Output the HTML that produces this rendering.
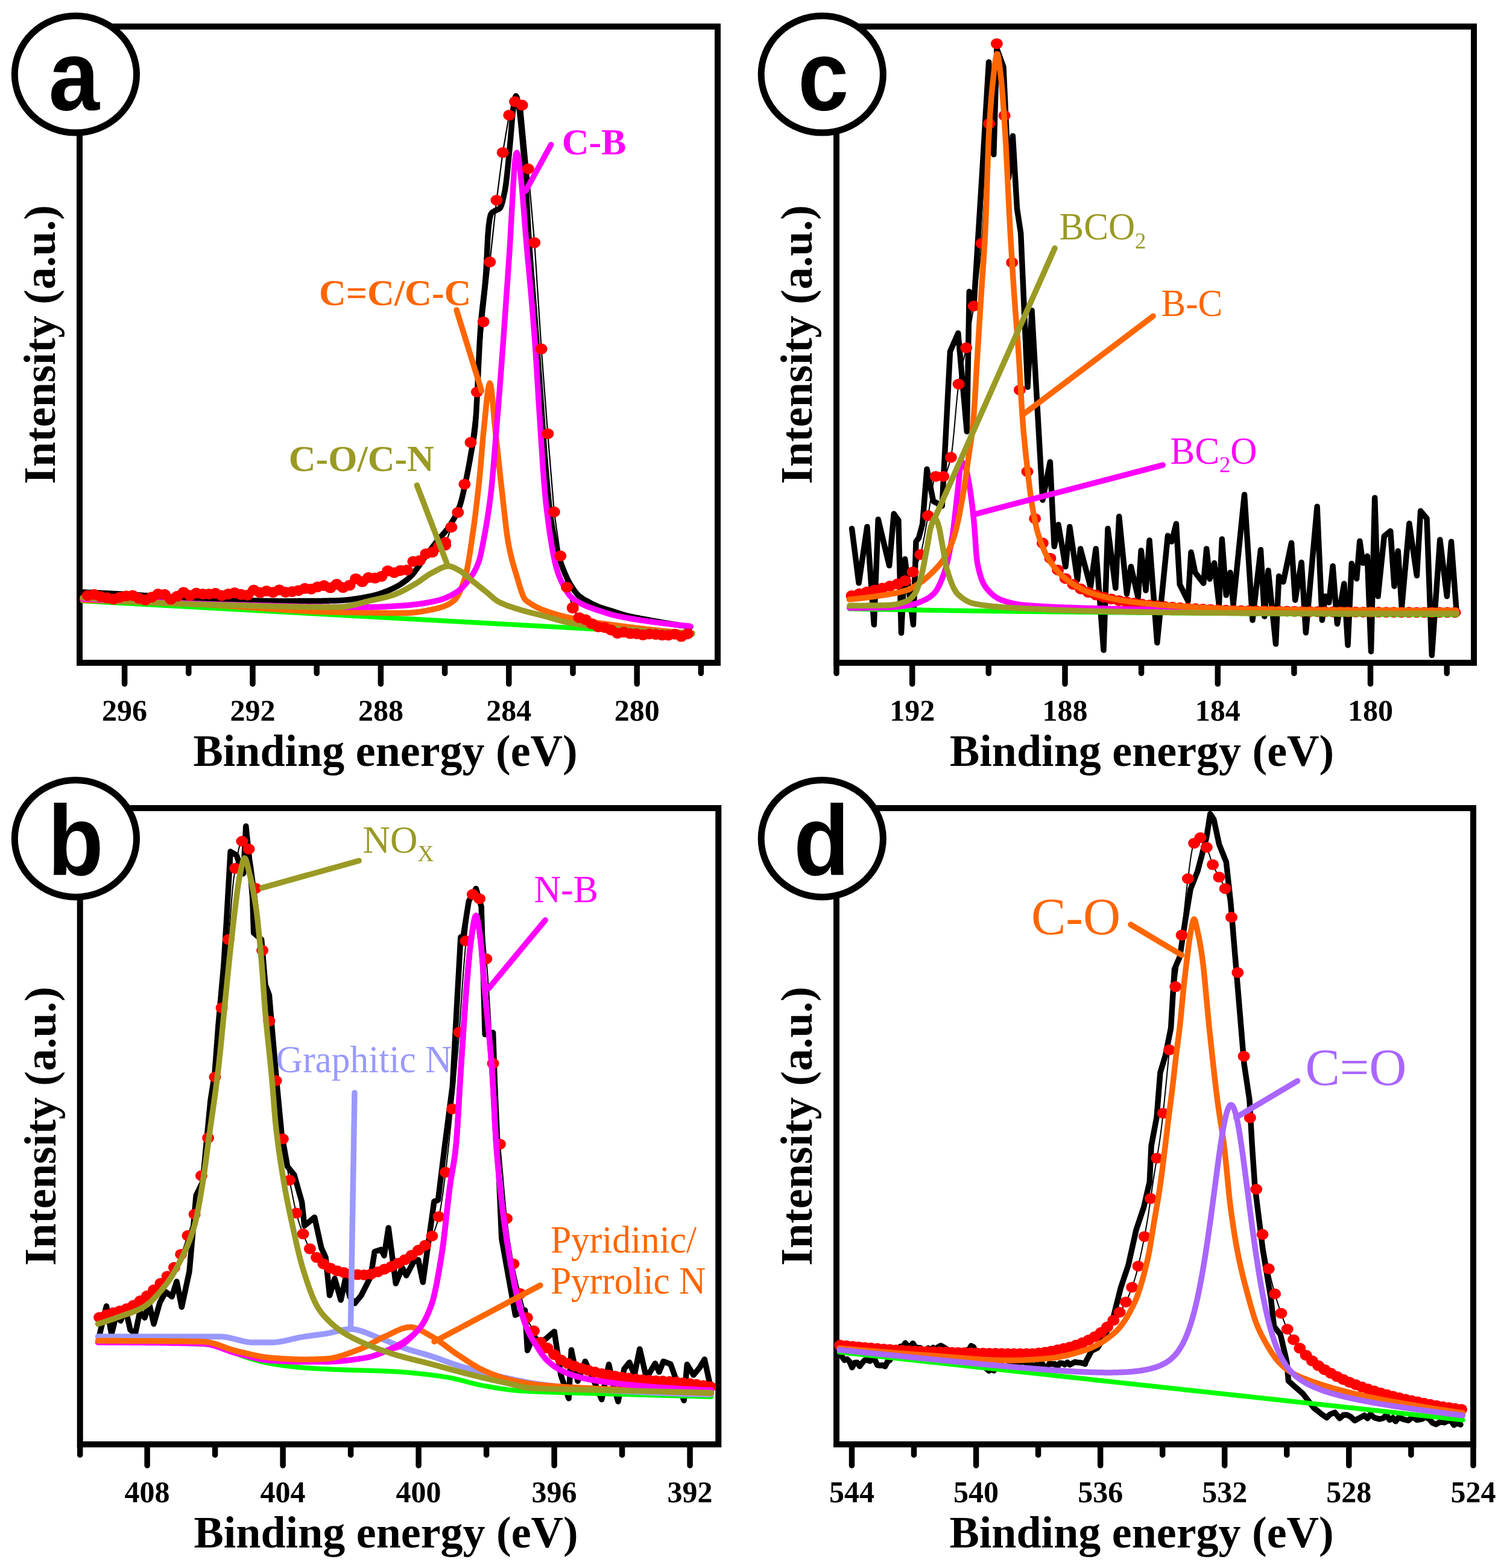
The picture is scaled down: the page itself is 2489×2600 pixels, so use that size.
<!DOCTYPE html>
<html><head><meta charset="utf-8"><title>XPS spectra</title>
<style>html,body{margin:0;padding:0;background:#fff;overflow:hidden;}svg{display:block;}</style>
</head><body>
<svg width="2489" height="2600" viewBox="0 0 2489 2600"><rect x="132" y="44" width="1058.0" height="1055" fill="none" stroke="#000" stroke-width="10"/>
<line x1="206.6" y1="1099" x2="206.6" y2="1134" stroke="#000" stroke-width="9.5" stroke-linecap="round"/>
<text x="206.6" y="1195" font-family="'Liberation Serif','Times New Roman',serif" font-weight="bold" font-size="50" text-anchor="middle">296</text>
<line x1="419.0" y1="1099" x2="419.0" y2="1134" stroke="#000" stroke-width="9.5" stroke-linecap="round"/>
<text x="419.0" y="1195" font-family="'Liberation Serif','Times New Roman',serif" font-weight="bold" font-size="50" text-anchor="middle">292</text>
<line x1="631.4" y1="1099" x2="631.4" y2="1134" stroke="#000" stroke-width="9.5" stroke-linecap="round"/>
<text x="631.4" y="1195" font-family="'Liberation Serif','Times New Roman',serif" font-weight="bold" font-size="50" text-anchor="middle">288</text>
<line x1="843.8" y1="1099" x2="843.8" y2="1134" stroke="#000" stroke-width="9.5" stroke-linecap="round"/>
<text x="843.8" y="1195" font-family="'Liberation Serif','Times New Roman',serif" font-weight="bold" font-size="50" text-anchor="middle">284</text>
<line x1="1056.2" y1="1099" x2="1056.2" y2="1134" stroke="#000" stroke-width="9.5" stroke-linecap="round"/>
<text x="1056.2" y="1195" font-family="'Liberation Serif','Times New Roman',serif" font-weight="bold" font-size="50" text-anchor="middle">280</text>
<line x1="312.8" y1="1099" x2="312.8" y2="1116.5" stroke="#000" stroke-width="9.5" stroke-linecap="round"/>
<line x1="525.2" y1="1099" x2="525.2" y2="1116.5" stroke="#000" stroke-width="9.5" stroke-linecap="round"/>
<line x1="737.6" y1="1099" x2="737.6" y2="1116.5" stroke="#000" stroke-width="9.5" stroke-linecap="round"/>
<line x1="950.0" y1="1099" x2="950.0" y2="1116.5" stroke="#000" stroke-width="9.5" stroke-linecap="round"/>
<line x1="1162.4" y1="1099" x2="1162.4" y2="1116.5" stroke="#000" stroke-width="9.5" stroke-linecap="round"/>
<text x="639.0" y="1270" font-family="'Liberation Serif','Times New Roman',serif" font-weight="bold" font-size="74" text-anchor="middle">Binding energy (eV)</text>
<text transform="translate(91.0,571.5) rotate(-90)" font-family="'Liberation Serif','Times New Roman',serif" font-weight="bold" font-size="74" text-anchor="middle">Intensity (a.u.)</text>
<rect x="1387" y="44" width="1057.0" height="1055" fill="none" stroke="#000" stroke-width="10"/>
<line x1="1512.7" y1="1099" x2="1512.7" y2="1134" stroke="#000" stroke-width="9.5" stroke-linecap="round"/>
<text x="1512.7" y="1195" font-family="'Liberation Serif','Times New Roman',serif" font-weight="bold" font-size="50" text-anchor="middle">192</text>
<line x1="1766.0" y1="1099" x2="1766.0" y2="1134" stroke="#000" stroke-width="9.5" stroke-linecap="round"/>
<text x="1766.0" y="1195" font-family="'Liberation Serif','Times New Roman',serif" font-weight="bold" font-size="50" text-anchor="middle">188</text>
<line x1="2019.3" y1="1099" x2="2019.3" y2="1134" stroke="#000" stroke-width="9.5" stroke-linecap="round"/>
<text x="2019.3" y="1195" font-family="'Liberation Serif','Times New Roman',serif" font-weight="bold" font-size="50" text-anchor="middle">184</text>
<line x1="2272.5" y1="1099" x2="2272.5" y2="1134" stroke="#000" stroke-width="9.5" stroke-linecap="round"/>
<text x="2272.5" y="1195" font-family="'Liberation Serif','Times New Roman',serif" font-weight="bold" font-size="50" text-anchor="middle">180</text>
<line x1="1387.0" y1="1099" x2="1387.0" y2="1116.5" stroke="#000" stroke-width="9.5" stroke-linecap="round"/>
<line x1="1639.3" y1="1099" x2="1639.3" y2="1116.5" stroke="#000" stroke-width="9.5" stroke-linecap="round"/>
<line x1="1892.6" y1="1099" x2="1892.6" y2="1116.5" stroke="#000" stroke-width="9.5" stroke-linecap="round"/>
<line x1="2145.9" y1="1099" x2="2145.9" y2="1116.5" stroke="#000" stroke-width="9.5" stroke-linecap="round"/>
<line x1="2399.2" y1="1099" x2="2399.2" y2="1116.5" stroke="#000" stroke-width="9.5" stroke-linecap="round"/>
<text x="1893.5" y="1270" font-family="'Liberation Serif','Times New Roman',serif" font-weight="bold" font-size="74" text-anchor="middle">Binding energy (eV)</text>
<text transform="translate(1346.0,571.5) rotate(-90)" font-family="'Liberation Serif','Times New Roman',serif" font-weight="bold" font-size="74" text-anchor="middle">Intensity (a.u.)</text>
<rect x="132.7" y="1340" width="1058.6" height="1055" fill="none" stroke="#000" stroke-width="10"/>
<line x1="244.1" y1="2395" x2="244.1" y2="2430" stroke="#000" stroke-width="9.5" stroke-linecap="round"/>
<text x="244.1" y="2491" font-family="'Liberation Serif','Times New Roman',serif" font-weight="bold" font-size="50" text-anchor="middle">408</text>
<line x1="469.1" y1="2395" x2="469.1" y2="2430" stroke="#000" stroke-width="9.5" stroke-linecap="round"/>
<text x="469.1" y="2491" font-family="'Liberation Serif','Times New Roman',serif" font-weight="bold" font-size="50" text-anchor="middle">404</text>
<line x1="694.1" y1="2395" x2="694.1" y2="2430" stroke="#000" stroke-width="9.5" stroke-linecap="round"/>
<text x="694.1" y="2491" font-family="'Liberation Serif','Times New Roman',serif" font-weight="bold" font-size="50" text-anchor="middle">400</text>
<line x1="919.1" y1="2395" x2="919.1" y2="2430" stroke="#000" stroke-width="9.5" stroke-linecap="round"/>
<text x="919.1" y="2491" font-family="'Liberation Serif','Times New Roman',serif" font-weight="bold" font-size="50" text-anchor="middle">396</text>
<line x1="1144.1" y1="2395" x2="1144.1" y2="2430" stroke="#000" stroke-width="9.5" stroke-linecap="round"/>
<text x="1144.1" y="2491" font-family="'Liberation Serif','Times New Roman',serif" font-weight="bold" font-size="50" text-anchor="middle">392</text>
<line x1="132.7" y1="2395" x2="132.7" y2="2412.5" stroke="#000" stroke-width="9.5" stroke-linecap="round"/>
<line x1="356.6" y1="2395" x2="356.6" y2="2412.5" stroke="#000" stroke-width="9.5" stroke-linecap="round"/>
<line x1="581.6" y1="2395" x2="581.6" y2="2412.5" stroke="#000" stroke-width="9.5" stroke-linecap="round"/>
<line x1="806.6" y1="2395" x2="806.6" y2="2412.5" stroke="#000" stroke-width="9.5" stroke-linecap="round"/>
<line x1="1031.6" y1="2395" x2="1031.6" y2="2412.5" stroke="#000" stroke-width="9.5" stroke-linecap="round"/>
<text x="640.0" y="2566" font-family="'Liberation Serif','Times New Roman',serif" font-weight="bold" font-size="74" text-anchor="middle">Binding energy (eV)</text>
<text transform="translate(91.7,1867.5) rotate(-90)" font-family="'Liberation Serif','Times New Roman',serif" font-weight="bold" font-size="74" text-anchor="middle">Intensity (a.u.)</text>
<rect x="1387" y="1340" width="1056.0" height="1055" fill="none" stroke="#000" stroke-width="10"/>
<line x1="1412.5" y1="2395" x2="1412.5" y2="2430" stroke="#000" stroke-width="9.5" stroke-linecap="round"/>
<text x="1412.5" y="2491" font-family="'Liberation Serif','Times New Roman',serif" font-weight="bold" font-size="50" text-anchor="middle">544</text>
<line x1="1618.6" y1="2395" x2="1618.6" y2="2430" stroke="#000" stroke-width="9.5" stroke-linecap="round"/>
<text x="1618.6" y="2491" font-family="'Liberation Serif','Times New Roman',serif" font-weight="bold" font-size="50" text-anchor="middle">540</text>
<line x1="1824.7" y1="2395" x2="1824.7" y2="2430" stroke="#000" stroke-width="9.5" stroke-linecap="round"/>
<text x="1824.7" y="2491" font-family="'Liberation Serif','Times New Roman',serif" font-weight="bold" font-size="50" text-anchor="middle">536</text>
<line x1="2030.7" y1="2395" x2="2030.7" y2="2430" stroke="#000" stroke-width="9.5" stroke-linecap="round"/>
<text x="2030.7" y="2491" font-family="'Liberation Serif','Times New Roman',serif" font-weight="bold" font-size="50" text-anchor="middle">532</text>
<line x1="2236.8" y1="2395" x2="2236.8" y2="2430" stroke="#000" stroke-width="9.5" stroke-linecap="round"/>
<text x="2236.8" y="2491" font-family="'Liberation Serif','Times New Roman',serif" font-weight="bold" font-size="50" text-anchor="middle">528</text>
<line x1="2443.0" y1="2395" x2="2443.0" y2="2430" stroke="#000" stroke-width="9.5" stroke-linecap="round"/>
<text x="2443.0" y="2491" font-family="'Liberation Serif','Times New Roman',serif" font-weight="bold" font-size="50" text-anchor="middle">524</text>
<line x1="1515.5" y1="2395" x2="1515.5" y2="2412.5" stroke="#000" stroke-width="9.5" stroke-linecap="round"/>
<line x1="1721.6" y1="2395" x2="1721.6" y2="2412.5" stroke="#000" stroke-width="9.5" stroke-linecap="round"/>
<line x1="1927.7" y1="2395" x2="1927.7" y2="2412.5" stroke="#000" stroke-width="9.5" stroke-linecap="round"/>
<line x1="2133.8" y1="2395" x2="2133.8" y2="2412.5" stroke="#000" stroke-width="9.5" stroke-linecap="round"/>
<line x1="2339.9" y1="2395" x2="2339.9" y2="2412.5" stroke="#000" stroke-width="9.5" stroke-linecap="round"/>
<text x="1893.0" y="2566" font-family="'Liberation Serif','Times New Roman',serif" font-weight="bold" font-size="74" text-anchor="middle">Binding energy (eV)</text>
<text transform="translate(1346.0,1867.5) rotate(-90)" font-family="'Liberation Serif','Times New Roman',serif" font-weight="bold" font-size="74" text-anchor="middle">Intensity (a.u.)</text>
<path d="M137.0,982.0 L138.5,982.1 L140.0,982.1 L141.5,982.2 L143.0,982.2 L144.5,982.3 L146.0,982.4 L147.5,982.4 L149.0,982.5 L150.5,982.6 L152.0,982.6 L153.5,982.7 L155.0,982.8 L156.5,982.8 L158.0,982.9 L159.5,983.0 L161.0,983.0 L162.5,983.1 L164.0,983.2 L165.5,983.3 L167.0,983.3 L168.5,983.4 L170.0,983.5 L171.5,983.5 L173.0,983.6 L174.5,983.7 L176.0,983.8 L177.5,983.8 L179.0,983.9 L180.5,984.0 L182.0,984.1 L183.5,984.1 L185.0,984.2 L186.5,984.3 L188.0,984.4 L189.5,984.4 L191.0,984.5 L192.5,984.6 L194.0,984.7 L195.5,984.8 L197.0,984.8 L198.5,984.9 L200.0,985.0 L201.5,985.1 L203.0,985.2 L204.5,985.2 L206.0,985.3 L207.5,985.4 L209.0,985.5 L210.5,985.6 L212.0,985.7 L213.5,985.8 L215.0,985.9 L216.5,986.0 L218.0,986.1 L219.5,986.1 L221.0,986.2 L222.5,986.3 L224.0,986.4 L225.5,986.5 L227.0,986.6 L228.5,986.7 L230.0,986.8 L231.5,986.9 L233.0,987.0 L234.5,987.1 L236.0,987.2 L237.5,987.3 L239.0,987.4 L240.5,987.5 L242.0,987.5 L243.5,987.6 L245.0,987.7 L246.5,987.8 L248.0,987.9 L249.5,988.0 L251.0,988.1 L252.5,988.1 L254.0,988.2 L255.5,988.3 L257.0,988.4 L258.5,988.5 L260.0,988.5 L261.5,988.6 L263.0,988.7 L264.5,988.8 L266.0,988.9 L267.5,988.9 L269.0,989.0 L270.5,989.1 L272.0,989.2 L273.5,989.3 L275.0,989.3 L276.5,989.4 L278.0,989.5 L279.5,989.6 L281.0,989.7 L282.5,989.7 L284.0,989.8 L285.5,989.9 L287.0,990.0 L288.5,990.0 L290.0,990.1 L291.5,990.2 L293.0,990.3 L294.5,990.3 L296.0,990.4 L297.5,990.5 L299.0,990.6 L300.5,990.6 L302.0,990.7 L303.5,990.8 L305.0,990.9 L306.5,990.9 L308.0,991.0 L309.5,991.1 L311.0,991.2 L312.5,991.2 L314.0,991.3 L315.5,991.4 L317.0,991.4 L318.5,991.5 L320.0,991.6 L321.5,991.7 L323.0,991.7 L324.5,991.8 L326.0,991.9 L327.5,991.9 L329.0,992.0 L330.5,992.1 L332.0,992.2 L333.5,992.2 L335.0,992.3 L336.5,992.4 L338.0,992.4 L339.5,992.5 L341.0,992.6 L342.5,992.7 L344.0,992.7 L345.5,992.8 L347.0,992.9 L348.5,992.9 L350.0,993.0 L351.5,993.1 L353.0,993.1 L354.5,993.2 L356.0,993.3 L357.5,993.4 L359.0,993.4 L360.5,993.5 L362.0,993.6 L363.5,993.7 L365.0,993.7 L366.5,993.8 L368.0,993.9 L369.5,994.0 L371.0,994.0 L372.5,994.1 L374.0,994.2 L375.5,994.3 L377.0,994.3 L378.5,994.4 L380.0,994.5 L381.5,994.6 L383.0,994.6 L384.5,994.7 L386.0,994.8 L387.5,994.8 L389.0,994.9 L390.5,995.0 L392.0,995.0 L393.5,995.1 L395.0,995.2 L396.5,995.2 L398.0,995.3 L399.5,995.4 L401.0,995.4 L402.5,995.5 L404.0,995.5 L405.5,995.6 L407.0,995.6 L408.5,995.7 L410.0,995.7 L411.5,995.8 L413.0,995.8 L414.5,995.9 L416.0,995.9 L417.5,995.9 L419.0,996.0 L420.5,996.0 L422.0,996.0 L423.5,996.1 L425.0,996.1 L426.5,996.1 L428.0,996.2 L429.5,996.2 L431.0,996.2 L432.5,996.3 L434.0,996.3 L435.5,996.3 L437.0,996.3 L438.5,996.4 L440.0,996.4 L441.5,996.4 L443.0,996.5 L444.5,996.5 L446.0,996.5 L447.5,996.5 L449.0,996.5 L450.5,996.6 L452.0,996.6 L453.5,996.6 L455.0,996.6 L456.5,996.6 L458.0,996.6 L459.5,996.7 L461.0,996.7 L462.5,996.7 L464.0,996.7 L465.5,996.7 L467.0,996.7 L468.5,996.7 L470.0,996.7 L471.5,996.7 L473.0,996.7 L474.5,996.7 L476.0,996.7 L477.5,996.7 L479.0,996.7 L480.5,996.7 L482.0,996.7 L483.5,996.7 L485.0,996.7 L486.5,996.7 L488.0,996.7 L489.5,996.7 L491.0,996.7 L492.5,996.7 L494.0,996.6 L495.5,996.6 L497.0,996.6 L498.5,996.6 L500.0,996.6 L501.5,996.6 L503.0,996.6 L504.5,996.6 L506.0,996.6 L507.5,996.6 L509.0,996.6 L510.5,996.6 L512.0,996.6 L513.5,996.5 L515.0,996.5 L516.5,996.5 L518.0,996.5 L519.5,996.5 L521.0,996.5 L522.5,996.5 L524.0,996.5 L525.5,996.5 L527.0,996.4 L528.5,996.4 L530.0,996.4 L531.5,996.4 L533.0,996.4 L534.5,996.4 L536.0,996.3 L537.5,996.3 L539.0,996.3 L540.5,996.3 L542.0,996.2 L543.5,996.2 L545.0,996.2 L546.5,996.1 L548.0,996.1 L549.5,996.1 L551.0,996.0 L552.5,996.0 L554.0,996.0 L555.5,995.9 L557.0,995.9 L558.5,995.8 L560.0,995.8 L561.5,995.7 L563.0,995.7 L564.5,995.6 L566.0,995.5 L567.5,995.4 L569.0,995.3 L570.5,995.2 L572.0,995.1 L573.5,995.0 L575.0,994.8 L576.5,994.7 L578.0,994.5 L579.5,994.3 L581.0,994.1 L582.5,993.9 L584.0,993.8 L585.5,993.5 L587.0,993.3 L588.5,993.1 L590.0,992.9 L591.5,992.7 L593.0,992.4 L594.5,992.2 L596.0,991.9 L597.5,991.7 L599.0,991.4 L600.5,991.2 L602.0,990.9 L603.5,990.6 L605.0,990.3 L606.5,990.1 L608.0,989.8 L609.5,989.5 L611.0,989.2 L612.5,988.9 L614.0,988.6 L615.5,988.3 L617.0,988.0 L618.5,987.6 L620.0,987.3 L621.5,986.9 L623.0,986.5 L624.5,986.1 L626.0,985.7 L627.5,985.2 L629.0,984.7 L630.5,984.2 L632.0,983.7 L633.5,983.2 L635.0,982.7 L636.5,982.1 L638.0,981.6 L639.5,981.0 L641.0,980.4 L642.5,979.8 L644.0,979.1 L645.5,978.5 L647.0,977.9 L648.5,977.2 L650.0,976.5 L651.5,975.8 L653.0,975.1 L654.5,974.4 L656.0,973.6 L657.5,972.8 L659.0,972.0 L660.5,971.1 L662.0,970.2 L663.5,969.3 L665.0,968.3 L666.5,967.3 L668.0,966.3 L669.5,965.2 L671.0,964.1 L672.5,963.0 L674.0,961.8 L675.5,960.6 L677.0,959.3 L678.5,958.0 L680.0,956.7 L681.5,955.2 L683.0,953.6 L684.5,951.9 L686.0,950.1 L687.5,948.2 L689.0,946.2 L690.5,944.1 L692.0,942.0 L693.5,939.9 L695.0,937.7 L696.5,935.5 L698.0,933.3 L699.5,931.1 L701.0,928.9 L702.5,926.7 L704.0,924.6 L705.5,922.5 L707.0,920.5 L708.5,918.5 L710.0,916.5 L711.5,914.5 L713.0,912.6 L714.5,910.6 L716.0,908.6 L717.5,906.6 L719.0,904.7 L720.5,902.7 L722.0,900.8 L723.5,898.9 L725.0,897.0 L726.5,895.1 L728.0,893.3 L729.5,891.6 L731.0,889.9 L732.5,888.3 L734.0,886.6 L735.5,884.9 L737.0,883.2 L738.5,881.4 L740.0,879.6 L741.5,877.6 L743.0,875.5 L744.5,873.3 L746.0,871.1 L747.5,868.8 L749.0,866.4 L750.5,864.0 L752.0,861.4 L753.5,858.7 L755.0,855.9 L756.5,852.8 L758.0,849.6 L759.5,846.2 L761.0,842.5 L762.5,838.5 L764.0,833.8 L765.5,828.2 L767.0,822.1 L768.5,815.6 L770.0,808.8 L771.5,802.0 L773.0,795.0 L774.5,787.6 L776.0,779.9 L777.5,771.8 L779.0,763.6 L780.5,755.1 L782.0,746.9 L783.5,738.9 L785.0,730.3 L786.5,720.0 L788.0,707.3 L789.5,687.2 L791.0,659.5 L792.5,627.8 L794.0,595.2 L795.5,565.3 L797.0,541.3 L798.5,523.9 L800.0,509.6 L801.5,496.8 L803.0,483.7 L804.5,468.8 L806.0,449.9 L807.5,420.5 L809.0,390.0 L810.5,373.0 L812.0,362.8 L813.5,356.1 L815.0,353.5 L816.5,352.0 L818.0,351.0 L819.5,350.3 L821.0,349.5 L822.5,348.7 L824.0,348.1 L825.5,347.5 L827.0,346.8 L828.5,345.8 L830.0,343.7 L831.5,340.1 L833.0,335.1 L834.5,329.1 L836.0,322.3 L837.5,314.9 L839.0,305.0 L840.5,292.4 L842.0,278.0 L843.5,262.6 L845.0,247.1 L846.5,231.3 L848.0,212.8 L849.5,194.3 L851.0,179.8 L852.5,170.2 L854.0,162.3 L855.5,159.0 L857.0,161.3 L858.5,167.1 L860.0,174.3 L861.5,184.0 L863.0,197.5 L864.5,213.0 L866.0,228.9 L867.5,245.7 L869.0,264.1 L870.5,284.2 L872.0,306.2 L873.5,332.5 L875.0,360.6 L876.5,387.4 L878.0,410.4 L879.5,431.4 L881.0,451.2 L882.5,470.3 L884.0,489.3 L885.5,508.7 L887.0,528.6 L888.5,548.4 L890.0,568.2 L891.5,588.0 L893.0,608.1 L894.5,628.4 L896.0,649.6 L897.5,671.6 L899.0,693.9 L900.5,716.0 L902.0,737.3 L903.5,757.3 L905.0,775.7 L906.5,793.0 L908.0,809.8 L909.5,825.7 L911.0,840.2 L912.5,852.8 L914.0,863.3 L915.5,872.6 L917.0,881.2 L918.5,889.0 L920.0,896.2 L921.5,902.9 L923.0,909.0 L924.5,914.8 L926.0,920.2 L927.5,925.3 L929.0,930.0 L930.5,934.5 L932.0,938.7 L933.5,942.7 L935.0,946.5 L936.5,950.1 L938.0,953.5 L939.5,956.9 L941.0,960.0 L942.5,963.0 L944.0,965.9 L945.5,968.5 L947.0,971.0 L948.5,973.4 L950.0,975.7 L951.5,977.9 L953.0,980.0 L954.5,982.0 L956.0,983.9 L957.5,985.6 L959.0,987.1 L960.5,988.4 L962.0,989.6 L963.5,990.7 L965.0,991.8 L966.5,992.8 L968.0,993.7 L969.5,994.6 L971.0,995.4 L972.5,996.2 L974.0,997.0 L975.5,997.8 L977.0,998.6 L978.5,999.4 L980.0,1000.2 L981.5,1000.9 L983.0,1001.7 L984.5,1002.4 L986.0,1003.1 L987.5,1003.8 L989.0,1004.5 L990.5,1005.2 L992.0,1005.8 L993.5,1006.4 L995.0,1007.0 L996.5,1007.5 L998.0,1008.1 L999.5,1008.6 L1001.0,1009.0 L1002.5,1009.5 L1004.0,1010.0 L1005.5,1010.4 L1007.0,1010.8 L1008.5,1011.3 L1010.0,1011.7 L1011.5,1012.2 L1013.0,1012.6 L1014.5,1013.1 L1016.0,1013.5 L1017.5,1014.0 L1019.0,1014.5 L1020.5,1015.0 L1022.0,1015.5 L1023.5,1016.0 L1025.0,1016.5 L1026.5,1017.0 L1028.0,1017.5 L1029.5,1018.0 L1031.0,1018.5 L1032.5,1018.9 L1034.0,1019.4 L1035.5,1019.8 L1037.0,1020.2 L1038.5,1020.6 L1040.0,1021.0 L1041.5,1021.4 L1043.0,1021.7 L1044.5,1022.0 L1046.0,1022.4 L1047.5,1022.7 L1049.0,1023.0 L1050.5,1023.3 L1052.0,1023.6 L1053.5,1023.9 L1055.0,1024.2 L1056.5,1024.5 L1058.0,1024.7 L1059.5,1025.0 L1061.0,1025.3 L1062.5,1025.6 L1064.0,1025.8 L1065.5,1026.1 L1067.0,1026.4 L1068.5,1026.6 L1070.0,1026.9 L1071.5,1027.2 L1073.0,1027.5 L1074.5,1027.8 L1076.0,1028.0 L1077.5,1028.3 L1079.0,1028.6 L1080.5,1028.9 L1082.0,1029.1 L1083.5,1029.4 L1085.0,1029.7 L1086.5,1030.0 L1088.0,1030.2 L1089.5,1030.5 L1091.0,1030.8 L1092.5,1031.0 L1094.0,1031.3 L1095.5,1031.5 L1097.0,1031.8 L1098.5,1032.1 L1100.0,1032.3 L1101.5,1032.6 L1103.0,1032.8 L1104.5,1033.1 L1106.0,1033.3 L1107.5,1033.6 L1109.0,1033.8 L1110.5,1034.1 L1112.0,1034.3 L1113.5,1034.6 L1115.0,1034.8 L1116.5,1035.1 L1118.0,1035.3 L1119.5,1035.5 L1121.0,1035.8 L1122.5,1036.0 L1124.0,1036.3 L1125.5,1036.5 L1127.0,1036.7 L1128.5,1037.0 L1130.0,1037.2 L1131.5,1037.4 L1133.0,1037.6 L1134.5,1037.9 L1136.0,1038.1 L1137.5,1038.3 L1139.0,1038.5 L1140.5,1038.8 L1142.0,1039.0 L1143.5,1039.2 L1145.0,1039.4" fill="none" stroke="#000" stroke-width="9.5" stroke-linejoin="round" stroke-linecap="round"/>
<path d="M145.7,987.4 L156.3,985.8 L166.9,989.2 L177.5,991.3 L188.0,993.6 L198.6,990.4 L209.2,988.2 L219.8,987.4 L230.4,992.1 L240.9,994.8 L251.5,990.2 L262.1,985.1 L272.7,985.7 L283.3,993.6 L293.8,988.8 L304.4,982.3 L315.0,987.3 L325.6,983.5 L336.2,984.9 L346.7,984.9 L357.3,983.8 L367.9,987.4 L378.5,985.1 L389.1,983.0 L399.6,985.8 L410.2,986.7 L420.8,978.5 L431.4,982.6 L442.0,979.9 L452.5,982.2 L463.1,978.2 L473.7,981.9 L484.3,981.0 L494.9,979.2 L505.4,975.8 L516.0,976.7 L526.6,973.2 L537.2,971.0 L547.8,974.6 L558.3,968.8 L568.9,974.2 L579.5,970.6 L590.1,959.7 L600.7,964.6 L611.2,957.7 L621.8,958.6 L632.4,955.8 L643.0,946.6 L653.6,949.4 L664.1,945.9 L674.7,945.2 L685.3,930.9 L695.9,929.5 L706.5,918.2 L717.0,915.6 L727.6,906.5 L738.2,899.3 L738.2,903.9 L748.3,874.2 L759.3,849.7 L770.4,802.9 L780.5,733.6 L790.9,650.0 L801.7,533.7 L812.3,434.3 L823.4,332.0 L833.7,252.9 L844.3,190.9 L854.0,168.6 L865.7,174.3 L875.7,280.0 L886.3,402.3 L897.7,578.6 L908.3,719.2 L918.9,848.8 L929.3,921.8 L940.0,973.7 L949.8,1007.3 L949.8,1008.4 L960.4,1024.2 L971.0,1027.5 L981.5,1034.3 L992.1,1039.5 L1002.7,1040.5 L1013.3,1044.7 L1023.9,1049.9 L1034.4,1048.1 L1045.0,1050.6 L1055.6,1051.0 L1066.2,1052.8 L1076.8,1051.2 L1087.3,1052.0 L1097.9,1053.1 L1108.5,1053.2 L1119.1,1051.6 L1129.7,1055.3 L1140.2,1051.0" fill="none" stroke="#000" stroke-width="2.2"/>
<path d="M137.0,996.4 L138.5,996.5 L140.0,996.6 L141.5,996.7 L143.0,996.8 L144.5,996.8 L146.0,996.9 L147.5,997.0 L149.0,997.1 L150.5,997.2 L152.0,997.3 L153.5,997.3 L155.0,997.4 L156.5,997.5 L158.0,997.6 L159.5,997.7 L161.0,997.8 L162.5,997.8 L164.0,997.9 L165.5,998.0 L167.0,998.1 L168.5,998.2 L170.0,998.2 L171.5,998.3 L173.0,998.4 L174.5,998.5 L176.0,998.6 L177.5,998.7 L179.0,998.7 L180.5,998.8 L182.0,998.9 L183.5,999.0 L185.0,999.1 L186.5,999.2 L188.0,999.2 L189.5,999.3 L191.0,999.4 L192.5,999.5 L194.0,999.6 L195.5,999.7 L197.0,999.7 L198.5,999.8 L200.0,999.9 L201.5,1000.0 L203.0,1000.1 L204.5,1000.1 L206.0,1000.2 L207.5,1000.3 L209.0,1000.4 L210.5,1000.5 L212.0,1000.6 L213.5,1000.6 L215.0,1000.7 L216.5,1000.8 L218.0,1000.9 L219.5,1001.0 L221.0,1001.1 L222.5,1001.1 L224.0,1001.2 L225.5,1001.3 L227.0,1001.4 L228.5,1001.5 L230.0,1001.6 L231.5,1001.6 L233.0,1001.7 L234.5,1001.8 L236.0,1001.9 L237.5,1002.0 L239.0,1002.0 L240.5,1002.1 L242.0,1002.2 L243.5,1002.3 L245.0,1002.4 L246.5,1002.5 L248.0,1002.5 L249.5,1002.6 L251.0,1002.7 L252.5,1002.8 L254.0,1002.9 L255.5,1003.0 L257.0,1003.0 L258.5,1003.1 L260.0,1003.2 L261.5,1003.3 L263.0,1003.4 L264.5,1003.4 L266.0,1003.5 L267.5,1003.6 L269.0,1003.7 L270.5,1003.8 L272.0,1003.9 L273.5,1003.9 L275.0,1004.0 L276.5,1004.1 L278.0,1004.2 L279.5,1004.3 L281.0,1004.4 L282.5,1004.4 L284.0,1004.5 L285.5,1004.6 L287.0,1004.7 L288.5,1004.8 L290.0,1004.9 L291.5,1004.9 L293.0,1005.0 L294.5,1005.1 L296.0,1005.2 L297.5,1005.3 L299.0,1005.3 L300.5,1005.4 L302.0,1005.5 L303.5,1005.6 L305.0,1005.7 L306.5,1005.8 L308.0,1005.8 L309.5,1005.9 L311.0,1006.0 L312.5,1006.1 L314.0,1006.2 L315.5,1006.3 L317.0,1006.3 L318.5,1006.4 L320.0,1006.5 L321.5,1006.6 L323.0,1006.7 L324.5,1006.7 L326.0,1006.8 L327.5,1006.9 L329.0,1007.0 L330.5,1007.1 L332.0,1007.2 L333.5,1007.2 L335.0,1007.3 L336.5,1007.4 L338.0,1007.5 L339.5,1007.6 L341.0,1007.7 L342.5,1007.7 L344.0,1007.8 L345.5,1007.9 L347.0,1008.0 L348.5,1008.1 L350.0,1008.2 L351.5,1008.2 L353.0,1008.3 L354.5,1008.4 L356.0,1008.5 L357.5,1008.6 L359.0,1008.6 L360.5,1008.7 L362.0,1008.8 L363.5,1008.9 L365.0,1009.0 L366.5,1009.1 L368.0,1009.1 L369.5,1009.2 L371.0,1009.3 L372.5,1009.4 L374.0,1009.5 L375.5,1009.6 L377.0,1009.6 L378.5,1009.7 L380.0,1009.8 L381.5,1009.9 L383.0,1010.0 L384.5,1010.0 L386.0,1010.1 L387.5,1010.2 L389.0,1010.3 L390.5,1010.4 L392.0,1010.5 L393.5,1010.5 L395.0,1010.6 L396.5,1010.7 L398.0,1010.8 L399.5,1010.9 L401.0,1011.0 L402.5,1011.0 L404.0,1011.1 L405.5,1011.2 L407.0,1011.3 L408.5,1011.4 L410.0,1011.5 L411.5,1011.5 L413.0,1011.6 L414.5,1011.7 L416.0,1011.8 L417.5,1011.9 L419.0,1011.9 L420.5,1012.0 L422.0,1012.1 L423.5,1012.2 L425.0,1012.3 L426.5,1012.4 L428.0,1012.4 L429.5,1012.5 L431.0,1012.6 L432.5,1012.7 L434.0,1012.8 L435.5,1012.9 L437.0,1012.9 L438.5,1013.0 L440.0,1013.1 L441.5,1013.2 L443.0,1013.3 L444.5,1013.3 L446.0,1013.4 L447.5,1013.5 L449.0,1013.6 L450.5,1013.7 L452.0,1013.8 L453.5,1013.8 L455.0,1013.9 L456.5,1014.0 L458.0,1014.1 L459.5,1014.2 L461.0,1014.3 L462.5,1014.3 L464.0,1014.4 L465.5,1014.5 L467.0,1014.6 L468.5,1014.7 L470.0,1014.8 L471.5,1014.8 L473.0,1014.9 L474.5,1015.0 L476.0,1015.1 L477.5,1015.2 L479.0,1015.2 L480.5,1015.3 L482.0,1015.4 L483.5,1015.5 L485.0,1015.6 L486.5,1015.7 L488.0,1015.7 L489.5,1015.8 L491.0,1015.9 L492.5,1016.0 L494.0,1016.1 L495.5,1016.2 L497.0,1016.2 L498.5,1016.3 L500.0,1016.4 L501.5,1016.5 L503.0,1016.6 L504.5,1016.6 L506.0,1016.7 L507.5,1016.8 L509.0,1016.9 L510.5,1017.0 L512.0,1017.1 L513.5,1017.1 L515.0,1017.2 L516.5,1017.3 L518.0,1017.4 L519.5,1017.5 L521.0,1017.6 L522.5,1017.6 L524.0,1017.7 L525.5,1017.8 L527.0,1017.9 L528.5,1018.0 L530.0,1018.1 L531.5,1018.1 L533.0,1018.2 L534.5,1018.3 L536.0,1018.4 L537.5,1018.5 L539.0,1018.5 L540.5,1018.6 L542.0,1018.7 L543.5,1018.8 L545.0,1018.9 L546.5,1019.0 L548.0,1019.0 L549.5,1019.1 L551.0,1019.2 L552.5,1019.3 L554.0,1019.4 L555.5,1019.5 L557.0,1019.5 L558.5,1019.6 L560.0,1019.7 L561.5,1019.8 L563.0,1019.9 L564.5,1019.9 L566.0,1020.0 L567.5,1020.1 L569.0,1020.2 L570.5,1020.3 L572.0,1020.4 L573.5,1020.4 L575.0,1020.5 L576.5,1020.6 L578.0,1020.7 L579.5,1020.8 L581.0,1020.9 L582.5,1020.9 L584.0,1021.0 L585.5,1021.1 L587.0,1021.2 L588.5,1021.3 L590.0,1021.4 L591.5,1021.4 L593.0,1021.5 L594.5,1021.6 L596.0,1021.7 L597.5,1021.8 L599.0,1021.8 L600.5,1021.9 L602.0,1022.0 L603.5,1022.1 L605.0,1022.2 L606.5,1022.3 L608.0,1022.3 L609.5,1022.4 L611.0,1022.5 L612.5,1022.6 L614.0,1022.7 L615.5,1022.8 L617.0,1022.8 L618.5,1022.9 L620.0,1023.0 L621.5,1023.1 L623.0,1023.2 L624.5,1023.2 L626.0,1023.3 L627.5,1023.4 L629.0,1023.5 L630.5,1023.6 L632.0,1023.7 L633.5,1023.7 L635.0,1023.8 L636.5,1023.9 L638.0,1024.0 L639.5,1024.1 L641.0,1024.2 L642.5,1024.2 L644.0,1024.3 L645.5,1024.4 L647.0,1024.5 L648.5,1024.6 L650.0,1024.7 L651.5,1024.7 L653.0,1024.8 L654.5,1024.9 L656.0,1025.0 L657.5,1025.1 L659.0,1025.1 L660.5,1025.2 L662.0,1025.3 L663.5,1025.4 L665.0,1025.5 L666.5,1025.6 L668.0,1025.6 L669.5,1025.7 L671.0,1025.8 L672.5,1025.9 L674.0,1026.0 L675.5,1026.1 L677.0,1026.1 L678.5,1026.2 L680.0,1026.3 L681.5,1026.4 L683.0,1026.5 L684.5,1026.5 L686.0,1026.6 L687.5,1026.7 L689.0,1026.8 L690.5,1026.9 L692.0,1027.0 L693.5,1027.0 L695.0,1027.1 L696.5,1027.2 L698.0,1027.3 L699.5,1027.4 L701.0,1027.5 L702.5,1027.5 L704.0,1027.6 L705.5,1027.7 L707.0,1027.8 L708.5,1027.9 L710.0,1028.0 L711.5,1028.0 L713.0,1028.1 L714.5,1028.2 L716.0,1028.3 L717.5,1028.4 L719.0,1028.4 L720.5,1028.5 L722.0,1028.6 L723.5,1028.7 L725.0,1028.8 L726.5,1028.9 L728.0,1028.9 L729.5,1029.0 L731.0,1029.1 L732.5,1029.2 L734.0,1029.3 L735.5,1029.4 L737.0,1029.4 L738.5,1029.5 L740.0,1029.6 L741.5,1029.7 L743.0,1029.8 L744.5,1029.8 L746.0,1029.9 L747.5,1030.0 L749.0,1030.1 L750.5,1030.2 L752.0,1030.3 L753.5,1030.3 L755.0,1030.4 L756.5,1030.5 L758.0,1030.6 L759.5,1030.7 L761.0,1030.8 L762.5,1030.8 L764.0,1030.9 L765.5,1031.0 L767.0,1031.1 L768.5,1031.2 L770.0,1031.2 L771.5,1031.3 L773.0,1031.4 L774.5,1031.5 L776.0,1031.6 L777.5,1031.7 L779.0,1031.7 L780.5,1031.8 L782.0,1031.9 L783.5,1032.0 L785.0,1032.1 L786.5,1032.2 L788.0,1032.2 L789.5,1032.3 L791.0,1032.4 L792.5,1032.5 L794.0,1032.6 L795.5,1032.7 L797.0,1032.7 L798.5,1032.8 L800.0,1032.9 L801.5,1033.0 L803.0,1033.1 L804.5,1033.1 L806.0,1033.2 L807.5,1033.3 L809.0,1033.4 L810.5,1033.5 L812.0,1033.6 L813.5,1033.6 L815.0,1033.7 L816.5,1033.8 L818.0,1033.9 L819.5,1034.0 L821.0,1034.1 L822.5,1034.1 L824.0,1034.2 L825.5,1034.3 L827.0,1034.4 L828.5,1034.5 L830.0,1034.5 L831.5,1034.6 L833.0,1034.7 L834.5,1034.8 L836.0,1034.9 L837.5,1035.0 L839.0,1035.0 L840.5,1035.1 L842.0,1035.2 L843.5,1035.3 L845.0,1035.4 L846.5,1035.5 L848.0,1035.5 L849.5,1035.6 L851.0,1035.7 L852.5,1035.8 L854.0,1035.9 L855.5,1036.0 L857.0,1036.0 L858.5,1036.1 L860.0,1036.2 L861.5,1036.3 L863.0,1036.4 L864.5,1036.4 L866.0,1036.5 L867.5,1036.6 L869.0,1036.7 L870.5,1036.8 L872.0,1036.9 L873.5,1036.9 L875.0,1037.0 L876.5,1037.1 L878.0,1037.2 L879.5,1037.3 L881.0,1037.4 L882.5,1037.4 L884.0,1037.5 L885.5,1037.6 L887.0,1037.7 L888.5,1037.8 L890.0,1037.8 L891.5,1037.9 L893.0,1038.0 L894.5,1038.1 L896.0,1038.2 L897.5,1038.3 L899.0,1038.3 L900.5,1038.4 L902.0,1038.5 L903.5,1038.6 L905.0,1038.7 L906.5,1038.8 L908.0,1038.8 L909.5,1038.9 L911.0,1039.0 L912.5,1039.1 L914.0,1039.2 L915.5,1039.3 L917.0,1039.3 L918.5,1039.4 L920.0,1039.5 L921.5,1039.6 L923.0,1039.7 L924.5,1039.7 L926.0,1039.8 L927.5,1039.9 L929.0,1040.0 L930.5,1040.1 L932.0,1040.2 L933.5,1040.2 L935.0,1040.3 L936.5,1040.4 L938.0,1040.5 L939.5,1040.6 L941.0,1040.7 L942.5,1040.7 L944.0,1040.8 L945.5,1040.9 L947.0,1041.0 L948.5,1041.1 L950.0,1041.2 L951.5,1041.2 L953.0,1041.3 L954.5,1041.4 L956.0,1041.5 L957.5,1041.6 L959.0,1041.6 L960.5,1041.7 L962.0,1041.8 L963.5,1041.9 L965.0,1042.0 L966.5,1042.1 L968.0,1042.1 L969.5,1042.2 L971.0,1042.3 L972.5,1042.4 L974.0,1042.5 L975.5,1042.6 L977.0,1042.6 L978.5,1042.7 L980.0,1042.8 L981.5,1042.9 L983.0,1043.0 L984.5,1043.0 L986.0,1043.1 L987.5,1043.2 L989.0,1043.3 L990.5,1043.4 L992.0,1043.5 L993.5,1043.5 L995.0,1043.6 L996.5,1043.7 L998.0,1043.8 L999.5,1043.9 L1001.0,1044.0 L1002.5,1044.0 L1004.0,1044.1 L1005.5,1044.2 L1007.0,1044.3 L1008.5,1044.4 L1010.0,1044.5 L1011.5,1044.5 L1013.0,1044.6 L1014.5,1044.7 L1016.0,1044.8 L1017.5,1044.9 L1019.0,1044.9 L1020.5,1045.0 L1022.0,1045.1 L1023.5,1045.2 L1025.0,1045.3 L1026.5,1045.4 L1028.0,1045.4 L1029.5,1045.5 L1031.0,1045.6 L1032.5,1045.7 L1034.0,1045.8 L1035.5,1045.9 L1037.0,1045.9 L1038.5,1046.0 L1040.0,1046.1 L1041.5,1046.2 L1043.0,1046.3 L1044.5,1046.3 L1046.0,1046.4 L1047.5,1046.5 L1049.0,1046.6 L1050.5,1046.7 L1052.0,1046.8 L1053.5,1046.8 L1055.0,1046.9 L1056.5,1047.0 L1058.0,1047.1 L1059.5,1047.2 L1061.0,1047.3 L1062.5,1047.3 L1064.0,1047.4 L1065.5,1047.5 L1067.0,1047.6 L1068.5,1047.7 L1070.0,1047.8 L1071.5,1047.8 L1073.0,1047.9 L1074.5,1048.0 L1076.0,1048.1 L1077.5,1048.2 L1079.0,1048.2 L1080.5,1048.3 L1082.0,1048.4 L1083.5,1048.5 L1085.0,1048.6 L1086.5,1048.7 L1088.0,1048.7 L1089.5,1048.8 L1091.0,1048.9 L1092.5,1049.0 L1094.0,1049.1 L1095.5,1049.2 L1097.0,1049.2 L1098.5,1049.3 L1100.0,1049.4 L1101.5,1049.5 L1103.0,1049.6 L1104.5,1049.6 L1106.0,1049.7 L1107.5,1049.8 L1109.0,1049.9 L1110.5,1050.0 L1112.0,1050.1 L1113.5,1050.1 L1115.0,1050.2 L1116.5,1050.3 L1118.0,1050.4 L1119.5,1050.5 L1121.0,1050.6 L1122.5,1050.6 L1124.0,1050.7 L1125.5,1050.8 L1127.0,1050.9 L1128.5,1051.0 L1130.0,1051.0 L1131.5,1051.1 L1133.0,1051.2 L1134.5,1051.3 L1136.0,1051.4 L1137.5,1051.5 L1139.0,1051.5 L1140.5,1051.6 L1142.0,1051.7 L1143.5,1051.8 L1145.0,1051.9 L1146.5,1052.0 L1148.0,1052.0" fill="none" stroke="#00FF00" stroke-width="8" stroke-linejoin="round" stroke-linecap="round"/>
<path d="M137.0,995.0 L138.5,995.0 L140.0,995.1 L141.5,995.1 L143.0,995.2 L144.5,995.2 L146.0,995.2 L147.5,995.3 L149.0,995.3 L150.5,995.4 L152.0,995.4 L153.5,995.4 L155.0,995.5 L156.5,995.5 L158.0,995.6 L159.5,995.6 L161.0,995.7 L162.5,995.7 L164.0,995.8 L165.5,995.8 L167.0,995.8 L168.5,995.9 L170.0,995.9 L171.5,996.0 L173.0,996.0 L174.5,996.1 L176.0,996.1 L177.5,996.2 L179.0,996.2 L180.5,996.3 L182.0,996.3 L183.5,996.3 L185.0,996.4 L186.5,996.4 L188.0,996.5 L189.5,996.5 L191.0,996.6 L192.5,996.6 L194.0,996.7 L195.5,996.7 L197.0,996.8 L198.5,996.8 L200.0,996.9 L201.5,996.9 L203.0,997.0 L204.5,997.0 L206.0,997.1 L207.5,997.1 L209.0,997.2 L210.5,997.2 L212.0,997.3 L213.5,997.3 L215.0,997.4 L216.5,997.5 L218.0,997.5 L219.5,997.6 L221.0,997.6 L222.5,997.7 L224.0,997.7 L225.5,997.8 L227.0,997.8 L228.5,997.9 L230.0,997.9 L231.5,998.0 L233.0,998.0 L234.5,998.1 L236.0,998.2 L237.5,998.2 L239.0,998.3 L240.5,998.3 L242.0,998.4 L243.5,998.4 L245.0,998.5 L246.5,998.5 L248.0,998.6 L249.5,998.7 L251.0,998.7 L252.5,998.8 L254.0,998.8 L255.5,998.9 L257.0,999.0 L258.5,999.0 L260.0,999.1 L261.5,999.1 L263.0,999.2 L264.5,999.2 L266.0,999.3 L267.5,999.4 L269.0,999.4 L270.5,999.5 L272.0,999.5 L273.5,999.6 L275.0,999.7 L276.5,999.7 L278.0,999.8 L279.5,999.8 L281.0,999.9 L282.5,1000.0 L284.0,1000.0 L285.5,1000.1 L287.0,1000.2 L288.5,1000.2 L290.0,1000.3 L291.5,1000.3 L293.0,1000.4 L294.5,1000.5 L296.0,1000.5 L297.5,1000.6 L299.0,1000.7 L300.5,1000.7 L302.0,1000.8 L303.5,1000.8 L305.0,1000.9 L306.5,1001.0 L308.0,1001.0 L309.5,1001.1 L311.0,1001.2 L312.5,1001.2 L314.0,1001.3 L315.5,1001.4 L317.0,1001.4 L318.5,1001.5 L320.0,1001.6 L321.5,1001.6 L323.0,1001.7 L324.5,1001.8 L326.0,1001.8 L327.5,1001.9 L329.0,1002.0 L330.5,1002.0 L332.0,1002.1 L333.5,1002.2 L335.0,1002.2 L336.5,1002.3 L338.0,1002.4 L339.5,1002.4 L341.0,1002.5 L342.5,1002.6 L344.0,1002.7 L345.5,1002.8 L347.0,1002.8 L348.5,1002.9 L350.0,1003.0 L351.5,1003.1 L353.0,1003.2 L354.5,1003.2 L356.0,1003.3 L357.5,1003.4 L359.0,1003.5 L360.5,1003.6 L362.0,1003.7 L363.5,1003.8 L365.0,1003.9 L366.5,1004.0 L368.0,1004.1 L369.5,1004.1 L371.0,1004.2 L372.5,1004.3 L374.0,1004.4 L375.5,1004.5 L377.0,1004.6 L378.5,1004.7 L380.0,1004.8 L381.5,1004.9 L383.0,1005.0 L384.5,1005.1 L386.0,1005.2 L387.5,1005.3 L389.0,1005.4 L390.5,1005.5 L392.0,1005.6 L393.5,1005.7 L395.0,1005.8 L396.5,1005.9 L398.0,1006.0 L399.5,1006.2 L401.0,1006.3 L402.5,1006.4 L404.0,1006.5 L405.5,1006.6 L407.0,1006.7 L408.5,1006.8 L410.0,1006.9 L411.5,1007.0 L413.0,1007.1 L414.5,1007.2 L416.0,1007.3 L417.5,1007.4 L419.0,1007.5 L420.5,1007.6 L422.0,1007.8 L423.5,1007.9 L425.0,1008.0 L426.5,1008.1 L428.0,1008.2 L429.5,1008.3 L431.0,1008.4 L432.5,1008.5 L434.0,1008.6 L435.5,1008.7 L437.0,1008.8 L438.5,1008.9 L440.0,1009.0 L441.5,1009.2 L443.0,1009.3 L444.5,1009.4 L446.0,1009.5 L447.5,1009.6 L449.0,1009.7 L450.5,1009.8 L452.0,1009.9 L453.5,1010.0 L455.0,1010.1 L456.5,1010.2 L458.0,1010.3 L459.5,1010.4 L461.0,1010.5 L462.5,1010.6 L464.0,1010.7 L465.5,1010.8 L467.0,1010.9 L468.5,1011.0 L470.0,1011.1 L471.5,1011.2 L473.0,1011.3 L474.5,1011.4 L476.0,1011.5 L477.5,1011.6 L479.0,1011.7 L480.5,1011.8 L482.0,1011.9 L483.5,1012.0 L485.0,1012.1 L486.5,1012.1 L488.0,1012.2 L489.5,1012.3 L491.0,1012.4 L492.5,1012.5 L494.0,1012.6 L495.5,1012.7 L497.0,1012.8 L498.5,1012.8 L500.0,1012.9 L501.5,1013.0 L503.0,1013.1 L504.5,1013.2 L506.0,1013.2 L507.5,1013.3 L509.0,1013.4 L510.5,1013.5 L512.0,1013.5 L513.5,1013.6 L515.0,1013.7 L516.5,1013.7 L518.0,1013.8 L519.5,1013.9 L521.0,1013.9 L522.5,1014.0 L524.0,1014.1 L525.5,1014.1 L527.0,1014.2 L528.5,1014.3 L530.0,1014.3 L531.5,1014.4 L533.0,1014.4 L534.5,1014.5 L536.0,1014.5 L537.5,1014.6 L539.0,1014.6 L540.5,1014.7 L542.0,1014.7 L543.5,1014.7 L545.0,1014.8 L546.5,1014.8 L548.0,1014.9 L549.5,1014.9 L551.0,1014.9 L552.5,1015.0 L554.0,1015.0 L555.5,1015.0 L557.0,1015.1 L558.5,1015.1 L560.0,1015.1 L561.5,1015.1 L563.0,1015.2 L564.5,1015.2 L566.0,1015.2 L567.5,1015.3 L569.0,1015.3 L570.5,1015.3 L572.0,1015.4 L573.5,1015.4 L575.0,1015.4 L576.5,1015.4 L578.0,1015.5 L579.5,1015.5 L581.0,1015.5 L582.5,1015.5 L584.0,1015.6 L585.5,1015.6 L587.0,1015.6 L588.5,1015.7 L590.0,1015.7 L591.5,1015.7 L593.0,1015.7 L594.5,1015.8 L596.0,1015.8 L597.5,1015.8 L599.0,1015.8 L600.5,1015.9 L602.0,1015.9 L603.5,1015.9 L605.0,1015.9 L606.5,1016.0 L608.0,1016.0 L609.5,1016.0 L611.0,1016.0 L612.5,1016.0 L614.0,1016.1 L615.5,1016.1 L617.0,1016.1 L618.5,1016.1 L620.0,1016.1 L621.5,1016.2 L623.0,1016.2 L624.5,1016.2 L626.0,1016.2 L627.5,1016.2 L629.0,1016.3 L630.5,1016.3 L632.0,1016.3 L633.5,1016.3 L635.0,1016.3 L636.5,1016.3 L638.0,1016.3 L639.5,1016.4 L641.0,1016.4 L642.5,1016.4 L644.0,1016.4 L645.5,1016.4 L647.0,1016.4 L648.5,1016.4 L650.0,1016.4 L651.5,1016.4 L653.0,1016.5 L654.5,1016.5 L656.0,1016.5 L657.5,1016.5 L659.0,1016.5 L660.5,1016.5 L662.0,1016.5 L663.5,1016.5 L665.0,1016.5 L666.5,1016.5 L668.0,1016.5 L669.5,1016.5 L671.0,1016.5 L672.5,1016.5 L674.0,1016.5 L675.5,1016.4 L677.0,1016.3 L678.5,1016.3 L680.0,1016.2 L681.5,1016.1 L683.0,1016.0 L684.5,1015.8 L686.0,1015.7 L687.5,1015.5 L689.0,1015.4 L690.5,1015.2 L692.0,1015.0 L693.5,1014.8 L695.0,1014.6 L696.5,1014.4 L698.0,1014.2 L699.5,1013.9 L701.0,1013.7 L702.5,1013.4 L704.0,1013.1 L705.5,1012.9 L707.0,1012.6 L708.5,1012.3 L710.0,1012.0 L711.5,1011.7 L713.0,1011.4 L714.5,1011.1 L716.0,1010.8 L717.5,1010.5 L719.0,1010.1 L720.5,1009.8 L722.0,1009.5 L723.5,1009.1 L725.0,1008.8 L726.5,1008.4 L728.0,1008.0 L729.5,1007.6 L731.0,1007.2 L732.5,1006.7 L734.0,1006.2 L735.5,1005.7 L737.0,1005.1 L738.5,1004.5 L740.0,1003.8 L741.5,1003.1 L743.0,1002.3 L744.5,1001.5 L746.0,1000.6 L747.5,999.7 L749.0,998.7 L750.5,997.6 L752.0,996.5 L753.5,995.3 L755.0,993.8 L756.5,991.9 L758.0,989.7 L759.5,987.1 L761.0,984.2 L762.5,981.1 L764.0,977.6 L765.5,973.9 L767.0,969.9 L768.5,965.7 L770.0,961.2 L771.5,956.6 L773.0,950.9 L774.5,944.1 L776.0,936.2 L777.5,927.5 L779.0,918.1 L780.5,908.2 L782.0,898.1 L783.5,887.8 L785.0,877.5 L786.5,866.6 L788.0,855.1 L789.5,843.0 L791.0,830.3 L792.5,817.1 L794.0,803.3 L795.5,788.9 L797.0,772.5 L798.5,754.4 L800.0,736.1 L801.5,719.1 L803.0,704.5 L804.5,689.6 L806.0,674.4 L807.5,660.1 L809.0,648.0 L810.5,639.3 L812.0,635.3 L813.5,637.8 L815.0,647.3 L816.5,661.6 L818.0,678.3 L819.5,695.2 L821.0,710.1 L822.5,723.6 L824.0,737.5 L825.5,751.6 L827.0,765.7 L828.5,779.7 L830.0,793.4 L831.5,806.7 L833.0,819.9 L834.5,833.4 L836.0,847.0 L837.5,860.3 L839.0,873.0 L840.5,884.7 L842.0,895.0 L843.5,903.6 L845.0,911.1 L846.5,918.0 L848.0,924.3 L849.5,930.2 L851.0,935.7 L852.5,940.9 L854.0,945.9 L855.5,950.8 L857.0,955.7 L858.5,960.7 L860.0,965.8 L861.5,970.8 L863.0,975.7 L864.5,980.3 L866.0,984.6 L867.5,988.3 L869.0,991.3 L870.5,993.6 L872.0,995.3 L873.5,996.6 L875.0,997.8 L876.5,998.8 L878.0,999.8 L879.5,1000.8 L881.0,1001.7 L882.5,1002.6 L884.0,1003.5 L885.5,1004.3 L887.0,1005.2 L888.5,1006.0 L890.0,1006.7 L891.5,1007.5 L893.0,1008.2 L894.5,1008.9 L896.0,1009.5 L897.5,1010.2 L899.0,1010.8 L900.5,1011.4 L902.0,1012.0 L903.5,1012.5 L905.0,1013.1 L906.5,1013.6 L908.0,1014.1 L909.5,1014.7 L911.0,1015.2 L912.5,1015.7 L914.0,1016.2 L915.5,1016.6 L917.0,1017.1 L918.5,1017.6 L920.0,1018.0 L921.5,1018.5 L923.0,1018.9 L924.5,1019.3 L926.0,1019.7 L927.5,1020.1 L929.0,1020.5 L930.5,1020.9 L932.0,1021.3 L933.5,1021.7 L935.0,1022.1 L936.5,1022.4 L938.0,1022.8 L939.5,1023.1 L941.0,1023.5 L942.5,1023.8 L944.0,1024.2 L945.5,1024.5 L947.0,1024.8 L948.5,1025.1 L950.0,1025.5 L951.5,1025.8 L953.0,1026.1 L954.5,1026.4 L956.0,1026.7 L957.5,1027.0 L959.0,1027.3 L960.5,1027.6 L962.0,1027.8 L963.5,1028.1 L965.0,1028.4 L966.5,1028.7 L968.0,1029.0 L969.5,1029.2 L971.0,1029.5 L972.5,1029.7 L974.0,1030.0 L975.5,1030.3 L977.0,1030.5 L978.5,1030.8 L980.0,1031.0 L981.5,1031.2 L983.0,1031.5 L984.5,1031.7 L986.0,1032.0 L987.5,1032.2 L989.0,1032.4 L990.5,1032.6 L992.0,1032.9 L993.5,1033.1 L995.0,1033.3 L996.5,1033.5 L998.0,1033.7 L999.5,1033.9 L1001.0,1034.1 L1002.5,1034.3 L1004.0,1034.6 L1005.5,1034.8 L1007.0,1035.0 L1008.5,1035.2 L1010.0,1035.4 L1011.5,1035.6 L1013.0,1035.8 L1014.5,1036.0 L1016.0,1036.2 L1017.5,1036.4 L1019.0,1036.6 L1020.5,1036.8 L1022.0,1037.0 L1023.5,1037.2 L1025.0,1037.4 L1026.5,1037.6 L1028.0,1037.8 L1029.5,1038.0 L1031.0,1038.2 L1032.5,1038.4 L1034.0,1038.6 L1035.5,1038.8 L1037.0,1039.0 L1038.5,1039.2 L1040.0,1039.4 L1041.5,1039.6 L1043.0,1039.7 L1044.5,1039.9 L1046.0,1040.1 L1047.5,1040.3 L1049.0,1040.5 L1050.5,1040.7 L1052.0,1040.9 L1053.5,1041.1 L1055.0,1041.2 L1056.5,1041.4 L1058.0,1041.6 L1059.5,1041.8 L1061.0,1042.0 L1062.5,1042.1 L1064.0,1042.3 L1065.5,1042.5 L1067.0,1042.7 L1068.5,1042.8 L1070.0,1043.0 L1071.5,1043.2 L1073.0,1043.4 L1074.5,1043.5 L1076.0,1043.7 L1077.5,1043.9 L1079.0,1044.0 L1080.5,1044.2 L1082.0,1044.4 L1083.5,1044.5 L1085.0,1044.7 L1086.5,1044.8 L1088.0,1045.0 L1089.5,1045.2 L1091.0,1045.3 L1092.5,1045.5 L1094.0,1045.6 L1095.5,1045.8 L1097.0,1045.9 L1098.5,1046.1 L1100.0,1046.2 L1101.5,1046.4 L1103.0,1046.5 L1104.5,1046.6 L1106.0,1046.8 L1107.5,1046.9 L1109.0,1047.1 L1110.5,1047.2 L1112.0,1047.3 L1113.5,1047.5 L1115.0,1047.6 L1116.5,1047.7 L1118.0,1047.8 L1119.5,1048.0 L1121.0,1048.1 L1122.5,1048.2 L1124.0,1048.3 L1125.5,1048.4 L1127.0,1048.6 L1128.5,1048.7 L1130.0,1048.8 L1131.5,1048.9 L1133.0,1049.0 L1134.5,1049.1 L1136.0,1049.2 L1137.5,1049.3 L1139.0,1049.4 L1140.5,1049.5 L1142.0,1049.6 L1143.5,1049.7 L1145.0,1049.8 L1146.5,1049.9 L1148.0,1050.0" fill="none" stroke="#FF6600" stroke-width="9.5" stroke-linejoin="round" stroke-linecap="round"/>
<path d="M137.0,993.0 L138.5,993.1 L140.0,993.1 L141.5,993.2 L143.0,993.3 L144.5,993.4 L146.0,993.4 L147.5,993.5 L149.0,993.6 L150.5,993.7 L152.0,993.7 L153.5,993.8 L155.0,993.9 L156.5,993.9 L158.0,994.0 L159.5,994.1 L161.0,994.2 L162.5,994.2 L164.0,994.3 L165.5,994.4 L167.0,994.4 L168.5,994.5 L170.0,994.6 L171.5,994.7 L173.0,994.7 L174.5,994.8 L176.0,994.9 L177.5,994.9 L179.0,995.0 L180.5,995.1 L182.0,995.1 L183.5,995.2 L185.0,995.3 L186.5,995.3 L188.0,995.4 L189.5,995.5 L191.0,995.5 L192.5,995.6 L194.0,995.7 L195.5,995.7 L197.0,995.8 L198.5,995.9 L200.0,996.0 L201.5,996.0 L203.0,996.1 L204.5,996.1 L206.0,996.2 L207.5,996.3 L209.0,996.3 L210.5,996.4 L212.0,996.5 L213.5,996.5 L215.0,996.6 L216.5,996.7 L218.0,996.7 L219.5,996.8 L221.0,996.9 L222.5,996.9 L224.0,997.0 L225.5,997.1 L227.0,997.1 L228.5,997.2 L230.0,997.2 L231.5,997.3 L233.0,997.4 L234.5,997.4 L236.0,997.5 L237.5,997.6 L239.0,997.6 L240.5,997.7 L242.0,997.7 L243.5,997.8 L245.0,997.9 L246.5,997.9 L248.0,998.0 L249.5,998.1 L251.0,998.1 L252.5,998.2 L254.0,998.2 L255.5,998.3 L257.0,998.4 L258.5,998.4 L260.0,998.5 L261.5,998.5 L263.0,998.6 L264.5,998.6 L266.0,998.7 L267.5,998.8 L269.0,998.8 L270.5,998.9 L272.0,998.9 L273.5,999.0 L275.0,999.1 L276.5,999.1 L278.0,999.2 L279.5,999.2 L281.0,999.3 L282.5,999.3 L284.0,999.4 L285.5,999.4 L287.0,999.5 L288.5,999.6 L290.0,999.6 L291.5,999.7 L293.0,999.7 L294.5,999.8 L296.0,999.8 L297.5,999.9 L299.0,999.9 L300.5,1000.0 L302.0,1000.0 L303.5,1000.1 L305.0,1000.2 L306.5,1000.2 L308.0,1000.3 L309.5,1000.3 L311.0,1000.4 L312.5,1000.4 L314.0,1000.5 L315.5,1000.5 L317.0,1000.6 L318.5,1000.6 L320.0,1000.7 L321.5,1000.7 L323.0,1000.8 L324.5,1000.8 L326.0,1000.9 L327.5,1000.9 L329.0,1001.0 L330.5,1001.0 L332.0,1001.1 L333.5,1001.1 L335.0,1001.2 L336.5,1001.2 L338.0,1001.3 L339.5,1001.3 L341.0,1001.3 L342.5,1001.4 L344.0,1001.4 L345.5,1001.5 L347.0,1001.5 L348.5,1001.6 L350.0,1001.6 L351.5,1001.7 L353.0,1001.7 L354.5,1001.8 L356.0,1001.8 L357.5,1001.9 L359.0,1001.9 L360.5,1001.9 L362.0,1002.0 L363.5,1002.0 L365.0,1002.1 L366.5,1002.1 L368.0,1002.2 L369.5,1002.2 L371.0,1002.2 L372.5,1002.3 L374.0,1002.3 L375.5,1002.4 L377.0,1002.4 L378.5,1002.4 L380.0,1002.5 L381.5,1002.5 L383.0,1002.6 L384.5,1002.6 L386.0,1002.6 L387.5,1002.7 L389.0,1002.7 L390.5,1002.8 L392.0,1002.8 L393.5,1002.8 L395.0,1002.9 L396.5,1002.9 L398.0,1003.0 L399.5,1003.0 L401.0,1003.0 L402.5,1003.1 L404.0,1003.1 L405.5,1003.1 L407.0,1003.2 L408.5,1003.2 L410.0,1003.2 L411.5,1003.3 L413.0,1003.3 L414.5,1003.4 L416.0,1003.4 L417.5,1003.4 L419.0,1003.5 L420.5,1003.5 L422.0,1003.6 L423.5,1003.6 L425.0,1003.6 L426.5,1003.7 L428.0,1003.7 L429.5,1003.7 L431.0,1003.8 L432.5,1003.8 L434.0,1003.9 L435.5,1003.9 L437.0,1003.9 L438.5,1004.0 L440.0,1004.0 L441.5,1004.0 L443.0,1004.1 L444.5,1004.1 L446.0,1004.2 L447.5,1004.2 L449.0,1004.2 L450.5,1004.3 L452.0,1004.3 L453.5,1004.4 L455.0,1004.4 L456.5,1004.4 L458.0,1004.5 L459.5,1004.5 L461.0,1004.5 L462.5,1004.6 L464.0,1004.6 L465.5,1004.7 L467.0,1004.7 L468.5,1004.7 L470.0,1004.8 L471.5,1004.8 L473.0,1004.8 L474.5,1004.9 L476.0,1004.9 L477.5,1004.9 L479.0,1005.0 L480.5,1005.0 L482.0,1005.1 L483.5,1005.1 L485.0,1005.1 L486.5,1005.2 L488.0,1005.2 L489.5,1005.2 L491.0,1005.3 L492.5,1005.3 L494.0,1005.3 L495.5,1005.4 L497.0,1005.4 L498.5,1005.4 L500.0,1005.5 L501.5,1005.5 L503.0,1005.5 L504.5,1005.6 L506.0,1005.6 L507.5,1005.6 L509.0,1005.7 L510.5,1005.7 L512.0,1005.7 L513.5,1005.8 L515.0,1005.8 L516.5,1005.8 L518.0,1005.8 L519.5,1005.9 L521.0,1005.9 L522.5,1005.9 L524.0,1006.0 L525.5,1006.0 L527.0,1006.0 L528.5,1006.0 L530.0,1006.1 L531.5,1006.1 L533.0,1006.1 L534.5,1006.1 L536.0,1006.2 L537.5,1006.2 L539.0,1006.2 L540.5,1006.2 L542.0,1006.3 L543.5,1006.3 L545.0,1006.3 L546.5,1006.3 L548.0,1006.4 L549.5,1006.4 L551.0,1006.4 L552.5,1006.4 L554.0,1006.4 L555.5,1006.5 L557.0,1006.5 L558.5,1006.5 L560.0,1006.5 L561.5,1006.5 L563.0,1006.5 L564.5,1006.6 L566.0,1006.6 L567.5,1006.6 L569.0,1006.6 L570.5,1006.6 L572.0,1006.6 L573.5,1006.7 L575.0,1006.7 L576.5,1006.7 L578.0,1006.7 L579.5,1006.7 L581.0,1006.7 L582.5,1006.7 L584.0,1006.7 L585.5,1006.7 L587.0,1006.7 L588.5,1006.8 L590.0,1006.8 L591.5,1006.8 L593.0,1006.8 L594.5,1006.8 L596.0,1006.8 L597.5,1006.8 L599.0,1006.8 L600.5,1006.8 L602.0,1006.8 L603.5,1006.8 L605.0,1006.8 L606.5,1006.8 L608.0,1006.8 L609.5,1006.8 L611.0,1006.8 L612.5,1006.8 L614.0,1006.7 L615.5,1006.7 L617.0,1006.7 L618.5,1006.7 L620.0,1006.6 L621.5,1006.6 L623.0,1006.5 L624.5,1006.5 L626.0,1006.4 L627.5,1006.4 L629.0,1006.3 L630.5,1006.3 L632.0,1006.2 L633.5,1006.2 L635.0,1006.1 L636.5,1006.0 L638.0,1006.0 L639.5,1005.9 L641.0,1005.8 L642.5,1005.7 L644.0,1005.6 L645.5,1005.6 L647.0,1005.5 L648.5,1005.4 L650.0,1005.3 L651.5,1005.2 L653.0,1005.1 L654.5,1005.0 L656.0,1004.9 L657.5,1004.8 L659.0,1004.7 L660.5,1004.6 L662.0,1004.6 L663.5,1004.5 L665.0,1004.4 L666.5,1004.3 L668.0,1004.1 L669.5,1004.0 L671.0,1003.9 L672.5,1003.8 L674.0,1003.7 L675.5,1003.6 L677.0,1003.5 L678.5,1003.3 L680.0,1003.2 L681.5,1003.0 L683.0,1002.9 L684.5,1002.7 L686.0,1002.6 L687.5,1002.4 L689.0,1002.2 L690.5,1002.0 L692.0,1001.8 L693.5,1001.6 L695.0,1001.4 L696.5,1001.2 L698.0,1001.0 L699.5,1000.8 L701.0,1000.5 L702.5,1000.3 L704.0,1000.0 L705.5,999.8 L707.0,999.5 L708.5,999.3 L710.0,999.0 L711.5,998.7 L713.0,998.4 L714.5,998.1 L716.0,997.8 L717.5,997.5 L719.0,997.2 L720.5,996.9 L722.0,996.5 L723.5,996.2 L725.0,995.9 L726.5,995.5 L728.0,995.1 L729.5,994.7 L731.0,994.3 L732.5,993.8 L734.0,993.3 L735.5,992.7 L737.0,992.2 L738.5,991.6 L740.0,991.0 L741.5,990.3 L743.0,989.6 L744.5,988.9 L746.0,988.2 L747.5,987.4 L749.0,986.7 L750.5,985.8 L752.0,985.0 L753.5,984.1 L755.0,983.2 L756.5,982.3 L758.0,981.3 L759.5,980.3 L761.0,979.2 L762.5,977.9 L764.0,976.6 L765.5,975.2 L767.0,973.7 L768.5,972.2 L770.0,970.5 L771.5,968.8 L773.0,967.1 L774.5,965.2 L776.0,963.3 L777.5,961.3 L779.0,959.3 L780.5,957.2 L782.0,955.0 L783.5,952.8 L785.0,950.4 L786.5,947.8 L788.0,945.0 L789.5,942.0 L791.0,938.6 L792.5,935.0 L794.0,931.0 L795.5,926.4 L797.0,920.1 L798.5,912.8 L800.0,905.4 L801.5,897.8 L803.0,890.0 L804.5,881.9 L806.0,873.3 L807.5,864.4 L809.0,854.8 L810.5,844.7 L812.0,833.8 L813.5,822.1 L815.0,808.9 L816.5,793.4 L818.0,776.2 L819.5,758.0 L821.0,739.3 L822.5,720.8 L824.0,702.6 L825.5,684.0 L827.0,665.0 L828.5,645.7 L830.0,626.1 L831.5,606.3 L833.0,586.2 L834.5,565.9 L836.0,545.1 L837.5,523.8 L839.0,502.2 L840.5,480.5 L842.0,458.7 L843.5,437.1 L845.0,415.3 L846.5,390.1 L848.0,362.6 L849.5,334.6 L851.0,308.1 L852.5,284.8 L854.0,266.7 L855.5,255.5 L857.0,253.1 L858.5,256.2 L860.0,263.2 L861.5,273.3 L863.0,286.2 L864.5,301.3 L866.0,318.1 L867.5,336.1 L869.0,354.9 L870.5,373.8 L872.0,392.4 L873.5,410.2 L875.0,426.8 L876.5,442.7 L878.0,458.8 L879.5,475.4 L881.0,492.4 L882.5,510.0 L884.0,528.2 L885.5,547.3 L887.0,567.2 L888.5,589.0 L890.0,613.0 L891.5,638.0 L893.0,662.7 L894.5,685.9 L896.0,708.9 L897.5,732.4 L899.0,755.7 L900.5,777.9 L902.0,798.5 L903.5,816.6 L905.0,831.5 L906.5,844.4 L908.0,856.7 L909.5,868.4 L911.0,879.4 L912.5,889.7 L914.0,899.3 L915.5,908.3 L917.0,916.6 L918.5,924.2 L920.0,931.1 L921.5,937.3 L923.0,942.8 L924.5,947.7 L926.0,952.1 L927.5,956.1 L929.0,959.8 L930.5,963.2 L932.0,966.3 L933.5,969.3 L935.0,972.1 L936.5,974.9 L938.0,977.5 L939.5,980.1 L941.0,982.5 L942.5,984.7 L944.0,986.7 L945.5,988.5 L947.0,990.0 L948.5,991.3 L950.0,992.6 L951.5,993.7 L953.0,994.8 L954.5,995.8 L956.0,996.7 L957.5,997.6 L959.0,998.5 L960.5,999.3 L962.0,1000.1 L963.5,1000.8 L965.0,1001.6 L966.5,1002.4 L968.0,1003.1 L969.5,1003.7 L971.0,1004.4 L972.5,1005.0 L974.0,1005.7 L975.5,1006.3 L977.0,1006.8 L978.5,1007.4 L980.0,1008.0 L981.5,1008.6 L983.0,1009.1 L984.5,1009.6 L986.0,1010.2 L987.5,1010.7 L989.0,1011.2 L990.5,1011.7 L992.0,1012.1 L993.5,1012.6 L995.0,1013.1 L996.5,1013.6 L998.0,1014.1 L999.5,1014.5 L1001.0,1015.0 L1002.5,1015.5 L1004.0,1016.0 L1005.5,1016.4 L1007.0,1016.9 L1008.5,1017.4 L1010.0,1017.8 L1011.5,1018.2 L1013.0,1018.7 L1014.5,1019.1 L1016.0,1019.5 L1017.5,1019.9 L1019.0,1020.3 L1020.5,1020.6 L1022.0,1021.0 L1023.5,1021.3 L1025.0,1021.6 L1026.5,1022.0 L1028.0,1022.3 L1029.5,1022.6 L1031.0,1022.9 L1032.5,1023.2 L1034.0,1023.5 L1035.5,1023.8 L1037.0,1024.1 L1038.5,1024.4 L1040.0,1024.7 L1041.5,1025.0 L1043.0,1025.2 L1044.5,1025.5 L1046.0,1025.8 L1047.5,1026.0 L1049.0,1026.3 L1050.5,1026.5 L1052.0,1026.8 L1053.5,1027.0 L1055.0,1027.3 L1056.5,1027.5 L1058.0,1027.8 L1059.5,1028.0 L1061.0,1028.2 L1062.5,1028.5 L1064.0,1028.7 L1065.5,1028.9 L1067.0,1029.1 L1068.5,1029.4 L1070.0,1029.6 L1071.5,1029.8 L1073.0,1030.0 L1074.5,1030.2 L1076.0,1030.4 L1077.5,1030.6 L1079.0,1030.8 L1080.5,1031.0 L1082.0,1031.2 L1083.5,1031.4 L1085.0,1031.6 L1086.5,1031.8 L1088.0,1032.0 L1089.5,1032.2 L1091.0,1032.4 L1092.5,1032.6 L1094.0,1032.8 L1095.5,1032.9 L1097.0,1033.1 L1098.5,1033.3 L1100.0,1033.5 L1101.5,1033.7 L1103.0,1033.9 L1104.5,1034.0 L1106.0,1034.2 L1107.5,1034.4 L1109.0,1034.6 L1110.5,1034.7 L1112.0,1034.9 L1113.5,1035.1 L1115.0,1035.3 L1116.5,1035.4 L1118.0,1035.6 L1119.5,1035.8 L1121.0,1035.9 L1122.5,1036.1 L1124.0,1036.3 L1125.5,1036.4 L1127.0,1036.6 L1128.5,1036.8 L1130.0,1036.9 L1131.5,1037.1 L1133.0,1037.2 L1134.5,1037.4 L1136.0,1037.5 L1137.5,1037.7 L1139.0,1037.8 L1140.5,1038.0 L1142.0,1038.1 L1143.5,1038.3 L1145.0,1038.4" fill="none" stroke="#FF00FF" stroke-width="9.5" stroke-linejoin="round" stroke-linecap="round"/>
<path d="M137.0,991.0 L138.5,991.1 L140.0,991.3 L141.5,991.4 L143.0,991.5 L144.5,991.6 L146.0,991.8 L147.5,991.9 L149.0,992.0 L150.5,992.1 L152.0,992.3 L153.5,992.4 L155.0,992.5 L156.5,992.6 L158.0,992.7 L159.5,992.9 L161.0,993.0 L162.5,993.1 L164.0,993.2 L165.5,993.3 L167.0,993.5 L168.5,993.6 L170.0,993.7 L171.5,993.8 L173.0,993.9 L174.5,994.1 L176.0,994.2 L177.5,994.3 L179.0,994.4 L180.5,994.5 L182.0,994.6 L183.5,994.7 L185.0,994.8 L186.5,995.0 L188.0,995.1 L189.5,995.2 L191.0,995.3 L192.5,995.4 L194.0,995.5 L195.5,995.6 L197.0,995.7 L198.5,995.8 L200.0,995.9 L201.5,996.0 L203.0,996.1 L204.5,996.2 L206.0,996.4 L207.5,996.5 L209.0,996.6 L210.5,996.7 L212.0,996.8 L213.5,996.9 L215.0,997.0 L216.5,997.0 L218.0,997.1 L219.5,997.2 L221.0,997.3 L222.5,997.4 L224.0,997.5 L225.5,997.6 L227.0,997.7 L228.5,997.8 L230.0,997.9 L231.5,998.0 L233.0,998.1 L234.5,998.2 L236.0,998.2 L237.5,998.3 L239.0,998.4 L240.5,998.5 L242.0,998.6 L243.5,998.7 L245.0,998.7 L246.5,998.8 L248.0,998.9 L249.5,999.0 L251.0,999.1 L252.5,999.1 L254.0,999.2 L255.5,999.3 L257.0,999.4 L258.5,999.4 L260.0,999.5 L261.5,999.6 L263.0,999.6 L264.5,999.7 L266.0,999.8 L267.5,999.8 L269.0,999.9 L270.5,1000.0 L272.0,1000.0 L273.5,1000.1 L275.0,1000.2 L276.5,1000.2 L278.0,1000.3 L279.5,1000.3 L281.0,1000.4 L282.5,1000.5 L284.0,1000.5 L285.5,1000.6 L287.0,1000.6 L288.5,1000.7 L290.0,1000.7 L291.5,1000.8 L293.0,1000.9 L294.5,1000.9 L296.0,1001.0 L297.5,1001.0 L299.0,1001.1 L300.5,1001.1 L302.0,1001.2 L303.5,1001.2 L305.0,1001.3 L306.5,1001.3 L308.0,1001.4 L309.5,1001.4 L311.0,1001.5 L312.5,1001.5 L314.0,1001.6 L315.5,1001.6 L317.0,1001.7 L318.5,1001.7 L320.0,1001.8 L321.5,1001.8 L323.0,1001.9 L324.5,1001.9 L326.0,1002.0 L327.5,1002.0 L329.0,1002.0 L330.5,1002.1 L332.0,1002.1 L333.5,1002.2 L335.0,1002.2 L336.5,1002.3 L338.0,1002.3 L339.5,1002.3 L341.0,1002.4 L342.5,1002.4 L344.0,1002.5 L345.5,1002.5 L347.0,1002.6 L348.5,1002.6 L350.0,1002.6 L351.5,1002.7 L353.0,1002.7 L354.5,1002.8 L356.0,1002.8 L357.5,1002.8 L359.0,1002.9 L360.5,1002.9 L362.0,1003.0 L363.5,1003.0 L365.0,1003.1 L366.5,1003.1 L368.0,1003.1 L369.5,1003.2 L371.0,1003.2 L372.5,1003.2 L374.0,1003.3 L375.5,1003.3 L377.0,1003.4 L378.5,1003.4 L380.0,1003.4 L381.5,1003.5 L383.0,1003.5 L384.5,1003.6 L386.0,1003.6 L387.5,1003.6 L389.0,1003.7 L390.5,1003.7 L392.0,1003.8 L393.5,1003.8 L395.0,1003.8 L396.5,1003.9 L398.0,1003.9 L399.5,1004.0 L401.0,1004.0 L402.5,1004.0 L404.0,1004.1 L405.5,1004.1 L407.0,1004.2 L408.5,1004.2 L410.0,1004.2 L411.5,1004.3 L413.0,1004.3 L414.5,1004.4 L416.0,1004.4 L417.5,1004.4 L419.0,1004.5 L420.5,1004.5 L422.0,1004.6 L423.5,1004.6 L425.0,1004.6 L426.5,1004.7 L428.0,1004.7 L429.5,1004.8 L431.0,1004.8 L432.5,1004.9 L434.0,1004.9 L435.5,1004.9 L437.0,1005.0 L438.5,1005.0 L440.0,1005.1 L441.5,1005.1 L443.0,1005.1 L444.5,1005.2 L446.0,1005.2 L447.5,1005.2 L449.0,1005.3 L450.5,1005.3 L452.0,1005.4 L453.5,1005.4 L455.0,1005.4 L456.5,1005.5 L458.0,1005.5 L459.5,1005.5 L461.0,1005.6 L462.5,1005.6 L464.0,1005.6 L465.5,1005.6 L467.0,1005.7 L468.5,1005.7 L470.0,1005.7 L471.5,1005.7 L473.0,1005.8 L474.5,1005.8 L476.0,1005.8 L477.5,1005.8 L479.0,1005.9 L480.5,1005.9 L482.0,1005.9 L483.5,1005.9 L485.0,1006.0 L486.5,1006.0 L488.0,1006.0 L489.5,1006.0 L491.0,1006.1 L492.5,1006.1 L494.0,1006.1 L495.5,1006.1 L497.0,1006.2 L498.5,1006.2 L500.0,1006.2 L501.5,1006.2 L503.0,1006.3 L504.5,1006.3 L506.0,1006.3 L507.5,1006.3 L509.0,1006.4 L510.5,1006.4 L512.0,1006.4 L513.5,1006.4 L515.0,1006.4 L516.5,1006.5 L518.0,1006.5 L519.5,1006.5 L521.0,1006.5 L522.5,1006.5 L524.0,1006.6 L525.5,1006.6 L527.0,1006.6 L528.5,1006.6 L530.0,1006.6 L531.5,1006.6 L533.0,1006.7 L534.5,1006.7 L536.0,1006.7 L537.5,1006.7 L539.0,1006.7 L540.5,1006.7 L542.0,1006.7 L543.5,1006.7 L545.0,1006.8 L546.5,1006.8 L548.0,1006.8 L549.5,1006.8 L551.0,1006.8 L552.5,1006.8 L554.0,1006.8 L555.5,1006.8 L557.0,1006.8 L558.5,1006.8 L560.0,1006.8 L561.5,1006.8 L563.0,1006.7 L564.5,1006.7 L566.0,1006.6 L567.5,1006.4 L569.0,1006.3 L570.5,1006.1 L572.0,1005.9 L573.5,1005.7 L575.0,1005.5 L576.5,1005.2 L578.0,1004.9 L579.5,1004.6 L581.0,1004.3 L582.5,1004.0 L584.0,1003.7 L585.5,1003.3 L587.0,1003.0 L588.5,1002.6 L590.0,1002.2 L591.5,1001.9 L593.0,1001.5 L594.5,1001.1 L596.0,1000.7 L597.5,1000.3 L599.0,999.9 L600.5,999.5 L602.0,999.1 L603.5,998.7 L605.0,998.3 L606.5,997.9 L608.0,997.5 L609.5,997.1 L611.0,996.8 L612.5,996.4 L614.0,996.0 L615.5,995.7 L617.0,995.4 L618.5,995.0 L620.0,994.7 L621.5,994.4 L623.0,994.1 L624.5,993.7 L626.0,993.4 L627.5,993.1 L629.0,992.7 L630.5,992.4 L632.0,992.1 L633.5,991.7 L635.0,991.3 L636.5,991.0 L638.0,990.6 L639.5,990.2 L641.0,989.8 L642.5,989.4 L644.0,989.0 L645.5,988.6 L647.0,988.1 L648.5,987.7 L650.0,987.2 L651.5,986.7 L653.0,986.2 L654.5,985.7 L656.0,985.1 L657.5,984.5 L659.0,983.9 L660.5,983.2 L662.0,982.6 L663.5,981.9 L665.0,981.2 L666.5,980.4 L668.0,979.7 L669.5,978.9 L671.0,978.1 L672.5,977.3 L674.0,976.5 L675.5,975.7 L677.0,974.8 L678.5,974.0 L680.0,973.1 L681.5,972.3 L683.0,971.4 L684.5,970.6 L686.0,969.7 L687.5,968.8 L689.0,968.0 L690.5,967.1 L692.0,966.1 L693.5,965.1 L695.0,964.1 L696.5,963.1 L698.0,962.0 L699.5,960.9 L701.0,959.8 L702.5,958.7 L704.0,957.6 L705.5,956.6 L707.0,955.5 L708.5,954.5 L710.0,953.5 L711.5,952.6 L713.0,951.6 L714.5,950.8 L716.0,950.0 L717.5,949.2 L719.0,948.4 L720.5,947.6 L722.0,946.8 L723.5,946.0 L725.0,945.2 L726.5,944.4 L728.0,943.6 L729.5,942.8 L731.0,942.1 L732.5,941.5 L734.0,940.9 L735.5,940.3 L737.0,939.8 L738.5,939.4 L740.0,939.1 L741.5,938.9 L743.0,938.8 L744.5,938.8 L746.0,939.0 L747.5,939.3 L749.0,939.7 L750.5,940.2 L752.0,940.9 L753.5,941.6 L755.0,942.3 L756.5,943.1 L758.0,943.9 L759.5,944.8 L761.0,945.6 L762.5,946.4 L764.0,947.3 L765.5,948.3 L767.0,949.4 L768.5,950.6 L770.0,951.8 L771.5,953.1 L773.0,954.4 L774.5,955.8 L776.0,957.1 L777.5,958.4 L779.0,959.7 L780.5,960.9 L782.0,962.1 L783.5,963.3 L785.0,964.5 L786.5,965.7 L788.0,966.9 L789.5,968.1 L791.0,969.3 L792.5,970.5 L794.0,971.7 L795.5,972.9 L797.0,974.1 L798.5,975.3 L800.0,976.5 L801.5,977.7 L803.0,978.9 L804.5,980.1 L806.0,981.3 L807.5,982.5 L809.0,983.7 L810.5,985.0 L812.0,986.3 L813.5,987.6 L815.0,988.9 L816.5,990.3 L818.0,991.6 L819.5,992.8 L821.0,994.0 L822.5,995.1 L824.0,996.2 L825.5,997.1 L827.0,997.9 L828.5,998.7 L830.0,999.4 L831.5,1000.1 L833.0,1000.8 L834.5,1001.5 L836.0,1002.1 L837.5,1002.7 L839.0,1003.3 L840.5,1003.9 L842.0,1004.4 L843.5,1005.0 L845.0,1005.5 L846.5,1006.0 L848.0,1006.5 L849.5,1007.0 L851.0,1007.5 L852.5,1008.0 L854.0,1008.4 L855.5,1008.9 L857.0,1009.4 L858.5,1009.8 L860.0,1010.3 L861.5,1010.8 L863.0,1011.2 L864.5,1011.7 L866.0,1012.1 L867.5,1012.5 L869.0,1012.9 L870.5,1013.4 L872.0,1013.8 L873.5,1014.2 L875.0,1014.6 L876.5,1015.0 L878.0,1015.3 L879.5,1015.7 L881.0,1016.1 L882.5,1016.5 L884.0,1016.9 L885.5,1017.2 L887.0,1017.6 L888.5,1018.0 L890.0,1018.3 L891.5,1018.7 L893.0,1019.1 L894.5,1019.5 L896.0,1019.8 L897.5,1020.2 L899.0,1020.6 L900.5,1021.0 L902.0,1021.4 L903.5,1021.8 L905.0,1022.2 L906.5,1022.6 L908.0,1023.1 L909.5,1023.5 L911.0,1023.9 L912.5,1024.4 L914.0,1024.8 L915.5,1025.2 L917.0,1025.7 L918.5,1026.1 L920.0,1026.6 L921.5,1027.0 L923.0,1027.4 L924.5,1027.8 L926.0,1028.3 L927.5,1028.7 L929.0,1029.1 L930.5,1029.5 L932.0,1029.9 L933.5,1030.3 L935.0,1030.6 L936.5,1031.0 L938.0,1031.3 L939.5,1031.7 L941.0,1032.0 L942.5,1032.3 L944.0,1032.6 L945.5,1032.8 L947.0,1033.1 L948.5,1033.4 L950.0,1033.6 L951.5,1033.9 L953.0,1034.1 L954.5,1034.3 L956.0,1034.6 L957.5,1034.8 L959.0,1035.0 L960.5,1035.3 L962.0,1035.5 L963.5,1035.7 L965.0,1035.9 L966.5,1036.1 L968.0,1036.3 L969.5,1036.6 L971.0,1036.8 L972.5,1036.9 L974.0,1037.1 L975.5,1037.3 L977.0,1037.5 L978.5,1037.7 L980.0,1037.9 L981.5,1038.1 L983.0,1038.2 L984.5,1038.4 L986.0,1038.6 L987.5,1038.7 L989.0,1038.9 L990.5,1039.1 L992.0,1039.2 L993.5,1039.4 L995.0,1039.5 L996.5,1039.7 L998.0,1039.8 L999.5,1040.0 L1001.0,1040.1 L1002.5,1040.2 L1004.0,1040.4 L1005.5,1040.5 L1007.0,1040.7 L1008.5,1040.8 L1010.0,1040.9 L1011.5,1041.1 L1013.0,1041.2 L1014.5,1041.4 L1016.0,1041.5 L1017.5,1041.6 L1019.0,1041.8 L1020.5,1041.9 L1022.0,1042.0 L1023.5,1042.2 L1025.0,1042.3 L1026.5,1042.4 L1028.0,1042.6 L1029.5,1042.7 L1031.0,1042.9 L1032.5,1043.0 L1034.0,1043.1 L1035.5,1043.2 L1037.0,1043.4 L1038.5,1043.5 L1040.0,1043.6 L1041.5,1043.8 L1043.0,1043.9 L1044.5,1044.0 L1046.0,1044.2 L1047.5,1044.3 L1049.0,1044.4 L1050.5,1044.5 L1052.0,1044.7 L1053.5,1044.8 L1055.0,1044.9 L1056.5,1045.0 L1058.0,1045.1 L1059.5,1045.3 L1061.0,1045.4 L1062.5,1045.5 L1064.0,1045.6 L1065.5,1045.7 L1067.0,1045.8 L1068.5,1046.0 L1070.0,1046.1 L1071.5,1046.2 L1073.0,1046.3 L1074.5,1046.4 L1076.0,1046.5 L1077.5,1046.6 L1079.0,1046.7 L1080.5,1046.8 L1082.0,1046.9 L1083.5,1047.0 L1085.0,1047.1 L1086.5,1047.2 L1088.0,1047.3 L1089.5,1047.4 L1091.0,1047.5 L1092.5,1047.6 L1094.0,1047.7 L1095.5,1047.8 L1097.0,1047.9 L1098.5,1048.0 L1100.0,1048.1 L1101.5,1048.2 L1103.0,1048.2 L1104.5,1048.3 L1106.0,1048.4 L1107.5,1048.5 L1109.0,1048.6 L1110.5,1048.6 L1112.0,1048.7 L1113.5,1048.8 L1115.0,1048.9 L1116.5,1048.9 L1118.0,1049.0 L1119.5,1049.1 L1121.0,1049.1 L1122.5,1049.2 L1124.0,1049.3 L1125.5,1049.3 L1127.0,1049.4 L1128.5,1049.4 L1130.0,1049.5 L1131.5,1049.5 L1133.0,1049.6 L1134.5,1049.6 L1136.0,1049.7 L1137.5,1049.7 L1139.0,1049.8 L1140.5,1049.8 L1142.0,1049.9 L1143.5,1049.9 L1145.0,1049.9 L1146.5,1050.0 L1148.0,1050.0" fill="none" stroke="#9A9A25" stroke-width="9.5" stroke-linejoin="round" stroke-linecap="round"/>
<path d="M135.7,987.4a10,9 0 1,0 20,0a10,9 0 1,0 -20,0M146.3,985.8a10,9 0 1,0 20,0a10,9 0 1,0 -20,0M156.9,989.2a10,9 0 1,0 20,0a10,9 0 1,0 -20,0M167.5,991.3a10,9 0 1,0 20,0a10,9 0 1,0 -20,0M178.0,993.6a10,9 0 1,0 20,0a10,9 0 1,0 -20,0M188.6,990.4a10,9 0 1,0 20,0a10,9 0 1,0 -20,0M199.2,988.2a10,9 0 1,0 20,0a10,9 0 1,0 -20,0M209.8,987.4a10,9 0 1,0 20,0a10,9 0 1,0 -20,0M220.4,992.1a10,9 0 1,0 20,0a10,9 0 1,0 -20,0M230.9,994.8a10,9 0 1,0 20,0a10,9 0 1,0 -20,0M241.5,990.2a10,9 0 1,0 20,0a10,9 0 1,0 -20,0M252.1,985.1a10,9 0 1,0 20,0a10,9 0 1,0 -20,0M262.7,985.7a10,9 0 1,0 20,0a10,9 0 1,0 -20,0M273.3,993.6a10,9 0 1,0 20,0a10,9 0 1,0 -20,0M283.8,988.8a10,9 0 1,0 20,0a10,9 0 1,0 -20,0M294.4,982.3a10,9 0 1,0 20,0a10,9 0 1,0 -20,0M305.0,987.3a10,9 0 1,0 20,0a10,9 0 1,0 -20,0M315.6,983.5a10,9 0 1,0 20,0a10,9 0 1,0 -20,0M326.2,984.9a10,9 0 1,0 20,0a10,9 0 1,0 -20,0M336.7,984.9a10,9 0 1,0 20,0a10,9 0 1,0 -20,0M347.3,983.8a10,9 0 1,0 20,0a10,9 0 1,0 -20,0M357.9,987.4a10,9 0 1,0 20,0a10,9 0 1,0 -20,0M368.5,985.1a10,9 0 1,0 20,0a10,9 0 1,0 -20,0M379.1,983.0a10,9 0 1,0 20,0a10,9 0 1,0 -20,0M389.6,985.8a10,9 0 1,0 20,0a10,9 0 1,0 -20,0M400.2,986.7a10,9 0 1,0 20,0a10,9 0 1,0 -20,0M410.8,978.5a10,9 0 1,0 20,0a10,9 0 1,0 -20,0M421.4,982.6a10,9 0 1,0 20,0a10,9 0 1,0 -20,0M432.0,979.9a10,9 0 1,0 20,0a10,9 0 1,0 -20,0M442.5,982.2a10,9 0 1,0 20,0a10,9 0 1,0 -20,0M453.1,978.2a10,9 0 1,0 20,0a10,9 0 1,0 -20,0M463.7,981.9a10,9 0 1,0 20,0a10,9 0 1,0 -20,0M474.3,981.0a10,9 0 1,0 20,0a10,9 0 1,0 -20,0M484.9,979.2a10,9 0 1,0 20,0a10,9 0 1,0 -20,0M495.4,975.8a10,9 0 1,0 20,0a10,9 0 1,0 -20,0M506.0,976.7a10,9 0 1,0 20,0a10,9 0 1,0 -20,0M516.6,973.2a10,9 0 1,0 20,0a10,9 0 1,0 -20,0M527.2,971.0a10,9 0 1,0 20,0a10,9 0 1,0 -20,0M537.8,974.6a10,9 0 1,0 20,0a10,9 0 1,0 -20,0M548.3,968.8a10,9 0 1,0 20,0a10,9 0 1,0 -20,0M558.9,974.2a10,9 0 1,0 20,0a10,9 0 1,0 -20,0M569.5,970.6a10,9 0 1,0 20,0a10,9 0 1,0 -20,0M580.1,959.7a10,9 0 1,0 20,0a10,9 0 1,0 -20,0M590.7,964.6a10,9 0 1,0 20,0a10,9 0 1,0 -20,0M601.2,957.7a10,9 0 1,0 20,0a10,9 0 1,0 -20,0M611.8,958.6a10,9 0 1,0 20,0a10,9 0 1,0 -20,0M622.4,955.8a10,9 0 1,0 20,0a10,9 0 1,0 -20,0M633.0,946.6a10,9 0 1,0 20,0a10,9 0 1,0 -20,0M643.6,949.4a10,9 0 1,0 20,0a10,9 0 1,0 -20,0M654.1,945.9a10,9 0 1,0 20,0a10,9 0 1,0 -20,0M664.7,945.2a10,9 0 1,0 20,0a10,9 0 1,0 -20,0M675.3,930.9a10,9 0 1,0 20,0a10,9 0 1,0 -20,0M685.9,929.5a10,9 0 1,0 20,0a10,9 0 1,0 -20,0M696.5,918.2a10,9 0 1,0 20,0a10,9 0 1,0 -20,0M707.0,915.6a10,9 0 1,0 20,0a10,9 0 1,0 -20,0M717.6,906.5a10,9 0 1,0 20,0a10,9 0 1,0 -20,0M728.2,899.3a10,9 0 1,0 20,0a10,9 0 1,0 -20,0M728.2,903.9a10,9 0 1,0 20,0a10,9 0 1,0 -20,0M738.3,874.2a10,9 0 1,0 20,0a10,9 0 1,0 -20,0M749.3,849.7a10,9 0 1,0 20,0a10,9 0 1,0 -20,0M760.4,802.9a10,9 0 1,0 20,0a10,9 0 1,0 -20,0M770.5,733.6a10,9 0 1,0 20,0a10,9 0 1,0 -20,0M780.9,650.0a10,9 0 1,0 20,0a10,9 0 1,0 -20,0M791.7,533.7a10,9 0 1,0 20,0a10,9 0 1,0 -20,0M802.3,434.3a10,9 0 1,0 20,0a10,9 0 1,0 -20,0M813.4,332.0a10,9 0 1,0 20,0a10,9 0 1,0 -20,0M823.7,252.9a10,9 0 1,0 20,0a10,9 0 1,0 -20,0M834.3,190.9a10,9 0 1,0 20,0a10,9 0 1,0 -20,0M844.0,168.6a10,9 0 1,0 20,0a10,9 0 1,0 -20,0M855.7,174.3a10,9 0 1,0 20,0a10,9 0 1,0 -20,0M865.7,280.0a10,9 0 1,0 20,0a10,9 0 1,0 -20,0M876.3,402.3a10,9 0 1,0 20,0a10,9 0 1,0 -20,0M887.7,578.6a10,9 0 1,0 20,0a10,9 0 1,0 -20,0M898.3,719.2a10,9 0 1,0 20,0a10,9 0 1,0 -20,0M908.9,848.8a10,9 0 1,0 20,0a10,9 0 1,0 -20,0M919.3,921.8a10,9 0 1,0 20,0a10,9 0 1,0 -20,0M930.0,973.7a10,9 0 1,0 20,0a10,9 0 1,0 -20,0M939.8,1007.3a10,9 0 1,0 20,0a10,9 0 1,0 -20,0M939.8,1008.4a10,9 0 1,0 20,0a10,9 0 1,0 -20,0M950.4,1024.2a10,9 0 1,0 20,0a10,9 0 1,0 -20,0M961.0,1027.5a10,9 0 1,0 20,0a10,9 0 1,0 -20,0M971.5,1034.3a10,9 0 1,0 20,0a10,9 0 1,0 -20,0M982.1,1039.5a10,9 0 1,0 20,0a10,9 0 1,0 -20,0M992.7,1040.5a10,9 0 1,0 20,0a10,9 0 1,0 -20,0M1003.3,1044.7a10,9 0 1,0 20,0a10,9 0 1,0 -20,0M1013.9,1049.9a10,9 0 1,0 20,0a10,9 0 1,0 -20,0M1024.4,1048.1a10,9 0 1,0 20,0a10,9 0 1,0 -20,0M1035.0,1050.6a10,9 0 1,0 20,0a10,9 0 1,0 -20,0M1045.6,1051.0a10,9 0 1,0 20,0a10,9 0 1,0 -20,0M1056.2,1052.8a10,9 0 1,0 20,0a10,9 0 1,0 -20,0M1066.8,1051.2a10,9 0 1,0 20,0a10,9 0 1,0 -20,0M1077.3,1052.0a10,9 0 1,0 20,0a10,9 0 1,0 -20,0M1087.9,1053.1a10,9 0 1,0 20,0a10,9 0 1,0 -20,0M1098.5,1053.2a10,9 0 1,0 20,0a10,9 0 1,0 -20,0M1109.1,1051.6a10,9 0 1,0 20,0a10,9 0 1,0 -20,0M1119.7,1055.3a10,9 0 1,0 20,0a10,9 0 1,0 -20,0M1130.2,1051.0a10,9 0 1,0 20,0a10,9 0 1,0 -20,0" fill="#FF0000"/>
<line x1="913.7" y1="240" x2="871.4" y2="317" stroke="#FF00FF" stroke-width="9.5" stroke-linecap="round"/>
<line x1="757" y1="514" x2="798.5" y2="648" stroke="#FF6600" stroke-width="9.5" stroke-linecap="round"/>
<line x1="691.4" y1="804.7" x2="741" y2="934.2" stroke="#9A9A25" stroke-width="9.5" stroke-linecap="round"/>
<text x="931.7" y="255.5" font-family="'Liberation Serif','Times New Roman',serif" font-weight="bold" font-size="62" fill="#FF00FF">C-B</text>
<text x="529" y="506.3" font-family="'Liberation Serif','Times New Roman',serif" font-weight="bold" font-size="62" fill="#FF6600">C=C/C-C</text>
<text x="478.8" y="780.8" font-family="'Liberation Serif','Times New Roman',serif" font-weight="bold" font-size="62" fill="#9A9A25">C-O/C-N</text>
<path d="M165.3,2212.1 L176.5,2165.8 L184.9,2212.1 L193.0,2180.0 L200.0,2190.0 L208.0,2170.0 L216.0,2205.0 L224.2,2212.1 L232.0,2175.0 L240.0,2185.0 L247.0,2160.0 L255.0,2195.3 L265.0,2160.0 L274.7,2142.0 L285.0,2150.0 L293.0,2125.0 L301.3,2167.2 L314.0,2108.3 L325.2,1982.0 L336.0,1960.0 L349.0,1824.9 L356.0,1780.0 L362.0,1700.0 L371.0,1600.0 L376.0,1520.0 L380.0,1450.0 L382.1,1412.0 L392.0,1418.0 L403.6,1448.6 L407.8,1370.0 L413.0,1420.0 L418.6,1487.0 L420.7,1547.0 L433.6,1558.0 L440.0,1633.0 L446.4,1650.0 L450.7,1701.0 L459.3,1800.0 L467.0,1880.0 L476.7,1934.3 L487.9,1948.3 L500.6,1993.2 L504.8,2032.5 L521.6,2018.5 L532.8,2069.0 L540.0,2085.0 L546.6,2147.9 L555.0,2120.0 L565.2,2155.6 L572.9,2120.0 L580.0,2150.0 L588.3,2161.1 L599.0,2148.0 L614.6,2117.2 L621.2,2075.5 L632.0,2072.0 L637.0,2082.0 L644.2,2036.0 L656.3,2128.2 L667.0,2102.0 L673.8,2115.0 L686.0,2092.0 L693.6,2089.0 L701.3,2126.0 L719.9,1992.1 L726.5,1990.0 L737.5,1900.0 L750.4,1800.0 L756.4,1688.4 L763.9,1554.0 L768.4,1551.0 L777.3,1494.3 L789.3,1473.4 L798.2,1503.3 L804.2,1715.2 L817.6,1712.2 L820.6,1800.0 L825.2,1900.0 L831.8,2053.6 L854.6,2180.6 L870.6,2172.6 L874.6,2239.2 L885.0,2215.0 L895.0,2228.0 L905.0,2220.0 L919.2,2207.9 L930.0,2280.0 L943.1,2318.8 L947.4,2238.6 L958.0,2290.0 L970.4,2257.4 L985.0,2290.0 L997.7,2320.5 L1009.6,2262.5 L1018.0,2300.0 L1025.0,2323.9 L1035.0,2270.0 L1043.8,2259.1 L1052.0,2280.0 L1060.8,2236.9 L1072.0,2285.0 L1086.4,2260.8 L1093.0,2275.0 L1100.0,2257.4 L1112.0,2262.0 L1122.0,2290.0 L1134.2,2322.2 L1139.3,2262.5 L1150.0,2280.0 L1160.0,2268.0 L1168.3,2254.0 L1176.8,2293.2" fill="none" stroke="#000" stroke-width="9.5" stroke-linejoin="round" stroke-linecap="round"/>
<path d="M162.4,2185.4 L163.9,2184.8 L165.4,2184.3 L166.9,2183.7 L168.4,2183.2 L169.9,2182.6 L171.4,2182.1 L172.9,2181.5 L174.4,2181.0 L175.9,2180.5 L177.4,2180.0 L178.9,2179.5 L180.4,2179.0 L181.9,2178.5 L183.4,2178.0 L184.9,2177.5 L186.4,2177.1 L187.9,2176.7 L189.4,2176.2 L190.9,2175.8 L192.4,2175.4 L193.9,2175.0 L195.4,2174.6 L196.9,2174.2 L198.4,2173.8 L199.9,2173.4 L201.4,2173.0 L202.9,2172.5 L204.4,2172.0 L205.9,2171.5 L207.4,2171.0 L208.9,2170.5 L210.4,2169.9 L211.9,2169.2 L213.4,2168.6 L214.9,2167.9 L216.4,2167.1 L217.9,2166.3 L219.4,2165.5 L220.9,2164.7 L222.4,2163.8 L223.9,2162.9 L225.4,2161.9 L226.9,2161.0 L228.4,2160.0 L229.9,2159.0 L231.4,2158.0 L232.9,2156.9 L234.4,2155.9 L235.9,2154.8 L237.4,2153.8 L238.9,2152.7 L240.4,2151.6 L241.9,2150.4 L243.4,2149.2 L244.9,2147.9 L246.4,2146.7 L247.9,2145.4 L249.4,2144.0 L250.9,2142.7 L252.4,2141.3 L253.9,2139.9 L255.4,2138.5 L256.9,2137.1 L258.4,2135.7 L259.9,2134.3 L261.4,2132.9 L262.9,2131.5 L264.4,2130.1 L265.9,2128.6 L267.4,2127.1 L268.9,2125.6 L270.4,2124.1 L271.9,2122.5 L273.4,2120.9 L274.9,2119.3 L276.4,2117.6 L277.9,2116.0 L279.4,2114.3 L280.9,2112.5 L282.4,2110.7 L283.9,2108.8 L285.4,2106.8 L286.9,2104.7 L288.4,2102.4 L289.9,2100.0 L291.4,2097.5 L292.9,2094.8 L294.4,2091.9 L295.9,2089.0 L297.4,2085.9 L298.9,2082.6 L300.4,2079.3 L301.9,2075.7 L303.4,2071.8 L304.9,2067.8 L306.4,2063.5 L307.9,2059.2 L309.4,2054.7 L310.9,2050.3 L312.4,2045.9 L313.9,2041.6 L315.4,2037.2 L316.9,2032.8 L318.4,2028.2 L319.9,2023.4 L321.4,2018.1 L322.9,2012.4 L324.4,2006.0 L325.9,1998.5 L327.4,1989.9 L328.9,1980.6 L330.4,1971.0 L331.9,1961.5 L333.4,1952.4 L334.9,1943.9 L336.4,1935.8 L337.9,1927.9 L339.4,1920.1 L340.9,1912.1 L342.4,1903.7 L343.9,1894.8 L345.4,1885.1 L346.9,1874.5 L348.4,1862.4 L349.9,1849.2 L351.4,1835.1 L352.9,1820.5 L354.4,1805.6 L355.9,1790.9 L357.4,1776.2 L358.9,1761.3 L360.4,1746.0 L361.9,1730.5 L363.4,1714.9 L364.9,1699.4 L366.4,1683.9 L367.9,1668.7 L369.4,1653.8 L370.9,1638.9 L372.4,1624.1 L373.9,1609.2 L375.4,1594.2 L376.9,1578.9 L378.4,1563.1 L379.9,1546.4 L381.4,1527.7 L382.9,1508.2 L384.4,1489.2 L385.9,1472.1 L387.4,1458.2 L388.9,1448.0 L390.4,1438.3 L391.9,1429.0 L393.4,1420.3 L394.9,1412.5 L396.4,1405.8 L397.9,1400.5 L399.4,1396.9 L400.9,1395.1 L402.4,1395.1 L403.9,1395.8 L405.4,1396.9 L406.9,1398.6 L408.4,1400.6 L409.9,1402.9 L411.4,1405.5 L412.9,1408.3 L414.4,1412.0 L415.9,1418.0 L417.4,1425.9 L418.9,1435.2 L420.4,1445.8 L421.9,1457.2 L423.4,1468.9 L424.9,1480.8 L426.4,1492.4 L427.9,1504.8 L429.4,1518.3 L430.9,1532.7 L432.4,1547.6 L433.9,1563.0 L435.4,1578.4 L436.9,1593.7 L438.4,1608.8 L439.9,1624.3 L441.4,1640.2 L442.9,1656.3 L444.4,1672.3 L445.9,1688.0 L447.4,1703.2 L448.9,1717.7 L450.4,1731.3 L451.9,1744.5 L453.4,1757.2 L454.9,1769.6 L456.4,1781.9 L457.9,1794.1 L459.4,1806.3 L460.9,1818.7 L462.4,1831.6 L463.9,1844.9 L465.4,1858.4 L466.9,1871.7 L468.4,1884.4 L469.9,1896.3 L471.4,1906.9 L472.9,1916.6 L474.4,1925.7 L475.9,1934.3 L477.4,1942.6 L478.9,1950.5 L480.4,1958.3 L481.9,1966.0 L483.4,1973.7 L484.9,1981.4 L486.4,1989.0 L487.9,1996.3 L489.4,2003.2 L490.9,2009.7 L492.4,2015.4 L493.9,2020.7 L495.4,2025.6 L496.9,2030.3 L498.4,2034.7 L499.9,2038.9 L501.4,2042.9 L502.9,2046.8 L504.4,2050.5 L505.9,2054.1 L507.4,2057.6 L508.9,2061.0 L510.4,2064.2 L511.9,2067.1 L513.4,2069.8 L514.9,2072.3 L516.4,2074.5 L517.9,2076.6 L519.4,2078.5 L520.9,2080.3 L522.4,2082.1 L523.9,2083.7 L525.4,2085.3 L526.9,2086.9 L528.4,2088.4 L529.9,2089.9 L531.4,2091.3 L532.9,2092.7 L534.4,2094.0 L535.9,2095.3 L537.4,2096.4 L538.9,2097.4 L540.4,2098.4 L541.9,2099.4 L543.4,2100.3 L544.9,2101.2 L546.4,2102.0 L547.9,2102.8 L549.4,2103.5 L550.9,2104.2 L552.4,2104.9 L553.9,2105.5 L555.4,2106.0 L556.9,2106.5 L558.4,2107.0 L559.9,2107.5 L561.4,2107.9 L562.9,2108.3 L564.4,2108.7 L565.9,2109.1 L567.4,2109.4 L568.9,2109.8 L570.4,2110.1 L571.9,2110.4 L573.4,2110.7 L574.9,2111.0 L576.4,2111.3 L577.9,2111.7 L579.4,2112.0 L580.9,2112.3 L582.4,2112.6 L583.9,2112.8 L585.4,2113.1 L586.9,2113.3 L588.4,2113.4 L589.9,2113.5 L591.4,2113.6 L592.9,2113.6 L594.4,2113.7 L595.9,2113.7 L597.4,2113.8 L598.9,2113.8 L600.4,2113.8 L601.9,2113.9 L603.4,2113.9 L604.9,2113.9 L606.4,2113.9 L607.9,2113.8 L609.4,2113.7 L610.9,2113.5 L612.4,2113.3 L613.9,2112.9 L615.4,2112.6 L616.9,2112.2 L618.4,2111.7 L619.9,2111.3 L621.4,2110.8 L622.9,2110.2 L624.4,2109.7 L625.9,2109.1 L627.4,2108.5 L628.9,2107.9 L630.4,2107.3 L631.9,2106.7 L633.4,2106.1 L634.9,2105.5 L636.4,2104.9 L637.9,2104.3 L639.4,2103.7 L640.9,2103.2 L642.4,2102.6 L643.9,2102.0 L645.4,2101.4 L646.9,2100.8 L648.4,2100.2 L649.9,2099.5 L651.4,2098.9 L652.9,2098.2 L654.4,2097.5 L655.9,2096.8 L657.4,2096.1 L658.9,2095.4 L660.4,2094.7 L661.9,2093.9 L663.4,2093.1 L664.9,2092.4 L666.4,2091.6 L667.9,2090.8 L669.4,2089.9 L670.9,2089.1 L672.4,2088.2 L673.9,2087.3 L675.4,2086.4 L676.9,2085.4 L678.4,2084.4 L679.9,2083.4 L681.4,2082.3 L682.9,2081.2 L684.4,2080.1 L685.9,2079.0 L687.4,2077.9 L688.9,2076.8 L690.4,2075.7 L691.9,2074.5 L693.4,2073.4 L694.9,2072.4 L696.4,2071.4 L697.9,2070.3 L699.4,2069.3 L700.9,2068.3 L702.4,2067.2 L703.9,2066.0 L705.4,2064.7 L706.9,2063.2 L708.4,2061.6 L709.9,2059.7 L711.4,2057.7 L712.9,2055.5 L714.4,2053.1 L715.9,2050.5 L717.4,2047.6 L718.9,2044.5 L720.4,2040.9 L721.9,2036.9 L723.4,2032.5 L724.9,2027.6 L726.4,2022.2 L727.9,2016.3 L729.4,2009.8 L730.9,2001.8 L732.4,1992.3 L733.9,1981.9 L735.4,1970.8 L736.9,1959.4 L738.4,1947.8 L739.9,1935.5 L741.4,1922.5 L742.9,1908.9 L744.4,1894.9 L745.9,1880.5 L747.4,1865.9 L748.9,1851.1 L750.4,1836.2 L751.9,1820.9 L753.4,1805.3 L754.9,1789.2 L756.4,1772.6 L757.9,1755.4 L759.4,1737.6 L760.9,1718.4 L762.4,1697.5 L763.9,1675.7 L765.4,1653.6 L766.9,1632.0 L768.4,1611.5 L769.9,1592.8 L771.4,1575.0 L772.9,1557.3 L774.4,1540.5 L775.9,1525.7 L777.4,1513.8 L778.9,1504.8 L780.4,1496.3 L781.9,1489.1 L783.4,1484.1 L784.9,1482.4 L786.4,1482.6 L787.9,1483.1 L789.4,1483.9 L790.9,1485.1 L792.4,1486.6 L793.9,1488.4 L795.4,1490.6 L796.9,1493.3 L798.4,1501.9 L799.9,1516.8 L801.4,1533.7 L802.9,1549.4 L804.4,1566.0 L805.9,1583.7 L807.4,1602.6 L808.9,1622.4 L810.4,1644.3 L811.9,1668.3 L813.4,1693.5 L814.9,1718.9 L816.4,1743.7 L817.9,1767.0 L819.4,1787.9 L820.9,1807.0 L822.4,1825.2 L823.9,1842.6 L825.4,1859.3 L826.9,1875.7 L828.4,1891.8 L829.9,1907.9 L831.4,1924.1 L832.9,1940.8 L834.4,1958.1 L835.9,1975.4 L837.4,1992.3 L838.9,2008.2 L840.4,2022.8 L841.9,2035.4 L843.4,2046.6 L844.9,2057.1 L846.4,2066.9 L847.9,2076.2 L849.4,2084.8 L850.9,2093.0 L852.4,2100.8 L853.9,2108.3 L855.4,2115.4 L856.9,2122.0 L858.4,2128.4 L859.9,2134.5 L861.4,2140.3 L862.9,2146.0 L864.4,2151.6 L865.9,2157.1 L867.4,2162.6 L868.9,2168.1 L870.4,2173.5 L871.9,2178.7 L873.4,2183.4 L874.9,2187.6 L876.4,2191.2 L877.9,2194.4 L879.4,2197.2 L880.9,2199.8 L882.4,2202.3 L883.9,2204.7 L885.4,2207.2 L886.9,2209.8 L888.4,2212.7 L889.9,2215.6 L891.4,2218.4 L892.9,2221.1 L894.4,2223.4 L895.9,2225.3 L897.4,2226.8 L898.9,2228.2 L900.4,2229.4 L901.9,2230.6 L903.4,2231.7 L904.9,2232.9 L906.4,2234.2 L907.9,2235.5 L909.4,2236.9 L910.9,2238.4 L912.4,2239.8 L913.9,2241.3 L915.4,2242.7 L916.9,2244.2 L918.4,2245.6 L919.9,2247.0 L921.4,2248.4 L922.9,2249.7 L924.4,2250.9 L925.9,2252.1 L927.4,2253.3 L928.9,2254.3 L930.4,2255.2 L931.9,2256.1 L933.4,2256.9 L934.9,2257.7 L936.4,2258.4 L937.9,2259.2 L939.4,2259.9 L940.9,2260.5 L942.4,2261.2 L943.9,2261.8 L945.4,2262.5 L946.9,2263.1 L948.4,2263.6 L949.9,2264.2 L951.4,2264.8 L952.9,2265.3 L954.4,2265.8 L955.9,2266.3 L957.4,2266.8 L958.9,2267.3 L960.4,2267.8 L961.9,2268.3 L963.4,2268.7 L964.9,2269.2 L966.4,2269.6 L967.9,2270.1 L969.4,2270.5 L970.9,2270.9 L972.4,2271.4 L973.9,2271.8 L975.4,2272.2 L976.9,2272.6 L978.4,2273.0 L979.9,2273.4 L981.4,2273.8 L982.9,2274.2 L984.4,2274.6 L985.9,2274.9 L987.4,2275.3 L988.9,2275.7 L990.4,2276.0 L991.9,2276.4 L993.4,2276.7 L994.9,2277.1 L996.4,2277.4 L997.9,2277.7 L999.4,2278.0 L1000.9,2278.3 L1002.4,2278.7 L1003.9,2279.0 L1005.4,2279.3 L1006.9,2279.6 L1008.4,2279.8 L1009.9,2280.1 L1011.4,2280.4 L1012.9,2280.7 L1014.4,2280.9 L1015.9,2281.2 L1017.4,2281.5 L1018.9,2281.7 L1020.4,2282.0 L1021.9,2282.2 L1023.4,2282.4 L1024.9,2282.7 L1026.4,2282.9 L1027.9,2283.2 L1029.4,2283.4 L1030.9,2283.6 L1032.4,2283.8 L1033.9,2284.1 L1035.4,2284.3 L1036.9,2284.5 L1038.4,2284.7 L1039.9,2284.9 L1041.4,2285.1 L1042.9,2285.3 L1044.4,2285.5 L1045.9,2285.7 L1047.4,2285.9 L1048.9,2286.1 L1050.4,2286.3 L1051.9,2286.5 L1053.4,2286.6 L1054.9,2286.8 L1056.4,2287.0 L1057.9,2287.1 L1059.4,2287.3 L1060.9,2287.5 L1062.4,2287.6 L1063.9,2287.8 L1065.4,2287.9 L1066.9,2288.0 L1068.4,2288.2 L1069.9,2288.3 L1071.4,2288.4 L1072.9,2288.5 L1074.4,2288.6 L1075.9,2288.8 L1077.4,2288.9 L1078.9,2289.0 L1080.4,2289.1 L1081.9,2289.2 L1083.4,2289.2 L1084.9,2289.3 L1086.4,2289.4 L1087.9,2289.5 L1089.4,2289.6 L1090.9,2289.7 L1092.4,2289.8 L1093.9,2289.8 L1095.4,2289.9 L1096.9,2290.0 L1098.4,2290.1 L1099.9,2290.2 L1101.4,2290.3 L1102.9,2290.4 L1104.4,2290.4 L1105.9,2290.5 L1107.4,2290.6 L1108.9,2290.7 L1110.4,2290.8 L1111.9,2290.9 L1113.4,2291.1 L1114.9,2291.2 L1116.4,2291.3 L1117.9,2291.4 L1119.4,2291.6 L1120.9,2291.7 L1122.4,2291.8 L1123.9,2292.0 L1125.4,2292.1 L1126.9,2292.3 L1128.4,2292.4 L1129.9,2292.6 L1131.4,2292.7 L1132.9,2292.9 L1134.4,2293.1 L1135.9,2293.3 L1137.4,2293.4 L1138.9,2293.6 L1140.4,2293.8 L1141.9,2294.0 L1143.4,2294.2 L1144.9,2294.4 L1146.4,2294.6 L1147.9,2294.8 L1149.4,2295.0 L1150.9,2295.2 L1152.4,2295.4 L1153.9,2295.6 L1155.4,2295.8 L1156.9,2296.0 L1158.4,2296.2 L1159.9,2296.5 L1161.4,2296.7 L1162.9,2296.9 L1164.4,2297.1 L1165.9,2297.4 L1167.4,2297.6 L1168.9,2297.8 L1170.4,2298.1 L1171.9,2298.3 L1173.4,2298.6 L1174.9,2298.8 L1176.4,2299.1 L1177.9,2299.3 L1179.4,2299.6 L1180.9,2299.8" fill="none" stroke="#000" stroke-width="2"/>
<path d="M155.1,2184.4a10,9 0 1,0 20,0a10,9 0 1,0 -20,0M166.4,2180.3a10,9 0 1,0 20,0a10,9 0 1,0 -20,0M177.6,2176.7a10,9 0 1,0 20,0a10,9 0 1,0 -20,0M188.9,2173.7a10,9 0 1,0 20,0a10,9 0 1,0 -20,0M200.1,2170.0a10,9 0 1,0 20,0a10,9 0 1,0 -20,0M211.4,2164.4a10,9 0 1,0 20,0a10,9 0 1,0 -20,0M222.6,2157.1a10,9 0 1,0 20,0a10,9 0 1,0 -20,0M233.9,2148.8a10,9 0 1,0 20,0a10,9 0 1,0 -20,0M245.1,2138.8a10,9 0 1,0 20,0a10,9 0 1,0 -20,0M256.4,2128.1a10,9 0 1,0 20,0a10,9 0 1,0 -20,0M267.6,2116.2a10,9 0 1,0 20,0a10,9 0 1,0 -20,0M278.9,2101.6a10,9 0 1,0 20,0a10,9 0 1,0 -20,0M290.1,2079.9a10,9 0 1,0 20,0a10,9 0 1,0 -20,0M301.4,2048.8a10,9 0 1,0 20,0a10,9 0 1,0 -20,0M312.6,2013.4a10,9 0 1,0 20,0a10,9 0 1,0 -20,0M323.9,1949.5a10,9 0 1,0 20,0a10,9 0 1,0 -20,0M335.1,1886.8a10,9 0 1,0 20,0a10,9 0 1,0 -20,0M346.4,1786.0a10,9 0 1,0 20,0a10,9 0 1,0 -20,0M357.6,1671.2a10,9 0 1,0 20,0a10,9 0 1,0 -20,0M368.9,1557.8a10,9 0 1,0 20,0a10,9 0 1,0 -20,0M380.1,1439.9a10,9 0 1,0 20,0a10,9 0 1,0 -20,0M391.4,1395.0a10,9 0 1,0 20,0a10,9 0 1,0 -20,0M402.6,1407.8a10,9 0 1,0 20,0a10,9 0 1,0 -20,0M413.9,1472.9a10,9 0 1,0 20,0a10,9 0 1,0 -20,0M425.1,1575.8a10,9 0 1,0 20,0a10,9 0 1,0 -20,0M436.4,1693.2a10,9 0 1,0 20,0a10,9 0 1,0 -20,0M447.6,1792.0a10,9 0 1,0 20,0a10,9 0 1,0 -20,0M458.9,1888.5a10,9 0 1,0 20,0a10,9 0 1,0 -20,0M470.1,1957.0a10,9 0 1,0 20,0a10,9 0 1,0 -20,0M481.4,2011.6a10,9 0 1,0 20,0a10,9 0 1,0 -20,0M492.6,2046.1a10,9 0 1,0 20,0a10,9 0 1,0 -20,0M503.9,2070.7a10,9 0 1,0 20,0a10,9 0 1,0 -20,0M515.1,2085.1a10,9 0 1,0 20,0a10,9 0 1,0 -20,0M526.4,2095.7a10,9 0 1,0 20,0a10,9 0 1,0 -20,0M537.6,2102.7a10,9 0 1,0 20,0a10,9 0 1,0 -20,0M548.9,2107.2a10,9 0 1,0 20,0a10,9 0 1,0 -20,0M560.1,2110.0a10,9 0 1,0 20,0a10,9 0 1,0 -20,0M571.4,2112.4a10,9 0 1,0 20,0a10,9 0 1,0 -20,0M582.6,2113.6a10,9 0 1,0 20,0a10,9 0 1,0 -20,0M593.9,2113.9a10,9 0 1,0 20,0a10,9 0 1,0 -20,0M605.1,2112.7a10,9 0 1,0 20,0a10,9 0 1,0 -20,0M616.4,2108.9a10,9 0 1,0 20,0a10,9 0 1,0 -20,0M627.6,2104.4a10,9 0 1,0 20,0a10,9 0 1,0 -20,0M638.9,2100.0a10,9 0 1,0 20,0a10,9 0 1,0 -20,0M650.1,2094.8a10,9 0 1,0 20,0a10,9 0 1,0 -20,0M661.4,2088.8a10,9 0 1,0 20,0a10,9 0 1,0 -20,0M672.6,2081.4a10,9 0 1,0 20,0a10,9 0 1,0 -20,0M683.9,2073.1a10,9 0 1,0 20,0a10,9 0 1,0 -20,0M695.1,2064.9a10,9 0 1,0 20,0a10,9 0 1,0 -20,0M706.4,2049.5a10,9 0 1,0 20,0a10,9 0 1,0 -20,0M717.6,2017.4a10,9 0 1,0 20,0a10,9 0 1,0 -20,0M728.9,1943.8a10,9 0 1,0 20,0a10,9 0 1,0 -20,0M740.1,1838.7a10,9 0 1,0 20,0a10,9 0 1,0 -20,0M751.4,1711.6a10,9 0 1,0 20,0a10,9 0 1,0 -20,0M762.6,1560.2a10,9 0 1,0 20,0a10,9 0 1,0 -20,0M773.9,1483.1a10,9 0 1,0 20,0a10,9 0 1,0 -20,0M785.1,1490.2a10,9 0 1,0 20,0a10,9 0 1,0 -20,0M796.4,1589.9a10,9 0 1,0 20,0a10,9 0 1,0 -20,0M807.6,1763.3a10,9 0 1,0 20,0a10,9 0 1,0 -20,0M818.9,1897.2a10,9 0 1,0 20,0a10,9 0 1,0 -20,0M830.1,2020.5a10,9 0 1,0 20,0a10,9 0 1,0 -20,0M841.4,2095.7a10,9 0 1,0 20,0a10,9 0 1,0 -20,0M852.6,2145.1a10,9 0 1,0 20,0a10,9 0 1,0 -20,0M863.9,2184.9a10,9 0 1,0 20,0a10,9 0 1,0 -20,0M875.1,2206.8a10,9 0 1,0 20,0a10,9 0 1,0 -20,0M886.4,2225.8a10,9 0 1,0 20,0a10,9 0 1,0 -20,0M897.6,2235.3a10,9 0 1,0 20,0a10,9 0 1,0 -20,0M908.9,2246.1a10,9 0 1,0 20,0a10,9 0 1,0 -20,0M920.1,2255.1a10,9 0 1,0 20,0a10,9 0 1,0 -20,0M931.4,2260.8a10,9 0 1,0 20,0a10,9 0 1,0 -20,0M942.6,2265.2a10,9 0 1,0 20,0a10,9 0 1,0 -20,0M953.9,2268.9a10,9 0 1,0 20,0a10,9 0 1,0 -20,0M965.1,2272.1a10,9 0 1,0 20,0a10,9 0 1,0 -20,0M976.4,2275.1a10,9 0 1,0 20,0a10,9 0 1,0 -20,0M987.6,2277.7a10,9 0 1,0 20,0a10,9 0 1,0 -20,0M998.9,2279.9a10,9 0 1,0 20,0a10,9 0 1,0 -20,0M1010.1,2281.9a10,9 0 1,0 20,0a10,9 0 1,0 -20,0M1021.4,2283.7a10,9 0 1,0 20,0a10,9 0 1,0 -20,0M1032.7,2285.3a10,9 0 1,0 20,0a10,9 0 1,0 -20,0M1043.9,2286.7a10,9 0 1,0 20,0a10,9 0 1,0 -20,0M1055.2,2287.9a10,9 0 1,0 20,0a10,9 0 1,0 -20,0M1066.4,2288.8a10,9 0 1,0 20,0a10,9 0 1,0 -20,0M1077.7,2289.5a10,9 0 1,0 20,0a10,9 0 1,0 -20,0M1088.9,2290.1a10,9 0 1,0 20,0a10,9 0 1,0 -20,0M1100.2,2290.8a10,9 0 1,0 20,0a10,9 0 1,0 -20,0M1111.4,2291.7a10,9 0 1,0 20,0a10,9 0 1,0 -20,0M1122.7,2292.9a10,9 0 1,0 20,0a10,9 0 1,0 -20,0M1133.9,2294.2a10,9 0 1,0 20,0a10,9 0 1,0 -20,0M1145.2,2295.8a10,9 0 1,0 20,0a10,9 0 1,0 -20,0M1156.4,2297.4a10,9 0 1,0 20,0a10,9 0 1,0 -20,0M1167.7,2299.3a10,9 0 1,0 20,0a10,9 0 1,0 -20,0" fill="#FF0000"/>
<path d="M163.8,2224.0 L165.3,2224.0 L166.8,2224.0 L168.3,2224.0 L169.8,2224.0 L171.3,2224.0 L172.8,2224.0 L174.3,2224.0 L175.8,2224.0 L177.3,2224.0 L178.8,2224.1 L180.3,2224.1 L181.8,2224.1 L183.3,2224.1 L184.8,2224.1 L186.3,2224.1 L187.8,2224.1 L189.3,2224.2 L190.8,2224.2 L192.3,2224.2 L193.8,2224.2 L195.3,2224.2 L196.8,2224.3 L198.3,2224.3 L199.8,2224.3 L201.3,2224.3 L202.8,2224.4 L204.3,2224.4 L205.8,2224.4 L207.3,2224.5 L208.8,2224.5 L210.3,2224.5 L211.8,2224.6 L213.3,2224.6 L214.8,2224.6 L216.3,2224.7 L217.8,2224.7 L219.3,2224.7 L220.8,2224.8 L222.3,2224.8 L223.8,2224.8 L225.3,2224.9 L226.8,2224.9 L228.3,2225.0 L229.8,2225.0 L231.3,2225.1 L232.8,2225.1 L234.3,2225.1 L235.8,2225.2 L237.3,2225.2 L238.8,2225.3 L240.3,2225.3 L241.8,2225.4 L243.3,2225.4 L244.8,2225.5 L246.3,2225.5 L247.8,2225.6 L249.3,2225.6 L250.8,2225.7 L252.3,2225.7 L253.8,2225.8 L255.3,2225.8 L256.8,2225.9 L258.3,2225.9 L259.8,2226.0 L261.3,2226.0 L262.8,2226.1 L264.3,2226.1 L265.8,2226.2 L267.3,2226.3 L268.8,2226.3 L270.3,2226.4 L271.8,2226.4 L273.3,2226.5 L274.8,2226.5 L276.3,2226.6 L277.8,2226.7 L279.3,2226.7 L280.8,2226.8 L282.3,2226.8 L283.8,2226.9 L285.3,2227.0 L286.8,2227.0 L288.3,2227.1 L289.8,2227.1 L291.3,2227.2 L292.8,2227.3 L294.3,2227.3 L295.8,2227.4 L297.3,2227.5 L298.8,2227.5 L300.3,2227.6 L301.8,2227.6 L303.3,2227.7 L304.8,2227.8 L306.3,2227.8 L307.8,2227.9 L309.3,2228.0 L310.8,2228.0 L312.3,2228.1 L313.8,2228.2 L315.3,2228.2 L316.8,2228.3 L318.3,2228.3 L319.8,2228.4 L321.3,2228.5 L322.8,2228.5 L324.3,2228.6 L325.8,2228.7 L327.3,2228.7 L328.8,2228.8 L330.3,2228.9 L331.8,2228.9 L333.3,2229.0 L334.8,2229.1 L336.3,2229.1 L337.8,2229.2 L339.3,2229.3 L340.8,2229.4 L342.3,2229.4 L343.8,2229.5 L345.3,2229.6 L346.8,2229.7 L348.3,2229.8 L349.8,2229.9 L351.3,2230.1 L352.8,2230.2 L354.3,2230.3 L355.8,2230.5 L357.3,2230.6 L358.8,2230.8 L360.3,2230.9 L361.8,2231.1 L363.3,2231.4 L364.8,2231.8 L366.3,2232.2 L367.8,2232.7 L369.3,2233.4 L370.8,2234.0 L372.3,2234.7 L373.8,2235.5 L375.3,2236.3 L376.8,2237.1 L378.3,2237.9 L379.8,2238.8 L381.3,2239.6 L382.8,2240.4 L384.3,2241.2 L385.8,2242.0 L387.3,2242.8 L388.8,2243.5 L390.3,2244.1 L391.8,2244.7 L393.3,2245.3 L394.8,2245.8 L396.3,2246.3 L397.8,2246.9 L399.3,2247.4 L400.8,2247.9 L402.3,2248.4 L403.8,2248.9 L405.3,2249.4 L406.8,2249.9 L408.3,2250.4 L409.8,2250.9 L411.3,2251.4 L412.8,2251.9 L414.3,2252.4 L415.8,2252.8 L417.3,2253.3 L418.8,2253.7 L420.3,2254.2 L421.8,2254.6 L423.3,2255.1 L424.8,2255.5 L426.3,2255.9 L427.8,2256.3 L429.3,2256.7 L430.8,2257.1 L432.3,2257.5 L433.8,2257.9 L435.3,2258.2 L436.8,2258.6 L438.3,2258.9 L439.8,2259.3 L441.3,2259.6 L442.8,2259.9 L444.3,2260.2 L445.8,2260.5 L447.3,2260.8 L448.8,2261.0 L450.3,2261.3 L451.8,2261.5 L453.3,2261.8 L454.8,2262.0 L456.3,2262.3 L457.8,2262.5 L459.3,2262.8 L460.8,2263.0 L462.3,2263.2 L463.8,2263.4 L465.3,2263.7 L466.8,2263.9 L468.3,2264.1 L469.8,2264.3 L471.3,2264.5 L472.8,2264.7 L474.3,2264.9 L475.8,2265.1 L477.3,2265.3 L478.8,2265.4 L480.3,2265.6 L481.8,2265.8 L483.3,2266.0 L484.8,2266.1 L486.3,2266.3 L487.8,2266.5 L489.3,2266.6 L490.8,2266.8 L492.3,2266.9 L493.8,2267.1 L495.3,2267.2 L496.8,2267.3 L498.3,2267.5 L499.8,2267.6 L501.3,2267.7 L502.8,2267.8 L504.3,2268.0 L505.8,2268.1 L507.3,2268.2 L508.8,2268.3 L510.3,2268.4 L511.8,2268.5 L513.3,2268.6 L514.8,2268.7 L516.3,2268.8 L517.8,2268.9 L519.3,2269.0 L520.8,2269.1 L522.3,2269.2 L523.8,2269.3 L525.3,2269.3 L526.8,2269.4 L528.3,2269.5 L529.8,2269.6 L531.3,2269.7 L532.8,2269.8 L534.3,2269.8 L535.8,2269.9 L537.3,2270.0 L538.8,2270.1 L540.3,2270.1 L541.8,2270.2 L543.3,2270.3 L544.8,2270.3 L546.3,2270.4 L547.8,2270.5 L549.3,2270.5 L550.8,2270.6 L552.3,2270.7 L553.8,2270.7 L555.3,2270.8 L556.8,2270.9 L558.3,2270.9 L559.8,2271.0 L561.3,2271.1 L562.8,2271.1 L564.3,2271.2 L565.8,2271.2 L567.3,2271.3 L568.8,2271.3 L570.3,2271.4 L571.8,2271.4 L573.3,2271.5 L574.8,2271.6 L576.3,2271.6 L577.8,2271.6 L579.3,2271.7 L580.8,2271.7 L582.3,2271.8 L583.8,2271.8 L585.3,2271.9 L586.8,2271.9 L588.3,2272.0 L589.8,2272.0 L591.3,2272.0 L592.8,2272.1 L594.3,2272.1 L595.8,2272.2 L597.3,2272.2 L598.8,2272.2 L600.3,2272.3 L601.8,2272.3 L603.3,2272.4 L604.8,2272.4 L606.3,2272.4 L607.8,2272.5 L609.3,2272.5 L610.8,2272.6 L612.3,2272.6 L613.8,2272.7 L615.3,2272.7 L616.8,2272.7 L618.3,2272.8 L619.8,2272.8 L621.3,2272.9 L622.8,2272.9 L624.3,2273.0 L625.8,2273.0 L627.3,2273.1 L628.8,2273.1 L630.3,2273.2 L631.8,2273.2 L633.3,2273.3 L634.8,2273.3 L636.3,2273.4 L637.8,2273.5 L639.3,2273.5 L640.8,2273.6 L642.3,2273.7 L643.8,2273.7 L645.3,2273.8 L646.8,2273.9 L648.3,2273.9 L649.8,2274.0 L651.3,2274.1 L652.8,2274.2 L654.3,2274.2 L655.8,2274.3 L657.3,2274.4 L658.8,2274.5 L660.3,2274.6 L661.8,2274.7 L663.3,2274.8 L664.8,2274.9 L666.3,2275.0 L667.8,2275.1 L669.3,2275.3 L670.8,2275.4 L672.3,2275.5 L673.8,2275.6 L675.3,2275.7 L676.8,2275.9 L678.3,2276.0 L679.8,2276.1 L681.3,2276.3 L682.8,2276.4 L684.3,2276.5 L685.8,2276.7 L687.3,2276.8 L688.8,2277.0 L690.3,2277.1 L691.8,2277.3 L693.3,2277.4 L694.8,2277.6 L696.3,2277.8 L697.8,2277.9 L699.3,2278.1 L700.8,2278.3 L702.3,2278.4 L703.8,2278.6 L705.3,2278.8 L706.8,2279.0 L708.3,2279.1 L709.8,2279.3 L711.3,2279.5 L712.8,2279.7 L714.3,2279.9 L715.8,2280.1 L717.3,2280.2 L718.8,2280.4 L720.3,2280.6 L721.8,2280.8 L723.3,2281.0 L724.8,2281.2 L726.3,2281.4 L727.8,2281.6 L729.3,2281.8 L730.8,2282.1 L732.3,2282.3 L733.8,2282.5 L735.3,2282.7 L736.8,2282.9 L738.3,2283.1 L739.8,2283.3 L741.3,2283.6 L742.8,2283.9 L744.3,2284.1 L745.8,2284.4 L747.3,2284.7 L748.8,2285.0 L750.3,2285.3 L751.8,2285.7 L753.3,2286.0 L754.8,2286.3 L756.3,2286.7 L757.8,2287.0 L759.3,2287.4 L760.8,2287.8 L762.3,2288.2 L763.8,2288.5 L765.3,2288.9 L766.8,2289.3 L768.3,2289.7 L769.8,2290.1 L771.3,2290.5 L772.8,2290.9 L774.3,2291.3 L775.8,2291.7 L777.3,2292.1 L778.8,2292.5 L780.3,2292.8 L781.8,2293.2 L783.3,2293.6 L784.8,2294.0 L786.3,2294.4 L787.8,2294.7 L789.3,2295.1 L790.8,2295.4 L792.3,2295.8 L793.8,2296.1 L795.3,2296.4 L796.8,2296.8 L798.3,2297.1 L799.8,2297.4 L801.3,2297.6 L802.8,2297.9 L804.3,2298.2 L805.8,2298.4 L807.3,2298.7 L808.8,2299.0 L810.3,2299.2 L811.8,2299.5 L813.3,2299.7 L814.8,2300.0 L816.3,2300.2 L817.8,2300.5 L819.3,2300.7 L820.8,2301.0 L822.3,2301.2 L823.8,2301.5 L825.3,2301.7 L826.8,2302.0 L828.3,2302.2 L829.8,2302.4 L831.3,2302.7 L832.8,2302.9 L834.3,2303.1 L835.8,2303.3 L837.3,2303.5 L838.8,2303.7 L840.3,2303.9 L841.8,2304.1 L843.3,2304.3 L844.8,2304.5 L846.3,2304.7 L847.8,2304.9 L849.3,2305.0 L850.8,2305.2 L852.3,2305.3 L853.8,2305.5 L855.3,2305.6 L856.8,2305.8 L858.3,2305.9 L859.8,2306.0 L861.3,2306.1 L862.8,2306.2 L864.3,2306.3 L865.8,2306.4 L867.3,2306.5 L868.8,2306.6 L870.3,2306.7 L871.8,2306.7 L873.3,2306.8 L874.8,2306.9 L876.3,2307.0 L877.8,2307.1 L879.3,2307.1 L880.8,2307.2 L882.3,2307.3 L883.8,2307.3 L885.3,2307.4 L886.8,2307.5 L888.3,2307.5 L889.8,2307.6 L891.3,2307.7 L892.8,2307.7 L894.3,2307.8 L895.8,2307.8 L897.3,2307.9 L898.8,2308.0 L900.3,2308.0 L901.8,2308.1 L903.3,2308.1 L904.8,2308.2 L906.3,2308.2 L907.8,2308.3 L909.3,2308.3 L910.8,2308.4 L912.3,2308.5 L913.8,2308.5 L915.3,2308.6 L916.8,2308.6 L918.3,2308.7 L919.8,2308.7 L921.3,2308.8 L922.8,2308.8 L924.3,2308.9 L925.8,2308.9 L927.3,2309.0 L928.8,2309.0 L930.3,2309.0 L931.8,2309.1 L933.3,2309.1 L934.8,2309.2 L936.3,2309.2 L937.8,2309.3 L939.3,2309.3 L940.8,2309.4 L942.3,2309.4 L943.8,2309.4 L945.3,2309.5 L946.8,2309.5 L948.3,2309.6 L949.8,2309.6 L951.3,2309.7 L952.8,2309.7 L954.3,2309.7 L955.8,2309.8 L957.3,2309.8 L958.8,2309.9 L960.3,2309.9 L961.8,2309.9 L963.3,2310.0 L964.8,2310.0 L966.3,2310.1 L967.8,2310.1 L969.3,2310.2 L970.8,2310.2 L972.3,2310.2 L973.8,2310.3 L975.3,2310.3 L976.8,2310.4 L978.3,2310.4 L979.8,2310.4 L981.3,2310.5 L982.8,2310.5 L984.3,2310.6 L985.8,2310.6 L987.3,2310.6 L988.8,2310.7 L990.3,2310.7 L991.8,2310.8 L993.3,2310.8 L994.8,2310.9 L996.3,2310.9 L997.8,2310.9 L999.3,2311.0 L1000.8,2311.0 L1002.3,2311.1 L1003.8,2311.1 L1005.3,2311.2 L1006.8,2311.2 L1008.3,2311.2 L1009.8,2311.3 L1011.3,2311.3 L1012.8,2311.4 L1014.3,2311.4 L1015.8,2311.5 L1017.3,2311.5 L1018.8,2311.5 L1020.3,2311.6 L1021.8,2311.6 L1023.3,2311.7 L1024.8,2311.7 L1026.3,2311.8 L1027.8,2311.8 L1029.3,2311.8 L1030.8,2311.9 L1032.3,2311.9 L1033.8,2312.0 L1035.3,2312.0 L1036.8,2312.1 L1038.3,2312.1 L1039.8,2312.1 L1041.3,2312.2 L1042.8,2312.2 L1044.3,2312.3 L1045.8,2312.3 L1047.3,2312.4 L1048.8,2312.4 L1050.3,2312.4 L1051.8,2312.5 L1053.3,2312.5 L1054.8,2312.6 L1056.3,2312.6 L1057.8,2312.7 L1059.3,2312.7 L1060.8,2312.7 L1062.3,2312.8 L1063.8,2312.8 L1065.3,2312.9 L1066.8,2312.9 L1068.3,2313.0 L1069.8,2313.0 L1071.3,2313.0 L1072.8,2313.1 L1074.3,2313.1 L1075.8,2313.2 L1077.3,2313.2 L1078.8,2313.2 L1080.3,2313.3 L1081.8,2313.3 L1083.3,2313.4 L1084.8,2313.4 L1086.3,2313.5 L1087.8,2313.5 L1089.3,2313.5 L1090.8,2313.6 L1092.3,2313.6 L1093.8,2313.7 L1095.3,2313.7 L1096.8,2313.7 L1098.3,2313.8 L1099.8,2313.8 L1101.3,2313.9 L1102.8,2313.9 L1104.3,2314.0 L1105.8,2314.0 L1107.3,2314.0 L1108.8,2314.1 L1110.3,2314.1 L1111.8,2314.2 L1113.3,2314.2 L1114.8,2314.2 L1116.3,2314.3 L1117.8,2314.3 L1119.3,2314.4 L1120.8,2314.4 L1122.3,2314.5 L1123.8,2314.5 L1125.3,2314.5 L1126.8,2314.6 L1128.3,2314.6 L1129.8,2314.7 L1131.3,2314.7 L1132.8,2314.7 L1134.3,2314.8 L1135.8,2314.8 L1137.3,2314.9 L1138.8,2314.9 L1140.3,2314.9 L1141.8,2315.0 L1143.3,2315.0 L1144.8,2315.1 L1146.3,2315.1 L1147.8,2315.1 L1149.3,2315.2 L1150.8,2315.2 L1152.3,2315.3 L1153.8,2315.3 L1155.3,2315.3 L1156.8,2315.4 L1158.3,2315.4 L1159.8,2315.5 L1161.3,2315.5 L1162.8,2315.5 L1164.3,2315.6 L1165.8,2315.6 L1167.3,2315.7 L1168.8,2315.7 L1170.3,2315.7 L1171.8,2315.8 L1173.3,2315.8 L1174.8,2315.9 L1176.3,2315.9 L1177.8,2315.9 L1179.3,2316.0" fill="none" stroke="#00FF00" stroke-width="8" stroke-linejoin="round" stroke-linecap="round"/>
<path d="M162.4,2216.3 L163.9,2216.3 L165.4,2216.3 L166.9,2216.3 L168.4,2216.3 L169.9,2216.3 L171.4,2216.3 L172.9,2216.3 L174.4,2216.3 L175.9,2216.3 L177.4,2216.3 L178.9,2216.3 L180.4,2216.3 L181.9,2216.3 L183.4,2216.3 L184.9,2216.3 L186.4,2216.3 L187.9,2216.3 L189.4,2216.3 L190.9,2216.3 L192.4,2216.3 L193.9,2216.3 L195.4,2216.3 L196.9,2216.3 L198.4,2216.3 L199.9,2216.3 L201.4,2216.3 L202.9,2216.3 L204.4,2216.3 L205.9,2216.3 L207.4,2216.3 L208.9,2216.3 L210.4,2216.3 L211.9,2216.3 L213.4,2216.3 L214.9,2216.3 L216.4,2216.3 L217.9,2216.3 L219.4,2216.3 L220.9,2216.3 L222.4,2216.3 L223.9,2216.3 L225.4,2216.3 L226.9,2216.3 L228.4,2216.3 L229.9,2216.3 L231.4,2216.3 L232.9,2216.3 L234.4,2216.3 L235.9,2216.3 L237.4,2216.3 L238.9,2216.3 L240.4,2216.3 L241.9,2216.3 L243.4,2216.3 L244.9,2216.3 L246.4,2216.3 L247.9,2216.3 L249.4,2216.3 L250.9,2216.3 L252.4,2216.3 L253.9,2216.3 L255.4,2216.3 L256.9,2216.3 L258.4,2216.3 L259.9,2216.3 L261.4,2216.3 L262.9,2216.3 L264.4,2216.3 L265.9,2216.3 L267.4,2216.3 L268.9,2216.3 L270.4,2216.3 L271.9,2216.3 L273.4,2216.3 L274.9,2216.3 L276.4,2216.3 L277.9,2216.3 L279.4,2216.3 L280.9,2216.3 L282.4,2216.3 L283.9,2216.3 L285.4,2216.3 L286.9,2216.3 L288.4,2216.3 L289.9,2216.3 L291.4,2216.3 L292.9,2216.3 L294.4,2216.3 L295.9,2216.3 L297.4,2216.3 L298.9,2216.3 L300.4,2216.3 L301.9,2216.3 L303.4,2216.3 L304.9,2216.3 L306.4,2216.3 L307.9,2216.3 L309.4,2216.3 L310.9,2216.3 L312.4,2216.3 L313.9,2216.3 L315.4,2216.3 L316.9,2216.3 L318.4,2216.3 L319.9,2216.3 L321.4,2216.3 L322.9,2216.3 L324.4,2216.3 L325.9,2216.3 L327.4,2216.3 L328.9,2216.3 L330.4,2216.3 L331.9,2216.3 L333.4,2216.3 L334.9,2216.3 L336.4,2216.3 L337.9,2216.3 L339.4,2216.3 L340.9,2216.3 L342.4,2216.3 L343.9,2216.3 L345.4,2216.3 L346.9,2216.3 L348.4,2216.3 L349.9,2216.3 L351.4,2216.3 L352.9,2216.3 L354.4,2216.3 L355.9,2216.3 L357.4,2216.3 L358.9,2216.3 L360.4,2216.3 L361.9,2216.3 L363.4,2216.3 L364.9,2216.3 L366.4,2216.3 L367.9,2216.4 L369.4,2216.5 L370.9,2216.7 L372.4,2216.8 L373.9,2217.0 L375.4,2217.3 L376.9,2217.5 L378.4,2217.8 L379.9,2218.1 L381.4,2218.4 L382.9,2218.8 L384.4,2219.1 L385.9,2219.5 L387.4,2219.9 L388.9,2220.2 L390.4,2220.6 L391.9,2221.0 L393.4,2221.4 L394.9,2221.8 L396.4,2222.2 L397.9,2222.6 L399.4,2223.0 L400.9,2223.3 L402.4,2223.7 L403.9,2224.0 L405.4,2224.3 L406.9,2224.6 L408.4,2224.9 L409.9,2225.2 L411.4,2225.4 L412.9,2225.6 L414.4,2225.8 L415.9,2225.9 L417.4,2226.0 L418.9,2226.1 L420.4,2226.1 L421.9,2226.1 L423.4,2226.1 L424.9,2226.1 L426.4,2226.1 L427.9,2226.1 L429.4,2226.1 L430.9,2226.1 L432.4,2226.1 L433.9,2226.1 L435.4,2226.1 L436.9,2226.1 L438.4,2226.1 L439.9,2226.1 L441.4,2226.1 L442.9,2226.1 L444.4,2226.1 L445.9,2226.1 L447.4,2226.1 L448.9,2226.1 L450.4,2226.1 L451.9,2226.0 L453.4,2226.0 L454.9,2225.9 L456.4,2225.7 L457.9,2225.6 L459.4,2225.4 L460.9,2225.2 L462.4,2225.0 L463.9,2224.8 L465.4,2224.5 L466.9,2224.3 L468.4,2224.0 L469.9,2223.7 L471.4,2223.4 L472.9,2223.1 L474.4,2222.8 L475.9,2222.4 L477.4,2222.1 L478.9,2221.8 L480.4,2221.4 L481.9,2221.1 L483.4,2220.7 L484.9,2220.4 L486.4,2220.0 L487.9,2219.7 L489.4,2219.3 L490.9,2219.0 L492.4,2218.7 L493.9,2218.3 L495.4,2218.0 L496.9,2217.7 L498.4,2217.4 L499.9,2217.1 L501.4,2216.9 L502.9,2216.6 L504.4,2216.4 L505.9,2216.1 L507.4,2215.9 L508.9,2215.7 L510.4,2215.5 L511.9,2215.3 L513.4,2215.1 L514.9,2214.9 L516.4,2214.7 L517.9,2214.5 L519.4,2214.3 L520.9,2214.1 L522.4,2213.9 L523.9,2213.7 L525.4,2213.5 L526.9,2213.3 L528.4,2213.1 L529.9,2212.9 L531.4,2212.7 L532.9,2212.5 L534.4,2212.3 L535.9,2212.1 L537.4,2211.9 L538.9,2211.7 L540.4,2211.4 L541.9,2211.2 L543.4,2210.9 L544.9,2210.6 L546.4,2210.3 L547.9,2210.0 L549.4,2209.6 L550.9,2209.3 L552.4,2208.9 L553.9,2208.6 L555.4,2208.2 L556.9,2207.8 L558.4,2207.5 L559.9,2207.1 L561.4,2206.8 L562.9,2206.4 L564.4,2206.1 L565.9,2205.8 L567.4,2205.5 L568.9,2205.2 L570.4,2204.9 L571.9,2204.7 L573.4,2204.5 L574.9,2204.3 L576.4,2204.1 L577.9,2204.0 L579.4,2203.9 L580.9,2203.9 L582.4,2203.9 L583.9,2204.0 L585.4,2204.1 L586.9,2204.2 L588.4,2204.4 L589.9,2204.7 L591.4,2205.0 L592.9,2205.3 L594.4,2205.7 L595.9,2206.1 L597.4,2206.5 L598.9,2207.0 L600.4,2207.4 L601.9,2208.0 L603.4,2208.5 L604.9,2209.0 L606.4,2209.6 L607.9,2210.2 L609.4,2210.8 L610.9,2211.4 L612.4,2212.0 L613.9,2212.6 L615.4,2213.3 L616.9,2213.9 L618.4,2214.5 L619.9,2215.1 L621.4,2215.7 L622.9,2216.3 L624.4,2216.9 L625.9,2217.4 L627.4,2218.0 L628.9,2218.5 L630.4,2219.0 L631.9,2219.6 L633.4,2220.2 L634.9,2220.7 L636.4,2221.3 L637.9,2221.9 L639.4,2222.6 L640.9,2223.2 L642.4,2223.8 L643.9,2224.5 L645.4,2225.1 L646.9,2225.7 L648.4,2226.4 L649.9,2227.0 L651.4,2227.7 L652.9,2228.3 L654.4,2228.9 L655.9,2229.6 L657.4,2230.2 L658.9,2230.8 L660.4,2231.5 L661.9,2232.1 L663.4,2232.7 L664.9,2233.2 L666.4,2233.8 L667.9,2234.4 L669.4,2234.9 L670.9,2235.5 L672.4,2236.0 L673.9,2236.5 L675.4,2237.0 L676.9,2237.4 L678.4,2237.9 L679.9,2238.4 L681.4,2238.8 L682.9,2239.3 L684.4,2239.7 L685.9,2240.2 L687.4,2240.6 L688.9,2241.0 L690.4,2241.5 L691.9,2241.9 L693.4,2242.3 L694.9,2242.7 L696.4,2243.2 L697.9,2243.6 L699.4,2244.0 L700.9,2244.4 L702.4,2244.9 L703.9,2245.3 L705.4,2245.7 L706.9,2246.2 L708.4,2246.6 L709.9,2247.1 L711.4,2247.5 L712.9,2248.0 L714.4,2248.4 L715.9,2248.9 L717.4,2249.4 L718.9,2249.9 L720.4,2250.4 L721.9,2250.9 L723.4,2251.5 L724.9,2252.0 L726.4,2252.5 L727.9,2253.1 L729.4,2253.6 L730.9,2254.2 L732.4,2254.7 L733.9,2255.3 L735.4,2255.8 L736.9,2256.4 L738.4,2256.9 L739.9,2257.5 L741.4,2258.0 L742.9,2258.6 L744.4,2259.1 L745.9,2259.7 L747.4,2260.2 L748.9,2260.7 L750.4,2261.3 L751.9,2261.8 L753.4,2262.3 L754.9,2262.8 L756.4,2263.3 L757.9,2263.7 L759.4,2264.2 L760.9,2264.7 L762.4,2265.1 L763.9,2265.6 L765.4,2266.0 L766.9,2266.5 L768.4,2266.9 L769.9,2267.3 L771.4,2267.8 L772.9,2268.2 L774.4,2268.7 L775.9,2269.1 L777.4,2269.5 L778.9,2269.9 L780.4,2270.4 L781.9,2270.8 L783.4,2271.2 L784.9,2271.6 L786.4,2272.0 L787.9,2272.4 L789.4,2272.8 L790.9,2273.3 L792.4,2273.7 L793.9,2274.1 L795.4,2274.4 L796.9,2274.8 L798.4,2275.2 L799.9,2275.6 L801.4,2276.0 L802.9,2276.4 L804.4,2276.8 L805.9,2277.1 L807.4,2277.5 L808.9,2277.9 L810.4,2278.2 L811.9,2278.6 L813.4,2279.0 L814.9,2279.3 L816.4,2279.7 L817.9,2280.0 L819.4,2280.4 L820.9,2280.7 L822.4,2281.1 L823.9,2281.4 L825.4,2281.7 L826.9,2282.1 L828.4,2282.4 L829.9,2282.7 L831.4,2283.1 L832.9,2283.4 L834.4,2283.8 L835.9,2284.1 L837.4,2284.4 L838.9,2284.7 L840.4,2285.1 L841.9,2285.4 L843.4,2285.7 L844.9,2286.1 L846.4,2286.4 L847.9,2286.7 L849.4,2287.0 L850.9,2287.4 L852.4,2287.7 L853.9,2288.0 L855.4,2288.3 L856.9,2288.6 L858.4,2288.9 L859.9,2289.2 L861.4,2289.5 L862.9,2289.8 L864.4,2290.1 L865.9,2290.4 L867.4,2290.7 L868.9,2291.0 L870.4,2291.3 L871.9,2291.6 L873.4,2291.8 L874.9,2292.1 L876.4,2292.4 L877.9,2292.7 L879.4,2292.9 L880.9,2293.2 L882.4,2293.4 L883.9,2293.7 L885.4,2293.9 L886.9,2294.2 L888.4,2294.4 L889.9,2294.6 L891.4,2294.8 L892.9,2295.0 L894.4,2295.3 L895.9,2295.5 L897.4,2295.7 L898.9,2295.9 L900.4,2296.0 L901.9,2296.2 L903.4,2296.4 L904.9,2296.6 L906.4,2296.8 L907.9,2297.0 L909.4,2297.1 L910.9,2297.3 L912.4,2297.5 L913.9,2297.7 L915.4,2297.8 L916.9,2298.0 L918.4,2298.2 L919.9,2298.3 L921.4,2298.5 L922.9,2298.7 L924.4,2298.8 L925.9,2299.0 L927.4,2299.1 L928.9,2299.3 L930.4,2299.5 L931.9,2299.6 L933.4,2299.8 L934.9,2299.9 L936.4,2300.1 L937.9,2300.2 L939.4,2300.4 L940.9,2300.5 L942.4,2300.6 L943.9,2300.8 L945.4,2300.9 L946.9,2301.1 L948.4,2301.2 L949.9,2301.3 L951.4,2301.5 L952.9,2301.6 L954.4,2301.7 L955.9,2301.9 L957.4,2302.0 L958.9,2302.1 L960.4,2302.2 L961.9,2302.4 L963.4,2302.5 L964.9,2302.6 L966.4,2302.7 L967.9,2302.8 L969.4,2303.0 L970.9,2303.1 L972.4,2303.2 L973.9,2303.3 L975.4,2303.4 L976.9,2303.5 L978.4,2303.6 L979.9,2303.7 L981.4,2303.8 L982.9,2303.9 L984.4,2304.0 L985.9,2304.1 L987.4,2304.2 L988.9,2304.3 L990.4,2304.4 L991.9,2304.5 L993.4,2304.6 L994.9,2304.7 L996.4,2304.8 L997.9,2304.9 L999.4,2305.0 L1000.9,2305.1 L1002.4,2305.1 L1003.9,2305.2 L1005.4,2305.3 L1006.9,2305.4 L1008.4,2305.5 L1009.9,2305.6 L1011.4,2305.6 L1012.9,2305.7 L1014.4,2305.8 L1015.9,2305.9 L1017.4,2306.0 L1018.9,2306.1 L1020.4,2306.1 L1021.9,2306.2 L1023.4,2306.3 L1024.9,2306.4 L1026.4,2306.5 L1027.9,2306.6 L1029.4,2306.6 L1030.9,2306.7 L1032.4,2306.8 L1033.9,2306.9 L1035.4,2307.0 L1036.9,2307.0 L1038.4,2307.1 L1039.9,2307.2 L1041.4,2307.3 L1042.9,2307.4 L1044.4,2307.4 L1045.9,2307.5 L1047.4,2307.6 L1048.9,2307.7 L1050.4,2307.8 L1051.9,2307.8 L1053.4,2307.9 L1054.9,2308.0 L1056.4,2308.1 L1057.9,2308.1 L1059.4,2308.2 L1060.9,2308.3 L1062.4,2308.4 L1063.9,2308.4 L1065.4,2308.5 L1066.9,2308.6 L1068.4,2308.7 L1069.9,2308.7 L1071.4,2308.8 L1072.9,2308.9 L1074.4,2308.9 L1075.9,2309.0 L1077.4,2309.1 L1078.9,2309.1 L1080.4,2309.2 L1081.9,2309.3 L1083.4,2309.3 L1084.9,2309.4 L1086.4,2309.5 L1087.9,2309.5 L1089.4,2309.6 L1090.9,2309.7 L1092.4,2309.7 L1093.9,2309.8 L1095.4,2309.9 L1096.9,2309.9 L1098.4,2310.0 L1099.9,2310.0 L1101.4,2310.1 L1102.9,2310.2 L1104.4,2310.2 L1105.9,2310.3 L1107.4,2310.3 L1108.9,2310.4 L1110.4,2310.4 L1111.9,2310.5 L1113.4,2310.6 L1114.9,2310.6 L1116.4,2310.7 L1117.9,2310.7 L1119.4,2310.8 L1120.9,2310.8 L1122.4,2310.9 L1123.9,2310.9 L1125.4,2310.9 L1126.9,2311.0 L1128.4,2311.0 L1129.9,2311.1 L1131.4,2311.1 L1132.9,2311.2 L1134.4,2311.2 L1135.9,2311.3 L1137.4,2311.3 L1138.9,2311.3 L1140.4,2311.4 L1141.9,2311.4 L1143.4,2311.4 L1144.9,2311.5 L1146.4,2311.5 L1147.9,2311.5 L1149.4,2311.6 L1150.9,2311.6 L1152.4,2311.6 L1153.9,2311.7 L1155.4,2311.7 L1156.9,2311.7 L1158.4,2311.7 L1159.9,2311.8 L1161.4,2311.8 L1162.9,2311.8 L1164.4,2311.8 L1165.9,2311.9 L1167.4,2311.9 L1168.9,2311.9 L1170.4,2311.9 L1171.9,2311.9 L1173.4,2311.9 L1174.9,2312.0 L1176.4,2312.0 L1177.9,2312.0 L1179.4,2312.0" fill="none" stroke="#9999FF" stroke-width="9.5" stroke-linejoin="round" stroke-linecap="round"/>
<path d="M162.4,2226.0 L163.9,2226.0 L165.4,2226.0 L166.9,2226.0 L168.4,2226.0 L169.9,2226.0 L171.4,2226.0 L172.9,2226.0 L174.4,2226.0 L175.9,2226.0 L177.4,2226.0 L178.9,2226.0 L180.4,2226.0 L181.9,2226.0 L183.4,2226.0 L184.9,2226.0 L186.4,2226.0 L187.9,2226.0 L189.4,2226.0 L190.9,2226.0 L192.4,2226.0 L193.9,2226.1 L195.4,2226.1 L196.9,2226.1 L198.4,2226.1 L199.9,2226.1 L201.4,2226.1 L202.9,2226.1 L204.4,2226.1 L205.9,2226.1 L207.4,2226.1 L208.9,2226.1 L210.4,2226.1 L211.9,2226.1 L213.4,2226.1 L214.9,2226.1 L216.4,2226.2 L217.9,2226.2 L219.4,2226.2 L220.9,2226.2 L222.4,2226.2 L223.9,2226.2 L225.4,2226.2 L226.9,2226.2 L228.4,2226.2 L229.9,2226.3 L231.4,2226.3 L232.9,2226.3 L234.4,2226.3 L235.9,2226.3 L237.4,2226.3 L238.9,2226.3 L240.4,2226.3 L241.9,2226.4 L243.4,2226.4 L244.9,2226.4 L246.4,2226.4 L247.9,2226.4 L249.4,2226.4 L250.9,2226.4 L252.4,2226.5 L253.9,2226.5 L255.4,2226.5 L256.9,2226.5 L258.4,2226.5 L259.9,2226.6 L261.4,2226.6 L262.9,2226.6 L264.4,2226.6 L265.9,2226.6 L267.4,2226.7 L268.9,2226.7 L270.4,2226.7 L271.9,2226.7 L273.4,2226.7 L274.9,2226.8 L276.4,2226.8 L277.9,2226.8 L279.4,2226.8 L280.9,2226.8 L282.4,2226.9 L283.9,2226.9 L285.4,2226.9 L286.9,2226.9 L288.4,2227.0 L289.9,2227.0 L291.4,2227.0 L292.9,2227.1 L294.4,2227.1 L295.9,2227.1 L297.4,2227.1 L298.9,2227.2 L300.4,2227.2 L301.9,2227.2 L303.4,2227.3 L304.9,2227.3 L306.4,2227.3 L307.9,2227.3 L309.4,2227.4 L310.9,2227.4 L312.4,2227.4 L313.9,2227.5 L315.4,2227.5 L316.9,2227.5 L318.4,2227.6 L319.9,2227.6 L321.4,2227.6 L322.9,2227.7 L324.4,2227.7 L325.9,2227.7 L327.4,2227.8 L328.9,2227.8 L330.4,2227.9 L331.9,2227.9 L333.4,2227.9 L334.9,2228.0 L336.4,2228.0 L337.9,2228.1 L339.4,2228.2 L340.9,2228.4 L342.4,2228.5 L343.9,2228.8 L345.4,2229.0 L346.9,2229.3 L348.4,2229.7 L349.9,2230.0 L351.4,2230.4 L352.9,2230.8 L354.4,2231.2 L355.9,2231.7 L357.4,2232.1 L358.9,2232.6 L360.4,2233.1 L361.9,2233.6 L363.4,2234.2 L364.9,2234.7 L366.4,2235.2 L367.9,2235.8 L369.4,2236.3 L370.9,2236.9 L372.4,2237.5 L373.9,2238.0 L375.4,2238.6 L376.9,2239.1 L378.4,2239.6 L379.9,2240.2 L381.4,2240.7 L382.9,2241.2 L384.4,2241.7 L385.9,2242.2 L387.4,2242.6 L388.9,2243.1 L390.4,2243.5 L391.9,2243.9 L393.4,2244.2 L394.9,2244.6 L396.4,2245.0 L397.9,2245.4 L399.4,2245.7 L400.9,2246.1 L402.4,2246.5 L403.9,2246.9 L405.4,2247.3 L406.9,2247.7 L408.4,2248.1 L409.9,2248.5 L411.4,2248.9 L412.9,2249.3 L414.4,2249.7 L415.9,2250.1 L417.4,2250.5 L418.9,2250.9 L420.4,2251.2 L421.9,2251.6 L423.4,2252.0 L424.9,2252.3 L426.4,2252.6 L427.9,2253.0 L429.4,2253.3 L430.9,2253.6 L432.4,2253.9 L433.9,2254.2 L435.4,2254.4 L436.9,2254.7 L438.4,2254.9 L439.9,2255.1 L441.4,2255.3 L442.9,2255.5 L444.4,2255.7 L445.9,2255.8 L447.4,2255.9 L448.9,2256.0 L450.4,2256.1 L451.9,2256.2 L453.4,2256.3 L454.9,2256.4 L456.4,2256.5 L457.9,2256.5 L459.4,2256.6 L460.9,2256.7 L462.4,2256.8 L463.9,2256.9 L465.4,2256.9 L466.9,2257.0 L468.4,2257.1 L469.9,2257.1 L471.4,2257.2 L472.9,2257.3 L474.4,2257.3 L475.9,2257.4 L477.4,2257.5 L478.9,2257.5 L480.4,2257.6 L481.9,2257.6 L483.4,2257.7 L484.9,2257.7 L486.4,2257.7 L487.9,2257.8 L489.4,2257.8 L490.9,2257.9 L492.4,2257.9 L493.9,2257.9 L495.4,2257.9 L496.9,2258.0 L498.4,2258.0 L499.9,2258.0 L501.4,2258.0 L502.9,2258.0 L504.4,2258.0 L505.9,2258.0 L507.4,2258.0 L508.9,2258.0 L510.4,2258.0 L511.9,2258.0 L513.4,2258.0 L514.9,2258.0 L516.4,2258.0 L517.9,2258.0 L519.4,2258.0 L520.9,2258.0 L522.4,2258.0 L523.9,2258.0 L525.4,2258.0 L526.9,2258.0 L528.4,2258.0 L529.9,2258.0 L531.4,2258.0 L532.9,2258.0 L534.4,2258.0 L535.9,2258.0 L537.4,2258.0 L538.9,2258.0 L540.4,2258.0 L541.9,2258.0 L543.4,2258.0 L544.9,2258.0 L546.4,2257.9 L547.9,2257.9 L549.4,2257.8 L550.9,2257.8 L552.4,2257.7 L553.9,2257.6 L555.4,2257.5 L556.9,2257.5 L558.4,2257.4 L559.9,2257.3 L561.4,2257.1 L562.9,2257.0 L564.4,2256.9 L565.9,2256.8 L567.4,2256.6 L568.9,2256.5 L570.4,2256.3 L571.9,2256.2 L573.4,2256.0 L574.9,2255.9 L576.4,2255.7 L577.9,2255.5 L579.4,2255.3 L580.9,2255.1 L582.4,2254.9 L583.9,2254.8 L585.4,2254.6 L586.9,2254.3 L588.4,2254.1 L589.9,2253.9 L591.4,2253.7 L592.9,2253.5 L594.4,2253.3 L595.9,2253.0 L597.4,2252.8 L598.9,2252.6 L600.4,2252.4 L601.9,2252.1 L603.4,2251.9 L604.9,2251.6 L606.4,2251.4 L607.9,2251.1 L609.4,2250.8 L610.9,2250.5 L612.4,2250.2 L613.9,2249.8 L615.4,2249.4 L616.9,2249.0 L618.4,2248.5 L619.9,2248.1 L621.4,2247.6 L622.9,2247.1 L624.4,2246.6 L625.9,2246.0 L627.4,2245.5 L628.9,2244.9 L630.4,2244.3 L631.9,2243.7 L633.4,2243.1 L634.9,2242.4 L636.4,2241.8 L637.9,2241.1 L639.4,2240.5 L640.9,2239.8 L642.4,2239.1 L643.9,2238.4 L645.4,2237.7 L646.9,2237.0 L648.4,2236.3 L649.9,2235.6 L651.4,2234.9 L652.9,2234.2 L654.4,2233.4 L655.9,2232.7 L657.4,2231.9 L658.9,2231.1 L660.4,2230.3 L661.9,2229.5 L663.4,2228.7 L664.9,2227.8 L666.4,2227.0 L667.9,2226.0 L669.4,2225.1 L670.9,2224.2 L672.4,2223.2 L673.9,2222.1 L675.4,2221.1 L676.9,2220.0 L678.4,2218.9 L679.9,2217.7 L681.4,2216.5 L682.9,2215.2 L684.4,2214.0 L685.9,2212.6 L687.4,2211.2 L688.9,2209.8 L690.4,2208.3 L691.9,2206.8 L693.4,2205.2 L694.9,2203.5 L696.4,2201.7 L697.9,2199.7 L699.4,2197.6 L700.9,2195.2 L702.4,2192.7 L703.9,2190.1 L705.4,2187.2 L706.9,2184.2 L708.4,2181.0 L709.9,2177.6 L711.4,2174.1 L712.9,2170.3 L714.4,2166.3 L715.9,2162.2 L717.4,2157.4 L718.9,2151.9 L720.4,2145.8 L721.9,2139.0 L723.4,2131.8 L724.9,2124.0 L726.4,2115.8 L727.9,2107.3 L729.4,2098.4 L730.9,2089.3 L732.4,2079.9 L733.9,2070.2 L735.4,2059.1 L736.9,2046.8 L738.4,2033.7 L739.9,2020.1 L741.4,2006.3 L742.9,1992.9 L744.4,1980.0 L745.9,1968.0 L747.4,1957.5 L748.9,1948.3 L750.4,1939.8 L751.9,1931.1 L753.4,1921.6 L754.9,1910.5 L756.4,1897.0 L757.9,1878.2 L759.4,1854.6 L760.9,1828.5 L762.4,1802.2 L763.9,1777.9 L765.4,1755.2 L766.9,1732.3 L768.4,1709.6 L769.9,1687.4 L771.4,1666.1 L772.9,1646.0 L774.4,1627.5 L775.9,1609.9 L777.4,1592.9 L778.9,1577.4 L780.4,1564.4 L781.9,1553.7 L783.4,1543.2 L784.9,1533.5 L786.4,1525.4 L787.9,1520.0 L789.4,1518.2 L790.9,1520.9 L792.4,1527.4 L793.9,1536.7 L795.4,1547.7 L796.9,1559.2 L798.4,1573.5 L799.9,1592.2 L801.4,1612.3 L802.9,1631.0 L804.4,1647.7 L805.9,1663.6 L807.4,1679.0 L808.9,1694.2 L810.4,1709.7 L811.9,1725.9 L813.4,1743.1 L814.9,1761.7 L816.4,1782.3 L817.9,1807.7 L819.4,1836.8 L820.9,1865.9 L822.4,1891.5 L823.9,1911.4 L825.4,1929.2 L826.9,1945.6 L828.4,1960.8 L829.9,1974.9 L831.4,1988.2 L832.9,2000.8 L834.4,2012.9 L835.9,2024.5 L837.4,2035.5 L838.9,2046.0 L840.4,2056.1 L841.9,2065.8 L843.4,2075.1 L844.9,2084.1 L846.4,2092.9 L847.9,2101.5 L849.4,2109.9 L850.9,2118.1 L852.4,2126.0 L853.9,2133.6 L855.4,2140.8 L856.9,2147.4 L858.4,2153.5 L859.9,2159.2 L861.4,2164.8 L862.9,2170.2 L864.4,2175.4 L865.9,2180.3 L867.4,2185.1 L868.9,2189.6 L870.4,2193.9 L871.9,2198.0 L873.4,2201.8 L874.9,2205.4 L876.4,2208.7 L877.9,2211.8 L879.4,2214.7 L880.9,2217.4 L882.4,2220.0 L883.9,2222.5 L885.4,2224.9 L886.9,2227.2 L888.4,2229.5 L889.9,2231.8 L891.4,2234.2 L892.9,2236.6 L894.4,2238.9 L895.9,2241.2 L897.4,2243.5 L898.9,2245.7 L900.4,2247.8 L901.9,2249.8 L903.4,2251.6 L904.9,2253.3 L906.4,2254.8 L907.9,2256.2 L909.4,2257.6 L910.9,2258.9 L912.4,2260.2 L913.9,2261.5 L915.4,2262.7 L916.9,2263.9 L918.4,2265.0 L919.9,2266.0 L921.4,2267.1 L922.9,2268.0 L924.4,2269.0 L925.9,2269.9 L927.4,2270.7 L928.9,2271.5 L930.4,2272.3 L931.9,2273.0 L933.4,2273.7 L934.9,2274.4 L936.4,2275.1 L937.9,2275.8 L939.4,2276.4 L940.9,2277.0 L942.4,2277.6 L943.9,2278.2 L945.4,2278.7 L946.9,2279.3 L948.4,2279.8 L949.9,2280.3 L951.4,2280.8 L952.9,2281.3 L954.4,2281.8 L955.9,2282.2 L957.4,2282.7 L958.9,2283.1 L960.4,2283.5 L961.9,2283.9 L963.4,2284.2 L964.9,2284.6 L966.4,2285.0 L967.9,2285.3 L969.4,2285.6 L970.9,2285.9 L972.4,2286.3 L973.9,2286.6 L975.4,2286.9 L976.9,2287.2 L978.4,2287.4 L979.9,2287.7 L981.4,2288.0 L982.9,2288.3 L984.4,2288.5 L985.9,2288.8 L987.4,2289.1 L988.9,2289.3 L990.4,2289.5 L991.9,2289.8 L993.4,2290.0 L994.9,2290.2 L996.4,2290.5 L997.9,2290.7 L999.4,2290.9 L1000.9,2291.1 L1002.4,2291.3 L1003.9,2291.5 L1005.4,2291.8 L1006.9,2292.0 L1008.4,2292.2 L1009.9,2292.4 L1011.4,2292.5 L1012.9,2292.7 L1014.4,2292.9 L1015.9,2293.1 L1017.4,2293.3 L1018.9,2293.5 L1020.4,2293.7 L1021.9,2293.9 L1023.4,2294.1 L1024.9,2294.2 L1026.4,2294.4 L1027.9,2294.6 L1029.4,2294.8 L1030.9,2294.9 L1032.4,2295.1 L1033.9,2295.3 L1035.4,2295.5 L1036.9,2295.6 L1038.4,2295.8 L1039.9,2295.9 L1041.4,2296.1 L1042.9,2296.3 L1044.4,2296.4 L1045.9,2296.6 L1047.4,2296.7 L1048.9,2296.9 L1050.4,2297.0 L1051.9,2297.2 L1053.4,2297.3 L1054.9,2297.5 L1056.4,2297.6 L1057.9,2297.8 L1059.4,2297.9 L1060.9,2298.1 L1062.4,2298.2 L1063.9,2298.3 L1065.4,2298.5 L1066.9,2298.6 L1068.4,2298.7 L1069.9,2298.8 L1071.4,2299.0 L1072.9,2299.1 L1074.4,2299.2 L1075.9,2299.3 L1077.4,2299.5 L1078.9,2299.6 L1080.4,2299.7 L1081.9,2299.8 L1083.4,2299.9 L1084.9,2300.0 L1086.4,2300.1 L1087.9,2300.2 L1089.4,2300.3 L1090.9,2300.4 L1092.4,2300.5 L1093.9,2300.7 L1095.4,2300.8 L1096.9,2300.9 L1098.4,2301.0 L1099.9,2301.1 L1101.4,2301.2 L1102.9,2301.3 L1104.4,2301.4 L1105.9,2301.5 L1107.4,2301.6 L1108.9,2301.7 L1110.4,2301.8 L1111.9,2301.9 L1113.4,2302.0 L1114.9,2302.1 L1116.4,2302.2 L1117.9,2302.2 L1119.4,2302.3 L1120.9,2302.4 L1122.4,2302.5 L1123.9,2302.6 L1125.4,2302.7 L1126.9,2302.8 L1128.4,2302.9 L1129.9,2303.0 L1131.4,2303.1 L1132.9,2303.1 L1134.4,2303.2 L1135.9,2303.3 L1137.4,2303.4 L1138.9,2303.5 L1140.4,2303.6 L1141.9,2303.6 L1143.4,2303.7 L1144.9,2303.8 L1146.4,2303.9 L1147.9,2303.9 L1149.4,2304.0 L1150.9,2304.1 L1152.4,2304.2 L1153.9,2304.2 L1155.4,2304.3 L1156.9,2304.4 L1158.4,2304.4 L1159.9,2304.5 L1161.4,2304.5 L1162.9,2304.6 L1164.4,2304.7 L1165.9,2304.7 L1167.4,2304.8 L1168.9,2304.8 L1170.4,2304.9 L1171.9,2304.9 L1173.4,2305.0 L1174.9,2305.0 L1176.4,2305.1 L1177.9,2305.1 L1179.4,2305.2" fill="none" stroke="#FF00FF" stroke-width="9.5" stroke-linejoin="round" stroke-linecap="round"/>
<path d="M162.4,2223.3 L163.9,2223.3 L165.4,2223.3 L166.9,2223.3 L168.4,2223.3 L169.9,2223.3 L171.4,2223.3 L172.9,2223.3 L174.4,2223.3 L175.9,2223.3 L177.4,2223.3 L178.9,2223.3 L180.4,2223.3 L181.9,2223.3 L183.4,2223.3 L184.9,2223.3 L186.4,2223.3 L187.9,2223.3 L189.4,2223.3 L190.9,2223.3 L192.4,2223.3 L193.9,2223.3 L195.4,2223.3 L196.9,2223.3 L198.4,2223.3 L199.9,2223.3 L201.4,2223.4 L202.9,2223.4 L204.4,2223.4 L205.9,2223.4 L207.4,2223.4 L208.9,2223.4 L210.4,2223.4 L211.9,2223.4 L213.4,2223.4 L214.9,2223.4 L216.4,2223.4 L217.9,2223.4 L219.4,2223.4 L220.9,2223.4 L222.4,2223.4 L223.9,2223.4 L225.4,2223.4 L226.9,2223.5 L228.4,2223.5 L229.9,2223.5 L231.4,2223.5 L232.9,2223.5 L234.4,2223.5 L235.9,2223.5 L237.4,2223.5 L238.9,2223.5 L240.4,2223.5 L241.9,2223.5 L243.4,2223.6 L244.9,2223.6 L246.4,2223.6 L247.9,2223.6 L249.4,2223.6 L250.9,2223.6 L252.4,2223.6 L253.9,2223.6 L255.4,2223.6 L256.9,2223.7 L258.4,2223.7 L259.9,2223.7 L261.4,2223.7 L262.9,2223.7 L264.4,2223.7 L265.9,2223.7 L267.4,2223.7 L268.9,2223.8 L270.4,2223.8 L271.9,2223.8 L273.4,2223.8 L274.9,2223.8 L276.4,2223.8 L277.9,2223.9 L279.4,2223.9 L280.9,2223.9 L282.4,2223.9 L283.9,2223.9 L285.4,2223.9 L286.9,2224.0 L288.4,2224.0 L289.9,2224.0 L291.4,2224.0 L292.9,2224.0 L294.4,2224.0 L295.9,2224.1 L297.4,2224.1 L298.9,2224.1 L300.4,2224.1 L301.9,2224.1 L303.4,2224.2 L304.9,2224.2 L306.4,2224.2 L307.9,2224.2 L309.4,2224.3 L310.9,2224.3 L312.4,2224.3 L313.9,2224.3 L315.4,2224.3 L316.9,2224.4 L318.4,2224.4 L319.9,2224.4 L321.4,2224.4 L322.9,2224.5 L324.4,2224.5 L325.9,2224.5 L327.4,2224.5 L328.9,2224.6 L330.4,2224.6 L331.9,2224.6 L333.4,2224.6 L334.9,2224.7 L336.4,2224.7 L337.9,2224.8 L339.4,2224.8 L340.9,2225.0 L342.4,2225.2 L343.9,2225.4 L345.4,2225.6 L346.9,2225.9 L348.4,2226.2 L349.9,2226.5 L351.4,2226.9 L352.9,2227.3 L354.4,2227.7 L355.9,2228.1 L357.4,2228.6 L358.9,2229.1 L360.4,2229.6 L361.9,2230.1 L363.4,2230.6 L364.9,2231.1 L366.4,2231.6 L367.9,2232.2 L369.4,2232.7 L370.9,2233.3 L372.4,2233.8 L373.9,2234.4 L375.4,2234.9 L376.9,2235.4 L378.4,2236.0 L379.9,2236.5 L381.4,2237.0 L382.9,2237.5 L384.4,2238.0 L385.9,2238.4 L387.4,2238.9 L388.9,2239.3 L390.4,2239.7 L391.9,2240.1 L393.4,2240.4 L394.9,2240.8 L396.4,2241.1 L397.9,2241.5 L399.4,2241.8 L400.9,2242.2 L402.4,2242.6 L403.9,2242.9 L405.4,2243.3 L406.9,2243.7 L408.4,2244.0 L409.9,2244.4 L411.4,2244.7 L412.9,2245.1 L414.4,2245.5 L415.9,2245.8 L417.4,2246.2 L418.9,2246.5 L420.4,2246.8 L421.9,2247.2 L423.4,2247.5 L424.9,2247.8 L426.4,2248.1 L427.9,2248.4 L429.4,2248.7 L430.9,2249.0 L432.4,2249.3 L433.9,2249.5 L435.4,2249.8 L436.9,2250.0 L438.4,2250.2 L439.9,2250.4 L441.4,2250.6 L442.9,2250.8 L444.4,2251.0 L445.9,2251.2 L447.4,2251.3 L448.9,2251.4 L450.4,2251.5 L451.9,2251.7 L453.4,2251.8 L454.9,2251.9 L456.4,2252.0 L457.9,2252.1 L459.4,2252.2 L460.9,2252.3 L462.4,2252.5 L463.9,2252.6 L465.4,2252.7 L466.9,2252.8 L468.4,2252.9 L469.9,2253.0 L471.4,2253.1 L472.9,2253.1 L474.4,2253.2 L475.9,2253.3 L477.4,2253.4 L478.9,2253.5 L480.4,2253.6 L481.9,2253.6 L483.4,2253.7 L484.9,2253.8 L486.4,2253.8 L487.9,2253.9 L489.4,2253.9 L490.9,2254.0 L492.4,2254.0 L493.9,2254.1 L495.4,2254.1 L496.9,2254.1 L498.4,2254.2 L499.9,2254.2 L501.4,2254.2 L502.9,2254.2 L504.4,2254.2 L505.9,2254.2 L507.4,2254.2 L508.9,2254.2 L510.4,2254.2 L511.9,2254.2 L513.4,2254.1 L514.9,2254.1 L516.4,2254.1 L517.9,2254.0 L519.4,2254.0 L520.9,2254.0 L522.4,2253.9 L523.9,2253.9 L525.4,2253.8 L526.9,2253.8 L528.4,2253.7 L529.9,2253.6 L531.4,2253.6 L532.9,2253.5 L534.4,2253.5 L535.9,2253.4 L537.4,2253.3 L538.9,2253.3 L540.4,2253.2 L541.9,2253.1 L543.4,2253.0 L544.9,2252.8 L546.4,2252.6 L547.9,2252.4 L549.4,2252.2 L550.9,2251.9 L552.4,2251.6 L553.9,2251.3 L555.4,2251.0 L556.9,2250.6 L558.4,2250.3 L559.9,2249.9 L561.4,2249.5 L562.9,2249.1 L564.4,2248.6 L565.9,2248.2 L567.4,2247.7 L568.9,2247.2 L570.4,2246.7 L571.9,2246.2 L573.4,2245.7 L574.9,2245.2 L576.4,2244.7 L577.9,2244.1 L579.4,2243.6 L580.9,2243.0 L582.4,2242.5 L583.9,2241.9 L585.4,2241.4 L586.9,2240.8 L588.4,2240.3 L589.9,2239.7 L591.4,2239.1 L592.9,2238.6 L594.4,2238.0 L595.9,2237.5 L597.4,2236.9 L598.9,2236.3 L600.4,2235.6 L601.9,2235.0 L603.4,2234.3 L604.9,2233.5 L606.4,2232.8 L607.9,2232.0 L609.4,2231.2 L610.9,2230.4 L612.4,2229.6 L613.9,2228.8 L615.4,2228.0 L616.9,2227.1 L618.4,2226.3 L619.9,2225.5 L621.4,2224.6 L622.9,2223.8 L624.4,2223.0 L625.9,2222.2 L627.4,2221.4 L628.9,2220.6 L630.4,2219.8 L631.9,2219.1 L633.4,2218.3 L634.9,2217.6 L636.4,2216.9 L637.9,2216.2 L639.4,2215.6 L640.9,2214.9 L642.4,2214.3 L643.9,2213.6 L645.4,2212.8 L646.9,2212.1 L648.4,2211.4 L649.9,2210.6 L651.4,2209.9 L652.9,2209.2 L654.4,2208.4 L655.9,2207.7 L657.4,2207.0 L658.9,2206.3 L660.4,2205.7 L661.9,2205.0 L663.4,2204.4 L664.9,2203.8 L666.4,2203.3 L667.9,2202.8 L669.4,2202.3 L670.9,2201.9 L672.4,2201.5 L673.9,2201.2 L675.4,2201.0 L676.9,2200.8 L678.4,2200.7 L679.9,2200.6 L681.4,2200.6 L682.9,2200.7 L684.4,2200.9 L685.9,2201.2 L687.4,2201.6 L688.9,2202.0 L690.4,2202.5 L691.9,2203.1 L693.4,2203.7 L694.9,2204.4 L696.4,2205.1 L697.9,2205.9 L699.4,2206.7 L700.9,2207.5 L702.4,2208.4 L703.9,2209.2 L705.4,2210.1 L706.9,2211.0 L708.4,2211.9 L709.9,2212.7 L711.4,2213.6 L712.9,2214.5 L714.4,2215.3 L715.9,2216.1 L717.4,2216.9 L718.9,2217.8 L720.4,2218.7 L721.9,2219.6 L723.4,2220.6 L724.9,2221.6 L726.4,2222.6 L727.9,2223.6 L729.4,2224.7 L730.9,2225.8 L732.4,2226.9 L733.9,2228.0 L735.4,2229.1 L736.9,2230.2 L738.4,2231.3 L739.9,2232.5 L741.4,2233.6 L742.9,2234.8 L744.4,2235.9 L745.9,2237.0 L747.4,2238.1 L748.9,2239.3 L750.4,2240.4 L751.9,2241.4 L753.4,2242.5 L754.9,2243.6 L756.4,2244.6 L757.9,2245.6 L759.4,2246.6 L760.9,2247.6 L762.4,2248.6 L763.9,2249.5 L765.4,2250.5 L766.9,2251.5 L768.4,2252.5 L769.9,2253.5 L771.4,2254.5 L772.9,2255.5 L774.4,2256.5 L775.9,2257.4 L777.4,2258.4 L778.9,2259.4 L780.4,2260.3 L781.9,2261.3 L783.4,2262.2 L784.9,2263.1 L786.4,2264.0 L787.9,2264.9 L789.4,2265.8 L790.9,2266.7 L792.4,2267.5 L793.9,2268.3 L795.4,2269.2 L796.9,2269.9 L798.4,2270.7 L799.9,2271.4 L801.4,2272.1 L802.9,2272.8 L804.4,2273.5 L805.9,2274.1 L807.4,2274.8 L808.9,2275.4 L810.4,2276.1 L811.9,2276.7 L813.4,2277.3 L814.9,2277.9 L816.4,2278.5 L817.9,2279.1 L819.4,2279.7 L820.9,2280.2 L822.4,2280.8 L823.9,2281.3 L825.4,2281.9 L826.9,2282.4 L828.4,2282.9 L829.9,2283.4 L831.4,2283.9 L832.9,2284.4 L834.4,2284.9 L835.9,2285.3 L837.4,2285.8 L838.9,2286.2 L840.4,2286.6 L841.9,2287.0 L843.4,2287.4 L844.9,2287.8 L846.4,2288.1 L847.9,2288.5 L849.4,2288.8 L850.9,2289.1 L852.4,2289.5 L853.9,2289.8 L855.4,2290.1 L856.9,2290.4 L858.4,2290.7 L859.9,2291.0 L861.4,2291.3 L862.9,2291.6 L864.4,2291.9 L865.9,2292.2 L867.4,2292.4 L868.9,2292.7 L870.4,2293.0 L871.9,2293.2 L873.4,2293.5 L874.9,2293.7 L876.4,2294.0 L877.9,2294.2 L879.4,2294.5 L880.9,2294.7 L882.4,2294.9 L883.9,2295.1 L885.4,2295.3 L886.9,2295.5 L888.4,2295.7 L889.9,2295.9 L891.4,2296.1 L892.9,2296.3 L894.4,2296.4 L895.9,2296.6 L897.4,2296.7 L898.9,2296.9 L900.4,2297.0 L901.9,2297.2 L903.4,2297.3 L904.9,2297.4 L906.4,2297.6 L907.9,2297.7 L909.4,2297.8 L910.9,2297.9 L912.4,2298.1 L913.9,2298.2 L915.4,2298.3 L916.9,2298.4 L918.4,2298.5 L919.9,2298.6 L921.4,2298.8 L922.9,2298.9 L924.4,2299.0 L925.9,2299.1 L927.4,2299.2 L928.9,2299.3 L930.4,2299.4 L931.9,2299.5 L933.4,2299.6 L934.9,2299.7 L936.4,2299.8 L937.9,2299.9 L939.4,2299.9 L940.9,2300.0 L942.4,2300.1 L943.9,2300.2 L945.4,2300.3 L946.9,2300.4 L948.4,2300.5 L949.9,2300.5 L951.4,2300.6 L952.9,2300.7 L954.4,2300.8 L955.9,2300.9 L957.4,2300.9 L958.9,2301.0 L960.4,2301.1 L961.9,2301.2 L963.4,2301.3 L964.9,2301.3 L966.4,2301.4 L967.9,2301.5 L969.4,2301.5 L970.9,2301.6 L972.4,2301.7 L973.9,2301.8 L975.4,2301.8 L976.9,2301.9 L978.4,2302.0 L979.9,2302.1 L981.4,2302.1 L982.9,2302.2 L984.4,2302.3 L985.9,2302.3 L987.4,2302.4 L988.9,2302.5 L990.4,2302.5 L991.9,2302.6 L993.4,2302.7 L994.9,2302.8 L996.4,2302.8 L997.9,2302.9 L999.4,2303.0 L1000.9,2303.0 L1002.4,2303.1 L1003.9,2303.2 L1005.4,2303.3 L1006.9,2303.3 L1008.4,2303.4 L1009.9,2303.5 L1011.4,2303.5 L1012.9,2303.6 L1014.4,2303.7 L1015.9,2303.8 L1017.4,2303.8 L1018.9,2303.9 L1020.4,2304.0 L1021.9,2304.0 L1023.4,2304.1 L1024.9,2304.2 L1026.4,2304.2 L1027.9,2304.3 L1029.4,2304.4 L1030.9,2304.5 L1032.4,2304.5 L1033.9,2304.6 L1035.4,2304.7 L1036.9,2304.7 L1038.4,2304.8 L1039.9,2304.9 L1041.4,2304.9 L1042.9,2305.0 L1044.4,2305.1 L1045.9,2305.1 L1047.4,2305.2 L1048.9,2305.3 L1050.4,2305.3 L1051.9,2305.4 L1053.4,2305.5 L1054.9,2305.5 L1056.4,2305.6 L1057.9,2305.7 L1059.4,2305.7 L1060.9,2305.8 L1062.4,2305.9 L1063.9,2305.9 L1065.4,2306.0 L1066.9,2306.1 L1068.4,2306.1 L1069.9,2306.2 L1071.4,2306.2 L1072.9,2306.3 L1074.4,2306.4 L1075.9,2306.4 L1077.4,2306.5 L1078.9,2306.6 L1080.4,2306.6 L1081.9,2306.7 L1083.4,2306.7 L1084.9,2306.8 L1086.4,2306.9 L1087.9,2306.9 L1089.4,2307.0 L1090.9,2307.1 L1092.4,2307.1 L1093.9,2307.2 L1095.4,2307.2 L1096.9,2307.3 L1098.4,2307.3 L1099.9,2307.4 L1101.4,2307.5 L1102.9,2307.5 L1104.4,2307.6 L1105.9,2307.6 L1107.4,2307.7 L1108.9,2307.7 L1110.4,2307.8 L1111.9,2307.9 L1113.4,2307.9 L1114.9,2308.0 L1116.4,2308.0 L1117.9,2308.1 L1119.4,2308.1 L1120.9,2308.2 L1122.4,2308.2 L1123.9,2308.3 L1125.4,2308.3 L1126.9,2308.4 L1128.4,2308.4 L1129.9,2308.5 L1131.4,2308.6 L1132.9,2308.6 L1134.4,2308.7 L1135.9,2308.7 L1137.4,2308.8 L1138.9,2308.8 L1140.4,2308.9 L1141.9,2308.9 L1143.4,2308.9 L1144.9,2309.0 L1146.4,2309.0 L1147.9,2309.1 L1149.4,2309.1 L1150.9,2309.2 L1152.4,2309.2 L1153.9,2309.3 L1155.4,2309.3 L1156.9,2309.4 L1158.4,2309.4 L1159.9,2309.5 L1161.4,2309.5 L1162.9,2309.5 L1164.4,2309.6 L1165.9,2309.6 L1167.4,2309.7 L1168.9,2309.7 L1170.4,2309.7 L1171.9,2309.8 L1173.4,2309.8 L1174.9,2309.9 L1176.4,2309.9 L1177.9,2309.9 L1179.4,2310.0" fill="none" stroke="#FF6600" stroke-width="9.5" stroke-linejoin="round" stroke-linecap="round"/>
<path d="M649.7,2235.7 L651.2,2235.6 L652.7,2235.5 L654.2,2235.2 L655.7,2234.9 L657.2,2234.5 L658.7,2233.9 L660.2,2233.3 L661.7,2232.6 L663.2,2231.9 L664.7,2231.0 L666.2,2230.1 L667.7,2229.1 L669.2,2228.1 L670.7,2227.0 L672.2,2225.8 L673.7,2224.6 L675.2,2223.4 L676.7,2222.0 L678.2,2220.7 L679.7,2219.3 L681.2,2217.9 L682.7,2216.4 L684.2,2214.9 L685.7,2213.4 L687.2,2211.8 L688.7,2210.2 L690.2,2208.6 L691.7,2207.0 L693.2,2205.4 L694.7,2203.8 L696.2,2202.0 L697.7,2200.0 L699.2,2197.9 L700.7,2195.6 L702.2,2193.1 L703.7,2190.4 L705.2,2187.6 L706.7,2184.6 L708.2,2181.5 L709.7,2178.1 L711.2,2174.5 L712.7,2170.8 L714.2,2166.9 L715.7,2162.7 L717.2,2158.1 L718.7,2152.7 L720.2,2146.6 L721.7,2140.0 L723.2,2132.8 L724.7,2125.1 L726.2,2116.9 L727.7,2108.4 L729.2,2099.6 L730.7,2090.5 L732.2,2081.2 L733.7,2071.6 L735.2,2060.7 L736.7,2048.5 L738.2,2035.5 L739.7,2021.9 L741.2,2008.2 L742.7,1994.6 L744.2,1981.6 L745.7,1969.6 L747.2,1958.8 L748.7,1949.5 L750.2,1940.9 L751.7,1932.3 L753.2,1923.0 L754.7,1912.1 L756.2,1899.0 L757.7,1881.0 L759.2,1857.9 L760.7,1832.0 L762.2,1805.6 L763.7,1780.9 L765.2,1758.2 L766.7,1735.4 L768.2,1712.6 L769.7,1690.3 L771.2,1668.9 L772.7,1648.6 L774.2,1629.9 L775.7,1612.2 L777.2,1595.1 L778.7,1579.4 L780.2,1566.0 L781.7,1555.1 L783.2,1544.6 L784.7,1534.7 L786.2,1526.4 L787.7,1520.6 L789.2,1518.2 L790.7,1520.3 L792.2,1526.3 L793.7,1535.3 L795.2,1546.2 L796.7,1557.7 L798.2,1571.2 L799.7,1589.5 L801.2,1609.7 L802.7,1628.7 L804.2,1645.6 L805.7,1661.5 L807.2,1676.9 L808.7,1692.2 L810.2,1707.6 L811.7,1723.7 L813.2,1740.7 L814.7,1759.2 L816.2,1779.3 L817.7,1804.1 L819.2,1832.9 L820.7,1862.2 L822.2,1888.5 L823.7,1908.9 L825.2,1926.9 L826.7,1943.5 L828.2,1958.8 L829.7,1973.1 L831.2,1986.4 L832.7,1999.1 L834.2,2011.3 L835.7,2023.0 L837.2,2034.1 L838.7,2044.7 L840.2,2054.8 L841.7,2064.5 L843.2,2073.9 L844.7,2083.0 L846.2,2091.8 L847.7,2100.3 L849.2,2108.8 L850.7,2117.0 L852.2,2125.0 L853.7,2132.6 L855.2,2139.8 L856.7,2146.5 L858.2,2152.7 L859.7,2158.5 L861.2,2164.1 L862.7,2169.5 L864.2,2174.7 L865.7,2179.7 L867.2,2184.5 L868.7,2189.0 L870.2,2193.4 L871.7,2197.5 L873.2,2201.3 L874.7,2204.9 L876.2,2208.3 L877.7,2211.4 L879.2,2214.3 L880.7,2217.1 L882.2,2219.7 L883.7,2222.2 L885.2,2224.6 L886.7,2226.9 L888.2,2229.2 L889.7,2231.5 L891.2,2233.9 L892.7,2236.2 L894.2,2238.6 L895.7,2240.9 L897.2,2243.2 L898.7,2245.4 L900.2,2247.5 L901.7,2249.5 L903.2,2251.4 L904.7,2253.1 L906.2,2254.6 L907.7,2256.0 L909.2,2257.4 L910.7,2258.8 L912.2,2260.1 L913.7,2261.3 L915.2,2262.5 L916.7,2263.7 L918.2,2264.8 L919.7,2265.9 L921.2,2266.9 L922.7,2267.9 L924.2,2268.9 L925.7,2269.8 L927.2,2270.6 L928.7,2271.4 L930.2,2272.2 L931.7,2272.9 L933.2,2273.6 L934.7,2274.3 L936.2,2275.0 L937.7,2275.7 L939.2,2276.3 L940.7,2276.9 L942.2,2277.5 L943.7,2278.1 L945.2,2278.7 L946.7,2279.2 L948.2,2279.8 L949.7,2280.3 L951.2,2280.8 L952.7,2281.3 L954.2,2281.7 L955.7,2282.2 L957.2,2282.6 L958.7,2283.0 L960.2,2283.4 L961.7,2283.8 L963.2,2284.2 L964.7,2284.6 L966.2,2284.9 L967.7,2285.2 L969.2,2285.6 L970.7,2285.9 L972.2,2286.2 L973.7,2286.5 L975.2,2286.8 L976.7,2287.1 L978.2,2287.4 L979.7,2287.7 L981.2,2288.0 L982.7,2288.2 L984.2,2288.5 L985.7,2288.8 L987.2,2289.0 L988.7,2289.3 L990.2,2289.5 L991.7,2289.7 L993.2,2290.0 L994.7,2290.2 L996.2,2290.4 L997.7,2290.7 L999.2,2290.9 L1000.7,2291.1 L1002.2,2291.3 L1003.7,2291.5 L1005.2,2291.7 L1006.7,2291.9 L1008.2,2292.1 L1009.7,2292.3 L1011.2,2292.5 L1012.7,2292.7 L1014.2,2292.9 L1015.7,2293.1 L1017.2,2293.3 L1018.7,2293.5 L1020.2,2293.7 L1021.7,2293.8 L1023.2,2294.0 L1024.7,2294.2 L1026.2,2294.4 L1027.7,2294.6 L1029.2,2294.7 L1030.7,2294.9 L1032.2,2295.1 L1033.7,2295.3 L1035.2,2295.4 L1036.7,2295.6 L1038.2,2295.8 L1039.7,2295.9 L1041.2,2296.1 L1042.7,2296.2 L1044.2,2296.4 L1045.7,2296.6 L1047.2,2296.7 L1048.7,2296.9 L1050.2,2297.0 L1051.7,2297.2 L1053.2,2297.3 L1054.7,2297.5 L1056.2,2297.6 L1057.7,2297.8 L1059.2,2297.9 L1060.7,2298.0 L1062.2,2298.2 L1063.7,2298.3 L1065.2,2298.4 L1066.7,2298.6 L1068.2,2298.7 L1069.7,2298.8 L1071.2,2299.0 L1072.7,2299.1 L1074.2,2299.2 L1075.7,2299.3 L1077.2,2299.4 L1078.7,2299.6 L1080.2,2299.7 L1081.7,2299.8 L1083.2,2299.9 L1084.7,2300.0 L1086.2,2300.1 L1087.7,2300.2 L1089.2,2300.3 L1090.7,2300.4 L1092.2,2300.5 L1093.7,2300.6 L1095.2,2300.7 L1096.7,2300.8 L1098.2,2300.9 L1099.7,2301.1 L1101.2,2301.2 L1102.7,2301.3 L1104.2,2301.4 L1105.7,2301.5 L1107.2,2301.6 L1108.7,2301.7 L1110.2,2301.8 L1111.7,2301.9 L1113.2,2302.0 L1114.7,2302.0 L1116.2,2302.1 L1117.7,2302.2 L1119.2,2302.3 L1120.7,2302.4 L1122.2,2302.5 L1123.7,2302.6 L1125.2,2302.7 L1126.7,2302.8 L1128.2,2302.9 L1129.7,2303.0 L1131.2,2303.0 L1132.7,2303.1 L1134.2,2303.2 L1135.7,2303.3 L1137.2,2303.4 L1138.7,2303.5 L1140.2,2303.5 L1141.7,2303.6 L1143.2,2303.7 L1144.7,2303.8 L1146.2,2303.9 L1147.7,2303.9 L1149.2,2304.0 L1150.7,2304.1 L1152.2,2304.1 L1153.7,2304.2 L1155.2,2304.3 L1156.7,2304.3 L1158.2,2304.4 L1159.7,2304.5 L1161.2,2304.5 L1162.7,2304.6 L1164.2,2304.7 L1165.7,2304.7 L1167.2,2304.8 L1168.7,2304.8 L1170.2,2304.9 L1171.7,2304.9 L1173.2,2305.0 L1174.7,2305.0 L1176.2,2305.1 L1177.7,2305.1 L1179.2,2305.2" fill="none" stroke="#FF00FF" stroke-width="9.5" stroke-linejoin="round" stroke-linecap="round"/>
<path d="M162.4,2195.3 L163.9,2194.8 L165.4,2194.4 L166.9,2193.9 L168.4,2193.4 L169.9,2192.9 L171.4,2192.5 L172.9,2192.0 L174.4,2191.5 L175.9,2191.0 L177.4,2190.5 L178.9,2190.0 L180.4,2189.5 L181.9,2189.0 L183.4,2188.5 L184.9,2188.0 L186.4,2187.4 L187.9,2186.9 L189.4,2186.4 L190.9,2185.9 L192.4,2185.3 L193.9,2184.8 L195.4,2184.3 L196.9,2183.7 L198.4,2183.2 L199.9,2182.7 L201.4,2182.1 L202.9,2181.6 L204.4,2181.1 L205.9,2180.6 L207.4,2180.1 L208.9,2179.6 L210.4,2179.1 L211.9,2178.6 L213.4,2178.1 L214.9,2177.5 L216.4,2177.0 L217.9,2176.4 L219.4,2175.9 L220.9,2175.3 L222.4,2174.7 L223.9,2174.1 L225.4,2173.5 L226.9,2172.9 L228.4,2172.2 L229.9,2171.5 L231.4,2170.8 L232.9,2170.1 L234.4,2169.3 L235.9,2168.5 L237.4,2167.7 L238.9,2166.8 L240.4,2165.9 L241.9,2164.9 L243.4,2163.8 L244.9,2162.7 L246.4,2161.5 L247.9,2160.2 L249.4,2158.9 L250.9,2157.6 L252.4,2156.2 L253.9,2154.7 L255.4,2153.2 L256.9,2151.6 L258.4,2150.0 L259.9,2148.4 L261.4,2146.7 L262.9,2145.0 L264.4,2143.3 L265.9,2141.5 L267.4,2139.7 L268.9,2137.9 L270.4,2136.1 L271.9,2134.2 L273.4,2132.3 L274.9,2130.4 L276.4,2128.5 L277.9,2126.5 L279.4,2124.4 L280.9,2122.2 L282.4,2119.9 L283.9,2117.6 L285.4,2115.2 L286.9,2112.7 L288.4,2110.2 L289.9,2107.6 L291.4,2105.0 L292.9,2102.2 L294.4,2099.5 L295.9,2096.6 L297.4,2093.7 L298.9,2090.8 L300.4,2087.8 L301.9,2084.8 L303.4,2081.7 L304.9,2078.6 L306.4,2075.5 L307.9,2072.2 L309.4,2068.9 L310.9,2065.4 L312.4,2061.7 L313.9,2058.0 L315.4,2054.0 L316.9,2049.8 L318.4,2045.4 L319.9,2040.8 L321.4,2035.9 L322.9,2030.7 L324.4,2024.8 L325.9,2018.3 L327.4,2011.1 L328.9,2003.3 L330.4,1995.1 L331.9,1986.6 L333.4,1977.8 L334.9,1968.7 L336.4,1959.6 L337.9,1950.0 L339.4,1939.6 L340.9,1928.7 L342.4,1917.4 L343.9,1905.9 L345.4,1894.5 L346.9,1883.3 L348.4,1872.5 L349.9,1862.0 L351.4,1851.5 L352.9,1841.2 L354.4,1830.7 L355.9,1820.0 L357.4,1809.1 L358.9,1797.7 L360.4,1785.9 L361.9,1773.5 L363.4,1760.3 L364.9,1746.1 L366.4,1731.2 L367.9,1715.8 L369.4,1700.3 L370.9,1685.0 L372.4,1670.0 L373.9,1654.8 L375.4,1639.6 L376.9,1624.5 L378.4,1609.7 L379.9,1595.2 L381.4,1581.1 L382.9,1567.1 L384.4,1553.3 L385.9,1539.8 L387.4,1526.8 L388.9,1514.2 L390.4,1502.2 L391.9,1490.0 L393.4,1478.2 L394.9,1467.4 L396.4,1458.1 L397.9,1450.5 L399.4,1442.8 L400.9,1435.6 L402.4,1429.4 L403.9,1425.0 L405.4,1423.0 L406.9,1423.8 L408.4,1427.3 L409.9,1432.5 L411.4,1438.8 L412.9,1445.4 L414.4,1451.6 L415.9,1457.9 L417.4,1464.7 L418.9,1472.0 L420.4,1480.0 L421.9,1488.5 L423.4,1497.8 L424.9,1507.9 L426.4,1519.4 L427.9,1532.8 L429.4,1547.7 L430.9,1563.7 L432.4,1580.5 L433.9,1597.8 L435.4,1617.3 L436.9,1638.6 L438.4,1659.7 L439.9,1678.8 L441.4,1695.4 L442.9,1710.6 L444.4,1725.0 L445.9,1739.2 L447.4,1753.6 L448.9,1768.8 L450.4,1784.6 L451.9,1801.1 L453.4,1819.7 L454.9,1839.3 L456.4,1857.2 L457.9,1871.5 L459.4,1884.3 L460.9,1896.3 L462.4,1907.4 L463.9,1917.9 L465.4,1927.8 L466.9,1937.3 L468.4,1946.5 L469.9,1955.4 L471.4,1964.1 L472.9,1972.6 L474.4,1980.8 L475.9,1988.7 L477.4,1996.2 L478.9,2003.6 L480.4,2010.8 L481.9,2017.8 L483.4,2024.7 L484.9,2031.6 L486.4,2038.4 L487.9,2045.3 L489.4,2052.1 L490.9,2058.8 L492.4,2065.4 L493.9,2071.8 L495.4,2078.1 L496.9,2084.2 L498.4,2090.0 L499.9,2095.5 L501.4,2100.7 L502.9,2105.6 L504.4,2110.4 L505.9,2115.2 L507.4,2119.8 L508.9,2124.4 L510.4,2128.9 L511.9,2133.2 L513.4,2137.4 L514.9,2141.5 L516.4,2145.4 L517.9,2149.2 L519.4,2152.8 L520.9,2156.2 L522.4,2159.4 L523.9,2162.4 L525.4,2165.3 L526.9,2167.8 L528.4,2170.2 L529.9,2172.5 L531.4,2174.6 L532.9,2176.6 L534.4,2178.5 L535.9,2180.3 L537.4,2182.0 L538.9,2183.7 L540.4,2185.3 L541.9,2186.8 L543.4,2188.4 L544.9,2189.9 L546.4,2191.4 L547.9,2192.8 L549.4,2194.2 L550.9,2195.6 L552.4,2196.9 L553.9,2198.2 L555.4,2199.4 L556.9,2200.6 L558.4,2201.8 L559.9,2202.9 L561.4,2204.0 L562.9,2205.1 L564.4,2206.2 L565.9,2207.2 L567.4,2208.2 L568.9,2209.2 L570.4,2210.2 L571.9,2211.1 L573.4,2212.1 L574.9,2213.0 L576.4,2213.8 L577.9,2214.7 L579.4,2215.6 L580.9,2216.4 L582.4,2217.2 L583.9,2217.9 L585.4,2218.7 L586.9,2219.5 L588.4,2220.2 L589.9,2220.9 L591.4,2221.7 L592.9,2222.4 L594.4,2223.1 L595.9,2223.8 L597.4,2224.5 L598.9,2225.2 L600.4,2225.8 L601.9,2226.5 L603.4,2227.2 L604.9,2227.8 L606.4,2228.5 L607.9,2229.1 L609.4,2229.7 L610.9,2230.4 L612.4,2231.0 L613.9,2231.6 L615.4,2232.2 L616.9,2232.8 L618.4,2233.4 L619.9,2234.0 L621.4,2234.6 L622.9,2235.1 L624.4,2235.7 L625.9,2236.3 L627.4,2236.8 L628.9,2237.4 L630.4,2237.9 L631.9,2238.5 L633.4,2239.0 L634.9,2239.5 L636.4,2240.1 L637.9,2240.6 L639.4,2241.1 L640.9,2241.6 L642.4,2242.1 L643.9,2242.6 L645.4,2243.1 L646.9,2243.6 L648.4,2244.1 L649.9,2244.6 L651.4,2245.0 L652.9,2245.5 L654.4,2246.0 L655.9,2246.4 L657.4,2246.9 L658.9,2247.3 L660.4,2247.8 L661.9,2248.2 L663.4,2248.6 L664.9,2249.0 L666.4,2249.4 L667.9,2249.9 L669.4,2250.3 L670.9,2250.7 L672.4,2251.1 L673.9,2251.5 L675.4,2251.9 L676.9,2252.2 L678.4,2252.6 L679.9,2253.0 L681.4,2253.4 L682.9,2253.8 L684.4,2254.1 L685.9,2254.5 L687.4,2254.9 L688.9,2255.3 L690.4,2255.6 L691.9,2256.0 L693.4,2256.4 L694.9,2256.8 L696.4,2257.1 L697.9,2257.5 L699.4,2257.9 L700.9,2258.2 L702.4,2258.6 L703.9,2259.0 L705.4,2259.4 L706.9,2259.8 L708.4,2260.1 L709.9,2260.5 L711.4,2260.9 L712.9,2261.3 L714.4,2261.7 L715.9,2262.1 L717.4,2262.5 L718.9,2262.9 L720.4,2263.3 L721.9,2263.7 L723.4,2264.1 L724.9,2264.5 L726.4,2264.9 L727.9,2265.3 L729.4,2265.8 L730.9,2266.2 L732.4,2266.6 L733.9,2267.0 L735.4,2267.4 L736.9,2267.8 L738.4,2268.2 L739.9,2268.6 L741.4,2269.0 L742.9,2269.4 L744.4,2269.9 L745.9,2270.3 L747.4,2270.7 L748.9,2271.1 L750.4,2271.5 L751.9,2271.9 L753.4,2272.3 L754.9,2272.7 L756.4,2273.1 L757.9,2273.5 L759.4,2273.9 L760.9,2274.3 L762.4,2274.7 L763.9,2275.1 L765.4,2275.5 L766.9,2275.9 L768.4,2276.3 L769.9,2276.7 L771.4,2277.1 L772.9,2277.5 L774.4,2277.9 L775.9,2278.2 L777.4,2278.6 L778.9,2279.0 L780.4,2279.4 L781.9,2279.7 L783.4,2280.1 L784.9,2280.5 L786.4,2280.9 L787.9,2281.2 L789.4,2281.6 L790.9,2282.0 L792.4,2282.3 L793.9,2282.7 L795.4,2283.1 L796.9,2283.4 L798.4,2283.8 L799.9,2284.1 L801.4,2284.5 L802.9,2284.8 L804.4,2285.2 L805.9,2285.6 L807.4,2285.9 L808.9,2286.3 L810.4,2286.6 L811.9,2287.0 L813.4,2287.3 L814.9,2287.7 L816.4,2288.0 L817.9,2288.3 L819.4,2288.7 L820.9,2289.0 L822.4,2289.4 L823.9,2289.7 L825.4,2290.1 L826.9,2290.4 L828.4,2290.7 L829.9,2291.1 L831.4,2291.4 L832.9,2291.7 L834.4,2292.1 L835.9,2292.4 L837.4,2292.7 L838.9,2293.1 L840.4,2293.4 L841.9,2293.7 L843.4,2294.1 L844.9,2294.4 L846.4,2294.7 L847.9,2295.1 L849.4,2295.4 L850.9,2295.8 L852.4,2296.1 L853.9,2296.5 L855.4,2296.9 L856.9,2297.3 L858.4,2297.7 L859.9,2298.0 L861.4,2298.4 L862.9,2298.8 L864.4,2299.2 L865.9,2299.5 L867.4,2299.8 L868.9,2300.2 L870.4,2300.5 L871.9,2300.7 L873.4,2301.0 L874.9,2301.2 L876.4,2301.4 L877.9,2301.5 L879.4,2301.7 L880.9,2301.8 L882.4,2301.8 L883.9,2301.9 L885.4,2302.0 L886.9,2302.1 L888.4,2302.1 L889.9,2302.2 L891.4,2302.3 L892.9,2302.4 L894.4,2302.4 L895.9,2302.5 L897.4,2302.6 L898.9,2302.6 L900.4,2302.7 L901.9,2302.7 L903.4,2302.8 L904.9,2302.8 L906.4,2302.9 L907.9,2303.0 L909.4,2303.0 L910.9,2303.1 L912.4,2303.1 L913.9,2303.2 L915.4,2303.2 L916.9,2303.2 L918.4,2303.3 L919.9,2303.3 L921.4,2303.4 L922.9,2303.4 L924.4,2303.5 L925.9,2303.5 L927.4,2303.5 L928.9,2303.6 L930.4,2303.6 L931.9,2303.6 L933.4,2303.7 L934.9,2303.7 L936.4,2303.7 L937.9,2303.8 L939.4,2303.8 L940.9,2303.8 L942.4,2303.9 L943.9,2303.9 L945.4,2303.9 L946.9,2303.9 L948.4,2304.0 L949.9,2304.0 L951.4,2304.0 L952.9,2304.1 L954.4,2304.1 L955.9,2304.1 L957.4,2304.1 L958.9,2304.2 L960.4,2304.2 L961.9,2304.2 L963.4,2304.2 L964.9,2304.3 L966.4,2304.3 L967.9,2304.3 L969.4,2304.4 L970.9,2304.4 L972.4,2304.4 L973.9,2304.4 L975.4,2304.5 L976.9,2304.5 L978.4,2304.5 L979.9,2304.6 L981.4,2304.6 L982.9,2304.6 L984.4,2304.6 L985.9,2304.7 L987.4,2304.7 L988.9,2304.7 L990.4,2304.8 L991.9,2304.8 L993.4,2304.8 L994.9,2304.9 L996.4,2304.9 L997.9,2304.9 L999.4,2305.0 L1000.9,2305.0 L1002.4,2305.1 L1003.9,2305.1 L1005.4,2305.1 L1006.9,2305.2 L1008.4,2305.2 L1009.9,2305.3 L1011.4,2305.3 L1012.9,2305.3 L1014.4,2305.4 L1015.9,2305.4 L1017.4,2305.4 L1018.9,2305.5 L1020.4,2305.5 L1021.9,2305.6 L1023.4,2305.6 L1024.9,2305.6 L1026.4,2305.7 L1027.9,2305.7 L1029.4,2305.8 L1030.9,2305.8 L1032.4,2305.8 L1033.9,2305.9 L1035.4,2305.9 L1036.9,2305.9 L1038.4,2306.0 L1039.9,2306.0 L1041.4,2306.1 L1042.9,2306.1 L1044.4,2306.1 L1045.9,2306.2 L1047.4,2306.2 L1048.9,2306.3 L1050.4,2306.3 L1051.9,2306.3 L1053.4,2306.4 L1054.9,2306.4 L1056.4,2306.4 L1057.9,2306.5 L1059.4,2306.5 L1060.9,2306.6 L1062.4,2306.6 L1063.9,2306.6 L1065.4,2306.7 L1066.9,2306.7 L1068.4,2306.7 L1069.9,2306.8 L1071.4,2306.8 L1072.9,2306.9 L1074.4,2306.9 L1075.9,2306.9 L1077.4,2307.0 L1078.9,2307.0 L1080.4,2307.0 L1081.9,2307.1 L1083.4,2307.1 L1084.9,2307.2 L1086.4,2307.2 L1087.9,2307.2 L1089.4,2307.3 L1090.9,2307.3 L1092.4,2307.3 L1093.9,2307.4 L1095.4,2307.4 L1096.9,2307.4 L1098.4,2307.5 L1099.9,2307.5 L1101.4,2307.6 L1102.9,2307.6 L1104.4,2307.6 L1105.9,2307.7 L1107.4,2307.7 L1108.9,2307.7 L1110.4,2307.8 L1111.9,2307.8 L1113.4,2307.8 L1114.9,2307.9 L1116.4,2307.9 L1117.9,2308.0 L1119.4,2308.0 L1120.9,2308.0 L1122.4,2308.1 L1123.9,2308.1 L1125.4,2308.1 L1126.9,2308.2 L1128.4,2308.2 L1129.9,2308.2 L1131.4,2308.3 L1132.9,2308.3 L1134.4,2308.3 L1135.9,2308.4 L1137.4,2308.4 L1138.9,2308.5 L1140.4,2308.5 L1141.9,2308.5 L1143.4,2308.6 L1144.9,2308.6 L1146.4,2308.6 L1147.9,2308.7 L1149.4,2308.7 L1150.9,2308.7 L1152.4,2308.8 L1153.9,2308.8 L1155.4,2308.8 L1156.9,2308.9 L1158.4,2308.9 L1159.9,2308.9 L1161.4,2309.0 L1162.9,2309.0 L1164.4,2309.0 L1165.9,2309.1 L1167.4,2309.1 L1168.9,2309.1 L1170.4,2309.2 L1171.9,2309.2 L1173.4,2309.3 L1174.9,2309.3 L1176.4,2309.3 L1177.9,2309.4 L1179.4,2309.4" fill="none" stroke="#9A9A25" stroke-width="9.5" stroke-linejoin="round" stroke-linecap="round"/>
<line x1="595.2" y1="1427.2" x2="434.6" y2="1472.1" stroke="#9A9A25" stroke-width="9.5" stroke-linecap="round"/>
<line x1="904.2" y1="1525.7" x2="810.1" y2="1639.1" stroke="#FF00FF" stroke-width="9.5" stroke-linecap="round"/>
<line x1="588" y1="1812" x2="581.5" y2="2200" stroke="#9999FF" stroke-width="9.5" stroke-linecap="round"/>
<line x1="895.9" y1="2131.3" x2="720" y2="2224.6" stroke="#FF6600" stroke-width="9.5" stroke-linecap="round"/>
<text x="601.5" y="1414.3" font-family="'Liberation Serif','Times New Roman',serif" font-weight="normal" font-size="63" fill="#9A9A25">NO<tspan font-size="37" dy="13.7">X</tspan></text>
<text transform="translate(885.5,1495.8) scale(0.98,1)" font-family="'Liberation Serif','Times New Roman',serif" font-weight="normal" font-size="63" fill="#FF00FF">N-B</text>
<text transform="translate(457.8,1777.9) scale(0.975,1)" font-family="'Liberation Serif','Times New Roman',serif" font-weight="normal" font-size="63" fill="#9999FF">Graphitic N</text>
<text transform="translate(912.9,2077.2) scale(0.975,1)" font-family="'Liberation Serif','Times New Roman',serif" font-weight="normal" font-size="63" fill="#FF6600">Pyridinic/</text>
<text transform="translate(912.9,2144.6) scale(0.975,1)" font-family="'Liberation Serif','Times New Roman',serif" font-weight="normal" font-size="63" fill="#FF6600">Pyrrolic N</text>
<path d="M1412.6,876.5 L1424.1,966.8 L1437.9,873.5 L1449.3,1035.7 L1456.2,861.2 L1474.6,937.8 L1482.2,852.0 L1489.9,862.8 L1494.5,1049.5 L1500.6,927.0 L1514.4,1035.7 L1519.0,898.0 L1523.6,891.8 L1529.7,868.9 L1537.0,777.9 L1547.6,831.0 L1562.2,838.9 L1575.5,582.9 L1588.8,552.4 L1603.3,715.5 L1607.3,483.4 L1615.3,499.4 L1629.4,274.5 L1639.6,103.1 L1647.8,256.1 L1652.9,80.6 L1664.0,111.2 L1672.5,295.0 L1679.4,225.5 L1686.5,346.0 L1692.7,386.7 L1704.0,641.7 L1711.0,515.0 L1728.9,829.0 L1741.3,766.0 L1748.2,906.0 L1755.0,870.0 L1766.9,939.5 L1773.8,873.4 L1786.6,961.2 L1791.6,909.9 L1808.3,973.0 L1817.2,909.9 L1830.0,1078.0 L1837.0,876.4 L1849.8,975.0 L1855.7,856.6 L1868.5,984.9 L1875.4,939.5 L1887.2,990.8 L1892.2,912.9 L1900.0,979.0 L1906.0,896.1 L1918.8,1065.7 L1936.5,888.2 L1943.0,898.0 L1950.4,868.5 L1956.3,969.1 L1970.0,996.7 L1975.0,915.8 L1981.9,949.3 L1995.7,967.1 L2000.7,909.9 L2006.0,960.0 L2013.5,933.6 L2021.4,1002.6 L2026.3,894.1 L2033.2,986.8 L2040.0,949.3 L2045.0,1002.6 L2063.5,820.3 L2077.0,1028.2 L2090.5,911.8 L2096.8,1022.0 L2103.0,946.1 L2115.5,1067.7 L2120.7,955.4 L2128.0,964.8 L2141.5,900.3 L2147.7,995.0 L2158.1,932.6 L2165.4,1049.0 L2184.1,840.0 L2192.4,1028.2 L2197.6,988.7 L2203.8,999.0 L2210.1,938.8 L2217.4,1034.4 L2228.8,967.9 L2235.0,1069.8 L2241.3,934.6 L2249.6,959.6 L2254.8,897.2 L2260.0,933.6 L2267.3,922.2 L2273.5,1080.2 L2279.7,825.5 L2285.0,988.7 L2295.3,888.9 L2305.7,880.6 L2312.0,972.0 L2318.2,913.8 L2324.4,1007.4 L2336.9,868.1 L2349.4,954.4 L2355.6,847.3 L2366.0,859.8 L2374.3,1086.4 L2387.8,895.1 L2399.3,988.7 L2406.5,898.3 L2414.9,1009.5" fill="none" stroke="#000" stroke-width="9.5" stroke-linejoin="round" stroke-linecap="round"/>
<path d="M1404.2,989.8 L1405.7,989.4 L1407.2,989.0 L1408.7,988.7 L1410.2,988.3 L1411.7,987.9 L1413.2,987.5 L1414.7,987.2 L1416.2,986.8 L1417.7,986.4 L1419.2,986.0 L1420.7,985.7 L1422.2,985.3 L1423.7,984.9 L1425.2,984.5 L1426.7,984.2 L1428.2,983.8 L1429.7,983.4 L1431.2,983.0 L1432.7,982.7 L1434.2,982.3 L1435.7,981.9 L1437.2,981.5 L1438.7,981.2 L1440.2,980.8 L1441.7,980.4 L1443.2,980.1 L1444.7,979.7 L1446.2,979.3 L1447.7,979.0 L1449.2,978.6 L1450.7,978.3 L1452.2,977.9 L1453.7,977.6 L1455.2,977.2 L1456.7,976.9 L1458.2,976.5 L1459.7,976.1 L1461.2,975.8 L1462.7,975.4 L1464.2,975.0 L1465.7,974.6 L1467.2,974.2 L1468.7,973.8 L1470.2,973.4 L1471.7,972.9 L1473.2,972.5 L1474.7,972.1 L1476.2,971.7 L1477.7,971.3 L1479.2,970.9 L1480.7,970.5 L1482.2,970.1 L1483.7,969.7 L1485.2,969.3 L1486.7,968.8 L1488.2,968.4 L1489.7,967.9 L1491.2,967.3 L1492.7,966.8 L1494.2,966.2 L1495.7,965.6 L1497.2,964.9 L1498.7,964.2 L1500.2,963.4 L1501.7,962.5 L1503.2,961.6 L1504.7,960.3 L1506.2,958.8 L1507.7,957.0 L1509.2,955.0 L1510.7,952.9 L1512.2,950.7 L1513.7,948.3 L1515.2,945.9 L1516.7,943.2 L1518.2,940.3 L1519.7,937.2 L1521.2,933.7 L1522.7,930.0 L1524.2,925.9 L1525.7,921.5 L1527.2,916.4 L1528.7,910.2 L1530.2,903.1 L1531.7,895.2 L1533.2,887.0 L1534.7,878.5 L1536.2,870.0 L1537.7,861.7 L1539.2,853.8 L1540.7,845.0 L1542.2,835.2 L1543.7,824.8 L1545.2,814.7 L1546.7,805.5 L1548.2,797.9 L1549.7,792.5 L1551.2,790.1 L1552.7,790.0 L1554.2,790.0 L1555.7,790.0 L1557.2,790.0 L1558.7,790.0 L1560.2,790.0 L1561.7,790.0 L1563.2,790.0 L1564.7,789.9 L1566.2,788.8 L1567.7,786.6 L1569.2,783.6 L1570.7,779.8 L1572.2,775.3 L1573.7,770.4 L1575.2,765.1 L1576.7,759.5 L1578.2,750.7 L1579.7,738.4 L1581.2,723.7 L1582.7,707.3 L1584.2,690.2 L1585.7,673.3 L1587.2,657.6 L1588.7,643.9 L1590.2,633.2 L1591.7,624.4 L1593.2,616.7 L1594.7,609.6 L1596.2,603.0 L1597.7,596.7 L1599.2,590.4 L1600.7,583.9 L1602.2,577.0 L1603.7,569.4 L1605.2,561.3 L1606.7,553.3 L1608.2,545.3 L1609.7,537.2 L1611.2,529.0 L1612.7,520.5 L1614.2,511.8 L1615.7,502.6 L1617.2,493.0 L1618.7,482.8 L1620.2,472.0 L1621.7,460.5 L1623.2,448.3 L1624.7,435.1 L1626.2,420.4 L1627.7,402.0 L1629.2,380.5 L1630.7,356.6 L1632.2,331.3 L1633.7,305.4 L1635.2,279.6 L1636.7,254.9 L1638.2,232.1 L1639.7,212.1 L1641.2,192.3 L1642.7,171.2 L1644.2,149.9 L1645.7,129.3 L1647.2,110.5 L1648.7,94.4 L1650.2,82.0 L1651.7,74.4 L1653.2,72.5 L1654.7,76.3 L1656.2,84.7 L1657.7,96.9 L1659.2,112.2 L1660.7,129.7 L1662.2,148.6 L1663.7,167.9 L1665.2,187.0 L1666.7,208.3 L1668.2,233.7 L1669.7,262.1 L1671.2,292.7 L1672.7,324.4 L1674.2,356.2 L1675.7,387.4 L1677.2,416.7 L1678.7,444.0 L1680.2,471.2 L1681.7,498.5 L1683.2,525.5 L1684.7,551.9 L1686.2,577.2 L1687.7,601.3 L1689.2,623.8 L1690.7,644.3 L1692.2,663.8 L1693.7,682.5 L1695.2,700.4 L1696.7,717.4 L1698.2,733.5 L1699.7,748.5 L1701.2,762.5 L1702.7,775.3 L1704.2,787.2 L1705.7,798.7 L1707.2,809.5 L1708.7,819.7 L1710.2,829.3 L1711.7,838.1 L1713.2,846.2 L1714.7,853.4 L1716.2,859.9 L1717.7,866.1 L1719.2,871.9 L1720.7,877.3 L1722.2,882.4 L1723.7,887.1 L1725.2,891.5 L1726.7,895.5 L1728.2,899.1 L1729.7,902.5 L1731.2,905.7 L1732.7,908.8 L1734.2,911.9 L1735.7,914.9 L1737.2,917.8 L1738.7,920.6 L1740.2,923.3 L1741.7,926.0 L1743.2,928.6 L1744.7,931.1 L1746.2,933.5 L1747.7,935.9 L1749.2,938.2 L1750.7,940.4 L1752.2,942.5 L1753.7,944.5 L1755.2,946.5 L1756.7,948.4 L1758.2,950.2 L1759.7,952.0 L1761.2,953.6 L1762.7,955.2 L1764.2,956.7 L1765.7,958.2 L1767.2,959.5 L1768.7,960.8 L1770.2,962.1 L1771.7,963.3 L1773.2,964.4 L1774.7,965.6 L1776.2,966.7 L1777.7,967.7 L1779.2,968.8 L1780.7,969.8 L1782.2,970.7 L1783.7,971.7 L1785.2,972.6 L1786.7,973.5 L1788.2,974.4 L1789.7,975.2 L1791.2,976.0 L1792.7,976.8 L1794.2,977.6 L1795.7,978.3 L1797.2,979.0 L1798.7,979.7 L1800.2,980.3 L1801.7,981.0 L1803.2,981.6 L1804.7,982.2 L1806.2,982.7 L1807.7,983.3 L1809.2,983.8 L1810.7,984.3 L1812.2,984.8 L1813.7,985.3 L1815.2,985.8 L1816.7,986.3 L1818.2,986.8 L1819.7,987.2 L1821.2,987.7 L1822.7,988.1 L1824.2,988.6 L1825.7,989.0 L1827.2,989.4 L1828.7,989.8 L1830.2,990.2 L1831.7,990.6 L1833.2,991.0 L1834.7,991.4 L1836.2,991.8 L1837.7,992.1 L1839.2,992.5 L1840.7,992.8 L1842.2,993.2 L1843.7,993.5 L1845.2,993.8 L1846.7,994.2 L1848.2,994.5 L1849.7,994.8 L1851.2,995.1 L1852.7,995.4 L1854.2,995.7 L1855.7,996.0 L1857.2,996.2 L1858.7,996.5 L1860.2,996.8 L1861.7,997.0 L1863.2,997.3 L1864.7,997.5 L1866.2,997.8 L1867.7,998.0 L1869.2,998.3 L1870.7,998.5 L1872.2,998.7 L1873.7,999.0 L1875.2,999.2 L1876.7,999.4 L1878.2,999.6 L1879.7,999.8 L1881.2,1000.1 L1882.7,1000.3 L1884.2,1000.5 L1885.7,1000.7 L1887.2,1000.9 L1888.7,1001.1 L1890.2,1001.3 L1891.7,1001.5 L1893.2,1001.7 L1894.7,1001.9 L1896.2,1002.1 L1897.7,1002.3 L1899.2,1002.5 L1900.7,1002.6 L1902.2,1002.8 L1903.7,1003.0 L1905.2,1003.2 L1906.7,1003.3 L1908.2,1003.5 L1909.7,1003.7 L1911.2,1003.8 L1912.7,1004.0 L1914.2,1004.2 L1915.7,1004.3 L1917.2,1004.5 L1918.7,1004.6 L1920.2,1004.8 L1921.7,1004.9 L1923.2,1005.1 L1924.7,1005.2 L1926.2,1005.4 L1927.7,1005.5 L1929.2,1005.6 L1930.7,1005.8 L1932.2,1005.9 L1933.7,1006.0 L1935.2,1006.1 L1936.7,1006.3 L1938.2,1006.4 L1939.7,1006.5 L1941.2,1006.6 L1942.7,1006.7 L1944.2,1006.8 L1945.7,1007.0 L1947.2,1007.1 L1948.7,1007.2 L1950.2,1007.3 L1951.7,1007.4 L1953.2,1007.5 L1954.7,1007.6 L1956.2,1007.7 L1957.7,1007.8 L1959.2,1007.9 L1960.7,1008.0 L1962.2,1008.1 L1963.7,1008.2 L1965.2,1008.3 L1966.7,1008.4 L1968.2,1008.5 L1969.7,1008.6 L1971.2,1008.7 L1972.7,1008.8 L1974.2,1008.8 L1975.7,1008.9 L1977.2,1009.0 L1978.7,1009.1 L1980.2,1009.2 L1981.7,1009.3 L1983.2,1009.4 L1984.7,1009.5 L1986.2,1009.6 L1987.7,1009.7 L1989.2,1009.7 L1990.7,1009.8 L1992.2,1009.9 L1993.7,1010.0 L1995.2,1010.1 L1996.7,1010.2 L1998.2,1010.2 L1999.7,1010.3 L2001.2,1010.4 L2002.7,1010.5 L2004.2,1010.6 L2005.7,1010.6 L2007.2,1010.7 L2008.7,1010.8 L2010.2,1010.9 L2011.7,1010.9 L2013.2,1011.0 L2014.7,1011.1 L2016.2,1011.1 L2017.7,1011.2 L2019.2,1011.3 L2020.7,1011.3 L2022.2,1011.4 L2023.7,1011.4 L2025.2,1011.5 L2026.7,1011.6 L2028.2,1011.6 L2029.7,1011.7 L2031.2,1011.7 L2032.7,1011.8 L2034.2,1011.8 L2035.7,1011.9 L2037.2,1011.9 L2038.7,1012.0 L2040.2,1012.0 L2041.7,1012.1 L2043.2,1012.1 L2044.7,1012.2 L2046.2,1012.2 L2047.7,1012.2 L2049.2,1012.3 L2050.7,1012.3 L2052.2,1012.4 L2053.7,1012.4 L2055.2,1012.4 L2056.7,1012.4 L2058.2,1012.5 L2059.7,1012.5 L2061.2,1012.5 L2062.7,1012.5 L2064.2,1012.6 L2065.7,1012.6 L2067.2,1012.6 L2068.7,1012.6 L2070.2,1012.7 L2071.7,1012.7 L2073.2,1012.7 L2074.7,1012.7 L2076.2,1012.8 L2077.7,1012.8 L2079.2,1012.8 L2080.7,1012.8 L2082.2,1012.9 L2083.7,1012.9 L2085.2,1012.9 L2086.7,1012.9 L2088.2,1012.9 L2089.7,1013.0 L2091.2,1013.0 L2092.7,1013.0 L2094.2,1013.0 L2095.7,1013.1 L2097.2,1013.1 L2098.7,1013.1 L2100.2,1013.1 L2101.7,1013.1 L2103.2,1013.2 L2104.7,1013.2 L2106.2,1013.2 L2107.7,1013.2 L2109.2,1013.3 L2110.7,1013.3 L2112.2,1013.3 L2113.7,1013.3 L2115.2,1013.3 L2116.7,1013.4 L2118.2,1013.4 L2119.7,1013.4 L2121.2,1013.4 L2122.7,1013.4 L2124.2,1013.5 L2125.7,1013.5 L2127.2,1013.5 L2128.7,1013.5 L2130.2,1013.5 L2131.7,1013.6 L2133.2,1013.6 L2134.7,1013.6 L2136.2,1013.6 L2137.7,1013.6 L2139.2,1013.7 L2140.7,1013.7 L2142.2,1013.7 L2143.7,1013.7 L2145.2,1013.7 L2146.7,1013.8 L2148.2,1013.8 L2149.7,1013.8 L2151.2,1013.8 L2152.7,1013.8 L2154.2,1013.9 L2155.7,1013.9 L2157.2,1013.9 L2158.7,1013.9 L2160.2,1013.9 L2161.7,1013.9 L2163.2,1014.0 L2164.7,1014.0 L2166.2,1014.0 L2167.7,1014.0 L2169.2,1014.0 L2170.7,1014.0 L2172.2,1014.1 L2173.7,1014.1 L2175.2,1014.1 L2176.7,1014.1 L2178.2,1014.1 L2179.7,1014.2 L2181.2,1014.2 L2182.7,1014.2 L2184.2,1014.2 L2185.7,1014.2 L2187.2,1014.2 L2188.7,1014.2 L2190.2,1014.3 L2191.7,1014.3 L2193.2,1014.3 L2194.7,1014.3 L2196.2,1014.3 L2197.7,1014.3 L2199.2,1014.4 L2200.7,1014.4 L2202.2,1014.4 L2203.7,1014.4 L2205.2,1014.4 L2206.7,1014.4 L2208.2,1014.5 L2209.7,1014.5 L2211.2,1014.5 L2212.7,1014.5 L2214.2,1014.5 L2215.7,1014.5 L2217.2,1014.5 L2218.7,1014.6 L2220.2,1014.6 L2221.7,1014.6 L2223.2,1014.6 L2224.7,1014.6 L2226.2,1014.6 L2227.7,1014.6 L2229.2,1014.6 L2230.7,1014.7 L2232.2,1014.7 L2233.7,1014.7 L2235.2,1014.7 L2236.7,1014.7 L2238.2,1014.7 L2239.7,1014.7 L2241.2,1014.8 L2242.7,1014.8 L2244.2,1014.8 L2245.7,1014.8 L2247.2,1014.8 L2248.7,1014.8 L2250.2,1014.8 L2251.7,1014.8 L2253.2,1014.9 L2254.7,1014.9 L2256.2,1014.9 L2257.7,1014.9 L2259.2,1014.9 L2260.7,1014.9 L2262.2,1014.9 L2263.7,1014.9 L2265.2,1014.9 L2266.7,1015.0 L2268.2,1015.0 L2269.7,1015.0 L2271.2,1015.0 L2272.7,1015.0 L2274.2,1015.0 L2275.7,1015.0 L2277.2,1015.0 L2278.7,1015.0 L2280.2,1015.0 L2281.7,1015.1 L2283.2,1015.1 L2284.7,1015.1 L2286.2,1015.1 L2287.7,1015.1 L2289.2,1015.1 L2290.7,1015.1 L2292.2,1015.1 L2293.7,1015.1 L2295.2,1015.1 L2296.7,1015.1 L2298.2,1015.2 L2299.7,1015.2 L2301.2,1015.2 L2302.7,1015.2 L2304.2,1015.2 L2305.7,1015.2 L2307.2,1015.2 L2308.7,1015.2 L2310.2,1015.2 L2311.7,1015.2 L2313.2,1015.2 L2314.7,1015.2 L2316.2,1015.3 L2317.7,1015.3 L2319.2,1015.3 L2320.7,1015.3 L2322.2,1015.3 L2323.7,1015.3 L2325.2,1015.3 L2326.7,1015.3 L2328.2,1015.3 L2329.7,1015.3 L2331.2,1015.3 L2332.7,1015.3 L2334.2,1015.3 L2335.7,1015.3 L2337.2,1015.3 L2338.7,1015.4 L2340.2,1015.4 L2341.7,1015.4 L2343.2,1015.4 L2344.7,1015.4 L2346.2,1015.4 L2347.7,1015.4 L2349.2,1015.4 L2350.7,1015.4 L2352.2,1015.4 L2353.7,1015.4 L2355.2,1015.4 L2356.7,1015.4 L2358.2,1015.4 L2359.7,1015.4 L2361.2,1015.4 L2362.7,1015.4 L2364.2,1015.4 L2365.7,1015.4 L2367.2,1015.4 L2368.7,1015.4 L2370.2,1015.4 L2371.7,1015.5 L2373.2,1015.5 L2374.7,1015.5 L2376.2,1015.5 L2377.7,1015.5 L2379.2,1015.5 L2380.7,1015.5 L2382.2,1015.5 L2383.7,1015.5 L2385.2,1015.5 L2386.7,1015.5 L2388.2,1015.5 L2389.7,1015.5 L2391.2,1015.5 L2392.7,1015.5 L2394.2,1015.5 L2395.7,1015.5 L2397.2,1015.5 L2398.7,1015.5 L2400.2,1015.5 L2401.7,1015.5 L2403.2,1015.5 L2404.7,1015.5 L2406.2,1015.5 L2407.7,1015.5 L2409.2,1015.5 L2410.7,1015.5 L2412.2,1015.5 L2413.7,1015.5 L2415.2,1015.5" fill="none" stroke="#000" stroke-width="2"/>
<path d="M1402.4,987.8a10,9 0 1,0 20,0a10,9 0 1,0 -20,0M1415.0,984.6a10,9 0 1,0 20,0a10,9 0 1,0 -20,0M1427.7,981.4a10,9 0 1,0 20,0a10,9 0 1,0 -20,0M1440.3,978.4a10,9 0 1,0 20,0a10,9 0 1,0 -20,0M1453.0,975.3a10,9 0 1,0 20,0a10,9 0 1,0 -20,0M1465.7,971.8a10,9 0 1,0 20,0a10,9 0 1,0 -20,0M1478.3,968.3a10,9 0 1,0 20,0a10,9 0 1,0 -20,0M1491.0,962.9a10,9 0 1,0 20,0a10,9 0 1,0 -20,0M1503.6,948.4a10,9 0 1,0 20,0a10,9 0 1,0 -20,0M1516.3,919.6a10,9 0 1,0 20,0a10,9 0 1,0 -20,0M1529.0,855.0a10,9 0 1,0 20,0a10,9 0 1,0 -20,0M1541.6,790.0a10,9 0 1,0 20,0a10,9 0 1,0 -20,0M1554.3,790.0a10,9 0 1,0 20,0a10,9 0 1,0 -20,0M1566.9,758.3a10,9 0 1,0 20,0a10,9 0 1,0 -20,0M1579.6,637.0a10,9 0 1,0 20,0a10,9 0 1,0 -20,0M1592.3,576.7a10,9 0 1,0 20,0a10,9 0 1,0 -20,0M1604.9,507.4a10,9 0 1,0 20,0a10,9 0 1,0 -20,0M1617.6,403.6a10,9 0 1,0 20,0a10,9 0 1,0 -20,0M1630.2,205.1a10,9 0 1,0 20,0a10,9 0 1,0 -20,0M1642.9,72.4a10,9 0 1,0 20,0a10,9 0 1,0 -20,0M1655.6,191.7a10,9 0 1,0 20,0a10,9 0 1,0 -20,0M1668.2,435.3a10,9 0 1,0 20,0a10,9 0 1,0 -20,0M1680.9,646.7a10,9 0 1,0 20,0a10,9 0 1,0 -20,0M1693.5,782.0a10,9 0 1,0 20,0a10,9 0 1,0 -20,0M1706.2,859.9a10,9 0 1,0 20,0a10,9 0 1,0 -20,0M1718.9,900.6a10,9 0 1,0 20,0a10,9 0 1,0 -20,0M1731.5,925.7a10,9 0 1,0 20,0a10,9 0 1,0 -20,0M1744.2,945.2a10,9 0 1,0 20,0a10,9 0 1,0 -20,0M1756.8,959.2a10,9 0 1,0 20,0a10,9 0 1,0 -20,0M1769.5,969.0a10,9 0 1,0 20,0a10,9 0 1,0 -20,0M1782.2,976.5a10,9 0 1,0 20,0a10,9 0 1,0 -20,0M1794.8,982.2a10,9 0 1,0 20,0a10,9 0 1,0 -20,0M1807.5,986.6a10,9 0 1,0 20,0a10,9 0 1,0 -20,0M1820.1,990.2a10,9 0 1,0 20,0a10,9 0 1,0 -20,0M1832.8,993.3a10,9 0 1,0 20,0a10,9 0 1,0 -20,0M1845.5,995.9a10,9 0 1,0 20,0a10,9 0 1,0 -20,0M1858.1,998.1a10,9 0 1,0 20,0a10,9 0 1,0 -20,0M1870.8,1000.0a10,9 0 1,0 20,0a10,9 0 1,0 -20,0M1883.4,1001.7a10,9 0 1,0 20,0a10,9 0 1,0 -20,0M1896.1,1003.3a10,9 0 1,0 20,0a10,9 0 1,0 -20,0M1908.8,1004.6a10,9 0 1,0 20,0a10,9 0 1,0 -20,0M1921.4,1005.8a10,9 0 1,0 20,0a10,9 0 1,0 -20,0M1934.1,1006.8a10,9 0 1,0 20,0a10,9 0 1,0 -20,0M1946.7,1007.7a10,9 0 1,0 20,0a10,9 0 1,0 -20,0M1959.4,1008.5a10,9 0 1,0 20,0a10,9 0 1,0 -20,0M1972.1,1009.3a10,9 0 1,0 20,0a10,9 0 1,0 -20,0M1984.7,1010.1a10,9 0 1,0 20,0a10,9 0 1,0 -20,0M1997.4,1010.7a10,9 0 1,0 20,0a10,9 0 1,0 -20,0M2010.0,1011.3a10,9 0 1,0 20,0a10,9 0 1,0 -20,0M2022.7,1011.8a10,9 0 1,0 20,0a10,9 0 1,0 -20,0M2035.4,1012.2a10,9 0 1,0 20,0a10,9 0 1,0 -20,0M2048.0,1012.5a10,9 0 1,0 20,0a10,9 0 1,0 -20,0M2060.7,1012.7a10,9 0 1,0 20,0a10,9 0 1,0 -20,0M2073.3,1012.9a10,9 0 1,0 20,0a10,9 0 1,0 -20,0M2086.0,1013.1a10,9 0 1,0 20,0a10,9 0 1,0 -20,0M2098.7,1013.2a10,9 0 1,0 20,0a10,9 0 1,0 -20,0M2111.3,1013.4a10,9 0 1,0 20,0a10,9 0 1,0 -20,0M2124.0,1013.6a10,9 0 1,0 20,0a10,9 0 1,0 -20,0M2136.6,1013.8a10,9 0 1,0 20,0a10,9 0 1,0 -20,0M2149.3,1013.9a10,9 0 1,0 20,0a10,9 0 1,0 -20,0M2162.0,1014.1a10,9 0 1,0 20,0a10,9 0 1,0 -20,0M2174.6,1014.2a10,9 0 1,0 20,0a10,9 0 1,0 -20,0M2187.3,1014.3a10,9 0 1,0 20,0a10,9 0 1,0 -20,0M2199.9,1014.5a10,9 0 1,0 20,0a10,9 0 1,0 -20,0M2212.6,1014.6a10,9 0 1,0 20,0a10,9 0 1,0 -20,0M2225.3,1014.7a10,9 0 1,0 20,0a10,9 0 1,0 -20,0M2237.9,1014.8a10,9 0 1,0 20,0a10,9 0 1,0 -20,0M2250.6,1014.9a10,9 0 1,0 20,0a10,9 0 1,0 -20,0M2263.2,1015.0a10,9 0 1,0 20,0a10,9 0 1,0 -20,0M2275.9,1015.1a10,9 0 1,0 20,0a10,9 0 1,0 -20,0M2288.6,1015.2a10,9 0 1,0 20,0a10,9 0 1,0 -20,0M2301.2,1015.2a10,9 0 1,0 20,0a10,9 0 1,0 -20,0M2313.9,1015.3a10,9 0 1,0 20,0a10,9 0 1,0 -20,0M2326.5,1015.3a10,9 0 1,0 20,0a10,9 0 1,0 -20,0M2339.2,1015.4a10,9 0 1,0 20,0a10,9 0 1,0 -20,0M2351.9,1015.4a10,9 0 1,0 20,0a10,9 0 1,0 -20,0M2364.5,1015.5a10,9 0 1,0 20,0a10,9 0 1,0 -20,0M2377.2,1015.5a10,9 0 1,0 20,0a10,9 0 1,0 -20,0M2389.8,1015.5a10,9 0 1,0 20,0a10,9 0 1,0 -20,0M2402.5,1015.5a10,9 0 1,0 20,0a10,9 0 1,0 -20,0" fill="#FF0000"/>
<path d="M1408.8,1009.5 L1410.3,1009.5 L1411.8,1009.6 L1413.3,1009.6 L1414.8,1009.6 L1416.3,1009.6 L1417.8,1009.7 L1419.3,1009.7 L1420.8,1009.7 L1422.3,1009.7 L1423.8,1009.8 L1425.3,1009.8 L1426.8,1009.8 L1428.3,1009.8 L1429.8,1009.9 L1431.3,1009.9 L1432.8,1009.9 L1434.3,1010.0 L1435.8,1010.0 L1437.3,1010.0 L1438.8,1010.0 L1440.3,1010.1 L1441.8,1010.1 L1443.3,1010.1 L1444.8,1010.1 L1446.3,1010.2 L1447.8,1010.2 L1449.3,1010.2 L1450.8,1010.3 L1452.3,1010.3 L1453.8,1010.3 L1455.3,1010.3 L1456.8,1010.4 L1458.3,1010.4 L1459.8,1010.4 L1461.3,1010.4 L1462.8,1010.5 L1464.3,1010.5 L1465.8,1010.5 L1467.3,1010.5 L1468.8,1010.6 L1470.3,1010.6 L1471.8,1010.6 L1473.3,1010.7 L1474.8,1010.7 L1476.3,1010.7 L1477.8,1010.7 L1479.3,1010.8 L1480.8,1010.8 L1482.3,1010.8 L1483.8,1010.8 L1485.3,1010.9 L1486.8,1010.9 L1488.3,1010.9 L1489.8,1010.9 L1491.3,1011.0 L1492.8,1011.0 L1494.3,1011.0 L1495.8,1011.0 L1497.3,1011.1 L1498.8,1011.1 L1500.3,1011.1 L1501.8,1011.1 L1503.3,1011.2 L1504.8,1011.2 L1506.3,1011.2 L1507.8,1011.3 L1509.3,1011.3 L1510.8,1011.3 L1512.3,1011.3 L1513.8,1011.4 L1515.3,1011.4 L1516.8,1011.4 L1518.3,1011.4 L1519.8,1011.5 L1521.3,1011.5 L1522.8,1011.5 L1524.3,1011.5 L1525.8,1011.6 L1527.3,1011.6 L1528.8,1011.6 L1530.3,1011.6 L1531.8,1011.7 L1533.3,1011.7 L1534.8,1011.7 L1536.3,1011.7 L1537.8,1011.8 L1539.3,1011.8 L1540.8,1011.8 L1542.3,1011.8 L1543.8,1011.9 L1545.3,1011.9 L1546.8,1011.9 L1548.3,1011.9 L1549.8,1012.0 L1551.3,1012.0 L1552.8,1012.0 L1554.3,1012.0 L1555.8,1012.1 L1557.3,1012.1 L1558.8,1012.1 L1560.3,1012.1 L1561.8,1012.2 L1563.3,1012.2 L1564.8,1012.2 L1566.3,1012.2 L1567.8,1012.2 L1569.3,1012.3 L1570.8,1012.3 L1572.3,1012.3 L1573.8,1012.3 L1575.3,1012.4 L1576.8,1012.4 L1578.3,1012.4 L1579.8,1012.4 L1581.3,1012.5 L1582.8,1012.5 L1584.3,1012.5 L1585.8,1012.5 L1587.3,1012.5 L1588.8,1012.6 L1590.3,1012.6 L1591.8,1012.6 L1593.3,1012.6 L1594.8,1012.7 L1596.3,1012.7 L1597.8,1012.7 L1599.3,1012.7 L1600.8,1012.7 L1602.3,1012.8 L1603.8,1012.8 L1605.3,1012.8 L1606.8,1012.8 L1608.3,1012.9 L1609.8,1012.9 L1611.3,1012.9 L1612.8,1012.9 L1614.3,1012.9 L1615.8,1013.0 L1617.3,1013.0 L1618.8,1013.0 L1620.3,1013.0 L1621.8,1013.1 L1623.3,1013.1 L1624.8,1013.1 L1626.3,1013.1 L1627.8,1013.1 L1629.3,1013.2 L1630.8,1013.2 L1632.3,1013.2 L1633.8,1013.2 L1635.3,1013.2 L1636.8,1013.3 L1638.3,1013.3 L1639.8,1013.3 L1641.3,1013.3 L1642.8,1013.3 L1644.3,1013.4 L1645.8,1013.4 L1647.3,1013.4 L1648.8,1013.4 L1650.3,1013.4 L1651.8,1013.4 L1653.3,1013.5 L1654.8,1013.5 L1656.3,1013.5 L1657.8,1013.5 L1659.3,1013.5 L1660.8,1013.6 L1662.3,1013.6 L1663.8,1013.6 L1665.3,1013.6 L1666.8,1013.6 L1668.3,1013.7 L1669.8,1013.7 L1671.3,1013.7 L1672.8,1013.7 L1674.3,1013.7 L1675.8,1013.7 L1677.3,1013.8 L1678.8,1013.8 L1680.3,1013.8 L1681.8,1013.8 L1683.3,1013.8 L1684.8,1013.8 L1686.3,1013.9 L1687.8,1013.9 L1689.3,1013.9 L1690.8,1013.9 L1692.3,1013.9 L1693.8,1013.9 L1695.3,1014.0 L1696.8,1014.0 L1698.3,1014.0 L1699.8,1014.0 L1701.3,1014.0 L1702.8,1014.0 L1704.3,1014.0 L1705.8,1014.1 L1707.3,1014.1 L1708.8,1014.1 L1710.3,1014.1 L1711.8,1014.1 L1713.3,1014.1 L1714.8,1014.2 L1716.3,1014.2 L1717.8,1014.2 L1719.3,1014.2 L1720.8,1014.2 L1722.3,1014.2 L1723.8,1014.2 L1725.3,1014.3 L1726.8,1014.3 L1728.3,1014.3 L1729.8,1014.3 L1731.3,1014.3 L1732.8,1014.3 L1734.3,1014.3 L1735.8,1014.4 L1737.3,1014.4 L1738.8,1014.4 L1740.3,1014.4 L1741.8,1014.4 L1743.3,1014.4 L1744.8,1014.5 L1746.3,1014.5 L1747.8,1014.5 L1749.3,1014.5 L1750.8,1014.5 L1752.3,1014.5 L1753.8,1014.5 L1755.3,1014.6 L1756.8,1014.6 L1758.3,1014.6 L1759.8,1014.6 L1761.3,1014.6 L1762.8,1014.6 L1764.3,1014.6 L1765.8,1014.7 L1767.3,1014.7 L1768.8,1014.7 L1770.3,1014.7 L1771.8,1014.7 L1773.3,1014.7 L1774.8,1014.8 L1776.3,1014.8 L1777.8,1014.8 L1779.3,1014.8 L1780.8,1014.8 L1782.3,1014.8 L1783.8,1014.8 L1785.3,1014.9 L1786.8,1014.9 L1788.3,1014.9 L1789.8,1014.9 L1791.3,1014.9 L1792.8,1014.9 L1794.3,1014.9 L1795.8,1015.0 L1797.3,1015.0 L1798.8,1015.0 L1800.3,1015.0 L1801.8,1015.0 L1803.3,1015.0 L1804.8,1015.1 L1806.3,1015.1 L1807.8,1015.1 L1809.3,1015.1 L1810.8,1015.1 L1812.3,1015.1 L1813.8,1015.1 L1815.3,1015.2 L1816.8,1015.2 L1818.3,1015.2 L1819.8,1015.2 L1821.3,1015.2 L1822.8,1015.2 L1824.3,1015.2 L1825.8,1015.3 L1827.3,1015.3 L1828.8,1015.3 L1830.3,1015.3 L1831.8,1015.3 L1833.3,1015.3 L1834.8,1015.3 L1836.3,1015.4 L1837.8,1015.4 L1839.3,1015.4 L1840.8,1015.4 L1842.3,1015.4 L1843.8,1015.4 L1845.3,1015.4 L1846.8,1015.5 L1848.3,1015.5 L1849.8,1015.5 L1851.3,1015.5 L1852.8,1015.5 L1854.3,1015.5 L1855.8,1015.6 L1857.3,1015.6 L1858.8,1015.6 L1860.3,1015.6 L1861.8,1015.6 L1863.3,1015.6 L1864.8,1015.6 L1866.3,1015.7 L1867.8,1015.7 L1869.3,1015.7 L1870.8,1015.7 L1872.3,1015.7 L1873.8,1015.7 L1875.3,1015.7 L1876.8,1015.8 L1878.3,1015.8 L1879.8,1015.8 L1881.3,1015.8 L1882.8,1015.8 L1884.3,1015.8 L1885.8,1015.8 L1887.3,1015.9 L1888.8,1015.9 L1890.3,1015.9 L1891.8,1015.9 L1893.3,1015.9 L1894.8,1015.9 L1896.3,1015.9 L1897.8,1015.9 L1899.3,1016.0 L1900.8,1016.0 L1902.3,1016.0 L1903.8,1016.0 L1905.3,1016.0 L1906.8,1016.0 L1908.3,1016.0 L1909.8,1016.1 L1911.3,1016.1 L1912.8,1016.1 L1914.3,1016.1 L1915.8,1016.1 L1917.3,1016.1 L1918.8,1016.1 L1920.3,1016.2 L1921.8,1016.2 L1923.3,1016.2 L1924.8,1016.2 L1926.3,1016.2 L1927.8,1016.2 L1929.3,1016.2 L1930.8,1016.3 L1932.3,1016.3 L1933.8,1016.3 L1935.3,1016.3 L1936.8,1016.3 L1938.3,1016.3 L1939.8,1016.3 L1941.3,1016.3 L1942.8,1016.4 L1944.3,1016.4 L1945.8,1016.4 L1947.3,1016.4 L1948.8,1016.4 L1950.3,1016.4 L1951.8,1016.4 L1953.3,1016.5 L1954.8,1016.5 L1956.3,1016.5 L1957.8,1016.5 L1959.3,1016.5 L1960.8,1016.5 L1962.3,1016.5 L1963.8,1016.5 L1965.3,1016.6 L1966.8,1016.6 L1968.3,1016.6 L1969.8,1016.6 L1971.3,1016.6 L1972.8,1016.6 L1974.3,1016.6 L1975.8,1016.7 L1977.3,1016.7 L1978.8,1016.7 L1980.3,1016.7 L1981.8,1016.7 L1983.3,1016.7 L1984.8,1016.7 L1986.3,1016.7 L1987.8,1016.8 L1989.3,1016.8 L1990.8,1016.8 L1992.3,1016.8 L1993.8,1016.8 L1995.3,1016.8 L1996.8,1016.8 L1998.3,1016.8 L1999.8,1016.9 L2001.3,1016.9 L2002.8,1016.9 L2004.3,1016.9 L2005.8,1016.9 L2007.3,1016.9 L2008.8,1016.9 L2010.3,1016.9 L2011.8,1017.0 L2013.3,1017.0 L2014.8,1017.0 L2016.3,1017.0 L2017.8,1017.0 L2019.3,1017.0 L2020.8,1017.0 L2022.3,1017.0 L2023.8,1017.1 L2025.3,1017.1 L2026.8,1017.1 L2028.3,1017.1 L2029.8,1017.1 L2031.3,1017.1 L2032.8,1017.1 L2034.3,1017.1 L2035.8,1017.1 L2037.3,1017.2 L2038.8,1017.2 L2040.3,1017.2 L2041.8,1017.2 L2043.3,1017.2 L2044.8,1017.2 L2046.3,1017.2 L2047.8,1017.2 L2049.3,1017.3 L2050.8,1017.3 L2052.3,1017.3 L2053.8,1017.3 L2055.3,1017.3 L2056.8,1017.3 L2058.3,1017.3 L2059.8,1017.3 L2061.3,1017.3 L2062.8,1017.4 L2064.3,1017.4 L2065.8,1017.4 L2067.3,1017.4 L2068.8,1017.4 L2070.3,1017.4 L2071.8,1017.4 L2073.3,1017.4 L2074.8,1017.5 L2076.3,1017.5 L2077.8,1017.5 L2079.3,1017.5 L2080.8,1017.5 L2082.3,1017.5 L2083.8,1017.5 L2085.3,1017.5 L2086.8,1017.5 L2088.3,1017.6 L2089.8,1017.6 L2091.3,1017.6 L2092.8,1017.6 L2094.3,1017.6 L2095.8,1017.6 L2097.3,1017.6 L2098.8,1017.6 L2100.3,1017.6 L2101.8,1017.6 L2103.3,1017.7 L2104.8,1017.7 L2106.3,1017.7 L2107.8,1017.7 L2109.3,1017.7 L2110.8,1017.7 L2112.3,1017.7 L2113.8,1017.7 L2115.3,1017.7 L2116.8,1017.8 L2118.3,1017.8 L2119.8,1017.8 L2121.3,1017.8 L2122.8,1017.8 L2124.3,1017.8 L2125.8,1017.8 L2127.3,1017.8 L2128.8,1017.8 L2130.3,1017.8 L2131.8,1017.9 L2133.3,1017.9 L2134.8,1017.9 L2136.3,1017.9 L2137.8,1017.9 L2139.3,1017.9 L2140.8,1017.9 L2142.3,1017.9 L2143.8,1017.9 L2145.3,1017.9 L2146.8,1018.0 L2148.3,1018.0 L2149.8,1018.0 L2151.3,1018.0 L2152.8,1018.0 L2154.3,1018.0 L2155.8,1018.0 L2157.3,1018.0 L2158.8,1018.0 L2160.3,1018.0 L2161.8,1018.0 L2163.3,1018.1 L2164.8,1018.1 L2166.3,1018.1 L2167.8,1018.1 L2169.3,1018.1 L2170.8,1018.1 L2172.3,1018.1 L2173.8,1018.1 L2175.3,1018.1 L2176.8,1018.1 L2178.3,1018.1 L2179.8,1018.2 L2181.3,1018.2 L2182.8,1018.2 L2184.3,1018.2 L2185.8,1018.2 L2187.3,1018.2 L2188.8,1018.2 L2190.3,1018.2 L2191.8,1018.2 L2193.3,1018.2 L2194.8,1018.2 L2196.3,1018.2 L2197.8,1018.3 L2199.3,1018.3 L2200.8,1018.3 L2202.3,1018.3 L2203.8,1018.3 L2205.3,1018.3 L2206.8,1018.3 L2208.3,1018.3 L2209.8,1018.3 L2211.3,1018.3 L2212.8,1018.3 L2214.3,1018.3 L2215.8,1018.4 L2217.3,1018.4 L2218.8,1018.4 L2220.3,1018.4 L2221.8,1018.4 L2223.3,1018.4 L2224.8,1018.4 L2226.3,1018.4 L2227.8,1018.4 L2229.3,1018.4 L2230.8,1018.4 L2232.3,1018.4 L2233.8,1018.4 L2235.3,1018.5 L2236.8,1018.5 L2238.3,1018.5 L2239.8,1018.5 L2241.3,1018.5 L2242.8,1018.5 L2244.3,1018.5 L2245.8,1018.5 L2247.3,1018.5 L2248.8,1018.5 L2250.3,1018.5 L2251.8,1018.5 L2253.3,1018.5 L2254.8,1018.5 L2256.3,1018.6 L2257.8,1018.6 L2259.3,1018.6 L2260.8,1018.6 L2262.3,1018.6 L2263.8,1018.6 L2265.3,1018.6 L2266.8,1018.6 L2268.3,1018.6 L2269.8,1018.6 L2271.3,1018.6 L2272.8,1018.6 L2274.3,1018.6 L2275.8,1018.6 L2277.3,1018.6 L2278.8,1018.6 L2280.3,1018.7 L2281.8,1018.7 L2283.3,1018.7 L2284.8,1018.7 L2286.3,1018.7 L2287.8,1018.7 L2289.3,1018.7 L2290.8,1018.7 L2292.3,1018.7 L2293.8,1018.7 L2295.3,1018.7 L2296.8,1018.7 L2298.3,1018.7 L2299.8,1018.7 L2301.3,1018.7 L2302.8,1018.7 L2304.3,1018.7 L2305.8,1018.8 L2307.3,1018.8 L2308.8,1018.8 L2310.3,1018.8 L2311.8,1018.8 L2313.3,1018.8 L2314.8,1018.8 L2316.3,1018.8 L2317.8,1018.8 L2319.3,1018.8 L2320.8,1018.8 L2322.3,1018.8 L2323.8,1018.8 L2325.3,1018.8 L2326.8,1018.8 L2328.3,1018.8 L2329.8,1018.8 L2331.3,1018.8 L2332.8,1018.8 L2334.3,1018.8 L2335.8,1018.8 L2337.3,1018.9 L2338.8,1018.9 L2340.3,1018.9 L2341.8,1018.9 L2343.3,1018.9 L2344.8,1018.9 L2346.3,1018.9 L2347.8,1018.9 L2349.3,1018.9 L2350.8,1018.9 L2352.3,1018.9 L2353.8,1018.9 L2355.3,1018.9 L2356.8,1018.9 L2358.3,1018.9 L2359.8,1018.9 L2361.3,1018.9 L2362.8,1018.9 L2364.3,1018.9 L2365.8,1018.9 L2367.3,1018.9 L2368.8,1018.9 L2370.3,1018.9 L2371.8,1018.9 L2373.3,1018.9 L2374.8,1018.9 L2376.3,1018.9 L2377.8,1018.9 L2379.3,1018.9 L2380.8,1019.0 L2382.3,1019.0 L2383.8,1019.0 L2385.3,1019.0 L2386.8,1019.0 L2388.3,1019.0 L2389.8,1019.0 L2391.3,1019.0 L2392.8,1019.0 L2394.3,1019.0 L2395.8,1019.0 L2397.3,1019.0 L2398.8,1019.0 L2400.3,1019.0 L2401.8,1019.0 L2403.3,1019.0 L2404.8,1019.0 L2406.3,1019.0 L2407.8,1019.0 L2409.3,1019.0 L2410.8,1019.0 L2412.3,1019.0 L2413.8,1019.0 L2415.3,1019.0" fill="none" stroke="#00FF00" stroke-width="8" stroke-linejoin="round" stroke-linecap="round"/>
<path d="M1408.8,1008.0 L1410.3,1008.0 L1411.8,1008.0 L1413.3,1008.0 L1414.8,1008.0 L1416.3,1008.0 L1417.8,1008.0 L1419.3,1008.0 L1420.8,1008.0 L1422.3,1008.0 L1423.8,1008.0 L1425.3,1007.9 L1426.8,1007.9 L1428.3,1007.9 L1429.8,1007.9 L1431.3,1007.9 L1432.8,1007.9 L1434.3,1007.9 L1435.8,1007.9 L1437.3,1007.8 L1438.8,1007.8 L1440.3,1007.8 L1441.8,1007.8 L1443.3,1007.8 L1444.8,1007.8 L1446.3,1007.7 L1447.8,1007.7 L1449.3,1007.7 L1450.8,1007.7 L1452.3,1007.7 L1453.8,1007.6 L1455.3,1007.6 L1456.8,1007.6 L1458.3,1007.6 L1459.8,1007.5 L1461.3,1007.5 L1462.8,1007.5 L1464.3,1007.5 L1465.8,1007.4 L1467.3,1007.4 L1468.8,1007.4 L1470.3,1007.3 L1471.8,1007.3 L1473.3,1007.2 L1474.8,1007.1 L1476.3,1007.0 L1477.8,1006.9 L1479.3,1006.8 L1480.8,1006.7 L1482.3,1006.6 L1483.8,1006.5 L1485.3,1006.3 L1486.8,1006.2 L1488.3,1006.0 L1489.8,1005.9 L1491.3,1005.7 L1492.8,1005.5 L1494.3,1005.3 L1495.8,1005.1 L1497.3,1004.9 L1498.8,1004.7 L1500.3,1004.5 L1501.8,1004.3 L1503.3,1004.1 L1504.8,1003.8 L1506.3,1003.6 L1507.8,1003.4 L1509.3,1003.1 L1510.8,1002.9 L1512.3,1002.6 L1513.8,1002.2 L1515.3,1001.8 L1516.8,1001.4 L1518.3,1000.9 L1519.8,1000.4 L1521.3,999.9 L1522.8,999.3 L1524.3,998.8 L1525.8,998.1 L1527.3,997.5 L1528.8,996.8 L1530.3,996.2 L1531.8,995.5 L1533.3,994.8 L1534.8,994.0 L1536.3,993.2 L1537.8,992.4 L1539.3,991.5 L1540.8,990.6 L1542.3,989.6 L1543.8,988.5 L1545.3,987.2 L1546.8,985.9 L1548.3,984.5 L1549.8,982.9 L1551.3,981.0 L1552.8,978.9 L1554.3,976.4 L1555.8,973.7 L1557.3,970.7 L1558.8,967.5 L1560.3,964.1 L1561.8,960.4 L1563.3,956.6 L1564.8,952.6 L1566.3,948.3 L1567.8,943.5 L1569.3,938.0 L1570.8,932.1 L1572.3,925.6 L1573.8,918.6 L1575.3,911.1 L1576.8,903.1 L1578.3,894.7 L1579.8,885.5 L1581.3,874.2 L1582.8,861.4 L1584.3,847.7 L1585.8,833.9 L1587.3,820.7 L1588.8,808.1 L1590.3,793.3 L1591.8,779.1 L1593.3,769.0 L1594.8,766.0 L1596.3,766.9 L1597.8,768.8 L1599.3,771.5 L1600.8,774.6 L1602.3,778.8 L1603.8,785.1 L1605.3,792.8 L1606.8,801.1 L1608.3,810.1 L1609.8,820.3 L1611.3,831.5 L1612.8,843.9 L1614.3,857.3 L1615.8,873.3 L1617.3,895.1 L1618.8,916.7 L1620.3,931.3 L1621.8,938.9 L1623.3,945.5 L1624.8,951.3 L1626.3,956.4 L1627.8,960.7 L1629.3,964.5 L1630.8,967.6 L1632.3,970.3 L1633.8,972.6 L1635.3,974.7 L1636.8,976.6 L1638.3,978.4 L1639.8,980.1 L1641.3,981.7 L1642.8,983.2 L1644.3,984.6 L1645.8,985.9 L1647.3,987.2 L1648.8,988.4 L1650.3,989.4 L1651.8,990.4 L1653.3,991.4 L1654.8,992.2 L1656.3,993.0 L1657.8,993.7 L1659.3,994.4 L1660.8,995.0 L1662.3,995.5 L1663.8,996.0 L1665.3,996.5 L1666.8,997.0 L1668.3,997.5 L1669.8,997.9 L1671.3,998.3 L1672.8,998.7 L1674.3,999.1 L1675.8,999.5 L1677.3,999.9 L1678.8,1000.2 L1680.3,1000.6 L1681.8,1000.9 L1683.3,1001.2 L1684.8,1001.5 L1686.3,1001.8 L1687.8,1002.0 L1689.3,1002.3 L1690.8,1002.5 L1692.3,1002.7 L1693.8,1002.9 L1695.3,1003.1 L1696.8,1003.2 L1698.3,1003.4 L1699.8,1003.5 L1701.3,1003.6 L1702.8,1003.7 L1704.3,1003.8 L1705.8,1003.9 L1707.3,1004.1 L1708.8,1004.2 L1710.3,1004.3 L1711.8,1004.4 L1713.3,1004.5 L1714.8,1004.6 L1716.3,1004.7 L1717.8,1004.8 L1719.3,1004.9 L1720.8,1005.0 L1722.3,1005.1 L1723.8,1005.2 L1725.3,1005.2 L1726.8,1005.3 L1728.3,1005.4 L1729.8,1005.5 L1731.3,1005.6 L1732.8,1005.7 L1734.3,1005.8 L1735.8,1005.8 L1737.3,1005.9 L1738.8,1006.0 L1740.3,1006.1 L1741.8,1006.2 L1743.3,1006.2 L1744.8,1006.3 L1746.3,1006.4 L1747.8,1006.4 L1749.3,1006.5 L1750.8,1006.6 L1752.3,1006.7 L1753.8,1006.7 L1755.3,1006.8 L1756.8,1006.9 L1758.3,1006.9 L1759.8,1007.0 L1761.3,1007.0 L1762.8,1007.1 L1764.3,1007.2 L1765.8,1007.2 L1767.3,1007.3 L1768.8,1007.3 L1770.3,1007.4 L1771.8,1007.4 L1773.3,1007.5 L1774.8,1007.5 L1776.3,1007.6 L1777.8,1007.6 L1779.3,1007.7 L1780.8,1007.7 L1782.3,1007.8 L1783.8,1007.8 L1785.3,1007.9 L1786.8,1007.9 L1788.3,1008.0 L1789.8,1008.0 L1791.3,1008.1 L1792.8,1008.1 L1794.3,1008.2 L1795.8,1008.2 L1797.3,1008.2 L1798.8,1008.3 L1800.3,1008.3 L1801.8,1008.4 L1803.3,1008.4 L1804.8,1008.5 L1806.3,1008.5 L1807.8,1008.5 L1809.3,1008.6 L1810.8,1008.6 L1812.3,1008.6 L1813.8,1008.7 L1815.3,1008.7 L1816.8,1008.8 L1818.3,1008.8 L1819.8,1008.8 L1821.3,1008.9 L1822.8,1008.9 L1824.3,1008.9 L1825.8,1009.0 L1827.3,1009.0 L1828.8,1009.0 L1830.3,1009.1 L1831.8,1009.1 L1833.3,1009.2 L1834.8,1009.2 L1836.3,1009.2 L1837.8,1009.3 L1839.3,1009.3 L1840.8,1009.3 L1842.3,1009.4 L1843.8,1009.4 L1845.3,1009.4 L1846.8,1009.5 L1848.3,1009.5 L1849.8,1009.5 L1851.3,1009.6 L1852.8,1009.6 L1854.3,1009.7 L1855.8,1009.7 L1857.3,1009.7 L1858.8,1009.8 L1860.3,1009.8 L1861.8,1009.8 L1863.3,1009.9 L1864.8,1009.9 L1866.3,1009.9 L1867.8,1010.0 L1869.3,1010.0 L1870.8,1010.0 L1872.3,1010.1 L1873.8,1010.1 L1875.3,1010.1 L1876.8,1010.2 L1878.3,1010.2 L1879.8,1010.2 L1881.3,1010.3 L1882.8,1010.3 L1884.3,1010.3 L1885.8,1010.4 L1887.3,1010.4 L1888.8,1010.4 L1890.3,1010.4 L1891.8,1010.5 L1893.3,1010.5 L1894.8,1010.5 L1896.3,1010.6 L1897.8,1010.6 L1899.3,1010.6 L1900.8,1010.7 L1902.3,1010.7 L1903.8,1010.7 L1905.3,1010.8 L1906.8,1010.8 L1908.3,1010.8 L1909.8,1010.8 L1911.3,1010.9 L1912.8,1010.9 L1914.3,1010.9 L1915.8,1011.0 L1917.3,1011.0 L1918.8,1011.0 L1920.3,1011.0 L1921.8,1011.1 L1923.3,1011.1 L1924.8,1011.1 L1926.3,1011.1 L1927.8,1011.2 L1929.3,1011.2 L1930.8,1011.2 L1932.3,1011.3 L1933.8,1011.3 L1935.3,1011.3 L1936.8,1011.3 L1938.3,1011.4 L1939.8,1011.4 L1941.3,1011.4 L1942.8,1011.4 L1944.3,1011.5 L1945.8,1011.5 L1947.3,1011.5 L1948.8,1011.5 L1950.3,1011.6 L1951.8,1011.6 L1953.3,1011.6 L1954.8,1011.6 L1956.3,1011.7 L1957.8,1011.7 L1959.3,1011.7 L1960.8,1011.7 L1962.3,1011.8 L1963.8,1011.8 L1965.3,1011.8 L1966.8,1011.8 L1968.3,1011.8 L1969.8,1011.9 L1971.3,1011.9 L1972.8,1011.9 L1974.3,1011.9 L1975.8,1012.0 L1977.3,1012.0 L1978.8,1012.0 L1980.3,1012.0 L1981.8,1012.0 L1983.3,1012.1 L1984.8,1012.1 L1986.3,1012.1 L1987.8,1012.1 L1989.3,1012.2 L1990.8,1012.2 L1992.3,1012.2 L1993.8,1012.2 L1995.3,1012.2 L1996.8,1012.3 L1998.3,1012.3 L1999.8,1012.3 L2001.3,1012.3 L2002.8,1012.3 L2004.3,1012.4 L2005.8,1012.4 L2007.3,1012.4 L2008.8,1012.4 L2010.3,1012.4 L2011.8,1012.5 L2013.3,1012.5 L2014.8,1012.5 L2016.3,1012.5 L2017.8,1012.5 L2019.3,1012.5 L2020.8,1012.6 L2022.3,1012.6 L2023.8,1012.6 L2025.3,1012.6 L2026.8,1012.6 L2028.3,1012.7 L2029.8,1012.7 L2031.3,1012.7 L2032.8,1012.7 L2034.3,1012.7 L2035.8,1012.7 L2037.3,1012.8 L2038.8,1012.8 L2040.3,1012.8 L2041.8,1012.8 L2043.3,1012.8 L2044.8,1012.8 L2046.3,1012.9 L2047.8,1012.9 L2049.3,1012.9 L2050.8,1012.9 L2052.3,1012.9 L2053.8,1012.9 L2055.3,1013.0 L2056.8,1013.0 L2058.3,1013.0 L2059.8,1013.0 L2061.3,1013.0 L2062.8,1013.0 L2064.3,1013.0 L2065.8,1013.1 L2067.3,1013.1 L2068.8,1013.1 L2070.3,1013.1 L2071.8,1013.1 L2073.3,1013.1 L2074.8,1013.2 L2076.3,1013.2 L2077.8,1013.2 L2079.3,1013.2 L2080.8,1013.2 L2082.3,1013.2 L2083.8,1013.2 L2085.3,1013.3 L2086.8,1013.3 L2088.3,1013.3 L2089.8,1013.3 L2091.3,1013.3 L2092.8,1013.3 L2094.3,1013.3 L2095.8,1013.4 L2097.3,1013.4 L2098.8,1013.4 L2100.3,1013.4 L2101.8,1013.4 L2103.3,1013.4 L2104.8,1013.5 L2106.3,1013.5 L2107.8,1013.5 L2109.3,1013.5 L2110.8,1013.5 L2112.3,1013.5 L2113.8,1013.5 L2115.3,1013.6 L2116.8,1013.6 L2118.3,1013.6 L2119.8,1013.6 L2121.3,1013.6 L2122.8,1013.6 L2124.3,1013.6 L2125.8,1013.7 L2127.3,1013.7 L2128.8,1013.7 L2130.3,1013.7 L2131.8,1013.7 L2133.3,1013.7 L2134.8,1013.7 L2136.3,1013.8 L2137.8,1013.8 L2139.3,1013.8 L2140.8,1013.8 L2142.3,1013.8 L2143.8,1013.8 L2145.3,1013.8 L2146.8,1013.9 L2148.3,1013.9 L2149.8,1013.9 L2151.3,1013.9 L2152.8,1013.9 L2154.3,1013.9 L2155.8,1013.9 L2157.3,1014.0 L2158.8,1014.0 L2160.3,1014.0 L2161.8,1014.0 L2163.3,1014.0 L2164.8,1014.0 L2166.3,1014.0 L2167.8,1014.1 L2169.3,1014.1 L2170.8,1014.1 L2172.3,1014.1 L2173.8,1014.1 L2175.3,1014.1 L2176.8,1014.1 L2178.3,1014.2 L2179.8,1014.2 L2181.3,1014.2 L2182.8,1014.2 L2184.3,1014.2 L2185.8,1014.2 L2187.3,1014.2 L2188.8,1014.2 L2190.3,1014.3 L2191.8,1014.3 L2193.3,1014.3 L2194.8,1014.3 L2196.3,1014.3 L2197.8,1014.3 L2199.3,1014.3 L2200.8,1014.4 L2202.3,1014.4 L2203.8,1014.4 L2205.3,1014.4 L2206.8,1014.4 L2208.3,1014.4 L2209.8,1014.4 L2211.3,1014.4 L2212.8,1014.5 L2214.3,1014.5 L2215.8,1014.5 L2217.3,1014.5 L2218.8,1014.5 L2220.3,1014.5 L2221.8,1014.5 L2223.3,1014.5 L2224.8,1014.6 L2226.3,1014.6 L2227.8,1014.6 L2229.3,1014.6 L2230.8,1014.6 L2232.3,1014.6 L2233.8,1014.6 L2235.3,1014.6 L2236.8,1014.6 L2238.3,1014.7 L2239.8,1014.7 L2241.3,1014.7 L2242.8,1014.7 L2244.3,1014.7 L2245.8,1014.7 L2247.3,1014.7 L2248.8,1014.7 L2250.3,1014.7 L2251.8,1014.8 L2253.3,1014.8 L2254.8,1014.8 L2256.3,1014.8 L2257.8,1014.8 L2259.3,1014.8 L2260.8,1014.8 L2262.3,1014.8 L2263.8,1014.8 L2265.3,1014.9 L2266.8,1014.9 L2268.3,1014.9 L2269.8,1014.9 L2271.3,1014.9 L2272.8,1014.9 L2274.3,1014.9 L2275.8,1014.9 L2277.3,1014.9 L2278.8,1014.9 L2280.3,1015.0 L2281.8,1015.0 L2283.3,1015.0 L2284.8,1015.0 L2286.3,1015.0 L2287.8,1015.0 L2289.3,1015.0 L2290.8,1015.0 L2292.3,1015.0 L2293.8,1015.0 L2295.3,1015.1 L2296.8,1015.1 L2298.3,1015.1 L2299.8,1015.1 L2301.3,1015.1 L2302.8,1015.1 L2304.3,1015.1 L2305.8,1015.1 L2307.3,1015.1 L2308.8,1015.1 L2310.3,1015.1 L2311.8,1015.1 L2313.3,1015.2 L2314.8,1015.2 L2316.3,1015.2 L2317.8,1015.2 L2319.3,1015.2 L2320.8,1015.2 L2322.3,1015.2 L2323.8,1015.2 L2325.3,1015.2 L2326.8,1015.2 L2328.3,1015.2 L2329.8,1015.2 L2331.3,1015.2 L2332.8,1015.3 L2334.3,1015.3 L2335.8,1015.3 L2337.3,1015.3 L2338.8,1015.3 L2340.3,1015.3 L2341.8,1015.3 L2343.3,1015.3 L2344.8,1015.3 L2346.3,1015.3 L2347.8,1015.3 L2349.3,1015.3 L2350.8,1015.3 L2352.3,1015.3 L2353.8,1015.3 L2355.3,1015.3 L2356.8,1015.4 L2358.3,1015.4 L2359.8,1015.4 L2361.3,1015.4 L2362.8,1015.4 L2364.3,1015.4 L2365.8,1015.4 L2367.3,1015.4 L2368.8,1015.4 L2370.3,1015.4 L2371.8,1015.4 L2373.3,1015.4 L2374.8,1015.4 L2376.3,1015.4 L2377.8,1015.4 L2379.3,1015.4 L2380.8,1015.4 L2382.3,1015.4 L2383.8,1015.4 L2385.3,1015.4 L2386.8,1015.4 L2388.3,1015.5 L2389.8,1015.5 L2391.3,1015.5 L2392.8,1015.5 L2394.3,1015.5 L2395.8,1015.5 L2397.3,1015.5 L2398.8,1015.5 L2400.3,1015.5 L2401.8,1015.5 L2403.3,1015.5 L2404.8,1015.5 L2406.3,1015.5 L2407.8,1015.5 L2409.3,1015.5 L2410.8,1015.5 L2412.3,1015.5 L2413.8,1015.5 L2415.3,1015.5" fill="none" stroke="#FF00FF" stroke-width="9.5" stroke-linejoin="round" stroke-linecap="round"/>
<path d="M1408.3,993.9 L1409.8,993.8 L1411.3,993.7 L1412.8,993.5 L1414.3,993.4 L1415.8,993.3 L1417.3,993.1 L1418.8,993.0 L1420.3,992.8 L1421.8,992.7 L1423.3,992.5 L1424.8,992.3 L1426.3,992.2 L1427.8,992.0 L1429.3,991.8 L1430.8,991.7 L1432.3,991.5 L1433.8,991.3 L1435.3,991.1 L1436.8,990.9 L1438.3,990.7 L1439.8,990.5 L1441.3,990.3 L1442.8,990.1 L1444.3,989.9 L1445.8,989.7 L1447.3,989.5 L1448.8,989.3 L1450.3,989.1 L1451.8,988.9 L1453.3,988.6 L1454.8,988.4 L1456.3,988.2 L1457.8,988.0 L1459.3,987.8 L1460.8,987.5 L1462.3,987.3 L1463.8,987.1 L1465.3,986.9 L1466.8,986.6 L1468.3,986.4 L1469.8,986.2 L1471.3,985.9 L1472.8,985.7 L1474.3,985.4 L1475.8,985.2 L1477.3,984.9 L1478.8,984.6 L1480.3,984.3 L1481.8,984.1 L1483.3,983.8 L1484.8,983.5 L1486.3,983.1 L1487.8,982.8 L1489.3,982.5 L1490.8,982.1 L1492.3,981.8 L1493.8,981.4 L1495.3,981.0 L1496.8,980.6 L1498.3,980.2 L1499.8,979.8 L1501.3,979.3 L1502.8,978.9 L1504.3,978.4 L1505.8,977.8 L1507.3,977.1 L1508.8,976.5 L1510.3,975.7 L1511.8,975.0 L1513.3,974.1 L1514.8,973.3 L1516.3,972.4 L1517.8,971.5 L1519.3,970.6 L1520.8,969.6 L1522.3,968.6 L1523.8,967.7 L1525.3,966.7 L1526.8,965.6 L1528.3,964.6 L1529.8,963.5 L1531.3,962.3 L1532.8,961.1 L1534.3,959.8 L1535.8,958.5 L1537.3,957.2 L1538.8,955.9 L1540.3,954.5 L1541.8,953.1 L1543.3,951.6 L1544.8,950.2 L1546.3,948.7 L1547.8,947.3 L1549.3,945.8 L1550.8,944.2 L1552.3,942.7 L1553.8,941.1 L1555.3,939.4 L1556.8,937.7 L1558.3,935.9 L1559.8,934.1 L1561.3,932.1 L1562.8,930.1 L1564.3,927.9 L1565.8,925.6 L1567.3,923.2 L1568.8,920.7 L1570.3,918.0 L1571.8,915.1 L1573.3,912.0 L1574.8,908.8 L1576.3,905.3 L1577.8,901.6 L1579.3,897.7 L1580.8,893.5 L1582.3,889.1 L1583.8,884.1 L1585.3,878.4 L1586.8,872.2 L1588.3,865.5 L1589.8,858.4 L1591.3,850.9 L1592.8,843.0 L1594.3,834.8 L1595.8,826.4 L1597.3,817.8 L1598.8,809.0 L1600.3,799.2 L1601.8,788.6 L1603.3,777.5 L1604.8,766.4 L1606.3,756.0 L1607.8,746.2 L1609.3,736.4 L1610.8,725.9 L1612.3,714.0 L1613.8,700.0 L1615.3,681.9 L1616.8,658.3 L1618.3,631.9 L1619.8,605.3 L1621.3,580.7 L1622.8,556.6 L1624.3,532.4 L1625.8,508.3 L1627.3,484.4 L1628.8,462.1 L1630.3,440.8 L1631.8,418.5 L1633.3,393.3 L1634.8,361.7 L1636.3,318.7 L1637.8,272.1 L1639.3,231.6 L1640.8,204.2 L1642.3,181.7 L1643.8,162.3 L1645.3,145.7 L1646.8,131.7 L1648.3,118.7 L1649.8,106.1 L1651.3,95.6 L1652.8,89.6 L1654.3,89.8 L1655.8,96.1 L1657.3,106.7 L1658.8,119.5 L1660.3,132.7 L1661.8,148.6 L1663.3,167.9 L1664.8,189.7 L1666.3,212.8 L1667.8,237.7 L1669.3,266.2 L1670.8,296.8 L1672.3,327.9 L1673.8,357.9 L1675.3,385.2 L1676.8,410.8 L1678.3,435.3 L1679.8,458.9 L1681.3,481.6 L1682.8,502.9 L1684.3,522.8 L1685.8,542.0 L1687.3,561.3 L1688.8,581.8 L1690.3,604.6 L1691.8,630.7 L1693.3,657.7 L1694.8,683.0 L1696.3,703.7 L1697.8,721.2 L1699.3,736.9 L1700.8,751.4 L1702.3,765.0 L1703.8,778.2 L1705.3,791.4 L1706.8,804.1 L1708.3,816.2 L1709.8,827.2 L1711.3,836.8 L1712.8,845.6 L1714.3,853.9 L1715.8,861.7 L1717.3,869.0 L1718.8,875.6 L1720.3,881.5 L1721.8,886.6 L1723.3,891.4 L1724.8,895.8 L1726.3,900.1 L1727.8,904.1 L1729.3,907.8 L1730.8,911.4 L1732.3,914.7 L1733.8,917.8 L1735.3,920.8 L1736.8,923.5 L1738.3,926.1 L1739.8,928.5 L1741.3,930.8 L1742.8,933.0 L1744.3,935.2 L1745.8,937.2 L1747.3,939.2 L1748.8,941.2 L1750.3,943.0 L1751.8,944.9 L1753.3,946.6 L1754.8,948.3 L1756.3,949.9 L1757.8,951.4 L1759.3,952.9 L1760.8,954.4 L1762.3,955.7 L1763.8,957.1 L1765.3,958.3 L1766.8,959.6 L1768.3,960.7 L1769.8,961.9 L1771.3,963.0 L1772.8,964.1 L1774.3,965.1 L1775.8,966.2 L1777.3,967.2 L1778.8,968.2 L1780.3,969.1 L1781.8,970.1 L1783.3,971.0 L1784.8,971.9 L1786.3,972.8 L1787.8,973.7 L1789.3,974.5 L1790.8,975.3 L1792.3,976.1 L1793.8,976.8 L1795.3,977.6 L1796.8,978.3 L1798.3,979.0 L1799.8,979.6 L1801.3,980.3 L1802.8,980.9 L1804.3,981.5 L1805.8,982.0 L1807.3,982.6 L1808.8,983.1 L1810.3,983.6 L1811.8,984.1 L1813.3,984.5 L1814.8,985.0 L1816.3,985.5 L1817.8,985.9 L1819.3,986.4 L1820.8,986.8 L1822.3,987.2 L1823.8,987.7 L1825.3,988.1 L1826.8,988.5 L1828.3,988.9 L1829.8,989.3 L1831.3,989.6 L1832.8,990.0 L1834.3,990.4 L1835.8,990.7 L1837.3,991.1 L1838.8,991.4 L1840.3,991.8 L1841.8,992.1 L1843.3,992.4 L1844.8,992.7 L1846.3,993.1 L1847.8,993.4 L1849.3,993.6 L1850.8,993.9 L1852.3,994.2 L1853.8,994.5 L1855.3,994.8 L1856.8,995.0 L1858.3,995.3 L1859.8,995.5 L1861.3,995.8 L1862.8,996.0 L1864.3,996.2 L1865.8,996.5 L1867.3,996.7 L1868.8,996.9 L1870.3,997.1 L1871.8,997.3 L1873.3,997.5 L1874.8,997.7 L1876.3,997.9 L1877.8,998.1 L1879.3,998.3 L1880.8,998.5 L1882.3,998.7 L1883.8,998.9 L1885.3,999.0 L1886.8,999.2 L1888.3,999.4 L1889.8,999.6 L1891.3,999.7 L1892.8,999.9 L1894.3,1000.1 L1895.8,1000.3 L1897.3,1000.4 L1898.8,1000.6 L1900.3,1000.7 L1901.8,1000.9 L1903.3,1001.0 L1904.8,1001.2 L1906.3,1001.3 L1907.8,1001.5 L1909.3,1001.6 L1910.8,1001.8 L1912.3,1001.9 L1913.8,1002.1 L1915.3,1002.2 L1916.8,1002.3 L1918.3,1002.5 L1919.8,1002.6 L1921.3,1002.7 L1922.8,1002.8 L1924.3,1003.0 L1925.8,1003.1 L1927.3,1003.2 L1928.8,1003.3 L1930.3,1003.4 L1931.8,1003.6 L1933.3,1003.7 L1934.8,1003.8 L1936.3,1003.9 L1937.8,1004.0 L1939.3,1004.1 L1940.8,1004.2 L1942.3,1004.3 L1943.8,1004.4 L1945.3,1004.5 L1946.8,1004.6 L1948.3,1004.7 L1949.8,1004.8 L1951.3,1004.9 L1952.8,1005.0 L1954.3,1005.1 L1955.8,1005.2 L1957.3,1005.3 L1958.8,1005.4 L1960.3,1005.5 L1961.8,1005.6 L1963.3,1005.7 L1964.8,1005.8 L1966.3,1005.9 L1967.8,1006.0 L1969.3,1006.1 L1970.8,1006.2 L1972.3,1006.3 L1973.8,1006.4 L1975.3,1006.5 L1976.8,1006.5 L1978.3,1006.6 L1979.8,1006.7 L1981.3,1006.8 L1982.8,1006.9 L1984.3,1007.0 L1985.8,1007.1 L1987.3,1007.2 L1988.8,1007.3 L1990.3,1007.3 L1991.8,1007.4 L1993.3,1007.5 L1994.8,1007.6 L1996.3,1007.7 L1997.8,1007.8 L1999.3,1007.8 L2000.8,1007.9 L2002.3,1008.0 L2003.8,1008.1 L2005.3,1008.1 L2006.8,1008.2 L2008.3,1008.3 L2009.8,1008.4 L2011.3,1008.4 L2012.8,1008.5 L2014.3,1008.6 L2015.8,1008.6 L2017.3,1008.7 L2018.8,1008.8 L2020.3,1008.8 L2021.8,1008.9 L2023.3,1009.0 L2024.8,1009.0 L2026.3,1009.1 L2027.8,1009.1 L2029.3,1009.2 L2030.8,1009.3 L2032.3,1009.3 L2033.8,1009.4 L2035.3,1009.4 L2036.8,1009.5 L2038.3,1009.5 L2039.8,1009.6 L2041.3,1009.6 L2042.8,1009.6 L2044.3,1009.7 L2045.8,1009.7 L2047.3,1009.8 L2048.8,1009.8 L2050.3,1009.8 L2051.8,1009.9 L2053.3,1009.9 L2054.8,1009.9 L2056.3,1009.9 L2057.8,1010.0 L2059.3,1010.0 L2060.8,1010.0 L2062.3,1010.0 L2063.8,1010.1 L2065.3,1010.1 L2066.8,1010.1 L2068.3,1010.1 L2069.8,1010.1 L2071.3,1010.2 L2072.8,1010.2 L2074.3,1010.2 L2075.8,1010.2 L2077.3,1010.2 L2078.8,1010.3 L2080.3,1010.3 L2081.8,1010.3 L2083.3,1010.3 L2084.8,1010.3 L2086.3,1010.4 L2087.8,1010.4 L2089.3,1010.4 L2090.8,1010.4 L2092.3,1010.4 L2093.8,1010.5 L2095.3,1010.5 L2096.8,1010.5 L2098.3,1010.5 L2099.8,1010.5 L2101.3,1010.5 L2102.8,1010.6 L2104.3,1010.6 L2105.8,1010.6 L2107.3,1010.6 L2108.8,1010.6 L2110.3,1010.7 L2111.8,1010.7 L2113.3,1010.7 L2114.8,1010.7 L2116.3,1010.7 L2117.8,1010.7 L2119.3,1010.8 L2120.8,1010.8 L2122.3,1010.8 L2123.8,1010.8 L2125.3,1010.8 L2126.8,1010.8 L2128.3,1010.9 L2129.8,1010.9 L2131.3,1010.9 L2132.8,1010.9 L2134.3,1010.9 L2135.8,1011.0 L2137.3,1011.0 L2138.8,1011.0 L2140.3,1011.0 L2141.8,1011.0 L2143.3,1011.0 L2144.8,1011.0 L2146.3,1011.1 L2147.8,1011.1 L2149.3,1011.1 L2150.8,1011.1 L2152.3,1011.1 L2153.8,1011.1 L2155.3,1011.2 L2156.8,1011.2 L2158.3,1011.2 L2159.8,1011.2 L2161.3,1011.2 L2162.8,1011.2 L2164.3,1011.2 L2165.8,1011.3 L2167.3,1011.3 L2168.8,1011.3 L2170.3,1011.3 L2171.8,1011.3 L2173.3,1011.3 L2174.8,1011.4 L2176.3,1011.4 L2177.8,1011.4 L2179.3,1011.4 L2180.8,1011.4 L2182.3,1011.4 L2183.8,1011.4 L2185.3,1011.4 L2186.8,1011.5 L2188.3,1011.5 L2189.8,1011.5 L2191.3,1011.5 L2192.8,1011.5 L2194.3,1011.5 L2195.8,1011.5 L2197.3,1011.6 L2198.8,1011.6 L2200.3,1011.6 L2201.8,1011.6 L2203.3,1011.6 L2204.8,1011.6 L2206.3,1011.6 L2207.8,1011.6 L2209.3,1011.7 L2210.8,1011.7 L2212.3,1011.7 L2213.8,1011.7 L2215.3,1011.7 L2216.8,1011.7 L2218.3,1011.7 L2219.8,1011.7 L2221.3,1011.8 L2222.8,1011.8 L2224.3,1011.8 L2225.8,1011.8 L2227.3,1011.8 L2228.8,1011.8 L2230.3,1011.8 L2231.8,1011.8 L2233.3,1011.8 L2234.8,1011.9 L2236.3,1011.9 L2237.8,1011.9 L2239.3,1011.9 L2240.8,1011.9 L2242.3,1011.9 L2243.8,1011.9 L2245.3,1011.9 L2246.8,1011.9 L2248.3,1011.9 L2249.8,1012.0 L2251.3,1012.0 L2252.8,1012.0 L2254.3,1012.0 L2255.8,1012.0 L2257.3,1012.0 L2258.8,1012.0 L2260.3,1012.0 L2261.8,1012.0 L2263.3,1012.0 L2264.8,1012.0 L2266.3,1012.1 L2267.8,1012.1 L2269.3,1012.1 L2270.8,1012.1 L2272.3,1012.1 L2273.8,1012.1 L2275.3,1012.1 L2276.8,1012.1 L2278.3,1012.1 L2279.8,1012.1 L2281.3,1012.1 L2282.8,1012.1 L2284.3,1012.2 L2285.8,1012.2 L2287.3,1012.2 L2288.8,1012.2 L2290.3,1012.2 L2291.8,1012.2 L2293.3,1012.2 L2294.8,1012.2 L2296.3,1012.2 L2297.8,1012.2 L2299.3,1012.2 L2300.8,1012.2 L2302.3,1012.2 L2303.8,1012.3 L2305.3,1012.3 L2306.8,1012.3 L2308.3,1012.3 L2309.8,1012.3 L2311.3,1012.3 L2312.8,1012.3 L2314.3,1012.3 L2315.8,1012.3 L2317.3,1012.3 L2318.8,1012.3 L2320.3,1012.3 L2321.8,1012.3 L2323.3,1012.3 L2324.8,1012.3 L2326.3,1012.3 L2327.8,1012.3 L2329.3,1012.4 L2330.8,1012.4 L2332.3,1012.4 L2333.8,1012.4 L2335.3,1012.4 L2336.8,1012.4 L2338.3,1012.4 L2339.8,1012.4 L2341.3,1012.4 L2342.8,1012.4 L2344.3,1012.4 L2345.8,1012.4 L2347.3,1012.4 L2348.8,1012.4 L2350.3,1012.4 L2351.8,1012.4 L2353.3,1012.4 L2354.8,1012.4 L2356.3,1012.4 L2357.8,1012.4 L2359.3,1012.4 L2360.8,1012.4 L2362.3,1012.4 L2363.8,1012.4 L2365.3,1012.4 L2366.8,1012.5 L2368.3,1012.5 L2369.8,1012.5 L2371.3,1012.5 L2372.8,1012.5 L2374.3,1012.5 L2375.8,1012.5 L2377.3,1012.5 L2378.8,1012.5 L2380.3,1012.5 L2381.8,1012.5 L2383.3,1012.5 L2384.8,1012.5 L2386.3,1012.5 L2387.8,1012.5 L2389.3,1012.5 L2390.8,1012.5 L2392.3,1012.5 L2393.8,1012.5 L2395.3,1012.5 L2396.8,1012.5 L2398.3,1012.5 L2399.8,1012.5 L2401.3,1012.5 L2402.8,1012.5 L2404.3,1012.5 L2405.8,1012.5 L2407.3,1012.5 L2408.8,1012.5 L2410.3,1012.5 L2411.8,1012.5 L2413.3,1012.5 L2414.8,1012.5" fill="none" stroke="#FF6600" stroke-width="9.5" stroke-linejoin="round" stroke-linecap="round"/>
<path d="M1408.8,1004.3 L1410.3,1004.3 L1411.8,1004.3 L1413.3,1004.3 L1414.8,1004.3 L1416.3,1004.3 L1417.8,1004.3 L1419.3,1004.3 L1420.8,1004.3 L1422.3,1004.3 L1423.8,1004.3 L1425.3,1004.3 L1426.8,1004.2 L1428.3,1004.2 L1429.8,1004.2 L1431.3,1004.2 L1432.8,1004.2 L1434.3,1004.2 L1435.8,1004.2 L1437.3,1004.2 L1438.8,1004.1 L1440.3,1004.1 L1441.8,1004.1 L1443.3,1004.1 L1444.8,1004.1 L1446.3,1004.1 L1447.8,1004.0 L1449.3,1004.0 L1450.8,1004.0 L1452.3,1004.0 L1453.8,1004.0 L1455.3,1003.9 L1456.8,1003.9 L1458.3,1003.9 L1459.8,1003.8 L1461.3,1003.8 L1462.8,1003.8 L1464.3,1003.8 L1465.8,1003.7 L1467.3,1003.7 L1468.8,1003.7 L1470.3,1003.6 L1471.8,1003.6 L1473.3,1003.5 L1474.8,1003.5 L1476.3,1003.3 L1477.8,1003.2 L1479.3,1003.0 L1480.8,1002.8 L1482.3,1002.6 L1483.8,1002.4 L1485.3,1002.1 L1486.8,1001.8 L1488.3,1001.5 L1489.8,1001.1 L1491.3,1000.8 L1492.8,1000.4 L1494.3,1000.0 L1495.8,999.5 L1497.3,999.1 L1498.8,998.6 L1500.3,998.1 L1501.8,997.6 L1503.3,997.0 L1504.8,996.3 L1506.3,995.4 L1507.8,994.3 L1509.3,993.1 L1510.8,991.7 L1512.3,990.2 L1513.8,988.5 L1515.3,986.6 L1516.8,984.7 L1518.3,982.4 L1519.8,979.5 L1521.3,975.8 L1522.8,971.5 L1524.3,966.8 L1525.8,961.6 L1527.3,956.3 L1528.8,950.7 L1530.3,944.3 L1531.8,937.0 L1533.3,929.2 L1534.8,921.1 L1536.3,912.9 L1537.8,904.9 L1539.3,896.1 L1540.8,886.9 L1542.3,878.8 L1543.8,873.0 L1545.3,868.3 L1546.8,864.1 L1548.3,860.8 L1549.8,859.1 L1551.3,859.5 L1552.8,861.8 L1554.3,865.6 L1555.8,870.1 L1557.3,875.0 L1558.8,881.9 L1560.3,890.4 L1561.8,898.9 L1563.3,907.1 L1564.8,915.7 L1566.3,924.3 L1567.8,932.5 L1569.3,939.8 L1570.8,945.7 L1572.3,950.6 L1573.8,955.3 L1575.3,959.8 L1576.8,964.0 L1578.3,967.9 L1579.8,971.6 L1581.3,974.8 L1582.8,977.8 L1584.3,980.3 L1585.8,982.5 L1587.3,984.2 L1588.8,985.7 L1590.3,987.1 L1591.8,988.4 L1593.3,989.7 L1594.8,990.9 L1596.3,992.0 L1597.8,993.1 L1599.3,994.1 L1600.8,995.1 L1602.3,995.9 L1603.8,996.8 L1605.3,997.5 L1606.8,998.2 L1608.3,998.8 L1609.8,999.4 L1611.3,999.9 L1612.8,1000.3 L1614.3,1000.7 L1615.8,1001.0 L1617.3,1001.3 L1618.8,1001.6 L1620.3,1001.9 L1621.8,1002.1 L1623.3,1002.4 L1624.8,1002.6 L1626.3,1002.9 L1627.8,1003.1 L1629.3,1003.4 L1630.8,1003.6 L1632.3,1003.8 L1633.8,1004.0 L1635.3,1004.2 L1636.8,1004.4 L1638.3,1004.6 L1639.8,1004.7 L1641.3,1004.9 L1642.8,1005.1 L1644.3,1005.2 L1645.8,1005.4 L1647.3,1005.5 L1648.8,1005.7 L1650.3,1005.8 L1651.8,1005.9 L1653.3,1006.1 L1654.8,1006.2 L1656.3,1006.3 L1657.8,1006.4 L1659.3,1006.5 L1660.8,1006.7 L1662.3,1006.8 L1663.8,1006.9 L1665.3,1007.0 L1666.8,1007.1 L1668.3,1007.2 L1669.8,1007.3 L1671.3,1007.4 L1672.8,1007.5 L1674.3,1007.6 L1675.8,1007.7 L1677.3,1007.8 L1678.8,1007.9 L1680.3,1008.0 L1681.8,1008.1 L1683.3,1008.2 L1684.8,1008.3 L1686.3,1008.3 L1687.8,1008.4 L1689.3,1008.5 L1690.8,1008.6 L1692.3,1008.6 L1693.8,1008.7 L1695.3,1008.8 L1696.8,1008.9 L1698.3,1008.9 L1699.8,1009.0 L1701.3,1009.1 L1702.8,1009.1 L1704.3,1009.2 L1705.8,1009.3 L1707.3,1009.3 L1708.8,1009.4 L1710.3,1009.5 L1711.8,1009.6 L1713.3,1009.6 L1714.8,1009.7 L1716.3,1009.8 L1717.8,1009.8 L1719.3,1009.9 L1720.8,1010.0 L1722.3,1010.1 L1723.8,1010.1 L1725.3,1010.2 L1726.8,1010.3 L1728.3,1010.3 L1729.8,1010.4 L1731.3,1010.5 L1732.8,1010.5 L1734.3,1010.6 L1735.8,1010.7 L1737.3,1010.8 L1738.8,1010.8 L1740.3,1010.9 L1741.8,1011.0 L1743.3,1011.0 L1744.8,1011.1 L1746.3,1011.2 L1747.8,1011.2 L1749.3,1011.3 L1750.8,1011.4 L1752.3,1011.4 L1753.8,1011.5 L1755.3,1011.5 L1756.8,1011.6 L1758.3,1011.7 L1759.8,1011.7 L1761.3,1011.8 L1762.8,1011.8 L1764.3,1011.9 L1765.8,1012.0 L1767.3,1012.0 L1768.8,1012.1 L1770.3,1012.1 L1771.8,1012.2 L1773.3,1012.2 L1774.8,1012.3 L1776.3,1012.3 L1777.8,1012.4 L1779.3,1012.4 L1780.8,1012.5 L1782.3,1012.5 L1783.8,1012.6 L1785.3,1012.6 L1786.8,1012.7 L1788.3,1012.7 L1789.8,1012.8 L1791.3,1012.8 L1792.8,1012.8 L1794.3,1012.9 L1795.8,1012.9 L1797.3,1012.9 L1798.8,1013.0 L1800.3,1013.0 L1801.8,1013.0 L1803.3,1013.1 L1804.8,1013.1 L1806.3,1013.1 L1807.8,1013.2 L1809.3,1013.2 L1810.8,1013.2 L1812.3,1013.3 L1813.8,1013.3 L1815.3,1013.3 L1816.8,1013.3 L1818.3,1013.4 L1819.8,1013.4 L1821.3,1013.4 L1822.8,1013.5 L1824.3,1013.5 L1825.8,1013.5 L1827.3,1013.6 L1828.8,1013.6 L1830.3,1013.6 L1831.8,1013.6 L1833.3,1013.7 L1834.8,1013.7 L1836.3,1013.7 L1837.8,1013.8 L1839.3,1013.8 L1840.8,1013.8 L1842.3,1013.8 L1843.8,1013.9 L1845.3,1013.9 L1846.8,1013.9 L1848.3,1014.0 L1849.8,1014.0 L1851.3,1014.0 L1852.8,1014.0 L1854.3,1014.1 L1855.8,1014.1 L1857.3,1014.1 L1858.8,1014.1 L1860.3,1014.2 L1861.8,1014.2 L1863.3,1014.2 L1864.8,1014.2 L1866.3,1014.3 L1867.8,1014.3 L1869.3,1014.3 L1870.8,1014.3 L1872.3,1014.4 L1873.8,1014.4 L1875.3,1014.4 L1876.8,1014.4 L1878.3,1014.5 L1879.8,1014.5 L1881.3,1014.5 L1882.8,1014.5 L1884.3,1014.6 L1885.8,1014.6 L1887.3,1014.6 L1888.8,1014.6 L1890.3,1014.7 L1891.8,1014.7 L1893.3,1014.7 L1894.8,1014.7 L1896.3,1014.8 L1897.8,1014.8 L1899.3,1014.8 L1900.8,1014.8 L1902.3,1014.8 L1903.8,1014.9 L1905.3,1014.9 L1906.8,1014.9 L1908.3,1014.9 L1909.8,1014.9 L1911.3,1015.0 L1912.8,1015.0 L1914.3,1015.0 L1915.8,1015.0 L1917.3,1015.1 L1918.8,1015.1 L1920.3,1015.1 L1921.8,1015.1 L1923.3,1015.1 L1924.8,1015.2 L1926.3,1015.2 L1927.8,1015.2 L1929.3,1015.2 L1930.8,1015.2 L1932.3,1015.3 L1933.8,1015.3 L1935.3,1015.3 L1936.8,1015.3 L1938.3,1015.3 L1939.8,1015.3 L1941.3,1015.4 L1942.8,1015.4 L1944.3,1015.4 L1945.8,1015.4 L1947.3,1015.4 L1948.8,1015.5 L1950.3,1015.5 L1951.8,1015.5 L1953.3,1015.5 L1954.8,1015.5 L1956.3,1015.5 L1957.8,1015.6 L1959.3,1015.6 L1960.8,1015.6 L1962.3,1015.6 L1963.8,1015.6 L1965.3,1015.6 L1966.8,1015.7 L1968.3,1015.7 L1969.8,1015.7 L1971.3,1015.7 L1972.8,1015.7 L1974.3,1015.7 L1975.8,1015.8 L1977.3,1015.8 L1978.8,1015.8 L1980.3,1015.8 L1981.8,1015.8 L1983.3,1015.8 L1984.8,1015.8 L1986.3,1015.9 L1987.8,1015.9 L1989.3,1015.9 L1990.8,1015.9 L1992.3,1015.9 L1993.8,1015.9 L1995.3,1015.9 L1996.8,1016.0 L1998.3,1016.0 L1999.8,1016.0 L2001.3,1016.0 L2002.8,1016.0 L2004.3,1016.0 L2005.8,1016.0 L2007.3,1016.0 L2008.8,1016.1 L2010.3,1016.1 L2011.8,1016.1 L2013.3,1016.1 L2014.8,1016.1 L2016.3,1016.1 L2017.8,1016.1 L2019.3,1016.1 L2020.8,1016.2 L2022.3,1016.2 L2023.8,1016.2 L2025.3,1016.2 L2026.8,1016.2 L2028.3,1016.2 L2029.8,1016.2 L2031.3,1016.2 L2032.8,1016.2 L2034.3,1016.2 L2035.8,1016.3 L2037.3,1016.3 L2038.8,1016.3 L2040.3,1016.3 L2041.8,1016.3 L2043.3,1016.3 L2044.8,1016.3 L2046.3,1016.3 L2047.8,1016.3 L2049.3,1016.3 L2050.8,1016.4 L2052.3,1016.4 L2053.8,1016.4 L2055.3,1016.4 L2056.8,1016.4 L2058.3,1016.4 L2059.8,1016.4 L2061.3,1016.4 L2062.8,1016.4 L2064.3,1016.4 L2065.8,1016.4 L2067.3,1016.4 L2068.8,1016.4 L2070.3,1016.5 L2071.8,1016.5 L2073.3,1016.5 L2074.8,1016.5 L2076.3,1016.5 L2077.8,1016.5 L2079.3,1016.5 L2080.8,1016.5 L2082.3,1016.5 L2083.8,1016.5 L2085.3,1016.5 L2086.8,1016.5 L2088.3,1016.5 L2089.8,1016.6 L2091.3,1016.6 L2092.8,1016.6 L2094.3,1016.6 L2095.8,1016.6 L2097.3,1016.6 L2098.8,1016.6 L2100.3,1016.6 L2101.8,1016.6 L2103.3,1016.6 L2104.8,1016.6 L2106.3,1016.6 L2107.8,1016.6 L2109.3,1016.6 L2110.8,1016.7 L2112.3,1016.7 L2113.8,1016.7 L2115.3,1016.7 L2116.8,1016.7 L2118.3,1016.7 L2119.8,1016.7 L2121.3,1016.7 L2122.8,1016.7 L2124.3,1016.7 L2125.8,1016.7 L2127.3,1016.7 L2128.8,1016.7 L2130.3,1016.7 L2131.8,1016.8 L2133.3,1016.8 L2134.8,1016.8 L2136.3,1016.8 L2137.8,1016.8 L2139.3,1016.8 L2140.8,1016.8 L2142.3,1016.8 L2143.8,1016.8 L2145.3,1016.8 L2146.8,1016.8 L2148.3,1016.8 L2149.8,1016.8 L2151.3,1016.8 L2152.8,1016.8 L2154.3,1016.9 L2155.8,1016.9 L2157.3,1016.9 L2158.8,1016.9 L2160.3,1016.9 L2161.8,1016.9 L2163.3,1016.9 L2164.8,1016.9 L2166.3,1016.9 L2167.8,1016.9 L2169.3,1016.9 L2170.8,1016.9 L2172.3,1016.9 L2173.8,1016.9 L2175.3,1016.9 L2176.8,1016.9 L2178.3,1017.0 L2179.8,1017.0 L2181.3,1017.0 L2182.8,1017.0 L2184.3,1017.0 L2185.8,1017.0 L2187.3,1017.0 L2188.8,1017.0 L2190.3,1017.0 L2191.8,1017.0 L2193.3,1017.0 L2194.8,1017.0 L2196.3,1017.0 L2197.8,1017.0 L2199.3,1017.0 L2200.8,1017.0 L2202.3,1017.1 L2203.8,1017.1 L2205.3,1017.1 L2206.8,1017.1 L2208.3,1017.1 L2209.8,1017.1 L2211.3,1017.1 L2212.8,1017.1 L2214.3,1017.1 L2215.8,1017.1 L2217.3,1017.1 L2218.8,1017.1 L2220.3,1017.1 L2221.8,1017.1 L2223.3,1017.1 L2224.8,1017.1 L2226.3,1017.1 L2227.8,1017.1 L2229.3,1017.2 L2230.8,1017.2 L2232.3,1017.2 L2233.8,1017.2 L2235.3,1017.2 L2236.8,1017.2 L2238.3,1017.2 L2239.8,1017.2 L2241.3,1017.2 L2242.8,1017.2 L2244.3,1017.2 L2245.8,1017.2 L2247.3,1017.2 L2248.8,1017.2 L2250.3,1017.2 L2251.8,1017.2 L2253.3,1017.2 L2254.8,1017.2 L2256.3,1017.2 L2257.8,1017.2 L2259.3,1017.2 L2260.8,1017.3 L2262.3,1017.3 L2263.8,1017.3 L2265.3,1017.3 L2266.8,1017.3 L2268.3,1017.3 L2269.8,1017.3 L2271.3,1017.3 L2272.8,1017.3 L2274.3,1017.3 L2275.8,1017.3 L2277.3,1017.3 L2278.8,1017.3 L2280.3,1017.3 L2281.8,1017.3 L2283.3,1017.3 L2284.8,1017.3 L2286.3,1017.3 L2287.8,1017.3 L2289.3,1017.3 L2290.8,1017.3 L2292.3,1017.3 L2293.8,1017.3 L2295.3,1017.3 L2296.8,1017.3 L2298.3,1017.4 L2299.8,1017.4 L2301.3,1017.4 L2302.8,1017.4 L2304.3,1017.4 L2305.8,1017.4 L2307.3,1017.4 L2308.8,1017.4 L2310.3,1017.4 L2311.8,1017.4 L2313.3,1017.4 L2314.8,1017.4 L2316.3,1017.4 L2317.8,1017.4 L2319.3,1017.4 L2320.8,1017.4 L2322.3,1017.4 L2323.8,1017.4 L2325.3,1017.4 L2326.8,1017.4 L2328.3,1017.4 L2329.8,1017.4 L2331.3,1017.4 L2332.8,1017.4 L2334.3,1017.4 L2335.8,1017.4 L2337.3,1017.4 L2338.8,1017.4 L2340.3,1017.4 L2341.8,1017.4 L2343.3,1017.4 L2344.8,1017.4 L2346.3,1017.4 L2347.8,1017.4 L2349.3,1017.5 L2350.8,1017.5 L2352.3,1017.5 L2353.8,1017.5 L2355.3,1017.5 L2356.8,1017.5 L2358.3,1017.5 L2359.8,1017.5 L2361.3,1017.5 L2362.8,1017.5 L2364.3,1017.5 L2365.8,1017.5 L2367.3,1017.5 L2368.8,1017.5 L2370.3,1017.5 L2371.8,1017.5 L2373.3,1017.5 L2374.8,1017.5 L2376.3,1017.5 L2377.8,1017.5 L2379.3,1017.5 L2380.8,1017.5 L2382.3,1017.5 L2383.8,1017.5 L2385.3,1017.5 L2386.8,1017.5 L2388.3,1017.5 L2389.8,1017.5 L2391.3,1017.5 L2392.8,1017.5 L2394.3,1017.5 L2395.8,1017.5 L2397.3,1017.5 L2398.8,1017.5 L2400.3,1017.5 L2401.8,1017.5 L2403.3,1017.5 L2404.8,1017.5 L2406.3,1017.5 L2407.8,1017.5 L2409.3,1017.5 L2410.8,1017.5 L2412.3,1017.5 L2413.8,1017.5 L2415.3,1017.5" fill="none" stroke="#9A9A25" stroke-width="9.5" stroke-linejoin="round" stroke-linecap="round"/>
<line x1="1749.1" y1="411.5" x2="1550.5" y2="858" stroke="#9A9A25" stroke-width="9.5" stroke-linecap="round"/>
<line x1="1912.1" y1="524.2" x2="1698.6" y2="685.8" stroke="#FF6600" stroke-width="9.5" stroke-linecap="round"/>
<line x1="1928.2" y1="771.1" x2="1613.5" y2="853.4" stroke="#FF00FF" stroke-width="9.5" stroke-linecap="round"/>
<text transform="translate(1756.5,397.1) scale(0.97,1)" font-family="'Liberation Serif','Times New Roman',serif" font-weight="normal" font-size="63" fill="#9A9A25">BCO<tspan font-size="38" dy="15">2</tspan></text>
<text transform="translate(1925.5,523.7) scale(0.97,1)" font-family="'Liberation Serif','Times New Roman',serif" font-weight="normal" font-size="63" fill="#FF6600">B-C</text>
<text transform="translate(1940.4,768.7) scale(0.97,1)" font-family="'Liberation Serif','Times New Roman',serif" font-weight="normal" font-size="63" fill="#FF00FF">BC<tspan font-size="38" dy="14.5">2</tspan><tspan font-size="63" dy="-14.5">O</tspan></text>
<path d="M1392.0,2240.3 L1396.2,2249.6 L1400.4,2255.4 L1404.6,2253.7 L1408.8,2257.8 L1413.0,2267.5 L1417.2,2259.5 L1421.4,2259.3 L1425.6,2265.5 L1429.8,2259.9 L1434.0,2255.2 L1438.2,2255.3 L1442.4,2256.9 L1446.6,2254.3 L1450.8,2254.9 L1455.0,2263.6 L1459.2,2264.3 L1463.4,2263.8 L1467.6,2265.8 L1471.8,2257.6 L1476.0,2254.9 L1480.2,2241.9 L1484.4,2241.7 L1488.6,2237.4 L1492.8,2232.8 L1497.0,2232.5 L1501.2,2226.9 L1505.4,2231.7 L1509.6,2232.8 L1513.8,2227.5 L1518.0,2233.8 L1522.2,2234.8 L1526.4,2235.1 L1530.6,2244.0 L1534.8,2239.0 L1539.0,2235.6 L1543.2,2240.1 L1547.4,2234.5 L1551.6,2240.8 L1555.8,2233.4 L1560.0,2231.3 L1564.2,2233.5 L1568.4,2236.2 L1572.6,2239.1 L1576.8,2245.4 L1581.0,2245.0 L1585.2,2242.8 L1589.4,2240.2 L1593.6,2240.8 L1597.8,2246.9 L1602.0,2238.8 L1606.2,2238.8 L1610.4,2231.6 L1614.6,2233.8 L1618.8,2247.5 L1623.0,2252.4 L1627.2,2257.9 L1631.4,2265.7 L1635.6,2269.3 L1639.8,2273.1 L1644.0,2270.2 L1648.2,2272.8 L1652.4,2262.1 L1656.6,2253.1 L1660.8,2257.4 L1665.0,2252.4 L1669.2,2252.0 L1673.4,2258.6 L1677.6,2263.0 L1681.8,2255.6 L1686.0,2264.4 L1690.2,2258.9 L1694.4,2258.3 L1698.6,2257.9 L1702.8,2261.0 L1707.0,2265.6 L1711.2,2263.5 L1715.4,2267.3 L1719.6,2261.0 L1723.8,2261.8 L1728.0,2260.8 L1732.2,2267.4 L1736.4,2266.6 L1740.6,2260.4 L1744.8,2261.8 L1749.0,2261.4 L1753.2,2266.7 L1757.4,2260.3 L1761.6,2260.6 L1765.8,2262.7 L1770.0,2259.1 L1774.2,2263.0 L1778.4,2260.6 L1782.6,2258.3 L1786.8,2259.3 L1791.0,2259.5 L1795.2,2260.3 L1799.4,2261.7 L1800.7,2257.4 L1810.0,2240.0 L1820.0,2235.0 L1832.0,2215.0 L1845.5,2187.0 L1858.3,2135.8 L1871.1,2097.5 L1883.9,2039.9 L1896.7,2001.5 L1906.3,1959.9 L1909.1,1900.0 L1918.0,1852.9 L1923.9,1778.9 L1932.7,1749.3 L1941.6,1704.8 L1947.5,1607.2 L1956.4,1586.4 L1965.3,1527.2 L1974.2,1474.0 L1986.0,1444.3 L2000.8,1388.0 L2006.8,1349.6 L2012.7,1358.5 L2021.6,1399.9 L2033.4,1429.5 L2040.8,1497.6 L2048.2,1586.4 L2055.6,1675.2 L2063.0,1764.0 L2071.9,1823.3 L2076.3,1900.0 L2080.8,1966.1 L2094.0,2072.2 L2107.3,2151.8 L2112.6,2199.5 L2123.2,2212.8 L2133.8,2257.9 L2136.5,2289.7 L2148.0,2300.0 L2160.4,2310.9 L2178.9,2334.8 L2192.2,2345.4 L2200.2,2350.7 L2205.7,2345.2 L2213.6,2342.1 L2221.4,2351.9 L2227.8,2346.3 L2233.4,2346.0 L2239.7,2349.3 L2246.4,2355.5 L2254.0,2351.4 L2262.4,2346.9 L2267.6,2351.9 L2272.3,2345.2 L2278.9,2350.7 L2287.0,2353.0 L2293.6,2351.7 L2299.1,2346.2 L2304.4,2354.6 L2309.7,2351.0 L2314.3,2356.7 L2319.4,2350.2 L2327.4,2353.5 L2335.3,2355.4 L2342.7,2349.2 L2349.4,2354.5 L2357.3,2353.1 L2364.2,2349.8 L2370.3,2353.3 L2375.4,2359.4 L2381.4,2361.7 L2388.3,2357.5 L2395.3,2358.7 L2400.5,2356.1 L2406.0,2355.9 L2410.9,2362.9 L2416.3,2359.6 L2422.0,2362.3" fill="none" stroke="#000" stroke-width="9.5" stroke-linejoin="round" stroke-linecap="round"/>
<path d="M1392.0,2230.5 L1393.5,2230.6 L1395.0,2230.8 L1396.5,2230.9 L1398.0,2231.1 L1399.5,2231.2 L1401.0,2231.4 L1402.5,2231.5 L1404.0,2231.6 L1405.5,2231.8 L1407.0,2231.9 L1408.5,2232.1 L1410.0,2232.2 L1411.5,2232.3 L1413.0,2232.5 L1414.5,2232.6 L1416.0,2232.8 L1417.5,2232.9 L1419.0,2233.0 L1420.5,2233.2 L1422.0,2233.3 L1423.5,2233.4 L1425.0,2233.6 L1426.5,2233.7 L1428.0,2233.9 L1429.5,2234.0 L1431.0,2234.1 L1432.5,2234.3 L1434.0,2234.4 L1435.5,2234.5 L1437.0,2234.6 L1438.5,2234.8 L1440.0,2234.9 L1441.5,2235.0 L1443.0,2235.2 L1444.5,2235.3 L1446.0,2235.4 L1447.5,2235.5 L1449.0,2235.7 L1450.5,2235.8 L1452.0,2235.9 L1453.5,2236.0 L1455.0,2236.1 L1456.5,2236.3 L1458.0,2236.4 L1459.5,2236.5 L1461.0,2236.6 L1462.5,2236.7 L1464.0,2236.9 L1465.5,2237.0 L1467.0,2237.1 L1468.5,2237.2 L1470.0,2237.3 L1471.5,2237.4 L1473.0,2237.5 L1474.5,2237.6 L1476.0,2237.7 L1477.5,2237.9 L1479.0,2238.0 L1480.5,2238.1 L1482.0,2238.2 L1483.5,2238.3 L1485.0,2238.4 L1486.5,2238.5 L1488.0,2238.6 L1489.5,2238.7 L1491.0,2238.8 L1492.5,2238.9 L1494.0,2239.0 L1495.5,2239.1 L1497.0,2239.1 L1498.5,2239.2 L1500.0,2239.3 L1501.5,2239.4 L1503.0,2239.5 L1504.5,2239.6 L1506.0,2239.7 L1507.5,2239.8 L1509.0,2239.8 L1510.5,2239.9 L1512.0,2240.0 L1513.5,2240.1 L1515.0,2240.2 L1516.5,2240.2 L1518.0,2240.3 L1519.5,2240.4 L1521.0,2240.5 L1522.5,2240.5 L1524.0,2240.6 L1525.5,2240.7 L1527.0,2240.7 L1528.5,2240.8 L1530.0,2240.9 L1531.5,2240.9 L1533.0,2241.0 L1534.5,2241.0 L1536.0,2241.1 L1537.5,2241.1 L1539.0,2241.2 L1540.5,2241.3 L1542.0,2241.3 L1543.5,2241.4 L1545.0,2241.4 L1546.5,2241.5 L1548.0,2241.5 L1549.5,2241.5 L1551.0,2241.6 L1552.5,2241.6 L1554.0,2241.7 L1555.5,2241.7 L1557.0,2241.8 L1558.5,2241.8 L1560.0,2241.9 L1561.5,2241.9 L1563.0,2242.0 L1564.5,2242.0 L1566.0,2242.1 L1567.5,2242.1 L1569.0,2242.1 L1570.5,2242.2 L1572.0,2242.2 L1573.5,2242.3 L1575.0,2242.3 L1576.5,2242.4 L1578.0,2242.4 L1579.5,2242.5 L1581.0,2242.5 L1582.5,2242.5 L1584.0,2242.6 L1585.5,2242.6 L1587.0,2242.7 L1588.5,2242.7 L1590.0,2242.7 L1591.5,2242.8 L1593.0,2242.8 L1594.5,2242.9 L1596.0,2242.9 L1597.5,2243.0 L1599.0,2243.0 L1600.5,2243.0 L1602.0,2243.1 L1603.5,2243.1 L1605.0,2243.2 L1606.5,2243.2 L1608.0,2243.2 L1609.5,2243.3 L1611.0,2243.3 L1612.5,2243.3 L1614.0,2243.4 L1615.5,2243.4 L1617.0,2243.4 L1618.5,2243.5 L1620.0,2243.5 L1621.5,2243.6 L1623.0,2243.6 L1624.5,2243.6 L1626.0,2243.7 L1627.5,2243.7 L1629.0,2243.7 L1630.5,2243.7 L1632.0,2243.8 L1633.5,2243.8 L1635.0,2243.8 L1636.5,2243.9 L1638.0,2243.9 L1639.5,2243.9 L1641.0,2244.0 L1642.5,2244.0 L1644.0,2244.0 L1645.5,2244.0 L1647.0,2244.1 L1648.5,2244.1 L1650.0,2244.1 L1651.5,2244.1 L1653.0,2244.2 L1654.5,2244.2 L1656.0,2244.2 L1657.5,2244.2 L1659.0,2244.3 L1660.5,2244.3 L1662.0,2244.3 L1663.5,2244.3 L1665.0,2244.3 L1666.5,2244.4 L1668.0,2244.4 L1669.5,2244.4 L1671.0,2244.4 L1672.5,2244.4 L1674.0,2244.4 L1675.5,2244.5 L1677.0,2244.5 L1678.5,2244.5 L1680.0,2244.5 L1681.5,2244.5 L1683.0,2244.5 L1684.5,2244.5 L1686.0,2244.5 L1687.5,2244.5 L1689.0,2244.6 L1690.5,2244.6 L1692.0,2244.6 L1693.5,2244.6 L1695.0,2244.6 L1696.5,2244.6 L1698.0,2244.6 L1699.5,2244.6 L1701.0,2244.6 L1702.5,2244.6 L1704.0,2244.6 L1705.5,2244.6 L1707.0,2244.6 L1708.5,2244.6 L1710.0,2244.5 L1711.5,2244.4 L1713.0,2244.4 L1714.5,2244.3 L1716.0,2244.2 L1717.5,2244.1 L1719.0,2243.9 L1720.5,2243.8 L1722.0,2243.6 L1723.5,2243.5 L1725.0,2243.3 L1726.5,2243.1 L1728.0,2242.9 L1729.5,2242.7 L1731.0,2242.5 L1732.5,2242.3 L1734.0,2242.0 L1735.5,2241.8 L1737.0,2241.6 L1738.5,2241.3 L1740.0,2241.0 L1741.5,2240.8 L1743.0,2240.5 L1744.5,2240.2 L1746.0,2239.9 L1747.5,2239.6 L1749.0,2239.3 L1750.5,2239.0 L1752.0,2238.7 L1753.5,2238.4 L1755.0,2238.0 L1756.5,2237.7 L1758.0,2237.4 L1759.5,2237.1 L1761.0,2236.7 L1762.5,2236.4 L1764.0,2236.1 L1765.5,2235.7 L1767.0,2235.4 L1768.5,2235.1 L1770.0,2234.7 L1771.5,2234.4 L1773.0,2234.0 L1774.5,2233.6 L1776.0,2233.2 L1777.5,2232.8 L1779.0,2232.3 L1780.5,2231.9 L1782.0,2231.4 L1783.5,2230.9 L1785.0,2230.4 L1786.5,2229.9 L1788.0,2229.3 L1789.5,2228.8 L1791.0,2228.2 L1792.5,2227.6 L1794.0,2227.0 L1795.5,2226.3 L1797.0,2225.7 L1798.5,2225.0 L1800.0,2224.4 L1801.5,2223.7 L1803.0,2223.0 L1804.5,2222.3 L1806.0,2221.5 L1807.5,2220.8 L1809.0,2220.0 L1810.5,2219.2 L1812.0,2218.4 L1813.5,2217.6 L1815.0,2216.8 L1816.5,2215.9 L1818.0,2215.0 L1819.5,2214.1 L1821.0,2213.1 L1822.5,2212.0 L1824.0,2210.9 L1825.5,2209.7 L1827.0,2208.5 L1828.5,2207.2 L1830.0,2205.9 L1831.5,2204.6 L1833.0,2203.2 L1834.5,2201.7 L1836.0,2200.3 L1837.5,2198.7 L1839.0,2197.2 L1840.5,2195.6 L1842.0,2194.0 L1843.5,2192.4 L1845.0,2190.8 L1846.5,2189.1 L1848.0,2187.3 L1849.5,2185.5 L1851.0,2183.6 L1852.5,2181.7 L1854.0,2179.7 L1855.5,2177.6 L1857.0,2175.4 L1858.5,2173.2 L1860.0,2170.8 L1861.5,2168.4 L1863.0,2165.9 L1864.5,2163.4 L1866.0,2160.6 L1867.5,2157.7 L1869.0,2154.6 L1870.5,2151.3 L1872.0,2147.8 L1873.5,2144.2 L1875.0,2140.4 L1876.5,2136.5 L1878.0,2132.3 L1879.5,2127.9 L1881.0,2123.2 L1882.5,2118.3 L1884.0,2113.1 L1885.5,2107.5 L1887.0,2101.5 L1888.5,2095.1 L1890.0,2088.3 L1891.5,2081.4 L1893.0,2074.3 L1894.5,2067.1 L1896.0,2059.6 L1897.5,2052.0 L1899.0,2044.0 L1900.5,2035.8 L1902.0,2027.2 L1903.5,2018.3 L1905.0,2008.7 L1906.5,1998.5 L1908.0,1988.0 L1909.5,1977.3 L1911.0,1966.7 L1912.5,1956.5 L1914.0,1946.8 L1915.5,1937.6 L1917.0,1928.7 L1918.5,1919.8 L1920.0,1910.8 L1921.5,1901.4 L1923.0,1891.6 L1924.5,1881.0 L1926.0,1869.5 L1927.5,1856.8 L1929.0,1843.0 L1930.5,1828.6 L1932.0,1813.6 L1933.5,1798.3 L1935.0,1783.0 L1936.5,1767.7 L1938.0,1751.7 L1939.5,1735.2 L1941.0,1718.5 L1942.5,1702.0 L1944.0,1685.9 L1945.5,1670.7 L1947.0,1656.5 L1948.5,1643.1 L1950.0,1630.2 L1951.5,1617.7 L1953.0,1605.5 L1954.5,1593.3 L1956.0,1581.1 L1957.5,1568.7 L1959.0,1555.9 L1960.5,1542.5 L1962.0,1528.4 L1963.5,1513.9 L1965.0,1499.5 L1966.5,1485.4 L1968.0,1472.1 L1969.5,1460.0 L1971.0,1448.6 L1972.5,1436.9 L1974.0,1425.8 L1975.5,1415.8 L1977.0,1407.7 L1978.5,1402.3 L1980.0,1398.7 L1981.5,1395.5 L1983.0,1392.6 L1984.5,1390.4 L1986.0,1388.8 L1987.5,1388.1 L1989.0,1388.2 L1990.5,1389.0 L1992.0,1390.4 L1993.5,1392.3 L1995.0,1394.5 L1996.5,1397.1 L1998.0,1399.8 L1999.5,1402.6 L2001.0,1405.4 L2002.5,1408.7 L2004.0,1412.8 L2005.5,1417.3 L2007.0,1422.0 L2008.5,1426.7 L2010.0,1431.0 L2011.5,1434.7 L2013.0,1438.0 L2014.5,1441.1 L2016.0,1444.1 L2017.5,1447.0 L2019.0,1449.8 L2020.5,1452.6 L2022.0,1455.5 L2023.5,1458.1 L2025.0,1460.5 L2026.5,1462.9 L2028.0,1465.5 L2029.5,1468.3 L2031.0,1471.6 L2032.5,1475.6 L2034.0,1480.5 L2035.5,1486.5 L2037.0,1493.3 L2038.5,1500.9 L2040.0,1509.1 L2041.5,1517.9 L2043.0,1527.3 L2044.5,1538.1 L2046.0,1550.3 L2047.5,1563.7 L2049.0,1578.1 L2050.5,1593.4 L2052.0,1609.4 L2053.5,1626.5 L2055.0,1646.5 L2056.5,1668.4 L2058.0,1690.9 L2059.5,1712.8 L2061.0,1732.8 L2062.5,1750.3 L2064.0,1766.3 L2065.5,1781.4 L2067.0,1795.8 L2068.5,1809.9 L2070.0,1824.2 L2071.5,1838.9 L2073.0,1854.5 L2074.5,1871.4 L2076.0,1889.9 L2077.5,1909.1 L2079.0,1928.0 L2080.5,1945.7 L2082.0,1961.2 L2083.5,1974.6 L2085.0,1987.2 L2086.5,1998.9 L2088.0,2010.0 L2089.5,2020.5 L2091.0,2030.6 L2092.5,2040.4 L2094.0,2050.0 L2095.5,2059.2 L2097.0,2068.1 L2098.5,2076.6 L2100.0,2084.8 L2101.5,2092.6 L2103.0,2100.0 L2104.5,2107.0 L2106.0,2113.7 L2107.5,2120.1 L2109.0,2126.3 L2110.5,2132.2 L2112.0,2137.8 L2113.5,2143.3 L2115.0,2148.6 L2116.5,2153.7 L2118.0,2158.5 L2119.5,2163.3 L2121.0,2167.8 L2122.5,2172.3 L2124.0,2176.6 L2125.5,2180.9 L2127.0,2185.1 L2128.5,2189.2 L2130.0,2193.2 L2131.5,2197.0 L2133.0,2200.5 L2134.5,2203.6 L2136.0,2206.6 L2137.5,2209.4 L2139.0,2212.0 L2140.5,2214.5 L2142.0,2216.9 L2143.5,2219.2 L2145.0,2221.4 L2146.5,2223.6 L2148.0,2225.8 L2149.5,2227.9 L2151.0,2229.9 L2152.5,2231.9 L2154.0,2233.9 L2155.5,2235.8 L2157.0,2237.7 L2158.5,2239.5 L2160.0,2241.2 L2161.5,2242.9 L2163.0,2244.5 L2164.5,2246.1 L2166.0,2247.6 L2167.5,2249.0 L2169.0,2250.5 L2170.5,2251.9 L2172.0,2253.2 L2173.5,2254.5 L2175.0,2255.8 L2176.5,2257.1 L2178.0,2258.3 L2179.5,2259.5 L2181.0,2260.7 L2182.5,2261.8 L2184.0,2262.9 L2185.5,2264.0 L2187.0,2265.1 L2188.5,2266.1 L2190.0,2267.1 L2191.5,2268.1 L2193.0,2269.0 L2194.5,2269.9 L2196.0,2270.9 L2197.5,2271.8 L2199.0,2272.7 L2200.5,2273.6 L2202.0,2274.4 L2203.5,2275.3 L2205.0,2276.1 L2206.5,2277.0 L2208.0,2277.8 L2209.5,2278.6 L2211.0,2279.4 L2212.5,2280.2 L2214.0,2281.0 L2215.5,2281.8 L2217.0,2282.5 L2218.5,2283.3 L2220.0,2284.0 L2221.5,2284.8 L2223.0,2285.5 L2224.5,2286.2 L2226.0,2286.9 L2227.5,2287.6 L2229.0,2288.2 L2230.5,2288.9 L2232.0,2289.6 L2233.5,2290.2 L2235.0,2290.9 L2236.5,2291.5 L2238.0,2292.1 L2239.5,2292.7 L2241.0,2293.3 L2242.5,2293.9 L2244.0,2294.5 L2245.5,2295.1 L2247.0,2295.6 L2248.5,2296.2 L2250.0,2296.8 L2251.5,2297.3 L2253.0,2297.9 L2254.5,2298.4 L2256.0,2299.0 L2257.5,2299.5 L2259.0,2300.0 L2260.5,2300.5 L2262.0,2301.1 L2263.5,2301.6 L2265.0,2302.1 L2266.5,2302.6 L2268.0,2303.1 L2269.5,2303.6 L2271.0,2304.1 L2272.5,2304.6 L2274.0,2305.1 L2275.5,2305.5 L2277.0,2306.0 L2278.5,2306.5 L2280.0,2306.9 L2281.5,2307.4 L2283.0,2307.9 L2284.5,2308.3 L2286.0,2308.8 L2287.5,2309.2 L2289.0,2309.6 L2290.5,2310.1 L2292.0,2310.5 L2293.5,2310.9 L2295.0,2311.4 L2296.5,2311.8 L2298.0,2312.2 L2299.5,2312.6 L2301.0,2313.0 L2302.5,2313.4 L2304.0,2313.8 L2305.5,2314.2 L2307.0,2314.6 L2308.5,2315.0 L2310.0,2315.3 L2311.5,2315.7 L2313.0,2316.1 L2314.5,2316.5 L2316.0,2316.8 L2317.5,2317.2 L2319.0,2317.6 L2320.5,2317.9 L2322.0,2318.3 L2323.5,2318.6 L2325.0,2318.9 L2326.5,2319.3 L2328.0,2319.6 L2329.5,2320.0 L2331.0,2320.3 L2332.5,2320.6 L2334.0,2321.0 L2335.5,2321.3 L2337.0,2321.6 L2338.5,2322.0 L2340.0,2322.3 L2341.5,2322.6 L2343.0,2322.9 L2344.5,2323.3 L2346.0,2323.6 L2347.5,2323.9 L2349.0,2324.2 L2350.5,2324.5 L2352.0,2324.9 L2353.5,2325.2 L2355.0,2325.5 L2356.5,2325.8 L2358.0,2326.1 L2359.5,2326.4 L2361.0,2326.7 L2362.5,2327.0 L2364.0,2327.3 L2365.5,2327.6 L2367.0,2327.9 L2368.5,2328.2 L2370.0,2328.5 L2371.5,2328.8 L2373.0,2329.0 L2374.5,2329.3 L2376.0,2329.6 L2377.5,2329.9 L2379.0,2330.2 L2380.5,2330.4 L2382.0,2330.7 L2383.5,2331.0 L2385.0,2331.2 L2386.5,2331.5 L2388.0,2331.7 L2389.5,2332.0 L2391.0,2332.3 L2392.5,2332.5 L2394.0,2332.7 L2395.5,2333.0 L2397.0,2333.2 L2398.5,2333.5 L2400.0,2333.7 L2401.5,2333.9 L2403.0,2334.2 L2404.5,2334.4 L2406.0,2334.6 L2407.5,2334.8 L2409.0,2335.0 L2410.5,2335.3 L2412.0,2335.5 L2413.5,2335.7 L2415.0,2335.9 L2416.5,2336.1 L2418.0,2336.3 L2419.5,2336.5 L2421.0,2336.6 L2422.5,2336.8 L2424.0,2337.0 L2425.5,2337.2 L2427.0,2337.4" fill="none" stroke="#000" stroke-width="2"/>
<path d="M1383.1,2230.6a10,9 0 1,0 20,0a10,9 0 1,0 -20,0M1393.4,2231.6a10,9 0 1,0 20,0a10,9 0 1,0 -20,0M1403.7,2232.6a10,9 0 1,0 20,0a10,9 0 1,0 -20,0M1414.0,2233.5a10,9 0 1,0 20,0a10,9 0 1,0 -20,0M1424.3,2234.4a10,9 0 1,0 20,0a10,9 0 1,0 -20,0M1434.6,2235.3a10,9 0 1,0 20,0a10,9 0 1,0 -20,0M1444.9,2236.1a10,9 0 1,0 20,0a10,9 0 1,0 -20,0M1455.2,2236.9a10,9 0 1,0 20,0a10,9 0 1,0 -20,0M1465.5,2237.7a10,9 0 1,0 20,0a10,9 0 1,0 -20,0M1475.8,2238.4a10,9 0 1,0 20,0a10,9 0 1,0 -20,0M1486.1,2239.1a10,9 0 1,0 20,0a10,9 0 1,0 -20,0M1496.4,2239.7a10,9 0 1,0 20,0a10,9 0 1,0 -20,0M1506.7,2240.2a10,9 0 1,0 20,0a10,9 0 1,0 -20,0M1517.0,2240.7a10,9 0 1,0 20,0a10,9 0 1,0 -20,0M1527.3,2241.1a10,9 0 1,0 20,0a10,9 0 1,0 -20,0M1537.6,2241.5a10,9 0 1,0 20,0a10,9 0 1,0 -20,0M1547.9,2241.8a10,9 0 1,0 20,0a10,9 0 1,0 -20,0M1558.2,2242.1a10,9 0 1,0 20,0a10,9 0 1,0 -20,0M1568.5,2242.4a10,9 0 1,0 20,0a10,9 0 1,0 -20,0M1578.8,2242.7a10,9 0 1,0 20,0a10,9 0 1,0 -20,0M1589.1,2243.0a10,9 0 1,0 20,0a10,9 0 1,0 -20,0M1599.4,2243.3a10,9 0 1,0 20,0a10,9 0 1,0 -20,0M1609.7,2243.5a10,9 0 1,0 20,0a10,9 0 1,0 -20,0M1620.0,2243.7a10,9 0 1,0 20,0a10,9 0 1,0 -20,0M1630.3,2243.9a10,9 0 1,0 20,0a10,9 0 1,0 -20,0M1640.6,2244.1a10,9 0 1,0 20,0a10,9 0 1,0 -20,0M1650.9,2244.3a10,9 0 1,0 20,0a10,9 0 1,0 -20,0M1661.2,2244.4a10,9 0 1,0 20,0a10,9 0 1,0 -20,0M1671.5,2244.5a10,9 0 1,0 20,0a10,9 0 1,0 -20,0M1681.8,2244.6a10,9 0 1,0 20,0a10,9 0 1,0 -20,0M1692.1,2244.6a10,9 0 1,0 20,0a10,9 0 1,0 -20,0M1702.4,2244.4a10,9 0 1,0 20,0a10,9 0 1,0 -20,0M1712.7,2243.6a10,9 0 1,0 20,0a10,9 0 1,0 -20,0M1723.0,2242.2a10,9 0 1,0 20,0a10,9 0 1,0 -20,0M1733.3,2240.4a10,9 0 1,0 20,0a10,9 0 1,0 -20,0M1743.6,2238.3a10,9 0 1,0 20,0a10,9 0 1,0 -20,0M1753.9,2236.1a10,9 0 1,0 20,0a10,9 0 1,0 -20,0M1764.2,2233.7a10,9 0 1,0 20,0a10,9 0 1,0 -20,0M1774.5,2230.6a10,9 0 1,0 20,0a10,9 0 1,0 -20,0M1784.8,2226.6a10,9 0 1,0 20,0a10,9 0 1,0 -20,0M1795.1,2222.0a10,9 0 1,0 20,0a10,9 0 1,0 -20,0M1805.4,2216.5a10,9 0 1,0 20,0a10,9 0 1,0 -20,0M1815.7,2209.6a10,9 0 1,0 20,0a10,9 0 1,0 -20,0M1826.0,2200.3a10,9 0 1,0 20,0a10,9 0 1,0 -20,0M1836.3,2189.3a10,9 0 1,0 20,0a10,9 0 1,0 -20,0M1846.6,2176.0a10,9 0 1,0 20,0a10,9 0 1,0 -20,0M1856.9,2158.9a10,9 0 1,0 20,0a10,9 0 1,0 -20,0M1867.2,2134.5a10,9 0 1,0 20,0a10,9 0 1,0 -20,0M1877.5,2099.4a10,9 0 1,0 20,0a10,9 0 1,0 -20,0M1887.8,2050.4a10,9 0 1,0 20,0a10,9 0 1,0 -20,0M1898.1,1987.3a10,9 0 1,0 20,0a10,9 0 1,0 -20,0M1908.4,1920.4a10,9 0 1,0 20,0a10,9 0 1,0 -20,0M1918.7,1845.9a10,9 0 1,0 20,0a10,9 0 1,0 -20,0M1929.0,1740.8a10,9 0 1,0 20,0a10,9 0 1,0 -20,0M1939.3,1636.1a10,9 0 1,0 20,0a10,9 0 1,0 -20,0M1949.6,1550.6a10,9 0 1,0 20,0a10,9 0 1,0 -20,0M1959.9,1457.0a10,9 0 1,0 20,0a10,9 0 1,0 -20,0M1970.2,1398.2a10,9 0 1,0 20,0a10,9 0 1,0 -20,0M1980.5,1389.0a10,9 0 1,0 20,0a10,9 0 1,0 -20,0M1990.8,1405.0a10,9 0 1,0 20,0a10,9 0 1,0 -20,0M2001.1,1433.8a10,9 0 1,0 20,0a10,9 0 1,0 -20,0M2011.4,1454.3a10,9 0 1,0 20,0a10,9 0 1,0 -20,0M2021.7,1473.4a10,9 0 1,0 20,0a10,9 0 1,0 -20,0M2032.0,1521.0a10,9 0 1,0 20,0a10,9 0 1,0 -20,0M2042.3,1612.7a10,9 0 1,0 20,0a10,9 0 1,0 -20,0M2052.6,1751.4a10,9 0 1,0 20,0a10,9 0 1,0 -20,0M2062.9,1853.4a10,9 0 1,0 20,0a10,9 0 1,0 -20,0M2073.2,1972.0a10,9 0 1,0 20,0a10,9 0 1,0 -20,0M2083.5,2046.8a10,9 0 1,0 20,0a10,9 0 1,0 -20,0M2093.8,2103.8a10,9 0 1,0 20,0a10,9 0 1,0 -20,0M2104.1,2145.5a10,9 0 1,0 20,0a10,9 0 1,0 -20,0M2114.4,2177.7a10,9 0 1,0 20,0a10,9 0 1,0 -20,0M2124.7,2204.0a10,9 0 1,0 20,0a10,9 0 1,0 -20,0M2135.0,2221.4a10,9 0 1,0 20,0a10,9 0 1,0 -20,0M2145.3,2235.6a10,9 0 1,0 20,0a10,9 0 1,0 -20,0M2155.6,2247.2a10,9 0 1,0 20,0a10,9 0 1,0 -20,0M2165.9,2256.6a10,9 0 1,0 20,0a10,9 0 1,0 -20,0M2176.2,2264.5a10,9 0 1,0 20,0a10,9 0 1,0 -20,0M2186.5,2271.2a10,9 0 1,0 20,0a10,9 0 1,0 -20,0M2196.8,2277.1a10,9 0 1,0 20,0a10,9 0 1,0 -20,0M2207.1,2282.6a10,9 0 1,0 20,0a10,9 0 1,0 -20,0M2217.4,2287.5a10,9 0 1,0 20,0a10,9 0 1,0 -20,0M2227.7,2292.0a10,9 0 1,0 20,0a10,9 0 1,0 -20,0M2238.0,2296.0a10,9 0 1,0 20,0a10,9 0 1,0 -20,0M2248.3,2299.8a10,9 0 1,0 20,0a10,9 0 1,0 -20,0M2258.6,2303.3a10,9 0 1,0 20,0a10,9 0 1,0 -20,0M2268.9,2306.6a10,9 0 1,0 20,0a10,9 0 1,0 -20,0M2279.2,2309.7a10,9 0 1,0 20,0a10,9 0 1,0 -20,0M2289.5,2312.6a10,9 0 1,0 20,0a10,9 0 1,0 -20,0M2299.8,2315.3a10,9 0 1,0 20,0a10,9 0 1,0 -20,0M2310.1,2317.8a10,9 0 1,0 20,0a10,9 0 1,0 -20,0M2320.4,2320.2a10,9 0 1,0 20,0a10,9 0 1,0 -20,0M2330.7,2322.4a10,9 0 1,0 20,0a10,9 0 1,0 -20,0M2341.0,2324.6a10,9 0 1,0 20,0a10,9 0 1,0 -20,0M2351.3,2326.8a10,9 0 1,0 20,0a10,9 0 1,0 -20,0M2361.6,2328.8a10,9 0 1,0 20,0a10,9 0 1,0 -20,0M2371.9,2330.7a10,9 0 1,0 20,0a10,9 0 1,0 -20,0M2382.2,2332.5a10,9 0 1,0 20,0a10,9 0 1,0 -20,0M2392.5,2334.1a10,9 0 1,0 20,0a10,9 0 1,0 -20,0M2402.8,2335.6a10,9 0 1,0 20,0a10,9 0 1,0 -20,0M2413.1,2336.9a10,9 0 1,0 20,0a10,9 0 1,0 -20,0" fill="#FF0000"/>
<path d="M1392.0,2242.0 L1393.5,2242.2 L1395.0,2242.3 L1396.5,2242.5 L1398.0,2242.7 L1399.5,2242.8 L1401.0,2243.0 L1402.5,2243.1 L1404.0,2243.3 L1405.5,2243.5 L1407.0,2243.6 L1408.5,2243.8 L1410.0,2244.0 L1411.5,2244.1 L1413.0,2244.3 L1414.5,2244.4 L1416.0,2244.6 L1417.5,2244.8 L1419.0,2244.9 L1420.5,2245.1 L1422.0,2245.3 L1423.5,2245.4 L1425.0,2245.6 L1426.5,2245.8 L1428.0,2245.9 L1429.5,2246.1 L1431.0,2246.2 L1432.5,2246.4 L1434.0,2246.6 L1435.5,2246.7 L1437.0,2246.9 L1438.5,2247.1 L1440.0,2247.2 L1441.5,2247.4 L1443.0,2247.6 L1444.5,2247.7 L1446.0,2247.9 L1447.5,2248.0 L1449.0,2248.2 L1450.5,2248.4 L1452.0,2248.5 L1453.5,2248.7 L1455.0,2248.9 L1456.5,2249.0 L1458.0,2249.2 L1459.5,2249.3 L1461.0,2249.5 L1462.5,2249.7 L1464.0,2249.8 L1465.5,2250.0 L1467.0,2250.2 L1468.5,2250.3 L1470.0,2250.5 L1471.5,2250.7 L1473.0,2250.8 L1474.5,2251.0 L1476.0,2251.1 L1477.5,2251.3 L1479.0,2251.5 L1480.5,2251.6 L1482.0,2251.8 L1483.5,2252.0 L1485.0,2252.1 L1486.5,2252.3 L1488.0,2252.4 L1489.5,2252.6 L1491.0,2252.8 L1492.5,2252.9 L1494.0,2253.1 L1495.5,2253.3 L1497.0,2253.4 L1498.5,2253.6 L1500.0,2253.8 L1501.5,2253.9 L1503.0,2254.1 L1504.5,2254.2 L1506.0,2254.4 L1507.5,2254.6 L1509.0,2254.7 L1510.5,2254.9 L1512.0,2255.1 L1513.5,2255.2 L1515.0,2255.4 L1516.5,2255.6 L1518.0,2255.7 L1519.5,2255.9 L1521.0,2256.0 L1522.5,2256.2 L1524.0,2256.4 L1525.5,2256.5 L1527.0,2256.7 L1528.5,2256.9 L1530.0,2257.0 L1531.5,2257.2 L1533.0,2257.3 L1534.5,2257.5 L1536.0,2257.7 L1537.5,2257.8 L1539.0,2258.0 L1540.5,2258.2 L1542.0,2258.3 L1543.5,2258.5 L1545.0,2258.7 L1546.5,2258.8 L1548.0,2259.0 L1549.5,2259.1 L1551.0,2259.3 L1552.5,2259.5 L1554.0,2259.6 L1555.5,2259.8 L1557.0,2260.0 L1558.5,2260.1 L1560.0,2260.3 L1561.5,2260.4 L1563.0,2260.6 L1564.5,2260.8 L1566.0,2260.9 L1567.5,2261.1 L1569.0,2261.3 L1570.5,2261.4 L1572.0,2261.6 L1573.5,2261.8 L1575.0,2261.9 L1576.5,2262.1 L1578.0,2262.2 L1579.5,2262.4 L1581.0,2262.6 L1582.5,2262.7 L1584.0,2262.9 L1585.5,2263.1 L1587.0,2263.2 L1588.5,2263.4 L1590.0,2263.6 L1591.5,2263.7 L1593.0,2263.9 L1594.5,2264.0 L1596.0,2264.2 L1597.5,2264.4 L1599.0,2264.5 L1600.5,2264.7 L1602.0,2264.9 L1603.5,2265.0 L1605.0,2265.2 L1606.5,2265.3 L1608.0,2265.5 L1609.5,2265.7 L1611.0,2265.8 L1612.5,2266.0 L1614.0,2266.2 L1615.5,2266.3 L1617.0,2266.5 L1618.5,2266.7 L1620.0,2266.8 L1621.5,2267.0 L1623.0,2267.1 L1624.5,2267.3 L1626.0,2267.5 L1627.5,2267.6 L1629.0,2267.8 L1630.5,2268.0 L1632.0,2268.1 L1633.5,2268.3 L1635.0,2268.4 L1636.5,2268.6 L1638.0,2268.8 L1639.5,2268.9 L1641.0,2269.1 L1642.5,2269.3 L1644.0,2269.4 L1645.5,2269.6 L1647.0,2269.8 L1648.5,2269.9 L1650.0,2270.1 L1651.5,2270.2 L1653.0,2270.4 L1654.5,2270.6 L1656.0,2270.7 L1657.5,2270.9 L1659.0,2271.1 L1660.5,2271.2 L1662.0,2271.4 L1663.5,2271.6 L1665.0,2271.7 L1666.5,2271.9 L1668.0,2272.0 L1669.5,2272.2 L1671.0,2272.4 L1672.5,2272.5 L1674.0,2272.7 L1675.5,2272.9 L1677.0,2273.0 L1678.5,2273.2 L1680.0,2273.3 L1681.5,2273.5 L1683.0,2273.7 L1684.5,2273.8 L1686.0,2274.0 L1687.5,2274.2 L1689.0,2274.3 L1690.5,2274.5 L1692.0,2274.7 L1693.5,2274.8 L1695.0,2275.0 L1696.5,2275.1 L1698.0,2275.3 L1699.5,2275.5 L1701.0,2275.6 L1702.5,2275.8 L1704.0,2276.0 L1705.5,2276.1 L1707.0,2276.3 L1708.5,2276.4 L1710.0,2276.6 L1711.5,2276.8 L1713.0,2276.9 L1714.5,2277.1 L1716.0,2277.3 L1717.5,2277.4 L1719.0,2277.6 L1720.5,2277.8 L1722.0,2277.9 L1723.5,2278.1 L1725.0,2278.2 L1726.5,2278.4 L1728.0,2278.6 L1729.5,2278.7 L1731.0,2278.9 L1732.5,2279.1 L1734.0,2279.2 L1735.5,2279.4 L1737.0,2279.6 L1738.5,2279.7 L1740.0,2279.9 L1741.5,2280.0 L1743.0,2280.2 L1744.5,2280.4 L1746.0,2280.5 L1747.5,2280.7 L1749.0,2280.9 L1750.5,2281.0 L1752.0,2281.2 L1753.5,2281.3 L1755.0,2281.5 L1756.5,2281.7 L1758.0,2281.8 L1759.5,2282.0 L1761.0,2282.2 L1762.5,2282.3 L1764.0,2282.5 L1765.5,2282.7 L1767.0,2282.8 L1768.5,2283.0 L1770.0,2283.1 L1771.5,2283.3 L1773.0,2283.5 L1774.5,2283.6 L1776.0,2283.8 L1777.5,2284.0 L1779.0,2284.1 L1780.5,2284.3 L1782.0,2284.4 L1783.5,2284.6 L1785.0,2284.8 L1786.5,2284.9 L1788.0,2285.1 L1789.5,2285.3 L1791.0,2285.4 L1792.5,2285.6 L1794.0,2285.8 L1795.5,2285.9 L1797.0,2286.1 L1798.5,2286.2 L1800.0,2286.4 L1801.5,2286.6 L1803.0,2286.7 L1804.5,2286.9 L1806.0,2287.1 L1807.5,2287.2 L1809.0,2287.4 L1810.5,2287.6 L1812.0,2287.7 L1813.5,2287.9 L1815.0,2288.0 L1816.5,2288.2 L1818.0,2288.4 L1819.5,2288.5 L1821.0,2288.7 L1822.5,2288.9 L1824.0,2289.0 L1825.5,2289.2 L1827.0,2289.3 L1828.5,2289.5 L1830.0,2289.7 L1831.5,2289.8 L1833.0,2290.0 L1834.5,2290.2 L1836.0,2290.3 L1837.5,2290.5 L1839.0,2290.7 L1840.5,2290.8 L1842.0,2291.0 L1843.5,2291.1 L1845.0,2291.3 L1846.5,2291.5 L1848.0,2291.6 L1849.5,2291.8 L1851.0,2292.0 L1852.5,2292.1 L1854.0,2292.3 L1855.5,2292.4 L1857.0,2292.6 L1858.5,2292.8 L1860.0,2292.9 L1861.5,2293.1 L1863.0,2293.3 L1864.5,2293.4 L1866.0,2293.6 L1867.5,2293.8 L1869.0,2293.9 L1870.5,2294.1 L1872.0,2294.2 L1873.5,2294.4 L1875.0,2294.6 L1876.5,2294.7 L1878.0,2294.9 L1879.5,2295.1 L1881.0,2295.2 L1882.5,2295.4 L1884.0,2295.6 L1885.5,2295.7 L1887.0,2295.9 L1888.5,2296.0 L1890.0,2296.2 L1891.5,2296.4 L1893.0,2296.5 L1894.5,2296.7 L1896.0,2296.9 L1897.5,2297.0 L1899.0,2297.2 L1900.5,2297.3 L1902.0,2297.5 L1903.5,2297.7 L1905.0,2297.8 L1906.5,2298.0 L1908.0,2298.2 L1909.5,2298.3 L1911.0,2298.5 L1912.5,2298.7 L1914.0,2298.8 L1915.5,2299.0 L1917.0,2299.1 L1918.5,2299.3 L1920.0,2299.5 L1921.5,2299.6 L1923.0,2299.8 L1924.5,2300.0 L1926.0,2300.1 L1927.5,2300.3 L1929.0,2300.4 L1930.5,2300.6 L1932.0,2300.8 L1933.5,2300.9 L1935.0,2301.1 L1936.5,2301.3 L1938.0,2301.4 L1939.5,2301.6 L1941.0,2301.8 L1942.5,2301.9 L1944.0,2302.1 L1945.5,2302.2 L1947.0,2302.4 L1948.5,2302.6 L1950.0,2302.7 L1951.5,2302.9 L1953.0,2303.1 L1954.5,2303.2 L1956.0,2303.4 L1957.5,2303.6 L1959.0,2303.7 L1960.5,2303.9 L1962.0,2304.0 L1963.5,2304.2 L1965.0,2304.4 L1966.5,2304.5 L1968.0,2304.7 L1969.5,2304.9 L1971.0,2305.0 L1972.5,2305.2 L1974.0,2305.3 L1975.5,2305.5 L1977.0,2305.7 L1978.5,2305.8 L1980.0,2306.0 L1981.5,2306.2 L1983.0,2306.3 L1984.5,2306.5 L1986.0,2306.7 L1987.5,2306.8 L1989.0,2307.0 L1990.5,2307.1 L1992.0,2307.3 L1993.5,2307.5 L1995.0,2307.6 L1996.5,2307.8 L1998.0,2308.0 L1999.5,2308.1 L2001.0,2308.3 L2002.5,2308.4 L2004.0,2308.6 L2005.5,2308.8 L2007.0,2308.9 L2008.5,2309.1 L2010.0,2309.3 L2011.5,2309.4 L2013.0,2309.6 L2014.5,2309.8 L2016.0,2309.9 L2017.5,2310.1 L2019.0,2310.2 L2020.5,2310.4 L2022.0,2310.6 L2023.5,2310.7 L2025.0,2310.9 L2026.5,2311.1 L2028.0,2311.2 L2029.5,2311.4 L2031.0,2311.6 L2032.5,2311.7 L2034.0,2311.9 L2035.5,2312.0 L2037.0,2312.2 L2038.5,2312.4 L2040.0,2312.5 L2041.5,2312.7 L2043.0,2312.9 L2044.5,2313.0 L2046.0,2313.2 L2047.5,2313.3 L2049.0,2313.5 L2050.5,2313.7 L2052.0,2313.8 L2053.5,2314.0 L2055.0,2314.2 L2056.5,2314.3 L2058.0,2314.5 L2059.5,2314.7 L2061.0,2314.8 L2062.5,2315.0 L2064.0,2315.1 L2065.5,2315.3 L2067.0,2315.5 L2068.5,2315.6 L2070.0,2315.8 L2071.5,2316.0 L2073.0,2316.1 L2074.5,2316.3 L2076.0,2316.4 L2077.5,2316.6 L2079.0,2316.8 L2080.5,2316.9 L2082.0,2317.1 L2083.5,2317.3 L2085.0,2317.4 L2086.5,2317.6 L2088.0,2317.8 L2089.5,2317.9 L2091.0,2318.1 L2092.5,2318.2 L2094.0,2318.4 L2095.5,2318.6 L2097.0,2318.7 L2098.5,2318.9 L2100.0,2319.1 L2101.5,2319.2 L2103.0,2319.4 L2104.5,2319.6 L2106.0,2319.7 L2107.5,2319.9 L2109.0,2320.0 L2110.5,2320.2 L2112.0,2320.4 L2113.5,2320.5 L2115.0,2320.7 L2116.5,2320.9 L2118.0,2321.0 L2119.5,2321.2 L2121.0,2321.3 L2122.5,2321.5 L2124.0,2321.7 L2125.5,2321.8 L2127.0,2322.0 L2128.5,2322.2 L2130.0,2322.3 L2131.5,2322.5 L2133.0,2322.7 L2134.5,2322.8 L2136.0,2323.0 L2137.5,2323.1 L2139.0,2323.3 L2140.5,2323.5 L2142.0,2323.6 L2143.5,2323.8 L2145.0,2324.0 L2146.5,2324.1 L2148.0,2324.3 L2149.5,2324.4 L2151.0,2324.6 L2152.5,2324.8 L2154.0,2324.9 L2155.5,2325.1 L2157.0,2325.3 L2158.5,2325.4 L2160.0,2325.6 L2161.5,2325.8 L2163.0,2325.9 L2164.5,2326.1 L2166.0,2326.2 L2167.5,2326.4 L2169.0,2326.6 L2170.5,2326.7 L2172.0,2326.9 L2173.5,2327.1 L2175.0,2327.2 L2176.5,2327.4 L2178.0,2327.6 L2179.5,2327.7 L2181.0,2327.9 L2182.5,2328.0 L2184.0,2328.2 L2185.5,2328.4 L2187.0,2328.5 L2188.5,2328.7 L2190.0,2328.9 L2191.5,2329.0 L2193.0,2329.2 L2194.5,2329.3 L2196.0,2329.5 L2197.5,2329.7 L2199.0,2329.8 L2200.5,2330.0 L2202.0,2330.2 L2203.5,2330.3 L2205.0,2330.5 L2206.5,2330.7 L2208.0,2330.8 L2209.5,2331.0 L2211.0,2331.1 L2212.5,2331.3 L2214.0,2331.5 L2215.5,2331.6 L2217.0,2331.8 L2218.5,2332.0 L2220.0,2332.1 L2221.5,2332.3 L2223.0,2332.4 L2224.5,2332.6 L2226.0,2332.8 L2227.5,2332.9 L2229.0,2333.1 L2230.5,2333.3 L2232.0,2333.4 L2233.5,2333.6 L2235.0,2333.8 L2236.5,2333.9 L2238.0,2334.1 L2239.5,2334.2 L2241.0,2334.4 L2242.5,2334.6 L2244.0,2334.7 L2245.5,2334.9 L2247.0,2335.1 L2248.5,2335.2 L2250.0,2335.4 L2251.5,2335.6 L2253.0,2335.7 L2254.5,2335.9 L2256.0,2336.0 L2257.5,2336.2 L2259.0,2336.4 L2260.5,2336.5 L2262.0,2336.7 L2263.5,2336.9 L2265.0,2337.0 L2266.5,2337.2 L2268.0,2337.3 L2269.5,2337.5 L2271.0,2337.7 L2272.5,2337.8 L2274.0,2338.0 L2275.5,2338.2 L2277.0,2338.3 L2278.5,2338.5 L2280.0,2338.7 L2281.5,2338.8 L2283.0,2339.0 L2284.5,2339.1 L2286.0,2339.3 L2287.5,2339.5 L2289.0,2339.6 L2290.5,2339.8 L2292.0,2340.0 L2293.5,2340.1 L2295.0,2340.3 L2296.5,2340.4 L2298.0,2340.6 L2299.5,2340.8 L2301.0,2340.9 L2302.5,2341.1 L2304.0,2341.3 L2305.5,2341.4 L2307.0,2341.6 L2308.5,2341.8 L2310.0,2341.9 L2311.5,2342.1 L2313.0,2342.2 L2314.5,2342.4 L2316.0,2342.6 L2317.5,2342.7 L2319.0,2342.9 L2320.5,2343.1 L2322.0,2343.2 L2323.5,2343.4 L2325.0,2343.6 L2326.5,2343.7 L2328.0,2343.9 L2329.5,2344.0 L2331.0,2344.2 L2332.5,2344.4 L2334.0,2344.5 L2335.5,2344.7 L2337.0,2344.9 L2338.5,2345.0 L2340.0,2345.2 L2341.5,2345.3 L2343.0,2345.5 L2344.5,2345.7 L2346.0,2345.8 L2347.5,2346.0 L2349.0,2346.2 L2350.5,2346.3 L2352.0,2346.5 L2353.5,2346.7 L2355.0,2346.8 L2356.5,2347.0 L2358.0,2347.1 L2359.5,2347.3 L2361.0,2347.5 L2362.5,2347.6 L2364.0,2347.8 L2365.5,2348.0 L2367.0,2348.1 L2368.5,2348.3 L2370.0,2348.4 L2371.5,2348.6 L2373.0,2348.8 L2374.5,2348.9 L2376.0,2349.1 L2377.5,2349.3 L2379.0,2349.4 L2380.5,2349.6 L2382.0,2349.8 L2383.5,2349.9 L2385.0,2350.1 L2386.5,2350.2 L2388.0,2350.4 L2389.5,2350.6 L2391.0,2350.7 L2392.5,2350.9 L2394.0,2351.1 L2395.5,2351.2 L2397.0,2351.4 L2398.5,2351.6 L2400.0,2351.7 L2401.5,2351.9 L2403.0,2352.0 L2404.5,2352.2 L2406.0,2352.4 L2407.5,2352.5 L2409.0,2352.7 L2410.5,2352.9 L2412.0,2353.0 L2413.5,2353.2 L2415.0,2353.3 L2416.5,2353.5 L2418.0,2353.7 L2419.5,2353.8 L2421.0,2354.0 L2422.5,2354.2 L2424.0,2354.3 L2425.5,2354.5" fill="none" stroke="#00FF00" stroke-width="8" stroke-linejoin="round" stroke-linecap="round"/>
<path d="M1392.0,2235.5 L1393.5,2235.6 L1395.0,2235.8 L1396.5,2235.9 L1398.0,2236.0 L1399.5,2236.2 L1401.0,2236.3 L1402.5,2236.4 L1404.0,2236.6 L1405.5,2236.7 L1407.0,2236.8 L1408.5,2237.0 L1410.0,2237.1 L1411.5,2237.2 L1413.0,2237.4 L1414.5,2237.5 L1416.0,2237.6 L1417.5,2237.8 L1419.0,2237.9 L1420.5,2238.0 L1422.0,2238.2 L1423.5,2238.3 L1425.0,2238.4 L1426.5,2238.5 L1428.0,2238.7 L1429.5,2238.8 L1431.0,2238.9 L1432.5,2239.1 L1434.0,2239.2 L1435.5,2239.3 L1437.0,2239.4 L1438.5,2239.6 L1440.0,2239.7 L1441.5,2239.8 L1443.0,2239.9 L1444.5,2240.1 L1446.0,2240.2 L1447.5,2240.3 L1449.0,2240.4 L1450.5,2240.6 L1452.0,2240.7 L1453.5,2240.8 L1455.0,2240.9 L1456.5,2241.1 L1458.0,2241.2 L1459.5,2241.3 L1461.0,2241.4 L1462.5,2241.6 L1464.0,2241.7 L1465.5,2241.8 L1467.0,2241.9 L1468.5,2242.0 L1470.0,2242.2 L1471.5,2242.3 L1473.0,2242.4 L1474.5,2242.5 L1476.0,2242.6 L1477.5,2242.8 L1479.0,2242.9 L1480.5,2243.0 L1482.0,2243.1 L1483.5,2243.2 L1485.0,2243.3 L1486.5,2243.5 L1488.0,2243.6 L1489.5,2243.7 L1491.0,2243.8 L1492.5,2243.9 L1494.0,2244.0 L1495.5,2244.2 L1497.0,2244.3 L1498.5,2244.4 L1500.0,2244.5 L1501.5,2244.6 L1503.0,2244.7 L1504.5,2244.9 L1506.0,2245.0 L1507.5,2245.1 L1509.0,2245.2 L1510.5,2245.3 L1512.0,2245.4 L1513.5,2245.5 L1515.0,2245.6 L1516.5,2245.8 L1518.0,2245.9 L1519.5,2246.0 L1521.0,2246.1 L1522.5,2246.2 L1524.0,2246.3 L1525.5,2246.4 L1527.0,2246.5 L1528.5,2246.6 L1530.0,2246.7 L1531.5,2246.8 L1533.0,2247.0 L1534.5,2247.1 L1536.0,2247.2 L1537.5,2247.3 L1539.0,2247.4 L1540.5,2247.5 L1542.0,2247.6 L1543.5,2247.7 L1545.0,2247.8 L1546.5,2247.9 L1548.0,2248.0 L1549.5,2248.1 L1551.0,2248.2 L1552.5,2248.4 L1554.0,2248.5 L1555.5,2248.6 L1557.0,2248.7 L1558.5,2248.8 L1560.0,2248.9 L1561.5,2249.1 L1563.0,2249.2 L1564.5,2249.3 L1566.0,2249.4 L1567.5,2249.5 L1569.0,2249.7 L1570.5,2249.8 L1572.0,2249.9 L1573.5,2250.0 L1575.0,2250.2 L1576.5,2250.3 L1578.0,2250.4 L1579.5,2250.5 L1581.0,2250.7 L1582.5,2250.8 L1584.0,2250.9 L1585.5,2251.0 L1587.0,2251.2 L1588.5,2251.3 L1590.0,2251.4 L1591.5,2251.5 L1593.0,2251.7 L1594.5,2251.8 L1596.0,2251.9 L1597.5,2252.0 L1599.0,2252.1 L1600.5,2252.3 L1602.0,2252.4 L1603.5,2252.5 L1605.0,2252.6 L1606.5,2252.7 L1608.0,2252.9 L1609.5,2253.0 L1611.0,2253.1 L1612.5,2253.2 L1614.0,2253.3 L1615.5,2253.4 L1617.0,2253.5 L1618.5,2253.6 L1620.0,2253.7 L1621.5,2253.8 L1623.0,2253.9 L1624.5,2254.0 L1626.0,2254.1 L1627.5,2254.2 L1629.0,2254.3 L1630.5,2254.4 L1632.0,2254.5 L1633.5,2254.6 L1635.0,2254.7 L1636.5,2254.7 L1638.0,2254.8 L1639.5,2254.9 L1641.0,2255.0 L1642.5,2255.0 L1644.0,2255.1 L1645.5,2255.2 L1647.0,2255.2 L1648.5,2255.3 L1650.0,2255.4 L1651.5,2255.4 L1653.0,2255.5 L1654.5,2255.5 L1656.0,2255.6 L1657.5,2255.6 L1659.0,2255.6 L1660.5,2255.7 L1662.0,2255.7 L1663.5,2255.7 L1665.0,2255.7 L1666.5,2255.8 L1668.0,2255.8 L1669.5,2255.8 L1671.0,2255.8 L1672.5,2255.8 L1674.0,2255.8 L1675.5,2255.8 L1677.0,2255.8 L1678.5,2255.8 L1680.0,2255.7 L1681.5,2255.7 L1683.0,2255.7 L1684.5,2255.7 L1686.0,2255.6 L1687.5,2255.6 L1689.0,2255.5 L1690.5,2255.5 L1692.0,2255.4 L1693.5,2255.4 L1695.0,2255.3 L1696.5,2255.3 L1698.0,2255.2 L1699.5,2255.1 L1701.0,2255.1 L1702.5,2255.0 L1704.0,2254.9 L1705.5,2254.8 L1707.0,2254.7 L1708.5,2254.6 L1710.0,2254.6 L1711.5,2254.5 L1713.0,2254.4 L1714.5,2254.3 L1716.0,2254.2 L1717.5,2254.1 L1719.0,2254.0 L1720.5,2253.9 L1722.0,2253.8 L1723.5,2253.6 L1725.0,2253.5 L1726.5,2253.4 L1728.0,2253.3 L1729.5,2253.2 L1731.0,2253.1 L1732.5,2252.9 L1734.0,2252.8 L1735.5,2252.7 L1737.0,2252.6 L1738.5,2252.5 L1740.0,2252.3 L1741.5,2252.2 L1743.0,2252.0 L1744.5,2251.8 L1746.0,2251.6 L1747.5,2251.4 L1749.0,2251.2 L1750.5,2251.0 L1752.0,2250.7 L1753.5,2250.5 L1755.0,2250.2 L1756.5,2250.0 L1758.0,2249.7 L1759.5,2249.4 L1761.0,2249.1 L1762.5,2248.8 L1764.0,2248.5 L1765.5,2248.2 L1767.0,2247.8 L1768.5,2247.5 L1770.0,2247.1 L1771.5,2246.8 L1773.0,2246.4 L1774.5,2246.0 L1776.0,2245.6 L1777.5,2245.2 L1779.0,2244.8 L1780.5,2244.4 L1782.0,2244.0 L1783.5,2243.6 L1785.0,2243.1 L1786.5,2242.7 L1788.0,2242.2 L1789.5,2241.8 L1791.0,2241.3 L1792.5,2240.9 L1794.0,2240.4 L1795.5,2239.9 L1797.0,2239.4 L1798.5,2238.9 L1800.0,2238.4 L1801.5,2237.9 L1803.0,2237.4 L1804.5,2236.9 L1806.0,2236.3 L1807.5,2235.7 L1809.0,2235.1 L1810.5,2234.4 L1812.0,2233.7 L1813.5,2233.1 L1815.0,2232.3 L1816.5,2231.6 L1818.0,2230.8 L1819.5,2230.0 L1821.0,2229.2 L1822.5,2228.4 L1824.0,2227.5 L1825.5,2226.6 L1827.0,2225.7 L1828.5,2224.7 L1830.0,2223.8 L1831.5,2222.8 L1833.0,2221.7 L1834.5,2220.7 L1836.0,2219.6 L1837.5,2218.5 L1839.0,2217.4 L1840.5,2216.2 L1842.0,2215.0 L1843.5,2213.8 L1845.0,2212.6 L1846.5,2211.3 L1848.0,2210.0 L1849.5,2208.7 L1851.0,2207.3 L1852.5,2205.8 L1854.0,2204.2 L1855.5,2202.5 L1857.0,2200.7 L1858.5,2198.9 L1860.0,2196.9 L1861.5,2194.9 L1863.0,2192.8 L1864.5,2190.6 L1866.0,2188.3 L1867.5,2185.9 L1869.0,2183.5 L1870.5,2180.9 L1872.0,2178.3 L1873.5,2175.6 L1875.0,2172.8 L1876.5,2169.9 L1878.0,2166.9 L1879.5,2163.9 L1881.0,2160.8 L1882.5,2157.4 L1884.0,2153.8 L1885.5,2150.0 L1887.0,2145.9 L1888.5,2141.5 L1890.0,2137.0 L1891.5,2132.2 L1893.0,2127.1 L1894.5,2121.9 L1896.0,2116.4 L1897.5,2110.8 L1899.0,2104.9 L1900.5,2098.8 L1902.0,2092.6 L1903.5,2086.1 L1905.0,2078.9 L1906.5,2070.8 L1908.0,2062.0 L1909.5,2052.8 L1911.0,2043.4 L1912.5,2033.9 L1914.0,2024.6 L1915.5,2015.6 L1917.0,2007.1 L1918.5,1998.7 L1920.0,1990.1 L1921.5,1981.0 L1923.0,1971.2 L1924.5,1960.6 L1926.0,1949.5 L1927.5,1937.8 L1929.0,1926.0 L1930.5,1914.0 L1932.0,1901.9 L1933.5,1889.4 L1935.0,1876.6 L1936.5,1864.1 L1938.0,1852.0 L1939.5,1840.3 L1941.0,1828.7 L1942.5,1817.0 L1944.0,1805.0 L1945.5,1792.2 L1947.0,1778.7 L1948.5,1765.0 L1950.0,1752.0 L1951.5,1740.1 L1953.0,1728.9 L1954.5,1717.6 L1956.0,1705.5 L1957.5,1691.7 L1959.0,1676.2 L1960.5,1660.1 L1962.0,1644.8 L1963.5,1630.8 L1965.0,1617.5 L1966.5,1604.7 L1968.0,1592.4 L1969.5,1580.3 L1971.0,1568.2 L1972.5,1557.1 L1974.0,1548.0 L1975.5,1540.0 L1977.0,1532.3 L1978.5,1526.5 L1980.0,1524.0 L1981.5,1525.9 L1983.0,1531.1 L1984.5,1538.0 L1986.0,1545.0 L1987.5,1551.8 L1989.0,1559.4 L1990.5,1567.8 L1992.0,1577.0 L1993.5,1587.1 L1995.0,1598.9 L1996.5,1612.6 L1998.0,1627.7 L1999.5,1643.7 L2001.0,1660.0 L2002.5,1676.3 L2004.0,1692.0 L2005.5,1706.7 L2007.0,1720.8 L2008.5,1734.9 L2010.0,1748.9 L2011.5,1762.8 L2013.0,1776.3 L2014.5,1789.5 L2016.0,1802.3 L2017.5,1814.6 L2019.0,1826.3 L2020.5,1837.2 L2022.0,1847.2 L2023.5,1856.8 L2025.0,1866.3 L2026.5,1876.0 L2028.0,1886.3 L2029.5,1897.3 L2031.0,1909.6 L2032.5,1923.7 L2034.0,1938.9 L2035.5,1954.6 L2037.0,1970.1 L2038.5,1984.7 L2040.0,1997.7 L2041.5,2009.0 L2043.0,2019.9 L2044.5,2030.2 L2046.0,2040.1 L2047.5,2049.4 L2049.0,2058.4 L2050.5,2066.9 L2052.0,2074.9 L2053.5,2082.6 L2055.0,2089.9 L2056.5,2096.9 L2058.0,2103.5 L2059.5,2109.9 L2061.0,2116.1 L2062.5,2122.1 L2064.0,2127.9 L2065.5,2133.6 L2067.0,2139.2 L2068.5,2144.8 L2070.0,2150.3 L2071.5,2155.9 L2073.0,2161.3 L2074.5,2166.7 L2076.0,2172.0 L2077.5,2177.0 L2079.0,2181.9 L2080.5,2186.5 L2082.0,2190.9 L2083.5,2194.9 L2085.0,2198.6 L2086.5,2202.2 L2088.0,2205.6 L2089.5,2208.8 L2091.0,2212.0 L2092.5,2215.0 L2094.0,2217.8 L2095.5,2220.6 L2097.0,2223.4 L2098.5,2226.0 L2100.0,2228.6 L2101.5,2231.2 L2103.0,2233.7 L2104.5,2236.2 L2106.0,2238.6 L2107.5,2241.0 L2109.0,2243.4 L2110.5,2245.6 L2112.0,2247.8 L2113.5,2250.0 L2115.0,2252.0 L2116.5,2253.9 L2118.0,2255.7 L2119.5,2257.5 L2121.0,2259.1 L2122.5,2260.6 L2124.0,2262.1 L2125.5,2263.6 L2127.0,2265.0 L2128.5,2266.4 L2130.0,2267.7 L2131.5,2268.9 L2133.0,2270.1 L2134.5,2271.3 L2136.0,2272.4 L2137.5,2273.4 L2139.0,2274.4 L2140.5,2275.3 L2142.0,2276.2 L2143.5,2277.0 L2145.0,2277.9 L2146.5,2278.7 L2148.0,2279.4 L2149.5,2280.2 L2151.0,2280.9 L2152.5,2281.6 L2154.0,2282.3 L2155.5,2282.9 L2157.0,2283.5 L2158.5,2284.2 L2160.0,2284.8 L2161.5,2285.4 L2163.0,2286.0 L2164.5,2286.5 L2166.0,2287.1 L2167.5,2287.7 L2169.0,2288.2 L2170.5,2288.8 L2172.0,2289.3 L2173.5,2289.9 L2175.0,2290.4 L2176.5,2291.0 L2178.0,2291.5 L2179.5,2292.0 L2181.0,2292.5 L2182.5,2293.0 L2184.0,2293.6 L2185.5,2294.1 L2187.0,2294.6 L2188.5,2295.0 L2190.0,2295.5 L2191.5,2296.0 L2193.0,2296.5 L2194.5,2297.0 L2196.0,2297.4 L2197.5,2297.9 L2199.0,2298.4 L2200.5,2298.8 L2202.0,2299.3 L2203.5,2299.7 L2205.0,2300.2 L2206.5,2300.6 L2208.0,2301.1 L2209.5,2301.5 L2211.0,2301.9 L2212.5,2302.4 L2214.0,2302.8 L2215.5,2303.2 L2217.0,2303.6 L2218.5,2304.0 L2220.0,2304.4 L2221.5,2304.9 L2223.0,2305.3 L2224.5,2305.7 L2226.0,2306.1 L2227.5,2306.4 L2229.0,2306.8 L2230.5,2307.2 L2232.0,2307.6 L2233.5,2308.0 L2235.0,2308.4 L2236.5,2308.7 L2238.0,2309.1 L2239.5,2309.5 L2241.0,2309.9 L2242.5,2310.2 L2244.0,2310.6 L2245.5,2310.9 L2247.0,2311.3 L2248.5,2311.7 L2250.0,2312.0 L2251.5,2312.4 L2253.0,2312.7 L2254.5,2313.0 L2256.0,2313.4 L2257.5,2313.7 L2259.0,2314.1 L2260.5,2314.4 L2262.0,2314.7 L2263.5,2315.0 L2265.0,2315.4 L2266.5,2315.7 L2268.0,2316.0 L2269.5,2316.3 L2271.0,2316.6 L2272.5,2316.9 L2274.0,2317.3 L2275.5,2317.6 L2277.0,2317.9 L2278.5,2318.2 L2280.0,2318.5 L2281.5,2318.8 L2283.0,2319.1 L2284.5,2319.4 L2286.0,2319.7 L2287.5,2319.9 L2289.0,2320.2 L2290.5,2320.5 L2292.0,2320.8 L2293.5,2321.1 L2295.0,2321.4 L2296.5,2321.7 L2298.0,2321.9 L2299.5,2322.2 L2301.0,2322.5 L2302.5,2322.8 L2304.0,2323.1 L2305.5,2323.3 L2307.0,2323.6 L2308.5,2323.9 L2310.0,2324.1 L2311.5,2324.4 L2313.0,2324.7 L2314.5,2325.0 L2316.0,2325.2 L2317.5,2325.5 L2319.0,2325.8 L2320.5,2326.0 L2322.0,2326.3 L2323.5,2326.6 L2325.0,2326.8 L2326.5,2327.1 L2328.0,2327.4 L2329.5,2327.6 L2331.0,2327.9 L2332.5,2328.2 L2334.0,2328.4 L2335.5,2328.7 L2337.0,2328.9 L2338.5,2329.2 L2340.0,2329.5 L2341.5,2329.7 L2343.0,2330.0 L2344.5,2330.2 L2346.0,2330.5 L2347.5,2330.8 L2349.0,2331.0 L2350.5,2331.3 L2352.0,2331.5 L2353.5,2331.8 L2355.0,2332.0 L2356.5,2332.3 L2358.0,2332.5 L2359.5,2332.8 L2361.0,2333.0 L2362.5,2333.3 L2364.0,2333.5 L2365.5,2333.8 L2367.0,2334.0 L2368.5,2334.3 L2370.0,2334.5 L2371.5,2334.7 L2373.0,2335.0 L2374.5,2335.2 L2376.0,2335.5 L2377.5,2335.7 L2379.0,2335.9 L2380.5,2336.2 L2382.0,2336.4 L2383.5,2336.6 L2385.0,2336.9 L2386.5,2337.1 L2388.0,2337.3 L2389.5,2337.6 L2391.0,2337.8 L2392.5,2338.0 L2394.0,2338.3 L2395.5,2338.5 L2397.0,2338.7 L2398.5,2338.9 L2400.0,2339.2 L2401.5,2339.4 L2403.0,2339.6 L2404.5,2339.8 L2406.0,2340.0 L2407.5,2340.3 L2409.0,2340.5 L2410.5,2340.7 L2412.0,2340.9 L2413.5,2341.1 L2415.0,2341.3 L2416.5,2341.5 L2418.0,2341.8 L2419.5,2342.0 L2421.0,2342.2 L2422.5,2342.4 L2424.0,2342.6 L2425.5,2342.8" fill="none" stroke="#FF6600" stroke-width="9.5" stroke-linejoin="round" stroke-linecap="round"/>
<path d="M1392.0,2238.3 L1393.5,2238.4 L1395.0,2238.6 L1396.5,2238.8 L1398.0,2238.9 L1399.5,2239.1 L1401.0,2239.2 L1402.5,2239.4 L1404.0,2239.5 L1405.5,2239.7 L1407.0,2239.8 L1408.5,2240.0 L1410.0,2240.1 L1411.5,2240.3 L1413.0,2240.5 L1414.5,2240.6 L1416.0,2240.8 L1417.5,2240.9 L1419.0,2241.1 L1420.5,2241.2 L1422.0,2241.4 L1423.5,2241.5 L1425.0,2241.7 L1426.5,2241.9 L1428.0,2242.0 L1429.5,2242.2 L1431.0,2242.3 L1432.5,2242.5 L1434.0,2242.6 L1435.5,2242.8 L1437.0,2242.9 L1438.5,2243.1 L1440.0,2243.2 L1441.5,2243.4 L1443.0,2243.6 L1444.5,2243.7 L1446.0,2243.9 L1447.5,2244.0 L1449.0,2244.2 L1450.5,2244.3 L1452.0,2244.5 L1453.5,2244.6 L1455.0,2244.8 L1456.5,2244.9 L1458.0,2245.1 L1459.5,2245.2 L1461.0,2245.4 L1462.5,2245.5 L1464.0,2245.7 L1465.5,2245.9 L1467.0,2246.0 L1468.5,2246.2 L1470.0,2246.3 L1471.5,2246.5 L1473.0,2246.6 L1474.5,2246.8 L1476.0,2246.9 L1477.5,2247.1 L1479.0,2247.2 L1480.5,2247.4 L1482.0,2247.5 L1483.5,2247.7 L1485.0,2247.8 L1486.5,2248.0 L1488.0,2248.1 L1489.5,2248.3 L1491.0,2248.5 L1492.5,2248.6 L1494.0,2248.8 L1495.5,2248.9 L1497.0,2249.1 L1498.5,2249.2 L1500.0,2249.4 L1501.5,2249.5 L1503.0,2249.7 L1504.5,2249.8 L1506.0,2250.0 L1507.5,2250.1 L1509.0,2250.3 L1510.5,2250.4 L1512.0,2250.6 L1513.5,2250.7 L1515.0,2250.9 L1516.5,2251.0 L1518.0,2251.2 L1519.5,2251.3 L1521.0,2251.5 L1522.5,2251.6 L1524.0,2251.8 L1525.5,2251.9 L1527.0,2252.1 L1528.5,2252.2 L1530.0,2252.4 L1531.5,2252.5 L1533.0,2252.7 L1534.5,2252.8 L1536.0,2253.0 L1537.5,2253.1 L1539.0,2253.3 L1540.5,2253.4 L1542.0,2253.6 L1543.5,2253.7 L1545.0,2253.9 L1546.5,2254.0 L1548.0,2254.2 L1549.5,2254.3 L1551.0,2254.5 L1552.5,2254.6 L1554.0,2254.8 L1555.5,2254.9 L1557.0,2255.1 L1558.5,2255.2 L1560.0,2255.4 L1561.5,2255.5 L1563.0,2255.7 L1564.5,2255.8 L1566.0,2256.0 L1567.5,2256.1 L1569.0,2256.2 L1570.5,2256.4 L1572.0,2256.5 L1573.5,2256.7 L1575.0,2256.8 L1576.5,2257.0 L1578.0,2257.1 L1579.5,2257.3 L1581.0,2257.4 L1582.5,2257.6 L1584.0,2257.7 L1585.5,2257.9 L1587.0,2258.0 L1588.5,2258.1 L1590.0,2258.3 L1591.5,2258.4 L1593.0,2258.6 L1594.5,2258.7 L1596.0,2258.9 L1597.5,2259.0 L1599.0,2259.2 L1600.5,2259.3 L1602.0,2259.5 L1603.5,2259.6 L1605.0,2259.7 L1606.5,2259.9 L1608.0,2260.0 L1609.5,2260.2 L1611.0,2260.3 L1612.5,2260.5 L1614.0,2260.6 L1615.5,2260.7 L1617.0,2260.9 L1618.5,2261.0 L1620.0,2261.2 L1621.5,2261.3 L1623.0,2261.4 L1624.5,2261.6 L1626.0,2261.7 L1627.5,2261.9 L1629.0,2262.0 L1630.5,2262.2 L1632.0,2262.3 L1633.5,2262.4 L1635.0,2262.6 L1636.5,2262.7 L1638.0,2262.8 L1639.5,2263.0 L1641.0,2263.1 L1642.5,2263.3 L1644.0,2263.4 L1645.5,2263.5 L1647.0,2263.7 L1648.5,2263.8 L1650.0,2264.0 L1651.5,2264.1 L1653.0,2264.2 L1654.5,2264.4 L1656.0,2264.5 L1657.5,2264.6 L1659.0,2264.8 L1660.5,2264.9 L1662.0,2265.0 L1663.5,2265.2 L1665.0,2265.3 L1666.5,2265.4 L1668.0,2265.6 L1669.5,2265.7 L1671.0,2265.8 L1672.5,2266.0 L1674.0,2266.1 L1675.5,2266.2 L1677.0,2266.4 L1678.5,2266.5 L1680.0,2266.6 L1681.5,2266.8 L1683.0,2266.9 L1684.5,2267.0 L1686.0,2267.1 L1687.5,2267.3 L1689.0,2267.4 L1690.5,2267.5 L1692.0,2267.7 L1693.5,2267.8 L1695.0,2267.9 L1696.5,2268.0 L1698.0,2268.2 L1699.5,2268.3 L1701.0,2268.4 L1702.5,2268.5 L1704.0,2268.7 L1705.5,2268.8 L1707.0,2268.9 L1708.5,2269.0 L1710.0,2269.2 L1711.5,2269.3 L1713.0,2269.4 L1714.5,2269.5 L1716.0,2269.6 L1717.5,2269.8 L1719.0,2269.9 L1720.5,2270.0 L1722.0,2270.1 L1723.5,2270.2 L1725.0,2270.3 L1726.5,2270.5 L1728.0,2270.6 L1729.5,2270.7 L1731.0,2270.8 L1732.5,2270.9 L1734.0,2271.0 L1735.5,2271.1 L1737.0,2271.3 L1738.5,2271.4 L1740.0,2271.5 L1741.5,2271.6 L1743.0,2271.7 L1744.5,2271.8 L1746.0,2271.9 L1747.5,2272.0 L1749.0,2272.1 L1750.5,2272.2 L1752.0,2272.3 L1753.5,2272.4 L1755.0,2272.5 L1756.5,2272.6 L1758.0,2272.7 L1759.5,2272.8 L1761.0,2272.9 L1762.5,2273.0 L1764.0,2273.1 L1765.5,2273.2 L1767.0,2273.3 L1768.5,2273.4 L1770.0,2273.5 L1771.5,2273.6 L1773.0,2273.7 L1774.5,2273.7 L1776.0,2273.8 L1777.5,2273.9 L1779.0,2274.0 L1780.5,2274.1 L1782.0,2274.2 L1783.5,2274.2 L1785.0,2274.3 L1786.5,2274.4 L1788.0,2274.5 L1789.5,2274.6 L1791.0,2274.6 L1792.5,2274.7 L1794.0,2274.8 L1795.5,2274.8 L1797.0,2274.9 L1798.5,2275.0 L1800.0,2275.0 L1801.5,2275.1 L1803.0,2275.1 L1804.5,2275.2 L1806.0,2275.3 L1807.5,2275.3 L1809.0,2275.4 L1810.5,2275.4 L1812.0,2275.5 L1813.5,2275.5 L1815.0,2275.6 L1816.5,2275.6 L1818.0,2275.6 L1819.5,2275.7 L1821.0,2275.7 L1822.5,2275.7 L1824.0,2275.8 L1825.5,2275.8 L1827.0,2275.8 L1828.5,2275.8 L1830.0,2275.8 L1831.5,2275.9 L1833.0,2275.9 L1834.5,2275.9 L1836.0,2275.9 L1837.5,2275.9 L1839.0,2275.9 L1840.5,2275.9 L1842.0,2275.9 L1843.5,2275.9 L1845.0,2275.8 L1846.5,2275.8 L1848.0,2275.8 L1849.5,2275.8 L1851.0,2275.7 L1852.5,2275.7 L1854.0,2275.7 L1855.5,2275.6 L1857.0,2275.6 L1858.5,2275.5 L1860.0,2275.5 L1861.5,2275.4 L1863.0,2275.3 L1864.5,2275.2 L1866.0,2275.2 L1867.5,2275.1 L1869.0,2275.0 L1870.5,2274.9 L1872.0,2274.8 L1873.5,2274.7 L1875.0,2274.5 L1876.5,2274.4 L1878.0,2274.3 L1879.5,2274.1 L1881.0,2274.0 L1882.5,2273.8 L1884.0,2273.7 L1885.5,2273.5 L1887.0,2273.3 L1888.5,2273.1 L1890.0,2272.9 L1891.5,2272.7 L1893.0,2272.5 L1894.5,2272.2 L1896.0,2272.0 L1897.5,2271.7 L1899.0,2271.4 L1900.5,2271.2 L1902.0,2270.9 L1903.5,2270.5 L1905.0,2270.2 L1906.5,2269.9 L1908.0,2269.5 L1909.5,2269.1 L1911.0,2268.7 L1912.5,2268.3 L1914.0,2267.8 L1915.5,2267.4 L1917.0,2266.9 L1918.5,2266.4 L1920.0,2265.8 L1921.5,2265.3 L1923.0,2264.7 L1924.5,2264.0 L1926.0,2263.3 L1927.5,2262.6 L1929.0,2261.9 L1930.5,2261.1 L1932.0,2260.3 L1933.5,2259.4 L1935.0,2258.4 L1936.5,2257.4 L1938.0,2256.4 L1939.5,2255.3 L1941.0,2254.1 L1942.5,2252.8 L1944.0,2251.4 L1945.5,2250.0 L1947.0,2248.5 L1948.5,2246.9 L1950.0,2245.1 L1951.5,2243.3 L1953.0,2241.3 L1954.5,2239.2 L1956.0,2237.0 L1957.5,2234.7 L1959.0,2232.1 L1960.5,2229.5 L1962.0,2226.6 L1963.5,2223.6 L1965.0,2220.4 L1966.5,2217.0 L1968.0,2213.4 L1969.5,2209.6 L1971.0,2205.5 L1972.5,2201.2 L1974.0,2196.7 L1975.5,2191.9 L1977.0,2186.9 L1978.5,2181.6 L1980.0,2176.0 L1981.5,2170.1 L1983.0,2164.0 L1984.5,2157.5 L1986.0,2150.8 L1987.5,2143.7 L1989.0,2136.3 L1990.5,2128.6 L1992.0,2120.6 L1993.5,2112.3 L1995.0,2103.7 L1996.5,2094.8 L1998.0,2085.5 L1999.5,2076.0 L2001.0,2066.2 L2002.5,2056.1 L2004.0,2045.8 L2005.5,2035.2 L2007.0,2024.5 L2008.5,2013.5 L2010.0,2002.4 L2011.5,1991.1 L2013.0,1979.8 L2014.5,1968.4 L2016.0,1957.0 L2017.5,1945.7 L2019.0,1934.5 L2020.5,1923.5 L2022.0,1912.7 L2023.5,1902.3 L2025.0,1892.3 L2026.5,1882.7 L2028.0,1873.8 L2029.5,1865.5 L2031.0,1857.9 L2032.5,1851.2 L2034.0,1845.4 L2035.5,1840.5 L2037.0,1836.7 L2038.5,1834.0 L2040.0,1832.4 L2041.5,1832.0 L2043.0,1832.7 L2044.5,1834.5 L2046.0,1837.5 L2047.5,1841.6 L2049.0,1846.7 L2050.5,1852.8 L2052.0,1859.8 L2053.5,1867.7 L2055.0,1876.3 L2056.5,1885.5 L2058.0,1895.4 L2059.5,1905.7 L2061.0,1916.4 L2062.5,1927.5 L2064.0,1938.8 L2065.5,1950.4 L2067.0,1962.0 L2068.5,1973.7 L2070.0,1985.4 L2071.5,1997.1 L2073.0,2008.7 L2074.5,2020.1 L2076.0,2031.4 L2077.5,2042.5 L2079.0,2053.4 L2080.5,2064.1 L2082.0,2074.5 L2083.5,2084.6 L2085.0,2094.5 L2086.5,2104.1 L2088.0,2113.3 L2089.5,2122.3 L2091.0,2130.9 L2092.5,2139.3 L2094.0,2147.3 L2095.5,2155.0 L2097.0,2162.4 L2098.5,2169.5 L2100.0,2176.3 L2101.5,2182.8 L2103.0,2189.0 L2104.5,2194.9 L2106.0,2200.6 L2107.5,2205.9 L2109.0,2211.0 L2110.5,2215.9 L2112.0,2220.5 L2113.5,2224.9 L2115.0,2229.0 L2116.5,2233.0 L2118.0,2236.7 L2119.5,2240.2 L2121.0,2243.6 L2122.5,2246.8 L2124.0,2249.8 L2125.5,2252.6 L2127.0,2255.3 L2128.5,2257.8 L2130.0,2260.3 L2131.5,2262.5 L2133.0,2264.7 L2134.5,2266.8 L2136.0,2268.7 L2137.5,2270.6 L2139.0,2272.3 L2140.5,2274.0 L2142.0,2275.6 L2143.5,2277.1 L2145.0,2278.6 L2146.5,2279.9 L2148.0,2281.3 L2149.5,2282.5 L2151.0,2283.7 L2152.5,2284.9 L2154.0,2286.0 L2155.5,2287.1 L2157.0,2288.1 L2158.5,2289.1 L2160.0,2290.1 L2161.5,2291.0 L2163.0,2291.9 L2164.5,2292.7 L2166.0,2293.6 L2167.5,2294.4 L2169.0,2295.2 L2170.5,2296.0 L2172.0,2296.7 L2173.5,2297.4 L2175.0,2298.1 L2176.5,2298.8 L2178.0,2299.5 L2179.5,2300.1 L2181.0,2300.8 L2182.5,2301.4 L2184.0,2302.0 L2185.5,2302.6 L2187.0,2303.2 L2188.5,2303.8 L2190.0,2304.3 L2191.5,2304.9 L2193.0,2305.4 L2194.5,2305.9 L2196.0,2306.4 L2197.5,2307.0 L2199.0,2307.5 L2200.5,2307.9 L2202.0,2308.4 L2203.5,2308.9 L2205.0,2309.4 L2206.5,2309.8 L2208.0,2310.3 L2209.5,2310.7 L2211.0,2311.1 L2212.5,2311.6 L2214.0,2312.0 L2215.5,2312.4 L2217.0,2312.8 L2218.5,2313.2 L2220.0,2313.6 L2221.5,2314.0 L2223.0,2314.4 L2224.5,2314.8 L2226.0,2315.2 L2227.5,2315.5 L2229.0,2315.9 L2230.5,2316.3 L2232.0,2316.6 L2233.5,2317.0 L2235.0,2317.3 L2236.5,2317.7 L2238.0,2318.0 L2239.5,2318.3 L2241.0,2318.7 L2242.5,2319.0 L2244.0,2319.3 L2245.5,2319.7 L2247.0,2320.0 L2248.5,2320.3 L2250.0,2320.6 L2251.5,2320.9 L2253.0,2321.2 L2254.5,2321.5 L2256.0,2321.8 L2257.5,2322.1 L2259.0,2322.4 L2260.5,2322.7 L2262.0,2323.0 L2263.5,2323.3 L2265.0,2323.6 L2266.5,2323.9 L2268.0,2324.1 L2269.5,2324.4 L2271.0,2324.7 L2272.5,2325.0 L2274.0,2325.2 L2275.5,2325.5 L2277.0,2325.8 L2278.5,2326.1 L2280.0,2326.3 L2281.5,2326.6 L2283.0,2326.8 L2284.5,2327.1 L2286.0,2327.4 L2287.5,2327.6 L2289.0,2327.9 L2290.5,2328.1 L2292.0,2328.4 L2293.5,2328.6 L2295.0,2328.9 L2296.5,2329.1 L2298.0,2329.4 L2299.5,2329.6 L2301.0,2329.8 L2302.5,2330.1 L2304.0,2330.3 L2305.5,2330.6 L2307.0,2330.8 L2308.5,2331.0 L2310.0,2331.3 L2311.5,2331.5 L2313.0,2331.7 L2314.5,2332.0 L2316.0,2332.2 L2317.5,2332.4 L2319.0,2332.6 L2320.5,2332.9 L2322.0,2333.1 L2323.5,2333.3 L2325.0,2333.5 L2326.5,2333.8 L2328.0,2334.0 L2329.5,2334.2 L2331.0,2334.4 L2332.5,2334.6 L2334.0,2334.9 L2335.5,2335.1 L2337.0,2335.3 L2338.5,2335.5 L2340.0,2335.7 L2341.5,2335.9 L2343.0,2336.2 L2344.5,2336.4 L2346.0,2336.6 L2347.5,2336.8 L2349.0,2337.0 L2350.5,2337.2 L2352.0,2337.4 L2353.5,2337.6 L2355.0,2337.8 L2356.5,2338.0 L2358.0,2338.2 L2359.5,2338.5 L2361.0,2338.7 L2362.5,2338.9 L2364.0,2339.1 L2365.5,2339.3 L2367.0,2339.5 L2368.5,2339.7 L2370.0,2339.9 L2371.5,2340.1 L2373.0,2340.3 L2374.5,2340.5 L2376.0,2340.7 L2377.5,2340.9 L2379.0,2341.1 L2380.5,2341.3 L2382.0,2341.5 L2383.5,2341.7 L2385.0,2341.9 L2386.5,2342.1 L2388.0,2342.3 L2389.5,2342.4 L2391.0,2342.6 L2392.5,2342.8 L2394.0,2343.0 L2395.5,2343.2 L2397.0,2343.4 L2398.5,2343.6 L2400.0,2343.8 L2401.5,2344.0 L2403.0,2344.2 L2404.5,2344.4 L2406.0,2344.6 L2407.5,2344.8 L2409.0,2344.9 L2410.5,2345.1 L2412.0,2345.3 L2413.5,2345.5 L2415.0,2345.7 L2416.5,2345.9 L2418.0,2346.1 L2419.5,2346.3 L2421.0,2346.5 L2422.5,2346.6 L2424.0,2346.8 L2425.5,2347.0" fill="none" stroke="#AA66FF" stroke-width="9.5" stroke-linejoin="round" stroke-linecap="round"/>
<line x1="1875" y1="1533.1" x2="1959.4" y2="1583.5" stroke="#FF6600" stroke-width="9.5" stroke-linecap="round"/>
<line x1="2151.6" y1="1792.4" x2="2049.7" y2="1852.9" stroke="#AA66FF" stroke-width="9.5" stroke-linecap="round"/>
<text x="1710" y="1549.4" font-family="'Liberation Serif','Times New Roman',serif" font-weight="normal" font-size="86" fill="#FF6600">C-O</text>
<text x="2164.5" y="1798.7" font-family="'Liberation Serif','Times New Roman',serif" font-weight="normal" font-size="86" fill="#AA66FF">C=O</text>
<ellipse cx="125.4" cy="123.2" rx="101.1" ry="96.9" fill="#fff" stroke="#000" stroke-width="11"/>
<text transform="translate(122.6,182.2) scale(0.92,1)" font-family="'Liberation Sans',Arial,sans-serif" font-weight="bold" font-size="165" text-anchor="middle">a</text>
<ellipse cx="1363.3" cy="123.2" rx="101.1" ry="96.9" fill="#fff" stroke="#000" stroke-width="11"/>
<text transform="translate(1365.3,182.2) scale(0.92,1)" font-family="'Liberation Sans',Arial,sans-serif" font-weight="bold" font-size="165" text-anchor="middle">c</text>
<ellipse cx="125.4" cy="1390.5" rx="101.1" ry="96.9" fill="#fff" stroke="#000" stroke-width="11"/>
<text transform="translate(125.4,1450.5) scale(0.92,1)" font-family="'Liberation Sans',Arial,sans-serif" font-weight="bold" font-size="165" text-anchor="middle">b</text>
<ellipse cx="1363.3" cy="1390.5" rx="101.1" ry="96.9" fill="#fff" stroke="#000" stroke-width="11"/>
<text transform="translate(1362.3,1450.5) scale(0.92,1)" font-family="'Liberation Sans',Arial,sans-serif" font-weight="bold" font-size="165" text-anchor="middle">d</text></svg>
</body></html>
